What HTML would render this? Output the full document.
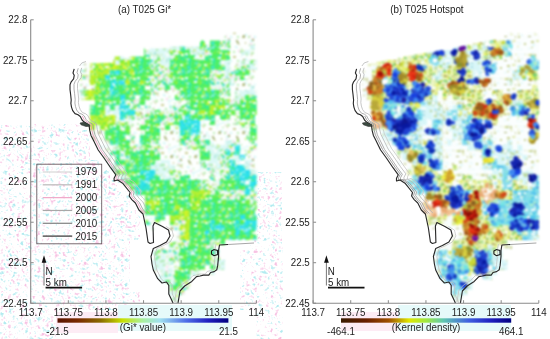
<!DOCTYPE html>
<html><head><meta charset="utf-8"><style>
html,body{margin:0;padding:0;background:#fff;width:550px;height:339px;overflow:hidden}
svg{display:block}
text{font-family:"Liberation Sans",sans-serif;font-size:9.8px;fill:#222}
</style></head><body>
<svg width="550" height="339" viewBox="0 0 550 339">
<defs><pattern id="L46" width="24" height="24" patternUnits="userSpaceOnUse"><rect width="24" height="24" fill="#fdfffe"/><rect x="2" y="12" width="1" height="2" fill="#c8cc90"/><rect x="20" y="16" width="2" height="2" fill="#a8b478"/><rect x="1" y="0" width="1" height="2" fill="#b8ecb0"/><rect x="0" y="4" width="2" height="2" fill="#d0f6f6"/><rect x="22" y="2" width="3" height="2" fill="#f8d8ea"/><rect x="11" y="4" width="3" height="2" fill="#b8ecb0"/><rect x="14" y="23" width="1" height="2" fill="#c8cc90"/><rect x="10" y="16" width="3" height="2" fill="#d0f6f6"/><rect x="4" y="3" width="2" height="1" fill="#d0f6f6"/><rect x="14" y="12" width="2" height="2" fill="#d0f6f6"/><rect x="11" y="6" width="1" height="2" fill="#c8cc90"/><rect x="19" y="22" width="2" height="1" fill="#d0f6f6"/><rect x="3" y="11" width="2" height="2" fill="#a8b478"/><rect x="21" y="18" width="2" height="2" fill="#a8b478"/><rect x="6" y="2" width="3" height="1" fill="#d0f6f6"/><rect x="5" y="18" width="1" height="2" fill="#c8cc90"/><rect x="9" y="12" width="1" height="2" fill="#b8ecb0"/><rect x="6" y="7" width="2" height="1" fill="#b8ecb0"/><rect x="12" y="14" width="2" height="1" fill="#f8d8ea"/><rect x="17" y="8" width="3" height="2" fill="#c8cc90"/><rect x="12" y="21" width="2" height="2" fill="#c8cc90"/><rect x="12" y="1" width="1" height="1" fill="#c8cc90"/><rect x="3" y="12" width="2" height="2" fill="#a8b478"/><rect x="10" y="1" width="3" height="1" fill="#d0f6f6"/><rect x="12" y="15" width="2" height="2" fill="#a8b478"/><rect x="1" y="7" width="1" height="2" fill="#d0f6f6"/><rect x="21" y="12" width="2" height="2" fill="#b8ecb0"/><rect x="19" y="23" width="3" height="1" fill="#d0f6f6"/><rect x="9" y="20" width="3" height="2" fill="#b8ecb0"/><rect x="2" y="4" width="2" height="1" fill="#d0f6f6"/><rect x="9" y="5" width="1" height="1" fill="#a8b478"/><rect x="23" y="20" width="3" height="1" fill="#c8cc90"/><rect x="17" y="3" width="2" height="2" fill="#b8ecb0"/><rect x="13" y="20" width="2" height="1" fill="#b8ecb0"/><rect x="10" y="19" width="2" height="2" fill="#f8d8ea"/><rect x="8" y="12" width="2" height="2" fill="#b8ecb0"/><rect x="5" y="10" width="2" height="2" fill="#d0f6f6"/><rect x="10" y="11" width="1" height="2" fill="#f8d8ea"/></pattern><pattern id="L99" width="24" height="24" patternUnits="userSpaceOnUse"><rect width="24" height="24" fill="#dcf8f6"/><rect x="12" y="12" width="2" height="2" fill="#b0eab0"/><rect x="7" y="7" width="2" height="1" fill="#d0eea8"/><rect x="23" y="12" width="1" height="2" fill="#ffffff"/><rect x="6" y="13" width="2" height="2" fill="#ffffff"/><rect x="21" y="6" width="2" height="2" fill="#a8e4d8"/><rect x="5" y="18" width="2" height="1" fill="#a8e4d8"/><rect x="16" y="21" width="1" height="2" fill="#d0eea8"/><rect x="12" y="1" width="2" height="2" fill="#b0eab0"/><rect x="13" y="6" width="2" height="2" fill="#b0eab0"/><rect x="14" y="16" width="2" height="2" fill="#ffffff"/><rect x="1" y="11" width="2" height="1" fill="#a8e4d8"/><rect x="5" y="23" width="3" height="2" fill="#b0eab0"/><rect x="16" y="21" width="2" height="1" fill="#b0eab0"/><rect x="0" y="5" width="3" height="2" fill="#ffffff"/><rect x="2" y="13" width="1" height="1" fill="#d0eea8"/><rect x="19" y="0" width="3" height="2" fill="#b0eab0"/><rect x="16" y="12" width="2" height="1" fill="#a8e4d8"/><rect x="6" y="14" width="2" height="2" fill="#ffffff"/><rect x="4" y="11" width="3" height="1" fill="#b0eab0"/><rect x="23" y="22" width="2" height="2" fill="#ffffff"/><rect x="3" y="3" width="1" height="1" fill="#d0eea8"/><rect x="5" y="5" width="3" height="1" fill="#b0eab0"/><rect x="17" y="10" width="3" height="1" fill="#d0eea8"/><rect x="3" y="11" width="2" height="2" fill="#b0eab0"/><rect x="16" y="9" width="1" height="2" fill="#b0eab0"/><rect x="10" y="6" width="3" height="2" fill="#d0eea8"/><rect x="12" y="12" width="3" height="2" fill="#ffffff"/><rect x="2" y="5" width="1" height="2" fill="#a8e4d8"/><rect x="12" y="14" width="2" height="2" fill="#a8e4d8"/><rect x="7" y="20" width="2" height="1" fill="#a8e4d8"/><rect x="23" y="10" width="2" height="2" fill="#a8e4d8"/><rect x="22" y="7" width="3" height="2" fill="#ffffff"/><rect x="2" y="14" width="3" height="2" fill="#b0eab0"/><rect x="16" y="9" width="2" height="2" fill="#ffffff"/><rect x="4" y="8" width="3" height="2" fill="#ffffff"/><rect x="21" y="19" width="2" height="2" fill="#ffffff"/><rect x="21" y="21" width="3" height="1" fill="#ffffff"/><rect x="10" y="6" width="2" height="1" fill="#a8e4d8"/><rect x="11" y="22" width="2" height="1" fill="#a8e4d8"/><rect x="21" y="5" width="2" height="2" fill="#ffffff"/><rect x="23" y="22" width="2" height="2" fill="#d0eea8"/><rect x="21" y="12" width="1" height="1" fill="#ffffff"/><rect x="17" y="6" width="1" height="2" fill="#d0eea8"/><rect x="21" y="23" width="2" height="2" fill="#ffffff"/><rect x="6" y="8" width="3" height="2" fill="#ffffff"/><rect x="16" y="20" width="2" height="1" fill="#a8e4d8"/><rect x="0" y="3" width="2" height="1" fill="#ffffff"/><rect x="1" y="1" width="3" height="2" fill="#d0eea8"/><rect x="17" y="20" width="2" height="1" fill="#b0eab0"/><rect x="12" y="12" width="2" height="2" fill="#ffffff"/><rect x="10" y="4" width="2" height="2" fill="#a8e4d8"/><rect x="22" y="12" width="3" height="2" fill="#a8e4d8"/><rect x="5" y="11" width="2" height="1" fill="#d0eea8"/><rect x="14" y="18" width="3" height="1" fill="#ffffff"/><rect x="18" y="20" width="3" height="2" fill="#b0eab0"/><rect x="2" y="17" width="2" height="2" fill="#ffffff"/><rect x="0" y="3" width="2" height="2" fill="#b0eab0"/></pattern><pattern id="L109" width="24" height="24" patternUnits="userSpaceOnUse"><rect width="24" height="24" fill="#eaf8f2"/><rect x="8" y="7" width="3" height="2" fill="#ffffff"/><rect x="1" y="3" width="2" height="2" fill="#ffffff"/><rect x="9" y="18" width="1" height="1" fill="#ffffff"/><rect x="16" y="8" width="3" height="2" fill="#58ec68"/><rect x="9" y="23" width="2" height="1" fill="#ffffff"/><rect x="5" y="20" width="1" height="2" fill="#40e0c8"/><rect x="19" y="6" width="2" height="2" fill="#58ec68"/><rect x="12" y="21" width="3" height="1" fill="#40e0c8"/><rect x="11" y="4" width="2" height="1" fill="#58ec68"/><rect x="12" y="12" width="3" height="1" fill="#b0f040"/><rect x="22" y="6" width="3" height="2" fill="#f6d4e6"/><rect x="20" y="3" width="1" height="2" fill="#ffffff"/><rect x="11" y="18" width="3" height="1" fill="#58ec68"/><rect x="13" y="2" width="3" height="2" fill="#b0f040"/><rect x="11" y="12" width="2" height="2" fill="#b0f040"/><rect x="15" y="0" width="3" height="2" fill="#40e0c8"/><rect x="9" y="18" width="2" height="2" fill="#f6d4e6"/><rect x="22" y="20" width="1" height="2" fill="#58ec68"/><rect x="2" y="18" width="2" height="1" fill="#b0f040"/><rect x="11" y="18" width="2" height="2" fill="#58ec68"/><rect x="8" y="19" width="2" height="2" fill="#40e0c8"/><rect x="14" y="16" width="3" height="2" fill="#b0f040"/><rect x="3" y="23" width="2" height="2" fill="#40e0c8"/><rect x="21" y="2" width="1" height="1" fill="#58ec68"/><rect x="6" y="23" width="2" height="2" fill="#ffffff"/><rect x="22" y="3" width="1" height="1" fill="#58ec68"/><rect x="19" y="12" width="2" height="1" fill="#58ec68"/><rect x="5" y="3" width="2" height="1" fill="#ffffff"/><rect x="12" y="21" width="2" height="2" fill="#58ec68"/><rect x="21" y="8" width="2" height="1" fill="#58ec68"/><rect x="2" y="10" width="1" height="1" fill="#40e0c8"/><rect x="6" y="21" width="1" height="2" fill="#b0f040"/><rect x="8" y="7" width="2" height="2" fill="#b0f040"/><rect x="23" y="1" width="2" height="2" fill="#b0f040"/><rect x="7" y="15" width="1" height="2" fill="#58ec68"/><rect x="4" y="18" width="2" height="2" fill="#b0f040"/><rect x="12" y="20" width="1" height="1" fill="#58ec68"/><rect x="3" y="16" width="2" height="2" fill="#f6d4e6"/><rect x="18" y="23" width="2" height="2" fill="#58ec68"/><rect x="10" y="14" width="3" height="1" fill="#58ec68"/><rect x="10" y="16" width="1" height="1" fill="#40e0c8"/><rect x="23" y="16" width="2" height="1" fill="#b0f040"/><rect x="19" y="0" width="1" height="1" fill="#b0f040"/><rect x="6" y="10" width="2" height="1" fill="#f6d4e6"/><rect x="18" y="3" width="3" height="2" fill="#58ec68"/><rect x="0" y="13" width="1" height="1" fill="#ffffff"/><rect x="9" y="22" width="2" height="1" fill="#40e0c8"/><rect x="21" y="12" width="1" height="1" fill="#40e0c8"/><rect x="12" y="23" width="2" height="2" fill="#58ec68"/><rect x="2" y="5" width="2" height="2" fill="#58ec68"/><rect x="8" y="18" width="3" height="1" fill="#ffffff"/><rect x="17" y="21" width="2" height="2" fill="#f6d4e6"/><rect x="19" y="10" width="3" height="2" fill="#40e0c8"/><rect x="13" y="16" width="2" height="2" fill="#40e0c8"/><rect x="21" y="20" width="1" height="2" fill="#b0f040"/><rect x="22" y="10" width="1" height="2" fill="#b0f040"/><rect x="2" y="18" width="1" height="1" fill="#58ec68"/><rect x="0" y="22" width="2" height="2" fill="#f6d4e6"/><rect x="17" y="18" width="3" height="2" fill="#b0f040"/><rect x="18" y="16" width="2" height="1" fill="#b0f040"/><rect x="11" y="5" width="2" height="2" fill="#40e0c8"/><rect x="3" y="3" width="3" height="2" fill="#58ec68"/><rect x="8" y="20" width="2" height="1" fill="#f6d4e6"/><rect x="6" y="20" width="1" height="1" fill="#58ec68"/><rect x="11" y="14" width="1" height="2" fill="#58ec68"/><rect x="0" y="3" width="2" height="2" fill="#b0f040"/><rect x="10" y="20" width="1" height="2" fill="#b0f040"/><rect x="21" y="12" width="3" height="2" fill="#ffffff"/><rect x="2" y="3" width="3" height="2" fill="#b0f040"/><rect x="23" y="21" width="3" height="2" fill="#f6d4e6"/><rect x="4" y="0" width="2" height="2" fill="#ffffff"/><rect x="3" y="19" width="2" height="2" fill="#f6d4e6"/><rect x="13" y="10" width="2" height="2" fill="#58ec68"/><rect x="21" y="12" width="3" height="1" fill="#40e0c8"/><rect x="7" y="17" width="2" height="2" fill="#58ec68"/><rect x="13" y="4" width="3" height="2" fill="#f6d4e6"/><rect x="15" y="8" width="2" height="1" fill="#f6d4e6"/><rect x="13" y="6" width="1" height="1" fill="#b0f040"/><rect x="4" y="6" width="2" height="1" fill="#58ec68"/><rect x="11" y="12" width="1" height="2" fill="#58ec68"/><rect x="1" y="10" width="2" height="2" fill="#40e0c8"/><rect x="7" y="2" width="1" height="2" fill="#b0f040"/><rect x="14" y="16" width="2" height="1" fill="#b0f040"/><rect x="5" y="10" width="2" height="2" fill="#58ec68"/><rect x="6" y="12" width="3" height="2" fill="#40e0c8"/><rect x="5" y="2" width="2" height="2" fill="#58ec68"/><rect x="18" y="9" width="2" height="2" fill="#40e0c8"/><rect x="14" y="11" width="2" height="2" fill="#b0f040"/><rect x="1" y="19" width="3" height="2" fill="#58ec68"/><rect x="10" y="2" width="3" height="1" fill="#ffffff"/><rect x="13" y="8" width="2" height="1" fill="#58ec68"/><rect x="13" y="11" width="1" height="2" fill="#40e0c8"/><rect x="20" y="20" width="1" height="2" fill="#ffffff"/><rect x="10" y="3" width="2" height="2" fill="#b0f040"/><rect x="18" y="3" width="2" height="2" fill="#f6d4e6"/><rect x="15" y="9" width="2" height="2" fill="#58ec68"/></pattern><pattern id="L121" width="24" height="24" patternUnits="userSpaceOnUse"><rect width="24" height="24" fill="#b8f030"/><rect x="2" y="6" width="3" height="2" fill="#80ee38"/><rect x="19" y="16" width="2" height="2" fill="#d8f428"/><rect x="5" y="20" width="3" height="1" fill="#ffffff"/><rect x="23" y="19" width="3" height="1" fill="#80ee38"/><rect x="15" y="13" width="2" height="2" fill="#ffffff"/><rect x="7" y="4" width="2" height="1" fill="#50ec60"/><rect x="3" y="10" width="2" height="2" fill="#50ec60"/><rect x="16" y="15" width="2" height="2" fill="#d8f428"/><rect x="3" y="13" width="1" height="1" fill="#d8f428"/><rect x="14" y="11" width="2" height="2" fill="#ffffff"/><rect x="19" y="0" width="2" height="1" fill="#d8f428"/><rect x="13" y="18" width="1" height="2" fill="#80ee38"/><rect x="6" y="22" width="2" height="1" fill="#d8f428"/><rect x="22" y="12" width="2" height="2" fill="#ffffff"/><rect x="19" y="20" width="1" height="1" fill="#80ee38"/><rect x="7" y="6" width="2" height="2" fill="#80ee38"/><rect x="0" y="11" width="3" height="2" fill="#50ec60"/><rect x="2" y="10" width="3" height="2" fill="#d8f428"/><rect x="8" y="19" width="2" height="2" fill="#50ec60"/><rect x="12" y="12" width="3" height="1" fill="#d8f428"/><rect x="13" y="23" width="3" height="2" fill="#d8f428"/><rect x="22" y="15" width="2" height="2" fill="#50ec60"/><rect x="12" y="3" width="1" height="2" fill="#80ee38"/><rect x="2" y="21" width="3" height="2" fill="#50ec60"/><rect x="9" y="5" width="2" height="1" fill="#d8f428"/><rect x="6" y="18" width="2" height="1" fill="#80ee38"/><rect x="20" y="2" width="1" height="2" fill="#d8f428"/><rect x="13" y="22" width="3" height="2" fill="#80ee38"/><rect x="11" y="6" width="2" height="1" fill="#80ee38"/><rect x="0" y="7" width="2" height="1" fill="#ffffff"/><rect x="17" y="20" width="2" height="2" fill="#d8f428"/><rect x="22" y="23" width="1" height="1" fill="#ffffff"/><rect x="17" y="18" width="3" height="2" fill="#d8f428"/><rect x="2" y="4" width="2" height="1" fill="#50ec60"/><rect x="16" y="5" width="2" height="2" fill="#ffffff"/><rect x="5" y="12" width="2" height="2" fill="#ffffff"/><rect x="2" y="10" width="2" height="2" fill="#80ee38"/><rect x="14" y="17" width="2" height="2" fill="#50ec60"/><rect x="14" y="4" width="1" height="2" fill="#d8f428"/><rect x="16" y="7" width="2" height="2" fill="#d8f428"/><rect x="17" y="8" width="1" height="2" fill="#80ee38"/><rect x="2" y="12" width="1" height="2" fill="#80ee38"/><rect x="23" y="0" width="2" height="1" fill="#e8f4a0"/><rect x="18" y="2" width="2" height="2" fill="#d8f428"/><rect x="13" y="21" width="1" height="1" fill="#ffffff"/><rect x="9" y="18" width="3" height="2" fill="#ffffff"/><rect x="13" y="5" width="2" height="2" fill="#50ec60"/><rect x="0" y="18" width="2" height="2" fill="#50ec60"/><rect x="7" y="5" width="2" height="2" fill="#80ee38"/><rect x="12" y="2" width="1" height="2" fill="#ffffff"/><rect x="8" y="2" width="2" height="2" fill="#80ee38"/><rect x="5" y="15" width="2" height="2" fill="#50ec60"/><rect x="19" y="1" width="2" height="2" fill="#50ec60"/><rect x="3" y="18" width="2" height="2" fill="#e8f4a0"/><rect x="16" y="16" width="1" height="1" fill="#d8f428"/><rect x="7" y="3" width="3" height="1" fill="#80ee38"/><rect x="4" y="20" width="1" height="2" fill="#d8f428"/><rect x="21" y="2" width="2" height="2" fill="#d8f428"/><rect x="16" y="13" width="2" height="1" fill="#e8f4a0"/><rect x="11" y="9" width="1" height="2" fill="#ffffff"/><rect x="7" y="22" width="2" height="1" fill="#80ee38"/><rect x="13" y="0" width="3" height="2" fill="#e8f4a0"/><rect x="15" y="12" width="2" height="2" fill="#e8f4a0"/><rect x="2" y="11" width="3" height="1" fill="#d8f428"/><rect x="13" y="14" width="1" height="2" fill="#80ee38"/><rect x="1" y="21" width="1" height="1" fill="#ffffff"/><rect x="17" y="22" width="2" height="2" fill="#d8f428"/><rect x="2" y="1" width="1" height="2" fill="#80ee38"/><rect x="0" y="2" width="1" height="2" fill="#e8f4a0"/><rect x="5" y="14" width="2" height="2" fill="#80ee38"/><rect x="18" y="20" width="1" height="2" fill="#d8f428"/><rect x="2" y="7" width="3" height="2" fill="#50ec60"/><rect x="11" y="19" width="3" height="1" fill="#ffffff"/><rect x="22" y="1" width="1" height="1" fill="#e8f4a0"/><rect x="16" y="16" width="2" height="2" fill="#80ee38"/><rect x="2" y="4" width="2" height="2" fill="#80ee38"/><rect x="6" y="17" width="1" height="1" fill="#ffffff"/><rect x="23" y="8" width="2" height="2" fill="#50ec60"/><rect x="13" y="11" width="2" height="1" fill="#d8f428"/><rect x="1" y="13" width="3" height="2" fill="#80ee38"/><rect x="8" y="23" width="1" height="1" fill="#d8f428"/><rect x="4" y="3" width="2" height="1" fill="#80ee38"/><rect x="19" y="15" width="3" height="1" fill="#d8f428"/><rect x="10" y="11" width="2" height="1" fill="#ffffff"/><rect x="12" y="7" width="2" height="2" fill="#50ec60"/><rect x="22" y="1" width="2" height="2" fill="#50ec60"/><rect x="0" y="21" width="1" height="2" fill="#d8f428"/><rect x="20" y="15" width="2" height="1" fill="#50ec60"/><rect x="21" y="2" width="2" height="2" fill="#d8f428"/><rect x="9" y="7" width="2" height="2" fill="#ffffff"/><rect x="10" y="17" width="1" height="1" fill="#80ee38"/><rect x="4" y="19" width="2" height="2" fill="#d8f428"/><rect x="20" y="1" width="1" height="2" fill="#ffffff"/><rect x="13" y="2" width="2" height="1" fill="#d8f428"/><rect x="22" y="6" width="1" height="2" fill="#80ee38"/><rect x="22" y="18" width="1" height="2" fill="#d8f428"/><rect x="12" y="18" width="2" height="2" fill="#e8f4a0"/><rect x="0" y="9" width="2" height="1" fill="#e8f4a0"/><rect x="0" y="14" width="2" height="1" fill="#80ee38"/><rect x="0" y="21" width="2" height="1" fill="#d8f428"/><rect x="16" y="3" width="3" height="2" fill="#80ee38"/><rect x="13" y="4" width="2" height="1" fill="#50ec60"/><rect x="1" y="6" width="2" height="1" fill="#80ee38"/><rect x="13" y="15" width="2" height="2" fill="#80ee38"/><rect x="7" y="5" width="2" height="2" fill="#d8f428"/><rect x="3" y="19" width="3" height="2" fill="#d8f428"/><rect x="12" y="11" width="2" height="1" fill="#d8f428"/><rect x="23" y="21" width="3" height="1" fill="#80ee38"/><rect x="17" y="18" width="3" height="1" fill="#d8f428"/><rect x="19" y="17" width="3" height="1" fill="#d8f428"/><rect x="22" y="3" width="2" height="1" fill="#80ee38"/><rect x="5" y="6" width="3" height="1" fill="#50ec60"/><rect x="21" y="18" width="2" height="1" fill="#80ee38"/><rect x="5" y="23" width="2" height="1" fill="#50ec60"/><rect x="22" y="22" width="2" height="1" fill="#50ec60"/></pattern><pattern id="L103" width="24" height="24" patternUnits="userSpaceOnUse"><rect width="24" height="24" fill="#4cf064"/><rect x="22" y="14" width="2" height="2" fill="#30ec98"/><rect x="19" y="23" width="1" height="2" fill="#40e4d8"/><rect x="14" y="10" width="1" height="2" fill="#30ec98"/><rect x="4" y="7" width="1" height="1" fill="#a0f038"/><rect x="3" y="22" width="2" height="2" fill="#40e4d8"/><rect x="9" y="5" width="3" height="2" fill="#c8f4b8"/><rect x="23" y="21" width="3" height="1" fill="#ffffff"/><rect x="21" y="18" width="2" height="1" fill="#a0f038"/><rect x="6" y="18" width="2" height="2" fill="#c8f4b8"/><rect x="16" y="15" width="2" height="2" fill="#a0f038"/><rect x="6" y="16" width="3" height="2" fill="#a0f038"/><rect x="22" y="16" width="2" height="1" fill="#40e4d8"/><rect x="4" y="4" width="3" height="2" fill="#a0f038"/><rect x="3" y="15" width="2" height="1" fill="#ffffff"/><rect x="21" y="22" width="1" height="2" fill="#40e4d8"/><rect x="21" y="3" width="1" height="2" fill="#40e4d8"/><rect x="9" y="0" width="3" height="2" fill="#c8f4b8"/><rect x="12" y="12" width="3" height="2" fill="#70f048"/><rect x="2" y="5" width="3" height="1" fill="#a0f038"/><rect x="20" y="9" width="1" height="2" fill="#a0f038"/><rect x="18" y="7" width="2" height="1" fill="#40e4d8"/><rect x="4" y="18" width="1" height="2" fill="#70f048"/><rect x="12" y="0" width="3" height="2" fill="#a0f038"/><rect x="2" y="17" width="2" height="2" fill="#30ec98"/><rect x="10" y="8" width="2" height="2" fill="#30ec98"/><rect x="14" y="9" width="3" height="1" fill="#30ec98"/><rect x="8" y="11" width="1" height="2" fill="#c8f4b8"/><rect x="20" y="21" width="3" height="2" fill="#30ec98"/><rect x="10" y="20" width="1" height="1" fill="#c8f4b8"/><rect x="12" y="20" width="2" height="2" fill="#40e4d8"/><rect x="9" y="9" width="2" height="2" fill="#a0f038"/><rect x="8" y="16" width="1" height="2" fill="#ffffff"/><rect x="19" y="14" width="2" height="2" fill="#30ec98"/><rect x="4" y="14" width="3" height="2" fill="#c8f4b8"/><rect x="17" y="21" width="1" height="1" fill="#40e4d8"/><rect x="0" y="10" width="2" height="1" fill="#c8f4b8"/><rect x="14" y="22" width="3" height="1" fill="#a0f038"/><rect x="21" y="0" width="1" height="2" fill="#30ec98"/><rect x="4" y="4" width="2" height="1" fill="#ffffff"/><rect x="17" y="8" width="2" height="2" fill="#40e4d8"/><rect x="2" y="9" width="3" height="2" fill="#ffffff"/><rect x="15" y="9" width="2" height="2" fill="#70f048"/><rect x="20" y="18" width="3" height="2" fill="#c8f4b8"/><rect x="7" y="10" width="1" height="2" fill="#a0f038"/><rect x="21" y="19" width="2" height="1" fill="#40e4d8"/><rect x="14" y="12" width="1" height="2" fill="#a0f038"/><rect x="15" y="0" width="2" height="1" fill="#40e4d8"/><rect x="3" y="19" width="2" height="2" fill="#a0f038"/><rect x="11" y="21" width="3" height="2" fill="#a0f038"/><rect x="3" y="3" width="1" height="2" fill="#a0f038"/><rect x="14" y="22" width="2" height="1" fill="#40e4d8"/><rect x="10" y="10" width="2" height="1" fill="#40e4d8"/><rect x="12" y="3" width="2" height="2" fill="#a0f038"/><rect x="5" y="23" width="3" height="2" fill="#70f048"/><rect x="23" y="16" width="2" height="2" fill="#70f048"/><rect x="17" y="20" width="2" height="1" fill="#70f048"/><rect x="4" y="15" width="2" height="2" fill="#30ec98"/><rect x="8" y="20" width="2" height="2" fill="#30ec98"/><rect x="8" y="11" width="1" height="2" fill="#a0f038"/><rect x="22" y="17" width="1" height="2" fill="#30ec98"/><rect x="14" y="17" width="2" height="2" fill="#a0f038"/><rect x="0" y="10" width="2" height="1" fill="#a0f038"/><rect x="23" y="0" width="2" height="2" fill="#70f048"/><rect x="4" y="6" width="3" height="2" fill="#40e4d8"/><rect x="6" y="6" width="2" height="2" fill="#a0f038"/><rect x="21" y="23" width="3" height="2" fill="#30ec98"/><rect x="5" y="9" width="3" height="1" fill="#a0f038"/><rect x="17" y="5" width="3" height="2" fill="#ffffff"/><rect x="20" y="23" width="2" height="2" fill="#ffffff"/><rect x="8" y="23" width="2" height="2" fill="#a0f038"/><rect x="7" y="19" width="1" height="2" fill="#40e4d8"/><rect x="19" y="18" width="3" height="2" fill="#40e4d8"/><rect x="10" y="2" width="2" height="1" fill="#70f048"/><rect x="3" y="0" width="2" height="2" fill="#a0f038"/><rect x="12" y="4" width="2" height="1" fill="#a0f038"/><rect x="23" y="14" width="1" height="1" fill="#a0f038"/><rect x="2" y="23" width="3" height="1" fill="#ffffff"/><rect x="7" y="3" width="1" height="2" fill="#40e4d8"/><rect x="13" y="11" width="3" height="2" fill="#30ec98"/><rect x="19" y="0" width="3" height="1" fill="#40e4d8"/><rect x="20" y="20" width="1" height="2" fill="#40e4d8"/><rect x="20" y="11" width="2" height="2" fill="#40e4d8"/><rect x="12" y="5" width="3" height="2" fill="#a0f038"/><rect x="23" y="22" width="1" height="2" fill="#30ec98"/><rect x="22" y="3" width="2" height="1" fill="#70f048"/><rect x="18" y="0" width="1" height="2" fill="#c8f4b8"/><rect x="15" y="9" width="1" height="2" fill="#40e4d8"/><rect x="11" y="1" width="3" height="2" fill="#40e4d8"/><rect x="23" y="21" width="2" height="1" fill="#ffffff"/><rect x="10" y="23" width="2" height="1" fill="#ffffff"/><rect x="12" y="22" width="3" height="1" fill="#40e4d8"/><rect x="16" y="19" width="2" height="1" fill="#a0f038"/><rect x="23" y="12" width="2" height="1" fill="#a0f038"/><rect x="14" y="1" width="3" height="2" fill="#30ec98"/><rect x="20" y="9" width="2" height="1" fill="#70f048"/><rect x="21" y="4" width="3" height="2" fill="#70f048"/><rect x="13" y="23" width="3" height="2" fill="#ffffff"/><rect x="22" y="13" width="2" height="1" fill="#c8f4b8"/><rect x="15" y="21" width="2" height="1" fill="#c8f4b8"/><rect x="22" y="12" width="2" height="2" fill="#30ec98"/><rect x="19" y="14" width="3" height="2" fill="#ffffff"/><rect x="5" y="23" width="1" height="1" fill="#40e4d8"/><rect x="22" y="21" width="2" height="1" fill="#c8f4b8"/><rect x="22" y="11" width="1" height="2" fill="#30ec98"/><rect x="20" y="10" width="2" height="1" fill="#40e4d8"/><rect x="5" y="16" width="1" height="2" fill="#c8f4b8"/><rect x="12" y="16" width="3" height="2" fill="#ffffff"/><rect x="1" y="3" width="2" height="1" fill="#c8f4b8"/><rect x="5" y="2" width="1" height="1" fill="#40e4d8"/><rect x="13" y="18" width="1" height="2" fill="#30ec98"/><rect x="20" y="14" width="2" height="2" fill="#30ec98"/><rect x="11" y="19" width="2" height="2" fill="#a0f038"/><rect x="1" y="4" width="1" height="1" fill="#70f048"/><rect x="10" y="14" width="2" height="2" fill="#70f048"/><rect x="23" y="22" width="1" height="2" fill="#40e4d8"/><rect x="2" y="8" width="3" height="1" fill="#40e4d8"/><rect x="18" y="11" width="3" height="1" fill="#ffffff"/><rect x="13" y="6" width="3" height="2" fill="#ffffff"/><rect x="14" y="23" width="3" height="1" fill="#40e4d8"/><rect x="14" y="20" width="3" height="2" fill="#30ec98"/><rect x="4" y="4" width="2" height="2" fill="#ffffff"/><rect x="3" y="14" width="3" height="1" fill="#40e4d8"/><rect x="6" y="4" width="2" height="2" fill="#70f048"/><rect x="10" y="13" width="1" height="2" fill="#30ec98"/></pattern><pattern id="L67" width="24" height="24" patternUnits="userSpaceOnUse"><rect width="24" height="24" fill="#30e4e8"/><rect x="2" y="3" width="3" height="2" fill="#80eef0"/><rect x="8" y="19" width="3" height="2" fill="#ffffff"/><rect x="8" y="6" width="1" height="2" fill="#20d4f4"/><rect x="9" y="1" width="2" height="2" fill="#20d4f4"/><rect x="3" y="21" width="1" height="2" fill="#40ec98"/><rect x="7" y="12" width="1" height="2" fill="#ffffff"/><rect x="16" y="23" width="2" height="1" fill="#40ec98"/><rect x="16" y="0" width="3" height="2" fill="#40ec98"/><rect x="20" y="21" width="3" height="1" fill="#40ec98"/><rect x="5" y="13" width="1" height="2" fill="#80eef0"/><rect x="11" y="7" width="1" height="1" fill="#ffffff"/><rect x="0" y="5" width="2" height="2" fill="#ffffff"/><rect x="14" y="2" width="3" height="1" fill="#40ec98"/><rect x="18" y="15" width="2" height="2" fill="#40ec98"/><rect x="16" y="17" width="1" height="2" fill="#ffffff"/><rect x="20" y="13" width="2" height="2" fill="#20d4f4"/><rect x="22" y="12" width="1" height="2" fill="#80eef0"/><rect x="12" y="7" width="1" height="1" fill="#30e0c0"/><rect x="14" y="15" width="2" height="2" fill="#20d4f4"/><rect x="15" y="9" width="2" height="2" fill="#30e0c0"/><rect x="22" y="12" width="2" height="1" fill="#ffffff"/><rect x="3" y="8" width="1" height="2" fill="#ffffff"/><rect x="7" y="14" width="1" height="1" fill="#ffffff"/><rect x="9" y="9" width="2" height="2" fill="#20d4f4"/><rect x="14" y="19" width="1" height="2" fill="#ffffff"/><rect x="8" y="16" width="2" height="1" fill="#40ec98"/><rect x="5" y="4" width="3" height="1" fill="#80eef0"/><rect x="16" y="11" width="2" height="1" fill="#ffffff"/><rect x="11" y="21" width="1" height="2" fill="#40ec98"/><rect x="19" y="21" width="1" height="2" fill="#ffffff"/><rect x="6" y="3" width="2" height="2" fill="#20d4f4"/><rect x="3" y="17" width="1" height="2" fill="#40ec98"/><rect x="11" y="23" width="2" height="1" fill="#ffffff"/><rect x="3" y="14" width="3" height="2" fill="#ffffff"/><rect x="10" y="21" width="2" height="2" fill="#40ec98"/><rect x="17" y="18" width="2" height="2" fill="#20d4f4"/><rect x="5" y="23" width="2" height="2" fill="#20d4f4"/><rect x="0" y="17" width="2" height="2" fill="#30e0c0"/><rect x="2" y="11" width="2" height="2" fill="#20d4f4"/><rect x="18" y="15" width="1" height="2" fill="#40ec98"/><rect x="1" y="12" width="1" height="2" fill="#20d4f4"/><rect x="14" y="21" width="2" height="2" fill="#80eef0"/><rect x="6" y="17" width="2" height="2" fill="#40ec98"/><rect x="6" y="19" width="2" height="2" fill="#40ec98"/><rect x="18" y="14" width="2" height="2" fill="#20d4f4"/><rect x="3" y="10" width="1" height="1" fill="#20d4f4"/><rect x="7" y="10" width="3" height="1" fill="#30e0c0"/><rect x="17" y="4" width="3" height="2" fill="#30e0c0"/><rect x="22" y="7" width="2" height="2" fill="#40ec98"/><rect x="18" y="19" width="2" height="2" fill="#20d4f4"/><rect x="9" y="11" width="2" height="2" fill="#ffffff"/><rect x="1" y="13" width="2" height="1" fill="#80eef0"/><rect x="19" y="18" width="1" height="2" fill="#40ec98"/><rect x="12" y="9" width="1" height="1" fill="#20d4f4"/><rect x="17" y="12" width="2" height="2" fill="#ffffff"/><rect x="20" y="8" width="2" height="2" fill="#40ec98"/><rect x="17" y="17" width="2" height="2" fill="#30e0c0"/><rect x="22" y="12" width="1" height="1" fill="#30e0c0"/><rect x="6" y="11" width="2" height="1" fill="#30e0c0"/><rect x="1" y="14" width="1" height="2" fill="#20d4f4"/><rect x="22" y="18" width="2" height="2" fill="#20d4f4"/><rect x="0" y="8" width="2" height="2" fill="#20d4f4"/><rect x="0" y="16" width="2" height="2" fill="#20d4f4"/><rect x="1" y="9" width="3" height="1" fill="#80eef0"/><rect x="10" y="7" width="2" height="2" fill="#ffffff"/><rect x="18" y="4" width="2" height="2" fill="#80eef0"/><rect x="1" y="0" width="1" height="2" fill="#20d4f4"/><rect x="1" y="7" width="1" height="2" fill="#20d4f4"/><rect x="6" y="20" width="3" height="1" fill="#20d4f4"/><rect x="23" y="4" width="3" height="2" fill="#40ec98"/><rect x="22" y="6" width="3" height="1" fill="#20d4f4"/><rect x="19" y="14" width="2" height="1" fill="#40ec98"/><rect x="20" y="9" width="1" height="1" fill="#ffffff"/><rect x="16" y="2" width="1" height="1" fill="#ffffff"/><rect x="15" y="3" width="1" height="2" fill="#20d4f4"/><rect x="2" y="12" width="2" height="2" fill="#80eef0"/><rect x="20" y="1" width="2" height="2" fill="#80eef0"/><rect x="17" y="19" width="2" height="1" fill="#40ec98"/><rect x="0" y="11" width="3" height="1" fill="#20d4f4"/><rect x="18" y="7" width="1" height="2" fill="#20d4f4"/><rect x="8" y="8" width="3" height="1" fill="#20d4f4"/><rect x="14" y="21" width="2" height="2" fill="#80eef0"/><rect x="9" y="8" width="3" height="2" fill="#40ec98"/><rect x="13" y="21" width="1" height="1" fill="#ffffff"/><rect x="1" y="13" width="2" height="2" fill="#ffffff"/><rect x="4" y="13" width="1" height="2" fill="#20d4f4"/><rect x="23" y="18" width="3" height="2" fill="#40ec98"/><rect x="3" y="22" width="3" height="1" fill="#ffffff"/><rect x="18" y="6" width="3" height="1" fill="#40ec98"/><rect x="23" y="6" width="2" height="1" fill="#20d4f4"/><rect x="22" y="21" width="2" height="2" fill="#20d4f4"/><rect x="19" y="4" width="2" height="1" fill="#20d4f4"/><rect x="0" y="6" width="2" height="1" fill="#40ec98"/><rect x="13" y="12" width="2" height="1" fill="#40ec98"/><rect x="3" y="15" width="1" height="1" fill="#40ec98"/><rect x="5" y="10" width="2" height="2" fill="#30e0c0"/><rect x="17" y="15" width="3" height="2" fill="#40ec98"/><rect x="5" y="12" width="3" height="1" fill="#80eef0"/><rect x="2" y="20" width="2" height="1" fill="#40ec98"/><rect x="16" y="8" width="1" height="1" fill="#40ec98"/><rect x="21" y="13" width="1" height="1" fill="#30e0c0"/><rect x="21" y="10" width="2" height="2" fill="#40ec98"/><rect x="0" y="6" width="1" height="2" fill="#ffffff"/><rect x="10" y="12" width="2" height="2" fill="#80eef0"/><rect x="11" y="19" width="2" height="2" fill="#40ec98"/><rect x="10" y="1" width="2" height="2" fill="#20d4f4"/><rect x="11" y="11" width="3" height="2" fill="#40ec98"/><rect x="8" y="16" width="1" height="2" fill="#40ec98"/><rect x="3" y="1" width="1" height="2" fill="#20d4f4"/><rect x="2" y="14" width="1" height="2" fill="#40ec98"/><rect x="13" y="2" width="2" height="1" fill="#20d4f4"/><rect x="15" y="22" width="2" height="2" fill="#40ec98"/><rect x="23" y="8" width="2" height="2" fill="#80eef0"/><rect x="8" y="10" width="2" height="1" fill="#40ec98"/><rect x="10" y="21" width="1" height="2" fill="#30e0c0"/></pattern><pattern id="R46" width="24" height="24" patternUnits="userSpaceOnUse"><rect width="24" height="24" fill="#fbfefe"/><rect x="14" y="19" width="3" height="1" fill="#e0f8f8"/><rect x="11" y="6" width="2" height="1" fill="#e0e8b0"/><rect x="2" y="8" width="2" height="1" fill="#e0f8f8"/><rect x="17" y="10" width="2" height="2" fill="#e0f8f8"/><rect x="6" y="7" width="2" height="2" fill="#c8d090"/><rect x="13" y="0" width="1" height="2" fill="#e0f8f8"/><rect x="4" y="20" width="2" height="2" fill="#c8d090"/><rect x="4" y="20" width="3" height="2" fill="#e0f8f8"/><rect x="14" y="17" width="1" height="1" fill="#e0f8f8"/><rect x="14" y="6" width="2" height="1" fill="#e0f8f8"/><rect x="8" y="16" width="3" height="2" fill="#e0e8b0"/><rect x="13" y="22" width="2" height="1" fill="#e0e8b0"/><rect x="16" y="1" width="2" height="1" fill="#e0f8f8"/><rect x="0" y="6" width="3" height="2" fill="#e0e8b0"/><rect x="11" y="12" width="1" height="2" fill="#c8d090"/><rect x="6" y="6" width="2" height="2" fill="#c8d090"/><rect x="3" y="23" width="2" height="1" fill="#c8d090"/><rect x="11" y="16" width="1" height="1" fill="#e0e8b0"/><rect x="3" y="17" width="3" height="2" fill="#c8d090"/><rect x="12" y="19" width="1" height="1" fill="#e0f8f8"/><rect x="2" y="6" width="3" height="2" fill="#c8d090"/><rect x="0" y="12" width="3" height="1" fill="#b0b878"/><rect x="14" y="9" width="1" height="2" fill="#e0e8b0"/><rect x="0" y="0" width="3" height="1" fill="#e0f8f8"/><rect x="18" y="6" width="2" height="1" fill="#e0f8f8"/><rect x="21" y="6" width="1" height="1" fill="#c8d090"/><rect x="4" y="4" width="2" height="1" fill="#e0f8f8"/><rect x="14" y="12" width="2" height="2" fill="#c8d090"/><rect x="6" y="10" width="3" height="1" fill="#e0e8b0"/><rect x="20" y="19" width="2" height="2" fill="#c8d090"/></pattern><pattern id="R99" width="24" height="24" patternUnits="userSpaceOnUse"><rect width="24" height="24" fill="#d8f6f8"/><rect x="12" y="7" width="2" height="2" fill="#d0d088"/><rect x="22" y="5" width="3" height="2" fill="#b8d498"/><rect x="1" y="17" width="1" height="2" fill="#ffffff"/><rect x="13" y="12" width="2" height="2" fill="#ffffff"/><rect x="5" y="17" width="2" height="2" fill="#a8dce4"/><rect x="6" y="8" width="2" height="2" fill="#b8d498"/><rect x="15" y="14" width="2" height="2" fill="#a8dce4"/><rect x="3" y="16" width="2" height="1" fill="#b8d498"/><rect x="0" y="10" width="2" height="1" fill="#ffffff"/><rect x="4" y="10" width="2" height="2" fill="#ffffff"/><rect x="10" y="20" width="3" height="1" fill="#d0d088"/><rect x="1" y="6" width="3" height="2" fill="#b8d498"/><rect x="9" y="0" width="1" height="1" fill="#ffffff"/><rect x="1" y="21" width="1" height="2" fill="#ffffff"/><rect x="0" y="0" width="1" height="2" fill="#a8dce4"/><rect x="11" y="22" width="2" height="2" fill="#d0d088"/><rect x="19" y="2" width="2" height="2" fill="#ffffff"/><rect x="22" y="14" width="2" height="2" fill="#b8d498"/><rect x="2" y="19" width="3" height="2" fill="#b8d498"/><rect x="0" y="6" width="3" height="2" fill="#ffffff"/><rect x="10" y="0" width="1" height="1" fill="#b8d498"/><rect x="0" y="18" width="3" height="1" fill="#ffffff"/><rect x="21" y="7" width="2" height="2" fill="#b8d498"/><rect x="8" y="9" width="2" height="2" fill="#d0d088"/><rect x="6" y="6" width="1" height="1" fill="#a8dce4"/><rect x="2" y="23" width="1" height="2" fill="#a8dce4"/><rect x="18" y="23" width="3" height="2" fill="#ffffff"/><rect x="2" y="14" width="2" height="2" fill="#ffffff"/><rect x="4" y="23" width="2" height="2" fill="#a8dce4"/><rect x="10" y="3" width="1" height="2" fill="#b8d498"/><rect x="10" y="6" width="1" height="2" fill="#a8dce4"/><rect x="16" y="7" width="2" height="2" fill="#ffffff"/><rect x="6" y="23" width="2" height="2" fill="#d0d088"/><rect x="12" y="14" width="1" height="2" fill="#ffffff"/><rect x="6" y="13" width="1" height="2" fill="#a8dce4"/><rect x="20" y="8" width="2" height="1" fill="#b8d498"/><rect x="8" y="9" width="3" height="2" fill="#b8d498"/><rect x="15" y="12" width="3" height="2" fill="#ffffff"/><rect x="12" y="23" width="2" height="1" fill="#b8d498"/><rect x="8" y="3" width="2" height="1" fill="#a8dce4"/><rect x="3" y="16" width="2" height="1" fill="#d0d088"/><rect x="1" y="22" width="1" height="1" fill="#ffffff"/><rect x="9" y="0" width="3" height="1" fill="#a8dce4"/><rect x="19" y="5" width="2" height="2" fill="#b8d498"/><rect x="11" y="15" width="2" height="2" fill="#b8d498"/><rect x="15" y="18" width="2" height="2" fill="#a8dce4"/><rect x="16" y="8" width="2" height="1" fill="#ffffff"/><rect x="4" y="5" width="2" height="2" fill="#a8dce4"/><rect x="20" y="1" width="2" height="2" fill="#ffffff"/><rect x="8" y="18" width="2" height="2" fill="#d0d088"/><rect x="0" y="9" width="2" height="1" fill="#b8d498"/><rect x="1" y="13" width="2" height="2" fill="#ffffff"/><rect x="6" y="12" width="2" height="2" fill="#b8d498"/><rect x="0" y="2" width="3" height="1" fill="#ffffff"/><rect x="2" y="13" width="3" height="2" fill="#a8dce4"/><rect x="20" y="6" width="3" height="2" fill="#b8d498"/><rect x="9" y="2" width="1" height="2" fill="#d0d088"/></pattern><pattern id="R67" width="24" height="24" patternUnits="userSpaceOnUse"><rect width="24" height="24" fill="#88dcec"/><rect x="0" y="9" width="3" height="1" fill="#70e4e4"/><rect x="21" y="17" width="2" height="2" fill="#ffffff"/><rect x="16" y="4" width="2" height="1" fill="#ffffff"/><rect x="9" y="14" width="2" height="2" fill="#50c0ec"/><rect x="18" y="1" width="3" height="2" fill="#50c0ec"/><rect x="21" y="2" width="3" height="1" fill="#b0ecc8"/><rect x="7" y="20" width="3" height="2" fill="#70e4e4"/><rect x="3" y="6" width="2" height="2" fill="#b0ecc8"/><rect x="5" y="4" width="3" height="2" fill="#70e4e4"/><rect x="14" y="23" width="2" height="1" fill="#50c0ec"/><rect x="10" y="21" width="3" height="2" fill="#50c0ec"/><rect x="23" y="12" width="2" height="1" fill="#50c0ec"/><rect x="2" y="21" width="2" height="1" fill="#50c0ec"/><rect x="4" y="17" width="2" height="1" fill="#50c0ec"/><rect x="16" y="10" width="2" height="2" fill="#b0ecc8"/><rect x="7" y="13" width="1" height="2" fill="#ffffff"/><rect x="10" y="16" width="1" height="2" fill="#ffffff"/><rect x="17" y="21" width="2" height="2" fill="#50c0ec"/><rect x="8" y="19" width="1" height="1" fill="#4090e0"/><rect x="18" y="8" width="1" height="2" fill="#70e4e4"/><rect x="9" y="19" width="2" height="2" fill="#4090e0"/><rect x="17" y="7" width="2" height="1" fill="#ffffff"/><rect x="6" y="11" width="3" height="1" fill="#50c0ec"/><rect x="14" y="1" width="2" height="2" fill="#b0ecc8"/><rect x="13" y="18" width="3" height="2" fill="#50c0ec"/><rect x="10" y="20" width="2" height="2" fill="#b0ecc8"/><rect x="20" y="1" width="2" height="2" fill="#50c0ec"/><rect x="14" y="0" width="2" height="2" fill="#ffffff"/><rect x="18" y="11" width="1" height="2" fill="#4090e0"/><rect x="14" y="1" width="2" height="1" fill="#ffffff"/><rect x="6" y="16" width="3" height="1" fill="#b0ecc8"/><rect x="8" y="17" width="3" height="1" fill="#4090e0"/><rect x="20" y="1" width="3" height="1" fill="#ffffff"/><rect x="14" y="22" width="2" height="2" fill="#70e4e4"/><rect x="3" y="17" width="3" height="2" fill="#ffffff"/><rect x="18" y="4" width="1" height="2" fill="#70e4e4"/><rect x="10" y="1" width="1" height="2" fill="#4090e0"/><rect x="19" y="1" width="1" height="1" fill="#ffffff"/><rect x="15" y="13" width="2" height="2" fill="#ffffff"/><rect x="18" y="9" width="1" height="2" fill="#ffffff"/><rect x="21" y="1" width="2" height="2" fill="#70e4e4"/><rect x="9" y="10" width="2" height="2" fill="#70e4e4"/><rect x="18" y="22" width="2" height="2" fill="#50c0ec"/><rect x="2" y="21" width="3" height="1" fill="#b0ecc8"/><rect x="10" y="16" width="3" height="2" fill="#ffffff"/><rect x="23" y="17" width="2" height="2" fill="#50c0ec"/><rect x="2" y="3" width="2" height="1" fill="#70e4e4"/><rect x="9" y="1" width="2" height="2" fill="#b0ecc8"/><rect x="8" y="12" width="1" height="2" fill="#4090e0"/><rect x="17" y="15" width="2" height="2" fill="#ffffff"/><rect x="0" y="6" width="2" height="2" fill="#70e4e4"/><rect x="20" y="0" width="2" height="2" fill="#ffffff"/><rect x="20" y="22" width="3" height="2" fill="#50c0ec"/><rect x="4" y="20" width="3" height="1" fill="#50c0ec"/><rect x="12" y="22" width="2" height="2" fill="#70e4e4"/><rect x="2" y="21" width="2" height="1" fill="#ffffff"/><rect x="10" y="10" width="2" height="2" fill="#ffffff"/><rect x="5" y="10" width="3" height="2" fill="#b0ecc8"/><rect x="4" y="5" width="1" height="2" fill="#50c0ec"/><rect x="7" y="15" width="2" height="1" fill="#50c0ec"/><rect x="12" y="22" width="1" height="1" fill="#4090e0"/><rect x="14" y="1" width="3" height="2" fill="#ffffff"/><rect x="17" y="17" width="2" height="2" fill="#70e4e4"/><rect x="3" y="9" width="2" height="2" fill="#50c0ec"/><rect x="3" y="5" width="3" height="2" fill="#50c0ec"/><rect x="21" y="17" width="3" height="2" fill="#ffffff"/><rect x="21" y="11" width="2" height="2" fill="#50c0ec"/><rect x="2" y="12" width="3" height="2" fill="#b0ecc8"/><rect x="16" y="7" width="2" height="2" fill="#ffffff"/><rect x="19" y="4" width="2" height="1" fill="#4090e0"/><rect x="19" y="6" width="2" height="2" fill="#70e4e4"/><rect x="2" y="9" width="2" height="1" fill="#4090e0"/><rect x="11" y="18" width="2" height="1" fill="#50c0ec"/><rect x="6" y="12" width="2" height="1" fill="#4090e0"/><rect x="18" y="20" width="3" height="1" fill="#70e4e4"/><rect x="6" y="15" width="1" height="2" fill="#b0ecc8"/><rect x="7" y="4" width="2" height="2" fill="#ffffff"/><rect x="16" y="7" width="1" height="2" fill="#50c0ec"/><rect x="4" y="22" width="3" height="2" fill="#70e4e4"/><rect x="1" y="10" width="2" height="2" fill="#70e4e4"/><rect x="10" y="0" width="3" height="2" fill="#50c0ec"/><rect x="5" y="0" width="3" height="2" fill="#50c0ec"/><rect x="17" y="9" width="1" height="2" fill="#4090e0"/><rect x="10" y="15" width="2" height="1" fill="#50c0ec"/><rect x="9" y="10" width="3" height="1" fill="#70e4e4"/><rect x="19" y="0" width="1" height="2" fill="#b0ecc8"/><rect x="6" y="1" width="2" height="2" fill="#50c0ec"/><rect x="6" y="16" width="2" height="2" fill="#ffffff"/><rect x="15" y="9" width="1" height="1" fill="#ffffff"/><rect x="16" y="4" width="3" height="2" fill="#ffffff"/><rect x="2" y="4" width="2" height="1" fill="#b0ecc8"/><rect x="3" y="0" width="2" height="2" fill="#50c0ec"/><rect x="11" y="2" width="3" height="2" fill="#b0ecc8"/><rect x="9" y="16" width="3" height="2" fill="#70e4e4"/><rect x="17" y="3" width="3" height="2" fill="#b0ecc8"/><rect x="16" y="3" width="3" height="1" fill="#50c0ec"/><rect x="3" y="7" width="2" height="2" fill="#70e4e4"/><rect x="19" y="6" width="1" height="2" fill="#50c0ec"/><rect x="7" y="5" width="3" height="1" fill="#ffffff"/><rect x="23" y="23" width="2" height="1" fill="#50c0ec"/><rect x="12" y="17" width="2" height="2" fill="#70e4e4"/><rect x="20" y="6" width="2" height="2" fill="#70e4e4"/><rect x="19" y="19" width="1" height="1" fill="#70e4e4"/><rect x="13" y="3" width="2" height="2" fill="#50c0ec"/><rect x="5" y="21" width="2" height="2" fill="#50c0ec"/></pattern><pattern id="R103" width="24" height="24" patternUnits="userSpaceOnUse"><rect width="24" height="24" fill="#e6f2b0"/><rect x="12" y="21" width="3" height="2" fill="#ffffff"/><rect x="4" y="20" width="2" height="1" fill="#c8d838"/><rect x="4" y="12" width="3" height="2" fill="#e8f060"/><rect x="4" y="8" width="1" height="2" fill="#78d8c8"/><rect x="14" y="4" width="2" height="2" fill="#ffffff"/><rect x="16" y="22" width="2" height="2" fill="#c8d838"/><rect x="11" y="21" width="3" height="2" fill="#c8d838"/><rect x="18" y="15" width="1" height="1" fill="#a8a040"/><rect x="11" y="15" width="1" height="2" fill="#a8a040"/><rect x="6" y="1" width="2" height="2" fill="#c8d838"/><rect x="13" y="9" width="2" height="1" fill="#80d070"/><rect x="8" y="8" width="2" height="2" fill="#c8d838"/><rect x="5" y="9" width="3" height="1" fill="#80d070"/><rect x="9" y="15" width="2" height="2" fill="#80d070"/><rect x="23" y="6" width="2" height="2" fill="#a8a040"/><rect x="7" y="6" width="1" height="1" fill="#78d8c8"/><rect x="20" y="11" width="1" height="2" fill="#ffffff"/><rect x="7" y="8" width="1" height="1" fill="#ffffff"/><rect x="20" y="4" width="2" height="1" fill="#a8a040"/><rect x="23" y="6" width="2" height="2" fill="#a8a040"/><rect x="16" y="5" width="2" height="2" fill="#80d070"/><rect x="13" y="14" width="3" height="2" fill="#ffffff"/><rect x="10" y="9" width="2" height="1" fill="#80d070"/><rect x="12" y="23" width="3" height="2" fill="#a8a040"/><rect x="17" y="18" width="2" height="2" fill="#a8a040"/><rect x="16" y="9" width="2" height="2" fill="#c8d838"/><rect x="22" y="1" width="2" height="2" fill="#80d070"/><rect x="3" y="21" width="3" height="2" fill="#e8f060"/><rect x="6" y="6" width="3" height="2" fill="#80d070"/><rect x="15" y="12" width="1" height="1" fill="#e8f060"/><rect x="11" y="23" width="1" height="2" fill="#78d8c8"/><rect x="8" y="17" width="2" height="2" fill="#80d070"/><rect x="18" y="9" width="3" height="2" fill="#ffffff"/><rect x="23" y="2" width="1" height="2" fill="#a8a040"/><rect x="14" y="19" width="2" height="2" fill="#c8d838"/><rect x="15" y="9" width="2" height="2" fill="#80d070"/><rect x="20" y="7" width="2" height="2" fill="#c8d838"/><rect x="12" y="3" width="2" height="2" fill="#a8a040"/><rect x="5" y="17" width="1" height="1" fill="#a8a040"/><rect x="15" y="3" width="1" height="1" fill="#c8d838"/><rect x="4" y="5" width="3" height="2" fill="#e8f060"/><rect x="23" y="20" width="3" height="2" fill="#c8d838"/><rect x="21" y="0" width="1" height="2" fill="#e8f060"/><rect x="7" y="4" width="2" height="1" fill="#ffffff"/><rect x="6" y="21" width="3" height="2" fill="#80d070"/><rect x="8" y="7" width="1" height="1" fill="#a8a040"/><rect x="5" y="20" width="1" height="2" fill="#a8a040"/><rect x="4" y="23" width="2" height="2" fill="#ffffff"/><rect x="14" y="2" width="1" height="2" fill="#ffffff"/><rect x="6" y="6" width="3" height="2" fill="#80d070"/><rect x="12" y="22" width="2" height="2" fill="#80d070"/><rect x="12" y="0" width="2" height="2" fill="#e8f060"/><rect x="17" y="15" width="2" height="2" fill="#ffffff"/><rect x="18" y="9" width="2" height="2" fill="#e8f060"/><rect x="1" y="1" width="2" height="2" fill="#80d070"/><rect x="21" y="16" width="2" height="2" fill="#ffffff"/><rect x="16" y="9" width="3" height="2" fill="#ffffff"/><rect x="6" y="10" width="1" height="2" fill="#a8a040"/><rect x="13" y="23" width="2" height="1" fill="#c8d838"/><rect x="6" y="5" width="2" height="2" fill="#c8d838"/><rect x="18" y="6" width="1" height="2" fill="#80d070"/><rect x="17" y="8" width="3" height="1" fill="#78d8c8"/><rect x="23" y="7" width="3" height="1" fill="#78d8c8"/><rect x="9" y="12" width="1" height="2" fill="#e8f060"/><rect x="12" y="20" width="2" height="2" fill="#c8d838"/><rect x="0" y="10" width="1" height="2" fill="#ffffff"/><rect x="15" y="19" width="2" height="1" fill="#a8a040"/><rect x="0" y="18" width="2" height="2" fill="#a8a040"/><rect x="15" y="18" width="2" height="2" fill="#78d8c8"/><rect x="10" y="12" width="2" height="1" fill="#a8a040"/><rect x="22" y="10" width="1" height="1" fill="#78d8c8"/><rect x="7" y="10" width="2" height="2" fill="#80d070"/><rect x="11" y="17" width="3" height="1" fill="#c8d838"/><rect x="18" y="12" width="2" height="1" fill="#c8d838"/><rect x="23" y="2" width="2" height="1" fill="#a8a040"/><rect x="4" y="17" width="2" height="2" fill="#e8f060"/><rect x="8" y="21" width="2" height="1" fill="#ffffff"/><rect x="12" y="8" width="3" height="2" fill="#80d070"/><rect x="13" y="19" width="3" height="1" fill="#a8a040"/><rect x="3" y="1" width="1" height="2" fill="#ffffff"/><rect x="15" y="5" width="2" height="2" fill="#e8f060"/><rect x="10" y="10" width="2" height="2" fill="#ffffff"/><rect x="6" y="20" width="3" height="2" fill="#e8f060"/><rect x="6" y="20" width="2" height="2" fill="#ffffff"/><rect x="23" y="23" width="1" height="1" fill="#c8d838"/><rect x="6" y="2" width="2" height="2" fill="#a8a040"/><rect x="22" y="18" width="1" height="2" fill="#c8d838"/><rect x="22" y="14" width="2" height="1" fill="#80d070"/><rect x="20" y="9" width="2" height="2" fill="#80d070"/><rect x="14" y="12" width="2" height="2" fill="#ffffff"/><rect x="18" y="15" width="2" height="1" fill="#e8f060"/><rect x="3" y="15" width="2" height="1" fill="#c8d838"/><rect x="11" y="22" width="3" height="2" fill="#80d070"/><rect x="22" y="21" width="1" height="1" fill="#c8d838"/><rect x="21" y="22" width="3" height="1" fill="#80d070"/><rect x="1" y="15" width="3" height="2" fill="#ffffff"/><rect x="16" y="0" width="2" height="2" fill="#c8d838"/><rect x="17" y="11" width="1" height="2" fill="#c8d838"/><rect x="16" y="22" width="2" height="1" fill="#a8a040"/><rect x="6" y="23" width="2" height="1" fill="#a8a040"/><rect x="14" y="12" width="1" height="1" fill="#78d8c8"/><rect x="9" y="6" width="1" height="1" fill="#e8f060"/><rect x="9" y="2" width="2" height="1" fill="#e8f060"/><rect x="5" y="3" width="2" height="1" fill="#80d070"/><rect x="14" y="4" width="2" height="1" fill="#a8a040"/></pattern><pattern id="R121" width="24" height="24" patternUnits="userSpaceOnUse"><rect width="24" height="24" fill="#e8e030"/><rect x="19" y="18" width="2" height="2" fill="#c0e040"/><rect x="1" y="8" width="1" height="2" fill="#f0f040"/><rect x="1" y="12" width="1" height="1" fill="#f0f040"/><rect x="1" y="22" width="1" height="2" fill="#f0f040"/><rect x="17" y="13" width="1" height="1" fill="#f0f040"/><rect x="15" y="12" width="1" height="2" fill="#d0a030"/><rect x="8" y="22" width="2" height="1" fill="#f0f040"/><rect x="20" y="19" width="2" height="2" fill="#f0f040"/><rect x="18" y="8" width="1" height="2" fill="#c0e040"/><rect x="16" y="20" width="2" height="2" fill="#c0e040"/><rect x="8" y="18" width="1" height="2" fill="#c0e040"/><rect x="19" y="16" width="2" height="1" fill="#f0f040"/><rect x="18" y="13" width="2" height="2" fill="#d0a030"/><rect x="9" y="16" width="2" height="2" fill="#c0e040"/><rect x="15" y="22" width="2" height="2" fill="#c0e040"/><rect x="18" y="20" width="1" height="2" fill="#c0e040"/><rect x="22" y="21" width="1" height="1" fill="#d0a030"/><rect x="1" y="15" width="1" height="2" fill="#f0f040"/><rect x="18" y="7" width="3" height="2" fill="#f0f040"/><rect x="8" y="9" width="1" height="2" fill="#d0a030"/><rect x="23" y="23" width="2" height="2" fill="#f0f040"/><rect x="5" y="23" width="1" height="2" fill="#f0f040"/><rect x="21" y="22" width="2" height="2" fill="#c0e040"/><rect x="11" y="15" width="2" height="2" fill="#d0a030"/><rect x="16" y="16" width="2" height="2" fill="#f0f040"/><rect x="23" y="14" width="1" height="2" fill="#d0a030"/><rect x="7" y="13" width="1" height="2" fill="#c0e040"/><rect x="15" y="17" width="2" height="1" fill="#f0f040"/><rect x="8" y="13" width="2" height="1" fill="#d0a030"/><rect x="13" y="2" width="2" height="1" fill="#f0f040"/><rect x="18" y="22" width="2" height="2" fill="#f0f040"/><rect x="21" y="1" width="2" height="2" fill="#c0e040"/><rect x="10" y="7" width="1" height="2" fill="#d0a030"/><rect x="8" y="20" width="2" height="2" fill="#f0f040"/><rect x="10" y="8" width="3" height="2" fill="#d0a030"/><rect x="13" y="12" width="1" height="2" fill="#c0e040"/><rect x="23" y="3" width="3" height="2" fill="#f0f040"/><rect x="18" y="12" width="2" height="1" fill="#d0a030"/><rect x="11" y="16" width="2" height="1" fill="#c0e040"/><rect x="6" y="6" width="1" height="2" fill="#f0f040"/><rect x="16" y="7" width="1" height="1" fill="#f0f040"/><rect x="17" y="6" width="2" height="2" fill="#c0e040"/><rect x="11" y="4" width="2" height="2" fill="#c0e040"/><rect x="22" y="9" width="2" height="2" fill="#c0e040"/><rect x="8" y="22" width="3" height="1" fill="#d0a030"/><rect x="18" y="20" width="2" height="1" fill="#f0f040"/><rect x="4" y="7" width="1" height="2" fill="#d0a030"/><rect x="8" y="18" width="1" height="2" fill="#d0a030"/><rect x="6" y="16" width="2" height="2" fill="#f0f040"/><rect x="1" y="13" width="1" height="2" fill="#d0a030"/><rect x="20" y="17" width="3" height="2" fill="#c0e040"/><rect x="14" y="2" width="2" height="1" fill="#c0e040"/><rect x="12" y="21" width="2" height="2" fill="#f0f040"/><rect x="15" y="9" width="2" height="1" fill="#d0a030"/><rect x="18" y="23" width="3" height="2" fill="#d0a030"/><rect x="23" y="16" width="1" height="2" fill="#c0e040"/><rect x="11" y="22" width="2" height="1" fill="#f0f040"/><rect x="7" y="19" width="2" height="2" fill="#f0f040"/><rect x="19" y="8" width="2" height="1" fill="#c0e040"/><rect x="15" y="10" width="2" height="2" fill="#d0a030"/><rect x="16" y="14" width="3" height="2" fill="#d0a030"/><rect x="15" y="12" width="1" height="1" fill="#f0f040"/><rect x="20" y="17" width="1" height="1" fill="#f0f040"/><rect x="23" y="5" width="1" height="2" fill="#d0a030"/><rect x="4" y="21" width="1" height="1" fill="#f0f040"/><rect x="4" y="17" width="2" height="2" fill="#f0f040"/><rect x="14" y="9" width="3" height="1" fill="#c0e040"/><rect x="4" y="12" width="2" height="1" fill="#f0f040"/><rect x="18" y="6" width="2" height="1" fill="#c0e040"/><rect x="2" y="9" width="2" height="1" fill="#f0f040"/><rect x="17" y="6" width="2" height="2" fill="#f0f040"/><rect x="2" y="21" width="2" height="1" fill="#f0f040"/><rect x="12" y="15" width="1" height="2" fill="#f0f040"/><rect x="6" y="8" width="3" height="1" fill="#f0f040"/><rect x="8" y="12" width="2" height="1" fill="#f0f040"/><rect x="18" y="9" width="3" height="1" fill="#d0a030"/><rect x="3" y="15" width="2" height="1" fill="#d0a030"/><rect x="11" y="2" width="3" height="2" fill="#c0e040"/><rect x="1" y="4" width="1" height="1" fill="#d0a030"/><rect x="8" y="3" width="2" height="1" fill="#d0a030"/><rect x="11" y="0" width="1" height="2" fill="#f0f040"/><rect x="15" y="22" width="2" height="1" fill="#d0a030"/><rect x="7" y="10" width="1" height="2" fill="#f0f040"/><rect x="4" y="23" width="1" height="1" fill="#c0e040"/><rect x="18" y="21" width="1" height="1" fill="#f0f040"/><rect x="13" y="9" width="3" height="2" fill="#d0a030"/><rect x="13" y="15" width="2" height="2" fill="#c0e040"/><rect x="13" y="6" width="2" height="2" fill="#c0e040"/><rect x="19" y="12" width="3" height="2" fill="#f0f040"/><rect x="13" y="4" width="1" height="1" fill="#f0f040"/><rect x="11" y="10" width="3" height="1" fill="#c0e040"/><rect x="4" y="2" width="3" height="2" fill="#d0a030"/><rect x="5" y="8" width="3" height="2" fill="#f0f040"/><rect x="15" y="5" width="2" height="2" fill="#c0e040"/><rect x="21" y="22" width="1" height="1" fill="#f0f040"/><rect x="0" y="21" width="3" height="1" fill="#c0e040"/></pattern><pattern id="R118" width="24" height="24" patternUnits="userSpaceOnUse"><rect width="24" height="24" fill="#b8a838"/><rect x="7" y="22" width="1" height="1" fill="#e0c060"/><rect x="21" y="3" width="2" height="1" fill="#a08828"/><rect x="3" y="8" width="2" height="2" fill="#d8d040"/><rect x="11" y="12" width="2" height="2" fill="#889030"/><rect x="12" y="18" width="3" height="2" fill="#d8d040"/><rect x="22" y="15" width="1" height="1" fill="#a08828"/><rect x="2" y="19" width="1" height="2" fill="#889030"/><rect x="21" y="10" width="3" height="2" fill="#d8d040"/><rect x="12" y="10" width="3" height="1" fill="#a08828"/><rect x="21" y="20" width="1" height="2" fill="#a08828"/><rect x="9" y="20" width="2" height="2" fill="#a08828"/><rect x="10" y="21" width="2" height="1" fill="#d8d040"/><rect x="20" y="4" width="2" height="2" fill="#e0c060"/><rect x="6" y="13" width="1" height="2" fill="#889030"/><rect x="15" y="5" width="1" height="1" fill="#d8d040"/><rect x="12" y="8" width="2" height="2" fill="#889030"/><rect x="13" y="9" width="3" height="1" fill="#889030"/><rect x="22" y="18" width="2" height="2" fill="#d8d040"/><rect x="21" y="12" width="2" height="2" fill="#889030"/><rect x="18" y="10" width="3" height="1" fill="#889030"/><rect x="11" y="7" width="3" height="2" fill="#d8d040"/><rect x="16" y="17" width="2" height="1" fill="#a08828"/><rect x="18" y="18" width="2" height="2" fill="#a08828"/><rect x="6" y="20" width="1" height="2" fill="#e0c060"/><rect x="20" y="18" width="2" height="2" fill="#889030"/><rect x="20" y="21" width="2" height="2" fill="#e0c060"/><rect x="16" y="8" width="1" height="2" fill="#889030"/><rect x="0" y="20" width="1" height="1" fill="#a08828"/><rect x="3" y="22" width="1" height="2" fill="#889030"/><rect x="12" y="23" width="2" height="2" fill="#889030"/><rect x="14" y="22" width="2" height="2" fill="#d8d040"/><rect x="3" y="3" width="2" height="1" fill="#889030"/><rect x="19" y="13" width="3" height="2" fill="#a08828"/><rect x="0" y="3" width="3" height="2" fill="#d8d040"/><rect x="1" y="20" width="1" height="1" fill="#a08828"/><rect x="23" y="3" width="1" height="2" fill="#e0c060"/><rect x="9" y="5" width="2" height="2" fill="#889030"/><rect x="8" y="16" width="1" height="2" fill="#d8d040"/><rect x="5" y="0" width="2" height="1" fill="#e0c060"/><rect x="19" y="21" width="3" height="1" fill="#889030"/><rect x="15" y="0" width="2" height="2" fill="#a08828"/><rect x="21" y="2" width="1" height="2" fill="#d8d040"/><rect x="5" y="3" width="3" height="2" fill="#a08828"/><rect x="11" y="14" width="2" height="2" fill="#a08828"/><rect x="17" y="21" width="2" height="2" fill="#d8d040"/><rect x="12" y="12" width="2" height="2" fill="#d8d040"/><rect x="22" y="9" width="3" height="2" fill="#a08828"/><rect x="15" y="22" width="2" height="1" fill="#a08828"/><rect x="13" y="2" width="2" height="2" fill="#a08828"/><rect x="6" y="0" width="2" height="2" fill="#a08828"/><rect x="16" y="18" width="2" height="2" fill="#a08828"/><rect x="3" y="20" width="2" height="2" fill="#d8d040"/><rect x="18" y="7" width="2" height="2" fill="#d8d040"/><rect x="3" y="7" width="2" height="2" fill="#a08828"/><rect x="5" y="13" width="1" height="2" fill="#a08828"/><rect x="2" y="14" width="1" height="1" fill="#d8d040"/><rect x="21" y="13" width="2" height="1" fill="#e0c060"/><rect x="19" y="17" width="3" height="1" fill="#d8d040"/><rect x="16" y="14" width="2" height="2" fill="#e0c060"/><rect x="16" y="5" width="1" height="1" fill="#889030"/><rect x="0" y="16" width="2" height="2" fill="#d8d040"/><rect x="15" y="15" width="1" height="1" fill="#889030"/><rect x="14" y="1" width="2" height="2" fill="#889030"/><rect x="13" y="2" width="1" height="2" fill="#889030"/><rect x="16" y="23" width="2" height="2" fill="#889030"/><rect x="18" y="13" width="3" height="1" fill="#889030"/><rect x="14" y="8" width="2" height="2" fill="#889030"/><rect x="18" y="18" width="2" height="1" fill="#889030"/><rect x="15" y="22" width="2" height="1" fill="#889030"/><rect x="19" y="2" width="2" height="2" fill="#a08828"/><rect x="14" y="15" width="2" height="1" fill="#889030"/><rect x="3" y="17" width="3" height="2" fill="#e0c060"/><rect x="8" y="8" width="2" height="1" fill="#d8d040"/><rect x="17" y="9" width="1" height="2" fill="#889030"/><rect x="15" y="15" width="2" height="2" fill="#a08828"/><rect x="5" y="1" width="3" height="2" fill="#a08828"/><rect x="18" y="15" width="3" height="1" fill="#e0c060"/><rect x="2" y="12" width="1" height="2" fill="#e0c060"/><rect x="0" y="7" width="3" height="2" fill="#889030"/><rect x="19" y="3" width="2" height="1" fill="#a08828"/><rect x="23" y="19" width="3" height="2" fill="#e0c060"/><rect x="22" y="0" width="2" height="2" fill="#a08828"/><rect x="16" y="2" width="3" height="2" fill="#889030"/><rect x="2" y="13" width="1" height="1" fill="#a08828"/><rect x="21" y="19" width="2" height="2" fill="#d8d040"/><rect x="4" y="20" width="2" height="2" fill="#d8d040"/><rect x="11" y="19" width="2" height="1" fill="#e0c060"/><rect x="3" y="16" width="2" height="2" fill="#889030"/><rect x="20" y="16" width="2" height="2" fill="#889030"/><rect x="11" y="4" width="2" height="1" fill="#889030"/><rect x="17" y="18" width="2" height="1" fill="#d8d040"/><rect x="6" y="6" width="3" height="2" fill="#d8d040"/><rect x="17" y="1" width="1" height="2" fill="#889030"/><rect x="19" y="13" width="3" height="2" fill="#889030"/><rect x="9" y="5" width="2" height="1" fill="#d8d040"/><rect x="15" y="6" width="2" height="2" fill="#d8d040"/><rect x="20" y="13" width="3" height="2" fill="#d8d040"/><rect x="0" y="12" width="2" height="1" fill="#d8d040"/><rect x="7" y="18" width="2" height="2" fill="#a08828"/><rect x="4" y="16" width="3" height="2" fill="#a08828"/><rect x="10" y="0" width="1" height="2" fill="#889030"/><rect x="5" y="17" width="2" height="1" fill="#e0c060"/><rect x="15" y="22" width="3" height="1" fill="#889030"/><rect x="23" y="17" width="2" height="2" fill="#a08828"/><rect x="4" y="18" width="3" height="2" fill="#d8d040"/><rect x="0" y="16" width="1" height="1" fill="#d8d040"/><rect x="19" y="21" width="1" height="2" fill="#d8d040"/><rect x="21" y="10" width="2" height="2" fill="#a08828"/><rect x="16" y="5" width="1" height="2" fill="#889030"/><rect x="6" y="16" width="3" height="2" fill="#d8d040"/><rect x="4" y="15" width="3" height="2" fill="#d8d040"/><rect x="20" y="22" width="2" height="1" fill="#d8d040"/><rect x="2" y="18" width="2" height="2" fill="#a08828"/><rect x="12" y="0" width="3" height="1" fill="#a08828"/><rect x="11" y="5" width="1" height="2" fill="#d8d040"/></pattern><pattern id="R111" width="24" height="24" patternUnits="userSpaceOnUse"><rect width="24" height="24" fill="#c88028"/><rect x="6" y="6" width="2" height="2" fill="#a05818"/><rect x="11" y="14" width="1" height="2" fill="#8a6020"/><rect x="5" y="2" width="2" height="2" fill="#b0c040"/><rect x="3" y="14" width="2" height="2" fill="#8a6020"/><rect x="5" y="8" width="1" height="2" fill="#d04818"/><rect x="9" y="11" width="2" height="1" fill="#a05818"/><rect x="20" y="16" width="3" height="2" fill="#d04818"/><rect x="3" y="15" width="2" height="1" fill="#d04818"/><rect x="9" y="7" width="2" height="2" fill="#e0b040"/><rect x="16" y="1" width="1" height="1" fill="#8a6020"/><rect x="22" y="6" width="3" height="2" fill="#a05818"/><rect x="11" y="19" width="2" height="2" fill="#a05818"/><rect x="20" y="21" width="2" height="1" fill="#d04818"/><rect x="14" y="14" width="3" height="2" fill="#d04818"/><rect x="7" y="8" width="1" height="2" fill="#e0b040"/><rect x="4" y="7" width="3" height="2" fill="#8a6020"/><rect x="4" y="7" width="2" height="1" fill="#b0c040"/><rect x="21" y="2" width="2" height="2" fill="#8a6020"/><rect x="20" y="9" width="1" height="2" fill="#e0b040"/><rect x="5" y="11" width="3" height="2" fill="#8a6020"/><rect x="3" y="1" width="2" height="2" fill="#e0b040"/><rect x="8" y="5" width="2" height="1" fill="#8a6020"/><rect x="18" y="4" width="2" height="2" fill="#e0b040"/><rect x="19" y="17" width="1" height="1" fill="#e0b040"/><rect x="9" y="19" width="2" height="2" fill="#a05818"/><rect x="9" y="7" width="2" height="1" fill="#a05818"/><rect x="11" y="13" width="2" height="1" fill="#e0b040"/><rect x="12" y="8" width="2" height="2" fill="#8a6020"/><rect x="12" y="10" width="1" height="2" fill="#b0c040"/><rect x="9" y="9" width="2" height="2" fill="#d04818"/><rect x="4" y="8" width="2" height="2" fill="#a05818"/><rect x="17" y="10" width="2" height="2" fill="#d04818"/><rect x="2" y="8" width="1" height="2" fill="#e0b040"/><rect x="21" y="17" width="1" height="2" fill="#d04818"/><rect x="3" y="19" width="1" height="2" fill="#e0b040"/><rect x="1" y="20" width="2" height="2" fill="#8a6020"/><rect x="19" y="15" width="2" height="2" fill="#d04818"/><rect x="3" y="12" width="2" height="1" fill="#b0c040"/><rect x="8" y="21" width="2" height="2" fill="#d04818"/><rect x="23" y="20" width="2" height="2" fill="#8a6020"/><rect x="23" y="22" width="2" height="2" fill="#a05818"/><rect x="5" y="6" width="2" height="2" fill="#d04818"/><rect x="5" y="0" width="3" height="1" fill="#8a6020"/><rect x="0" y="17" width="1" height="2" fill="#a05818"/><rect x="1" y="18" width="2" height="1" fill="#d04818"/><rect x="22" y="7" width="2" height="2" fill="#e0b040"/><rect x="7" y="19" width="2" height="1" fill="#8a6020"/><rect x="14" y="17" width="1" height="2" fill="#a05818"/><rect x="9" y="8" width="3" height="2" fill="#a05818"/><rect x="12" y="22" width="2" height="1" fill="#8a6020"/><rect x="21" y="2" width="2" height="1" fill="#8a6020"/><rect x="5" y="10" width="2" height="1" fill="#b0c040"/><rect x="18" y="18" width="2" height="2" fill="#d04818"/><rect x="8" y="10" width="2" height="1" fill="#e0b040"/><rect x="12" y="5" width="2" height="2" fill="#a05818"/><rect x="17" y="7" width="2" height="1" fill="#8a6020"/><rect x="13" y="21" width="2" height="1" fill="#a05818"/><rect x="12" y="11" width="3" height="2" fill="#d04818"/><rect x="4" y="1" width="3" height="2" fill="#e0b040"/><rect x="5" y="17" width="2" height="1" fill="#8a6020"/><rect x="1" y="22" width="2" height="1" fill="#b0c040"/><rect x="18" y="19" width="2" height="2" fill="#8a6020"/><rect x="8" y="11" width="2" height="2" fill="#b0c040"/><rect x="4" y="5" width="3" height="2" fill="#a05818"/><rect x="2" y="7" width="1" height="2" fill="#d04818"/><rect x="10" y="21" width="2" height="2" fill="#d04818"/><rect x="1" y="3" width="2" height="2" fill="#b0c040"/><rect x="22" y="7" width="2" height="2" fill="#e0b040"/><rect x="23" y="0" width="1" height="2" fill="#d04818"/><rect x="6" y="22" width="2" height="1" fill="#a05818"/><rect x="9" y="19" width="2" height="2" fill="#d04818"/><rect x="5" y="22" width="2" height="2" fill="#d04818"/><rect x="5" y="21" width="1" height="1" fill="#e0b040"/><rect x="15" y="19" width="2" height="1" fill="#a05818"/><rect x="22" y="4" width="2" height="2" fill="#e0b040"/><rect x="0" y="15" width="2" height="2" fill="#a05818"/><rect x="11" y="20" width="3" height="2" fill="#a05818"/><rect x="2" y="3" width="2" height="1" fill="#e0b040"/><rect x="6" y="22" width="3" height="1" fill="#8a6020"/><rect x="16" y="23" width="2" height="2" fill="#a05818"/><rect x="3" y="10" width="2" height="2" fill="#8a6020"/><rect x="20" y="17" width="2" height="1" fill="#b0c040"/><rect x="18" y="5" width="2" height="2" fill="#8a6020"/><rect x="3" y="1" width="2" height="2" fill="#a05818"/><rect x="12" y="20" width="2" height="2" fill="#d04818"/><rect x="9" y="20" width="3" height="2" fill="#e0b040"/><rect x="12" y="1" width="2" height="2" fill="#b0c040"/><rect x="3" y="5" width="3" height="2" fill="#a05818"/><rect x="9" y="9" width="3" height="2" fill="#a05818"/><rect x="2" y="23" width="3" height="2" fill="#a05818"/><rect x="1" y="2" width="2" height="1" fill="#d04818"/><rect x="15" y="9" width="1" height="2" fill="#8a6020"/><rect x="17" y="4" width="2" height="2" fill="#b0c040"/><rect x="21" y="20" width="1" height="2" fill="#e0b040"/><rect x="21" y="21" width="1" height="2" fill="#8a6020"/><rect x="18" y="15" width="2" height="2" fill="#e0b040"/><rect x="20" y="1" width="2" height="1" fill="#a05818"/><rect x="11" y="18" width="1" height="2" fill="#a05818"/><rect x="11" y="16" width="2" height="2" fill="#a05818"/><rect x="4" y="17" width="2" height="1" fill="#a05818"/><rect x="20" y="13" width="1" height="1" fill="#d04818"/><rect x="15" y="15" width="1" height="2" fill="#b0c040"/><rect x="4" y="12" width="1" height="2" fill="#8a6020"/><rect x="12" y="6" width="2" height="2" fill="#a05818"/><rect x="8" y="15" width="2" height="1" fill="#e0b040"/><rect x="12" y="9" width="1" height="1" fill="#e0b040"/><rect x="6" y="17" width="1" height="2" fill="#8a6020"/><rect x="23" y="6" width="3" height="2" fill="#d04818"/><rect x="9" y="14" width="3" height="2" fill="#a05818"/><rect x="11" y="15" width="2" height="1" fill="#e0b040"/><rect x="16" y="14" width="2" height="1" fill="#a05818"/><rect x="15" y="16" width="2" height="1" fill="#a05818"/><rect x="13" y="22" width="1" height="2" fill="#e0b040"/><rect x="3" y="12" width="1" height="2" fill="#e0b040"/><rect x="0" y="3" width="1" height="2" fill="#8a6020"/></pattern><pattern id="R113" width="24" height="24" patternUnits="userSpaceOnUse"><rect width="24" height="24" fill="#f4d0b0"/><rect x="0" y="1" width="2" height="1" fill="#e8a870"/><rect x="0" y="5" width="1" height="2" fill="#e8a870"/><rect x="21" y="18" width="1" height="2" fill="#f0c090"/><rect x="21" y="19" width="1" height="2" fill="#e8a870"/><rect x="2" y="2" width="1" height="2" fill="#e8a870"/><rect x="4" y="8" width="2" height="2" fill="#f0c090"/><rect x="10" y="9" width="2" height="1" fill="#f0c090"/><rect x="0" y="4" width="1" height="2" fill="#e8a870"/><rect x="7" y="14" width="2" height="2" fill="#f0c090"/><rect x="12" y="2" width="2" height="2" fill="#f0c090"/><rect x="22" y="9" width="1" height="2" fill="#e8a870"/><rect x="15" y="3" width="2" height="2" fill="#e8a870"/><rect x="13" y="21" width="2" height="2" fill="#e8a870"/><rect x="4" y="15" width="1" height="2" fill="#ffffff"/><rect x="11" y="13" width="2" height="2" fill="#ffffff"/><rect x="23" y="12" width="1" height="2" fill="#e8a870"/><rect x="22" y="21" width="3" height="1" fill="#e8a870"/><rect x="16" y="21" width="3" height="2" fill="#f0c090"/><rect x="11" y="17" width="2" height="1" fill="#f0c090"/><rect x="5" y="9" width="2" height="2" fill="#ffffff"/><rect x="11" y="2" width="2" height="2" fill="#e8a870"/><rect x="12" y="17" width="2" height="2" fill="#f0c090"/><rect x="6" y="11" width="3" height="2" fill="#f0c090"/><rect x="15" y="8" width="2" height="1" fill="#ffffff"/><rect x="7" y="8" width="2" height="2" fill="#e8a870"/><rect x="21" y="1" width="1" height="1" fill="#e0e0a0"/><rect x="11" y="20" width="2" height="2" fill="#e8a870"/><rect x="23" y="2" width="3" height="2" fill="#f0c090"/><rect x="1" y="15" width="1" height="2" fill="#ffffff"/><rect x="5" y="4" width="2" height="2" fill="#e8a870"/><rect x="17" y="2" width="3" height="2" fill="#f0c090"/><rect x="19" y="4" width="2" height="2" fill="#e8a870"/><rect x="19" y="18" width="1" height="2" fill="#f0c090"/><rect x="2" y="23" width="3" height="2" fill="#f0c090"/><rect x="5" y="14" width="2" height="1" fill="#ffffff"/><rect x="3" y="8" width="1" height="1" fill="#ffffff"/><rect x="18" y="11" width="2" height="1" fill="#e8a870"/><rect x="18" y="21" width="3" height="1" fill="#e8a870"/><rect x="21" y="6" width="2" height="1" fill="#f0c090"/><rect x="12" y="14" width="2" height="2" fill="#ffffff"/><rect x="5" y="10" width="2" height="2" fill="#e8a870"/><rect x="21" y="21" width="3" height="2" fill="#e0e0a0"/><rect x="19" y="10" width="1" height="2" fill="#f0c090"/><rect x="11" y="15" width="2" height="1" fill="#ffffff"/><rect x="17" y="14" width="2" height="2" fill="#f0c090"/><rect x="11" y="18" width="2" height="1" fill="#e8a870"/><rect x="23" y="13" width="1" height="1" fill="#f0c090"/><rect x="5" y="6" width="3" height="2" fill="#e0e0a0"/><rect x="17" y="0" width="3" height="1" fill="#e0e0a0"/><rect x="0" y="11" width="2" height="2" fill="#e8a870"/><rect x="19" y="7" width="3" height="2" fill="#e0e0a0"/><rect x="18" y="4" width="1" height="2" fill="#e8a870"/><rect x="23" y="0" width="2" height="2" fill="#e8a870"/><rect x="3" y="19" width="3" height="2" fill="#e8a870"/><rect x="3" y="6" width="2" height="2" fill="#f0c090"/><rect x="18" y="9" width="2" height="1" fill="#e8a870"/><rect x="8" y="14" width="3" height="1" fill="#ffffff"/><rect x="22" y="13" width="2" height="1" fill="#e8a870"/><rect x="1" y="11" width="2" height="2" fill="#f0c090"/><rect x="2" y="2" width="1" height="1" fill="#ffffff"/><rect x="15" y="21" width="2" height="2" fill="#f0c090"/><rect x="23" y="23" width="3" height="2" fill="#e0e0a0"/><rect x="13" y="3" width="2" height="2" fill="#f0c090"/><rect x="1" y="16" width="1" height="2" fill="#e8a870"/><rect x="5" y="7" width="3" height="1" fill="#ffffff"/><rect x="19" y="12" width="2" height="2" fill="#e8a870"/><rect x="20" y="12" width="2" height="2" fill="#e8a870"/><rect x="11" y="23" width="2" height="1" fill="#f0c090"/><rect x="21" y="21" width="2" height="1" fill="#e8a870"/><rect x="17" y="12" width="1" height="2" fill="#e8a870"/><rect x="18" y="21" width="2" height="2" fill="#e8a870"/><rect x="3" y="16" width="2" height="1" fill="#e8a870"/><rect x="8" y="20" width="3" height="2" fill="#e8a870"/><rect x="23" y="13" width="1" height="2" fill="#f0c090"/><rect x="11" y="13" width="2" height="1" fill="#f0c090"/><rect x="23" y="23" width="2" height="2" fill="#ffffff"/><rect x="12" y="1" width="1" height="2" fill="#e0e0a0"/><rect x="0" y="0" width="2" height="2" fill="#f0c090"/><rect x="2" y="7" width="1" height="2" fill="#ffffff"/><rect x="3" y="0" width="2" height="2" fill="#f0c090"/><rect x="13" y="19" width="2" height="2" fill="#e8a870"/><rect x="17" y="9" width="3" height="1" fill="#e8a870"/><rect x="4" y="2" width="3" height="2" fill="#f0c090"/><rect x="14" y="5" width="2" height="1" fill="#e0e0a0"/><rect x="23" y="23" width="3" height="1" fill="#ffffff"/><rect x="13" y="14" width="2" height="1" fill="#e8a870"/><rect x="23" y="19" width="3" height="2" fill="#e8a870"/><rect x="13" y="13" width="2" height="1" fill="#ffffff"/><rect x="9" y="12" width="2" height="2" fill="#e8a870"/><rect x="17" y="6" width="2" height="2" fill="#e0e0a0"/><rect x="20" y="6" width="1" height="2" fill="#ffffff"/><rect x="19" y="15" width="3" height="2" fill="#e8a870"/><rect x="5" y="11" width="3" height="2" fill="#ffffff"/><rect x="12" y="0" width="3" height="1" fill="#e8a870"/><rect x="23" y="4" width="3" height="2" fill="#e8a870"/><rect x="18" y="1" width="2" height="2" fill="#e8a870"/></pattern><pattern id="R114" width="24" height="24" patternUnits="userSpaceOnUse"><rect width="24" height="24" fill="#d82010"/><rect x="16" y="8" width="3" height="2" fill="#801008"/><rect x="19" y="20" width="3" height="1" fill="#e83818"/><rect x="20" y="23" width="3" height="2" fill="#e06018"/><rect x="11" y="10" width="2" height="2" fill="#a01008"/><rect x="9" y="8" width="3" height="2" fill="#801008"/><rect x="0" y="11" width="3" height="1" fill="#e06018"/><rect x="5" y="12" width="2" height="1" fill="#801008"/><rect x="21" y="8" width="2" height="2" fill="#e83818"/><rect x="14" y="21" width="2" height="1" fill="#e83818"/><rect x="14" y="2" width="3" height="2" fill="#e83818"/><rect x="20" y="2" width="1" height="1" fill="#a01008"/><rect x="1" y="22" width="2" height="2" fill="#a01008"/><rect x="7" y="3" width="2" height="2" fill="#801008"/><rect x="10" y="20" width="2" height="1" fill="#801008"/><rect x="20" y="6" width="2" height="2" fill="#e83818"/><rect x="4" y="10" width="2" height="2" fill="#a01008"/><rect x="10" y="19" width="3" height="1" fill="#a01008"/><rect x="6" y="9" width="1" height="2" fill="#e83818"/><rect x="1" y="21" width="2" height="2" fill="#801008"/><rect x="4" y="11" width="1" height="1" fill="#a01008"/><rect x="15" y="9" width="2" height="1" fill="#e83818"/><rect x="22" y="3" width="3" height="1" fill="#801008"/><rect x="3" y="2" width="1" height="1" fill="#801008"/><rect x="0" y="4" width="3" height="2" fill="#a01008"/><rect x="14" y="13" width="3" height="2" fill="#e83818"/><rect x="16" y="1" width="2" height="1" fill="#e83818"/><rect x="12" y="14" width="3" height="2" fill="#a01008"/><rect x="21" y="8" width="1" height="2" fill="#e06018"/><rect x="19" y="5" width="1" height="2" fill="#801008"/><rect x="21" y="8" width="1" height="1" fill="#e06018"/><rect x="6" y="5" width="2" height="1" fill="#e83818"/><rect x="3" y="5" width="2" height="1" fill="#a01008"/><rect x="18" y="19" width="1" height="1" fill="#e06018"/><rect x="1" y="11" width="2" height="1" fill="#801008"/><rect x="19" y="23" width="2" height="2" fill="#801008"/><rect x="1" y="2" width="1" height="2" fill="#e06018"/><rect x="3" y="5" width="2" height="1" fill="#e83818"/><rect x="4" y="19" width="2" height="2" fill="#a01008"/><rect x="8" y="15" width="1" height="2" fill="#801008"/><rect x="14" y="12" width="1" height="2" fill="#a01008"/><rect x="4" y="7" width="3" height="2" fill="#e83818"/><rect x="20" y="2" width="1" height="2" fill="#a01008"/><rect x="3" y="16" width="1" height="1" fill="#e83818"/><rect x="0" y="13" width="2" height="2" fill="#a01008"/><rect x="23" y="11" width="2" height="1" fill="#a01008"/><rect x="15" y="22" width="2" height="2" fill="#801008"/><rect x="14" y="11" width="2" height="1" fill="#801008"/><rect x="15" y="5" width="2" height="2" fill="#e83818"/><rect x="23" y="18" width="2" height="1" fill="#e83818"/><rect x="7" y="14" width="1" height="1" fill="#801008"/><rect x="1" y="4" width="2" height="2" fill="#e06018"/><rect x="14" y="20" width="2" height="2" fill="#a01008"/><rect x="23" y="8" width="2" height="2" fill="#e83818"/><rect x="11" y="10" width="1" height="2" fill="#e83818"/><rect x="18" y="1" width="2" height="2" fill="#a01008"/><rect x="19" y="17" width="2" height="1" fill="#801008"/><rect x="19" y="16" width="3" height="2" fill="#801008"/><rect x="13" y="16" width="2" height="1" fill="#e83818"/><rect x="13" y="3" width="1" height="2" fill="#801008"/><rect x="16" y="18" width="2" height="2" fill="#a01008"/><rect x="7" y="2" width="1" height="1" fill="#a01008"/><rect x="22" y="21" width="2" height="2" fill="#a01008"/><rect x="13" y="8" width="2" height="1" fill="#e06018"/><rect x="16" y="15" width="2" height="2" fill="#e83818"/><rect x="2" y="23" width="1" height="2" fill="#a01008"/><rect x="13" y="6" width="3" height="2" fill="#801008"/><rect x="14" y="0" width="3" height="2" fill="#801008"/><rect x="17" y="17" width="2" height="1" fill="#a01008"/><rect x="4" y="6" width="2" height="2" fill="#a01008"/><rect x="20" y="7" width="1" height="1" fill="#a01008"/><rect x="15" y="2" width="1" height="2" fill="#a01008"/><rect x="19" y="4" width="3" height="2" fill="#801008"/><rect x="18" y="8" width="3" height="2" fill="#e06018"/><rect x="4" y="8" width="1" height="2" fill="#a01008"/><rect x="9" y="9" width="2" height="1" fill="#e06018"/><rect x="16" y="3" width="1" height="2" fill="#801008"/><rect x="10" y="17" width="2" height="1" fill="#e06018"/><rect x="8" y="0" width="1" height="2" fill="#a01008"/><rect x="18" y="13" width="1" height="2" fill="#e06018"/><rect x="8" y="7" width="2" height="2" fill="#801008"/><rect x="18" y="13" width="3" height="1" fill="#e83818"/><rect x="21" y="2" width="2" height="2" fill="#a01008"/><rect x="4" y="21" width="3" height="1" fill="#a01008"/><rect x="0" y="13" width="2" height="2" fill="#801008"/><rect x="12" y="0" width="2" height="1" fill="#a01008"/><rect x="7" y="1" width="2" height="1" fill="#e83818"/><rect x="7" y="19" width="2" height="2" fill="#a01008"/><rect x="12" y="12" width="1" height="2" fill="#801008"/><rect x="22" y="16" width="1" height="1" fill="#e83818"/><rect x="16" y="13" width="1" height="2" fill="#e83818"/><rect x="23" y="11" width="3" height="2" fill="#e06018"/><rect x="23" y="6" width="1" height="1" fill="#a01008"/><rect x="10" y="12" width="2" height="2" fill="#e83818"/><rect x="6" y="18" width="2" height="1" fill="#801008"/><rect x="21" y="7" width="3" height="2" fill="#e83818"/><rect x="0" y="14" width="3" height="2" fill="#e83818"/><rect x="1" y="0" width="2" height="2" fill="#a01008"/><rect x="2" y="20" width="2" height="2" fill="#e83818"/><rect x="22" y="22" width="1" height="1" fill="#801008"/><rect x="0" y="15" width="3" height="2" fill="#e83818"/><rect x="18" y="6" width="1" height="2" fill="#a01008"/><rect x="17" y="4" width="3" height="2" fill="#801008"/><rect x="18" y="17" width="1" height="2" fill="#a01008"/><rect x="6" y="17" width="2" height="2" fill="#a01008"/><rect x="12" y="15" width="1" height="2" fill="#801008"/><rect x="16" y="21" width="2" height="2" fill="#a01008"/><rect x="4" y="1" width="3" height="1" fill="#e83818"/><rect x="1" y="12" width="2" height="2" fill="#a01008"/><rect x="12" y="1" width="2" height="2" fill="#e06018"/><rect x="18" y="6" width="2" height="2" fill="#a01008"/><rect x="10" y="11" width="2" height="2" fill="#a01008"/><rect x="5" y="22" width="2" height="2" fill="#e83818"/><rect x="2" y="4" width="2" height="2" fill="#801008"/><rect x="6" y="22" width="2" height="1" fill="#a01008"/><rect x="9" y="8" width="1" height="2" fill="#a01008"/></pattern><pattern id="R117" width="24" height="24" patternUnits="userSpaceOnUse"><rect width="24" height="24" fill="#8020a0"/><rect x="14" y="17" width="1" height="2" fill="#6010a0"/><rect x="22" y="10" width="3" height="2" fill="#a03080"/><rect x="20" y="14" width="2" height="2" fill="#a03080"/><rect x="19" y="23" width="2" height="2" fill="#a03080"/><rect x="8" y="22" width="2" height="1" fill="#a03080"/><rect x="2" y="22" width="1" height="2" fill="#a03080"/><rect x="2" y="13" width="2" height="2" fill="#a03080"/><rect x="19" y="3" width="1" height="2" fill="#6010a0"/><rect x="10" y="15" width="2" height="1" fill="#a03080"/><rect x="7" y="14" width="1" height="1" fill="#6010a0"/><rect x="17" y="9" width="2" height="2" fill="#6010a0"/><rect x="13" y="9" width="3" height="2" fill="#a03080"/><rect x="19" y="8" width="2" height="1" fill="#a03080"/><rect x="16" y="19" width="3" height="2" fill="#a03080"/><rect x="0" y="0" width="2" height="2" fill="#a03080"/><rect x="1" y="12" width="1" height="2" fill="#a03080"/><rect x="5" y="0" width="3" height="2" fill="#6010a0"/><rect x="8" y="13" width="1" height="2" fill="#6010a0"/><rect x="14" y="1" width="3" height="2" fill="#6010a0"/><rect x="5" y="18" width="2" height="1" fill="#6010a0"/><rect x="6" y="3" width="1" height="1" fill="#a03080"/><rect x="10" y="23" width="2" height="2" fill="#6010a0"/><rect x="12" y="22" width="1" height="2" fill="#6010a0"/><rect x="22" y="10" width="1" height="2" fill="#a03080"/><rect x="5" y="19" width="3" height="2" fill="#6010a0"/><rect x="15" y="7" width="2" height="2" fill="#a03080"/><rect x="18" y="5" width="2" height="1" fill="#6010a0"/><rect x="16" y="15" width="3" height="2" fill="#6010a0"/><rect x="20" y="15" width="3" height="1" fill="#6010a0"/><rect x="20" y="23" width="2" height="1" fill="#a03080"/><rect x="16" y="14" width="1" height="2" fill="#6010a0"/><rect x="23" y="23" width="2" height="2" fill="#a03080"/><rect x="22" y="18" width="2" height="1" fill="#a03080"/><rect x="9" y="14" width="1" height="2" fill="#6010a0"/><rect x="9" y="23" width="3" height="2" fill="#a03080"/><rect x="15" y="1" width="2" height="1" fill="#6010a0"/><rect x="10" y="5" width="2" height="2" fill="#a03080"/><rect x="9" y="23" width="3" height="2" fill="#6010a0"/><rect x="22" y="15" width="2" height="1" fill="#6010a0"/><rect x="11" y="15" width="2" height="1" fill="#6010a0"/><rect x="9" y="16" width="2" height="2" fill="#6010a0"/><rect x="5" y="17" width="2" height="1" fill="#6010a0"/><rect x="18" y="17" width="3" height="1" fill="#a03080"/><rect x="19" y="17" width="2" height="1" fill="#a03080"/><rect x="6" y="13" width="1" height="2" fill="#6010a0"/><rect x="8" y="11" width="2" height="2" fill="#6010a0"/><rect x="0" y="1" width="1" height="1" fill="#6010a0"/><rect x="10" y="23" width="1" height="2" fill="#6010a0"/><rect x="6" y="2" width="2" height="1" fill="#6010a0"/><rect x="4" y="6" width="2" height="2" fill="#a03080"/><rect x="2" y="8" width="2" height="2" fill="#6010a0"/><rect x="11" y="12" width="2" height="1" fill="#a03080"/><rect x="8" y="21" width="3" height="2" fill="#6010a0"/><rect x="14" y="15" width="2" height="2" fill="#6010a0"/><rect x="10" y="14" width="2" height="2" fill="#a03080"/><rect x="13" y="15" width="2" height="1" fill="#6010a0"/><rect x="18" y="21" width="3" height="2" fill="#6010a0"/><rect x="3" y="1" width="3" height="2" fill="#6010a0"/><rect x="5" y="19" width="2" height="1" fill="#a03080"/><rect x="14" y="14" width="2" height="2" fill="#6010a0"/><rect x="1" y="14" width="2" height="2" fill="#a03080"/><rect x="16" y="13" width="2" height="1" fill="#6010a0"/><rect x="20" y="4" width="2" height="1" fill="#6010a0"/><rect x="16" y="1" width="1" height="2" fill="#6010a0"/><rect x="0" y="20" width="2" height="2" fill="#6010a0"/><rect x="11" y="1" width="3" height="2" fill="#a03080"/><rect x="22" y="0" width="1" height="2" fill="#6010a0"/><rect x="14" y="13" width="3" height="2" fill="#6010a0"/><rect x="9" y="23" width="3" height="1" fill="#a03080"/><rect x="3" y="18" width="2" height="2" fill="#a03080"/><rect x="10" y="18" width="1" height="2" fill="#6010a0"/><rect x="14" y="3" width="3" height="2" fill="#a03080"/><rect x="21" y="7" width="1" height="2" fill="#6010a0"/><rect x="0" y="8" width="3" height="1" fill="#a03080"/><rect x="20" y="13" width="3" height="2" fill="#6010a0"/><rect x="22" y="18" width="1" height="1" fill="#a03080"/><rect x="10" y="19" width="2" height="2" fill="#6010a0"/><rect x="19" y="15" width="2" height="2" fill="#a03080"/><rect x="6" y="5" width="2" height="2" fill="#6010a0"/><rect x="1" y="16" width="1" height="2" fill="#6010a0"/><rect x="6" y="15" width="2" height="2" fill="#a03080"/><rect x="10" y="5" width="1" height="2" fill="#a03080"/><rect x="11" y="10" width="2" height="2" fill="#6010a0"/><rect x="0" y="1" width="3" height="2" fill="#6010a0"/><rect x="1" y="22" width="2" height="2" fill="#a03080"/><rect x="12" y="16" width="2" height="2" fill="#6010a0"/><rect x="9" y="16" width="1" height="1" fill="#6010a0"/><rect x="1" y="9" width="2" height="2" fill="#6010a0"/><rect x="15" y="9" width="3" height="2" fill="#6010a0"/><rect x="8" y="0" width="2" height="1" fill="#a03080"/><rect x="22" y="15" width="2" height="2" fill="#6010a0"/><rect x="11" y="9" width="2" height="2" fill="#6010a0"/><rect x="8" y="2" width="2" height="1" fill="#6010a0"/><rect x="23" y="23" width="1" height="1" fill="#a03080"/><rect x="5" y="7" width="2" height="1" fill="#6010a0"/><rect x="0" y="12" width="2" height="2" fill="#6010a0"/></pattern><pattern id="R98" width="24" height="24" patternUnits="userSpaceOnUse"><rect width="24" height="24" fill="#2850d8"/><rect x="5" y="8" width="2" height="2" fill="#60b0e8"/><rect x="16" y="13" width="2" height="1" fill="#1840e0"/><rect x="3" y="9" width="2" height="2" fill="#1030b8"/><rect x="10" y="20" width="2" height="2" fill="#1030b8"/><rect x="12" y="9" width="3" height="2" fill="#4088f0"/><rect x="10" y="17" width="1" height="2" fill="#60b0e8"/><rect x="6" y="2" width="3" height="1" fill="#1030b8"/><rect x="17" y="7" width="2" height="2" fill="#60b0e8"/><rect x="18" y="9" width="1" height="2" fill="#1840e0"/><rect x="16" y="15" width="1" height="2" fill="#1030b8"/><rect x="17" y="22" width="2" height="2" fill="#2020a0"/><rect x="8" y="18" width="2" height="1" fill="#4088f0"/><rect x="18" y="15" width="2" height="2" fill="#4088f0"/><rect x="19" y="16" width="2" height="1" fill="#4088f0"/><rect x="15" y="9" width="1" height="1" fill="#4088f0"/><rect x="6" y="10" width="2" height="1" fill="#2020a0"/><rect x="8" y="12" width="2" height="2" fill="#2020a0"/><rect x="18" y="4" width="1" height="1" fill="#1840e0"/><rect x="11" y="0" width="1" height="2" fill="#1030b8"/><rect x="18" y="14" width="3" height="1" fill="#4088f0"/><rect x="20" y="16" width="2" height="2" fill="#2020a0"/><rect x="18" y="21" width="2" height="1" fill="#4088f0"/><rect x="11" y="6" width="2" height="2" fill="#4088f0"/><rect x="17" y="12" width="1" height="2" fill="#60b0e8"/><rect x="6" y="5" width="2" height="2" fill="#1030b8"/><rect x="2" y="2" width="2" height="2" fill="#4088f0"/><rect x="8" y="7" width="2" height="2" fill="#1840e0"/><rect x="15" y="18" width="2" height="2" fill="#4088f0"/><rect x="18" y="1" width="3" height="2" fill="#60b0e8"/><rect x="22" y="3" width="1" height="2" fill="#4088f0"/><rect x="2" y="1" width="2" height="2" fill="#4088f0"/><rect x="8" y="11" width="3" height="1" fill="#2020a0"/><rect x="14" y="0" width="2" height="1" fill="#1030b8"/><rect x="13" y="5" width="2" height="2" fill="#2020a0"/><rect x="18" y="13" width="1" height="2" fill="#4088f0"/><rect x="16" y="0" width="2" height="2" fill="#1030b8"/><rect x="22" y="15" width="2" height="2" fill="#2020a0"/><rect x="7" y="11" width="2" height="1" fill="#4088f0"/><rect x="15" y="15" width="3" height="2" fill="#1030b8"/><rect x="16" y="19" width="1" height="2" fill="#2020a0"/><rect x="19" y="6" width="3" height="2" fill="#1030b8"/><rect x="9" y="8" width="2" height="2" fill="#60b0e8"/><rect x="23" y="13" width="3" height="2" fill="#2020a0"/><rect x="1" y="13" width="2" height="1" fill="#4088f0"/><rect x="20" y="14" width="3" height="2" fill="#1840e0"/><rect x="1" y="14" width="2" height="2" fill="#1840e0"/><rect x="4" y="4" width="1" height="2" fill="#4088f0"/><rect x="10" y="21" width="1" height="1" fill="#4088f0"/><rect x="8" y="19" width="3" height="1" fill="#4088f0"/><rect x="18" y="7" width="3" height="2" fill="#4088f0"/><rect x="20" y="9" width="2" height="2" fill="#1840e0"/><rect x="14" y="9" width="1" height="1" fill="#4088f0"/><rect x="9" y="7" width="1" height="2" fill="#1840e0"/><rect x="22" y="17" width="3" height="2" fill="#1030b8"/><rect x="13" y="13" width="3" height="1" fill="#2020a0"/><rect x="7" y="8" width="2" height="2" fill="#4088f0"/><rect x="1" y="20" width="2" height="2" fill="#1840e0"/><rect x="19" y="9" width="2" height="2" fill="#1840e0"/><rect x="20" y="23" width="3" height="1" fill="#60b0e8"/><rect x="10" y="14" width="3" height="2" fill="#4088f0"/><rect x="19" y="15" width="2" height="2" fill="#1840e0"/><rect x="14" y="20" width="3" height="1" fill="#1030b8"/><rect x="16" y="1" width="2" height="1" fill="#1840e0"/><rect x="23" y="7" width="2" height="2" fill="#4088f0"/><rect x="1" y="18" width="2" height="2" fill="#1840e0"/><rect x="17" y="22" width="2" height="2" fill="#4088f0"/><rect x="13" y="22" width="2" height="1" fill="#1030b8"/><rect x="14" y="15" width="2" height="2" fill="#1030b8"/><rect x="14" y="13" width="2" height="2" fill="#1030b8"/><rect x="6" y="0" width="2" height="2" fill="#2020a0"/><rect x="8" y="21" width="3" height="2" fill="#4088f0"/><rect x="6" y="7" width="2" height="1" fill="#1030b8"/><rect x="3" y="5" width="3" height="1" fill="#4088f0"/><rect x="11" y="9" width="1" height="2" fill="#60b0e8"/><rect x="15" y="21" width="2" height="2" fill="#4088f0"/><rect x="11" y="17" width="2" height="2" fill="#4088f0"/><rect x="11" y="16" width="2" height="1" fill="#1030b8"/><rect x="3" y="19" width="1" height="1" fill="#1030b8"/><rect x="8" y="20" width="1" height="2" fill="#1030b8"/><rect x="0" y="20" width="2" height="1" fill="#1030b8"/><rect x="1" y="1" width="1" height="2" fill="#4088f0"/><rect x="2" y="13" width="3" height="2" fill="#1030b8"/><rect x="12" y="19" width="3" height="2" fill="#2020a0"/><rect x="17" y="6" width="3" height="2" fill="#4088f0"/><rect x="18" y="8" width="2" height="2" fill="#4088f0"/><rect x="7" y="15" width="2" height="2" fill="#1840e0"/><rect x="15" y="6" width="2" height="2" fill="#1030b8"/><rect x="4" y="2" width="2" height="1" fill="#60b0e8"/><rect x="3" y="8" width="1" height="2" fill="#1030b8"/><rect x="0" y="6" width="3" height="2" fill="#1030b8"/><rect x="18" y="4" width="2" height="1" fill="#1840e0"/><rect x="22" y="6" width="2" height="1" fill="#1030b8"/><rect x="0" y="10" width="1" height="2" fill="#1030b8"/><rect x="2" y="17" width="1" height="2" fill="#60b0e8"/><rect x="13" y="3" width="2" height="2" fill="#1840e0"/><rect x="18" y="2" width="1" height="2" fill="#1840e0"/><rect x="4" y="19" width="3" height="2" fill="#1030b8"/><rect x="5" y="0" width="3" height="2" fill="#2020a0"/><rect x="6" y="22" width="2" height="2" fill="#2020a0"/><rect x="10" y="21" width="3" height="1" fill="#1840e0"/><rect x="1" y="22" width="1" height="2" fill="#4088f0"/><rect x="7" y="7" width="3" height="1" fill="#1030b8"/><rect x="12" y="16" width="2" height="1" fill="#4088f0"/><rect x="16" y="18" width="2" height="2" fill="#4088f0"/><rect x="9" y="2" width="3" height="1" fill="#4088f0"/><rect x="12" y="8" width="1" height="1" fill="#1030b8"/><rect x="4" y="22" width="2" height="2" fill="#2020a0"/><rect x="3" y="21" width="1" height="1" fill="#60b0e8"/><rect x="19" y="1" width="2" height="1" fill="#1030b8"/><rect x="18" y="7" width="3" height="1" fill="#1030b8"/><rect x="13" y="12" width="3" height="2" fill="#60b0e8"/><rect x="21" y="9" width="2" height="2" fill="#2020a0"/><rect x="16" y="9" width="2" height="1" fill="#60b0e8"/><rect x="7" y="8" width="2" height="2" fill="#1840e0"/><rect x="5" y="5" width="2" height="2" fill="#1840e0"/></pattern><pattern id="R107" width="24" height="24" patternUnits="userSpaceOnUse"><rect width="24" height="24" fill="#1828b0"/><rect x="21" y="4" width="3" height="2" fill="#0818a0"/><rect x="13" y="2" width="1" height="2" fill="#2040d0"/><rect x="18" y="12" width="2" height="2" fill="#2040d0"/><rect x="4" y="21" width="3" height="2" fill="#0818a0"/><rect x="3" y="10" width="1" height="2" fill="#0818a0"/><rect x="22" y="5" width="3" height="2" fill="#101890"/><rect x="2" y="6" width="2" height="2" fill="#2040d0"/><rect x="12" y="17" width="2" height="1" fill="#101890"/><rect x="5" y="1" width="2" height="2" fill="#2040d0"/><rect x="10" y="9" width="1" height="1" fill="#2040d0"/><rect x="8" y="11" width="2" height="2" fill="#0818a0"/><rect x="19" y="12" width="3" height="2" fill="#2040d0"/><rect x="20" y="8" width="2" height="1" fill="#101890"/><rect x="10" y="12" width="2" height="2" fill="#2040d0"/><rect x="12" y="21" width="2" height="2" fill="#2040d0"/><rect x="18" y="18" width="2" height="2" fill="#0818a0"/><rect x="4" y="17" width="2" height="1" fill="#101890"/><rect x="3" y="18" width="2" height="2" fill="#101890"/><rect x="9" y="2" width="2" height="2" fill="#101890"/><rect x="13" y="7" width="1" height="2" fill="#2040d0"/><rect x="0" y="20" width="2" height="1" fill="#0818a0"/><rect x="2" y="9" width="2" height="2" fill="#101890"/><rect x="9" y="13" width="3" height="1" fill="#101890"/><rect x="2" y="16" width="1" height="1" fill="#0818a0"/><rect x="8" y="17" width="2" height="2" fill="#0818a0"/><rect x="21" y="10" width="2" height="1" fill="#0818a0"/><rect x="17" y="22" width="2" height="2" fill="#2040d0"/><rect x="12" y="11" width="1" height="2" fill="#101890"/><rect x="3" y="13" width="2" height="2" fill="#2040d0"/><rect x="4" y="1" width="2" height="2" fill="#101890"/><rect x="12" y="20" width="1" height="2" fill="#0818a0"/><rect x="7" y="8" width="2" height="2" fill="#2040d0"/><rect x="4" y="17" width="1" height="1" fill="#2040d0"/><rect x="16" y="19" width="1" height="1" fill="#2040d0"/><rect x="8" y="9" width="2" height="1" fill="#101890"/><rect x="20" y="3" width="2" height="2" fill="#0818a0"/><rect x="11" y="15" width="2" height="2" fill="#0818a0"/><rect x="10" y="1" width="1" height="1" fill="#101890"/><rect x="21" y="14" width="3" height="2" fill="#0818a0"/><rect x="7" y="14" width="2" height="1" fill="#0818a0"/><rect x="16" y="21" width="2" height="2" fill="#0818a0"/><rect x="20" y="10" width="1" height="2" fill="#2040d0"/><rect x="22" y="12" width="2" height="2" fill="#0818a0"/><rect x="15" y="1" width="2" height="2" fill="#2040d0"/><rect x="7" y="6" width="2" height="2" fill="#0818a0"/><rect x="21" y="6" width="2" height="1" fill="#0818a0"/><rect x="4" y="19" width="1" height="2" fill="#101890"/><rect x="14" y="6" width="3" height="1" fill="#0818a0"/><rect x="5" y="19" width="3" height="2" fill="#2040d0"/><rect x="5" y="4" width="2" height="1" fill="#101890"/><rect x="14" y="13" width="2" height="1" fill="#2040d0"/><rect x="21" y="13" width="1" height="2" fill="#2040d0"/><rect x="9" y="5" width="1" height="2" fill="#101890"/><rect x="17" y="0" width="3" height="2" fill="#0818a0"/><rect x="3" y="12" width="3" height="1" fill="#2040d0"/><rect x="13" y="5" width="3" height="2" fill="#101890"/><rect x="1" y="19" width="2" height="1" fill="#0818a0"/><rect x="23" y="6" width="1" height="1" fill="#0818a0"/><rect x="9" y="10" width="2" height="2" fill="#2040d0"/><rect x="0" y="0" width="2" height="1" fill="#2040d0"/><rect x="21" y="13" width="3" height="1" fill="#0818a0"/><rect x="16" y="13" width="2" height="2" fill="#101890"/><rect x="13" y="20" width="2" height="2" fill="#2040d0"/><rect x="17" y="6" width="3" height="1" fill="#2040d0"/><rect x="3" y="19" width="3" height="1" fill="#101890"/><rect x="5" y="0" width="1" height="1" fill="#0818a0"/><rect x="1" y="3" width="2" height="1" fill="#0818a0"/><rect x="0" y="6" width="2" height="1" fill="#0818a0"/><rect x="17" y="12" width="3" height="2" fill="#2040d0"/><rect x="7" y="5" width="1" height="2" fill="#2040d0"/><rect x="21" y="22" width="2" height="2" fill="#101890"/><rect x="14" y="7" width="2" height="2" fill="#2040d0"/><rect x="13" y="6" width="1" height="2" fill="#2040d0"/><rect x="11" y="22" width="2" height="2" fill="#2040d0"/><rect x="14" y="23" width="2" height="2" fill="#0818a0"/><rect x="16" y="14" width="1" height="1" fill="#0818a0"/><rect x="20" y="11" width="1" height="1" fill="#101890"/><rect x="16" y="18" width="2" height="2" fill="#2040d0"/><rect x="11" y="15" width="1" height="2" fill="#2040d0"/><rect x="11" y="23" width="1" height="2" fill="#2040d0"/><rect x="23" y="5" width="1" height="1" fill="#101890"/><rect x="7" y="2" width="1" height="2" fill="#2040d0"/><rect x="6" y="15" width="2" height="1" fill="#101890"/><rect x="2" y="13" width="3" height="2" fill="#2040d0"/><rect x="19" y="6" width="2" height="2" fill="#2040d0"/><rect x="6" y="22" width="1" height="2" fill="#101890"/><rect x="5" y="23" width="3" height="2" fill="#0818a0"/><rect x="4" y="3" width="1" height="2" fill="#101890"/><rect x="16" y="21" width="2" height="2" fill="#2040d0"/><rect x="11" y="18" width="2" height="1" fill="#0818a0"/><rect x="13" y="13" width="2" height="1" fill="#0818a0"/><rect x="5" y="9" width="2" height="2" fill="#0818a0"/><rect x="23" y="11" width="1" height="1" fill="#0818a0"/><rect x="20" y="4" width="2" height="2" fill="#101890"/><rect x="13" y="8" width="1" height="2" fill="#2040d0"/><rect x="14" y="1" width="3" height="2" fill="#2040d0"/><rect x="3" y="4" width="3" height="2" fill="#2040d0"/><rect x="6" y="16" width="3" height="2" fill="#101890"/><rect x="23" y="2" width="2" height="1" fill="#0818a0"/><rect x="4" y="22" width="2" height="1" fill="#0818a0"/><rect x="21" y="18" width="2" height="1" fill="#0818a0"/><rect x="20" y="16" width="2" height="1" fill="#101890"/><rect x="16" y="5" width="1" height="1" fill="#0818a0"/><rect x="14" y="4" width="2" height="2" fill="#0818a0"/><rect x="20" y="23" width="2" height="2" fill="#0818a0"/><rect x="5" y="23" width="3" height="2" fill="#101890"/><rect x="13" y="21" width="3" height="2" fill="#2040d0"/><rect x="16" y="4" width="3" height="2" fill="#2040d0"/><rect x="13" y="4" width="2" height="2" fill="#2040d0"/><rect x="14" y="6" width="2" height="2" fill="#101890"/><rect x="11" y="13" width="2" height="2" fill="#101890"/><rect x="14" y="6" width="3" height="1" fill="#2040d0"/><rect x="19" y="19" width="1" height="1" fill="#2040d0"/><rect x="15" y="8" width="1" height="1" fill="#101890"/><rect x="15" y="3" width="2" height="2" fill="#0818a0"/></pattern><filter id="sea" x="0" y="0" width="100%" height="100%" color-interpolation-filters="sRGB"><feTurbulence type="fractalNoise" baseFrequency="0.24" numOctaves="2" seed="7" result="t"/><feColorMatrix in="t" type="matrix" values="1 0 0 0 0  -1 0 0 0 1  0 0 0 0 0  0 0 0 0 1" result="t2"/><feComponentTransfer in="t2" result="amt"><feFuncR type="linear" slope="5" intercept="-3.0"/><feFuncG type="linear" slope="5" intercept="-3.0"/></feComponentTransfer><feColorMatrix in="amt" type="matrix" values="-0.03 -0.30 0 0 1  -0.24 -0.08 0 0 1  -0.11 -0.06 0 0 1  0 0 0 0 1"/></filter><clipPath id="clipL"><polygon points="72.0,64 80.0,64 113.0,62.7 113.0,56.5 144.0,56.5 144.0,48.5 170.0,48.5 170.0,46.4 200.0,46.4 200.0,40.4 224.5,40.4 224.5,32.7 256.7,32.7 256.7,303 173.5,303 172.6,300.8 169.4,294 169.4,285.3 167.1,282 162.6,283 158.3,278.7 153.9,270 152.6,264 151.6,256.5 153.9,248.5 160.6,245.5 167.1,242 170.6,236 169.1,230 163.1,226.5 155.1,222.5 153.6,226 154.1,242.5 150.6,243.5 148.6,242 146.6,228 143.6,214 139.5,210 136.0,203 132.4,199.6 129.8,196 130.7,192.5 123.6,183.6 118.2,180 114.7,181 114.7,178.3 116.5,174.8 111.2,167.7 104.6,158 98.8,150 93.9,140 91.6,135.4 90.4,130.7 89.6,125 84.5,121.8 82.7,120 80.9,116.5 78.6,114.7 75.6,113.6 73.3,110.6 72.1,107.1 71.5,103.5 71.8,100 71.2,94.2 70.6,89.5 70.6,84.8 71.8,81.8 74.2,78.9 74.8,75.3 73.6,73 74.8,68.8"/></clipPath><clipPath id="clipR"><polygon points="354.4,64 366.4,64 498.4,39 504.4,39 504.4,32.7 539.1,32.7 539.1,303 455.9,303 455.0,300.8 451.8,294 451.8,285.3 449.5,282 445.0,283 440.7,278.7 436.3,270 435.0,264 434.0,256.5 436.3,248.5 443.0,245.5 449.5,242 453.0,236 451.5,230 445.5,226.5 437.5,222.5 436.0,226 436.5,242.5 433.0,243.5 431.0,242 429.0,228 426.0,214 421.9,210 418.4,203 414.8,199.6 412.2,196 413.1,192.5 406.0,183.6 400.6,180 397.1,181 397.1,178.3 398.9,174.8 393.6,167.7 387.0,158 381.2,150 376.3,140 374.0,135.4 372.8,130.7 372.0,125 366.9,121.8 365.1,120 363.3,116.5 361.0,114.7 358.0,113.6 355.7,110.6 354.5,107.1 353.9,103.5 354.2,100 353.6,94.2 353.0,89.5 353.0,84.8 354.2,81.8 356.6,78.9 357.2,75.3 356.0,73 357.2,68.8"/></clipPath><clipPath id="seaclip"><path d="M0,125h30v214h-30z M30,305h26v34h-26z M256.7,245h26v94h-26z M257,172h25v73h-25z M30,120h10v10h-10zM40,120h10v10h-10zM50,120h10v10h-10zM60,120h10v10h-10zM70,120h10v10h-10zM30,130h10v10h-10zM40,130h10v10h-10zM50,130h10v10h-10zM60,130h10v10h-10zM70,130h10v10h-10zM80,130h10v10h-10zM30,140h10v10h-10zM40,140h10v10h-10zM50,140h10v10h-10zM60,140h10v10h-10zM70,140h10v10h-10zM80,140h10v10h-10zM30,150h10v10h-10zM40,150h10v10h-10zM50,150h10v10h-10zM60,150h10v10h-10zM70,150h10v10h-10zM80,150h10v10h-10zM30,160h10v10h-10zM40,160h10v10h-10zM50,160h10v10h-10zM60,160h10v10h-10zM70,160h10v10h-10zM80,160h10v10h-10zM90,160h10v10h-10zM30,170h10v10h-10zM40,170h10v10h-10zM50,170h10v10h-10zM60,170h10v10h-10zM70,170h10v10h-10zM80,170h10v10h-10zM90,170h10v10h-10zM100,170h10v10h-10zM30,180h10v10h-10zM40,180h10v10h-10zM50,180h10v10h-10zM60,180h10v10h-10zM70,180h10v10h-10zM80,180h10v10h-10zM90,180h10v10h-10zM100,180h10v10h-10zM110,180h10v10h-10zM30,190h10v10h-10zM40,190h10v10h-10zM50,190h10v10h-10zM60,190h10v10h-10zM70,190h10v10h-10zM80,190h10v10h-10zM90,190h10v10h-10zM100,190h10v10h-10zM110,190h10v10h-10zM120,190h10v10h-10zM30,200h10v10h-10zM40,200h10v10h-10zM50,200h10v10h-10zM60,200h10v10h-10zM70,200h10v10h-10zM80,200h10v10h-10zM90,200h10v10h-10zM100,200h10v10h-10zM110,200h10v10h-10zM120,200h10v10h-10zM30,210h10v10h-10zM40,210h10v10h-10zM50,210h10v10h-10zM60,210h10v10h-10zM70,210h10v10h-10zM80,210h10v10h-10zM90,210h10v10h-10zM100,210h10v10h-10zM110,210h10v10h-10zM120,210h10v10h-10zM130,210h10v10h-10zM30,220h10v10h-10zM40,220h10v10h-10zM50,220h10v10h-10zM60,220h10v10h-10zM70,220h10v10h-10zM80,220h10v10h-10zM90,220h10v10h-10zM100,220h10v10h-10zM110,220h10v10h-10zM120,220h10v10h-10zM130,220h10v10h-10zM30,230h10v10h-10zM40,230h10v10h-10zM50,230h10v10h-10zM60,230h10v10h-10zM70,230h10v10h-10zM80,230h10v10h-10zM90,230h10v10h-10zM100,230h10v10h-10zM110,230h10v10h-10zM120,230h10v10h-10zM130,230h10v10h-10zM30,240h10v10h-10zM40,240h10v10h-10zM50,240h10v10h-10zM60,240h10v10h-10zM70,240h10v10h-10zM80,240h10v10h-10zM90,240h10v10h-10zM100,240h10v10h-10zM110,240h10v10h-10zM120,240h10v10h-10zM250,240h10v10h-10zM30,250h10v10h-10zM40,250h10v10h-10zM50,250h10v10h-10zM60,250h10v10h-10zM70,250h10v10h-10zM80,250h10v10h-10zM90,250h10v10h-10zM100,250h10v10h-10zM110,250h10v10h-10zM120,250h10v10h-10zM240,250h10v10h-10zM250,250h10v10h-10zM30,260h10v10h-10zM40,260h10v10h-10zM50,260h10v10h-10zM60,260h10v10h-10zM70,260h10v10h-10zM80,260h10v10h-10zM90,260h10v10h-10zM100,260h10v10h-10zM110,260h10v10h-10zM120,260h10v10h-10zM240,260h10v10h-10zM250,260h10v10h-10zM30,270h10v10h-10zM40,270h10v10h-10zM50,270h10v10h-10zM60,270h10v10h-10zM70,270h10v10h-10zM80,270h10v10h-10zM90,270h10v10h-10zM100,270h10v10h-10zM110,270h10v10h-10zM120,270h10v10h-10zM240,270h10v10h-10zM250,270h10v10h-10zM30,280h10v10h-10zM40,280h10v10h-10zM50,280h10v10h-10zM60,280h10v10h-10zM70,280h10v10h-10zM80,280h10v10h-10zM90,280h10v10h-10zM100,280h10v10h-10zM110,280h10v10h-10zM120,280h10v10h-10zM240,280h10v10h-10zM250,280h10v10h-10zM30,290h10v10h-10zM40,290h10v10h-10zM50,290h10v10h-10zM60,290h10v10h-10zM70,290h10v10h-10zM80,290h10v10h-10zM90,290h10v10h-10zM100,290h10v10h-10zM110,290h10v10h-10zM120,290h10v10h-10zM130,290h10v10h-10zM240,290h10v10h-10zM250,290h10v10h-10zM30,300h10v10h-10zM40,300h10v10h-10zM50,300h10v10h-10zM60,300h10v10h-10zM70,300h10v10h-10zM80,300h10v10h-10zM90,300h10v10h-10zM100,300h10v10h-10zM110,300h10v10h-10zM120,300h10v10h-10zM130,300h10v10h-10zM240,300h10v10h-10zM250,300h10v10h-10z"/></clipPath></defs>
<rect x="0" y="124" width="290" height="215" filter="url(#sea)" clip-path="url(#seaclip)"/>
<path d="M56,312h62v21h-62z" fill="#fdecf5"/>
<path d="M118,305h114v26h-114z" fill="#e6fafa"/>
<path d="M341,312h57v19h-57z" fill="#fdecf5"/>
<path d="M398,305h113v26h-113z" fill="#e6fafa"/>
<g style="filter:blur(1px)">
<path d="M240,25h5v5h-5zM215,35h5v5h-5zM225,30h5v5h-5zM220,35h5v5h-5zM225,35h5v5h-5zM230,30h5v5h-5zM235,30h5v5h-5zM230,35h5v5h-5zM235,35h5v5h-5zM245,30h5v5h-5zM240,35h5v5h-5zM245,35h5v5h-5zM250,30h5v5h-5zM255,30h5v5h-5zM250,35h5v5h-5zM255,35h5v5h-5zM230,40h5v5h-5zM235,40h5v5h-5zM230,45h5v5h-5zM235,45h5v5h-5zM240,40h5v5h-5zM245,40h5v5h-5zM240,45h5v5h-5zM245,45h5v5h-5zM250,40h5v5h-5zM255,40h5v5h-5zM255,45h5v5h-5zM85,55h5v5h-5zM230,50h5v5h-5zM235,50h5v5h-5zM230,55h5v5h-5zM235,55h5v5h-5zM240,55h5v5h-5zM245,55h5v5h-5zM250,50h5v5h-5zM255,50h5v5h-5zM250,55h5v5h-5zM255,55h5v5h-5zM80,60h5v5h-5zM85,60h5v5h-5zM85,65h5v5h-5zM230,60h5v5h-5zM235,60h5v5h-5zM230,65h5v5h-5zM85,70h5v5h-5zM245,75h5v5h-5zM250,70h5v5h-5zM250,75h5v5h-5zM255,75h5v5h-5zM80,80h5v5h-5zM85,80h5v5h-5zM80,85h5v5h-5zM85,85h5v5h-5zM90,85h5v5h-5zM145,85h5v5h-5zM235,80h5v5h-5zM230,85h5v5h-5zM235,85h5v5h-5zM240,80h5v5h-5zM245,80h5v5h-5zM240,85h5v5h-5zM245,85h5v5h-5zM250,80h5v5h-5zM255,80h5v5h-5zM135,95h5v5h-5zM155,90h5v5h-5zM150,95h5v5h-5zM155,95h5v5h-5zM160,90h5v5h-5zM165,90h5v5h-5zM160,95h5v5h-5zM165,95h5v5h-5zM170,90h5v5h-5zM175,90h5v5h-5zM170,95h5v5h-5zM230,90h5v5h-5zM230,95h5v5h-5zM145,100h5v5h-5zM140,105h5v5h-5zM150,100h5v5h-5zM155,100h5v5h-5zM150,105h5v5h-5zM155,105h5v5h-5zM160,100h5v5h-5zM165,100h5v5h-5zM160,105h5v5h-5zM165,105h5v5h-5zM170,100h5v5h-5zM175,100h5v5h-5zM180,100h5v5h-5zM140,110h5v5h-5zM215,115h5v5h-5zM230,115h5v5h-5zM95,125h5v5h-5zM130,120h5v5h-5zM135,120h5v5h-5zM130,125h5v5h-5zM135,125h5v5h-5zM140,120h5v5h-5zM160,125h5v5h-5zM170,125h5v5h-5zM200,120h5v5h-5zM205,120h5v5h-5zM200,125h5v5h-5zM205,125h5v5h-5zM215,120h5v5h-5zM210,125h5v5h-5zM215,125h5v5h-5zM220,120h5v5h-5zM225,120h5v5h-5zM220,125h5v5h-5zM225,125h5v5h-5zM230,120h5v5h-5zM230,125h5v5h-5zM235,125h5v5h-5zM245,125h5v5h-5zM90,130h5v5h-5zM95,130h5v5h-5zM90,135h5v5h-5zM100,130h5v5h-5zM100,135h5v5h-5zM125,135h5v5h-5zM130,130h5v5h-5zM135,130h5v5h-5zM135,135h5v5h-5zM140,130h5v5h-5zM160,130h5v5h-5zM165,130h5v5h-5zM160,135h5v5h-5zM165,135h5v5h-5zM170,130h5v5h-5zM175,130h5v5h-5zM170,135h5v5h-5zM175,135h5v5h-5zM200,130h5v5h-5zM205,130h5v5h-5zM200,135h5v5h-5zM210,130h5v5h-5zM215,130h5v5h-5zM210,135h5v5h-5zM215,135h5v5h-5zM220,130h5v5h-5zM225,130h5v5h-5zM220,135h5v5h-5zM225,135h5v5h-5zM230,130h5v5h-5zM235,130h5v5h-5zM230,135h5v5h-5zM235,135h5v5h-5zM240,130h5v5h-5zM245,130h5v5h-5zM240,135h5v5h-5zM95,140h5v5h-5zM100,140h5v5h-5zM105,140h5v5h-5zM100,145h5v5h-5zM105,145h5v5h-5zM110,145h5v5h-5zM130,140h5v5h-5zM135,140h5v5h-5zM160,140h5v5h-5zM165,140h5v5h-5zM160,145h5v5h-5zM165,145h5v5h-5zM170,140h5v5h-5zM175,140h5v5h-5zM170,145h5v5h-5zM175,145h5v5h-5zM180,145h5v5h-5zM210,140h5v5h-5zM215,140h5v5h-5zM220,140h5v5h-5zM240,140h5v5h-5zM245,140h5v5h-5zM240,145h5v5h-5zM245,145h5v5h-5zM105,150h5v5h-5zM100,155h5v5h-5zM105,155h5v5h-5zM110,155h5v5h-5zM160,150h5v5h-5zM165,150h5v5h-5zM160,155h5v5h-5zM165,155h5v5h-5zM170,150h5v5h-5zM175,150h5v5h-5zM170,155h5v5h-5zM175,155h5v5h-5zM180,150h5v5h-5zM185,150h5v5h-5zM180,155h5v5h-5zM185,155h5v5h-5zM190,150h5v5h-5zM195,150h5v5h-5zM190,155h5v5h-5zM195,155h5v5h-5zM240,150h5v5h-5zM245,155h5v5h-5zM250,150h5v5h-5zM255,150h5v5h-5zM250,155h5v5h-5zM255,155h5v5h-5zM105,160h5v5h-5zM170,160h5v5h-5zM175,160h5v5h-5zM175,165h5v5h-5zM180,160h5v5h-5zM185,160h5v5h-5zM180,165h5v5h-5zM185,165h5v5h-5zM190,160h5v5h-5zM195,160h5v5h-5zM190,165h5v5h-5zM195,165h5v5h-5zM240,160h5v5h-5zM250,160h5v5h-5zM255,160h5v5h-5zM250,165h5v5h-5zM255,165h5v5h-5zM180,170h5v5h-5zM185,170h5v5h-5zM190,170h5v5h-5zM195,170h5v5h-5zM190,175h5v5h-5zM195,175h5v5h-5zM200,170h5v5h-5zM205,170h5v5h-5zM200,175h5v5h-5zM205,175h5v5h-5zM215,170h5v5h-5zM215,175h5v5h-5zM210,180h5v5h-5zM140,210h5v5h-5zM140,215h5v5h-5zM145,215h5v5h-5zM150,215h5v5h-5zM150,220h5v5h-5zM150,225h5v5h-5zM170,225h5v5h-5zM175,230h5v5h-5zM170,235h5v5h-5zM175,235h5v5h-5zM165,240h5v5h-5zM160,245h5v5h-5zM165,245h5v5h-5zM165,265h5v5h-5zM175,260h5v5h-5zM170,265h5v5h-5zM155,270h5v5h-5zM160,290h5v5h-5zM165,290h5v5h-5zM160,295h5v5h-5zM165,295h5v5h-5zM165,300h5v5h-5zM170,300h5v5h-5zM175,300h5v5h-5zM175,305h5v5h-5z" fill="url(#L46)" clip-path="url(#clipL)"/>
<path d="M165,35h5v5h-5zM105,45h5v5h-5zM120,45h5v5h-5zM125,45h5v5h-5zM155,40h5v5h-5zM150,45h5v5h-5zM155,45h5v5h-5zM160,40h5v5h-5zM165,40h5v5h-5zM160,45h5v5h-5zM165,45h5v5h-5zM170,40h5v5h-5zM175,40h5v5h-5zM170,45h5v5h-5zM175,45h5v5h-5zM180,40h5v5h-5zM185,45h5v5h-5zM190,40h5v5h-5zM195,40h5v5h-5zM190,45h5v5h-5zM195,45h5v5h-5zM250,45h5v5h-5zM90,50h5v5h-5zM90,55h5v5h-5zM95,55h5v5h-5zM100,50h5v5h-5zM105,55h5v5h-5zM110,50h5v5h-5zM115,50h5v5h-5zM110,55h5v5h-5zM125,50h5v5h-5zM120,55h5v5h-5zM125,55h5v5h-5zM130,50h5v5h-5zM135,50h5v5h-5zM145,50h5v5h-5zM150,50h5v5h-5zM155,50h5v5h-5zM150,55h5v5h-5zM160,50h5v5h-5zM165,50h5v5h-5zM160,55h5v5h-5zM165,55h5v5h-5zM190,50h5v5h-5zM195,50h5v5h-5zM195,55h5v5h-5zM200,50h5v5h-5zM240,50h5v5h-5zM245,50h5v5h-5zM115,60h5v5h-5zM160,60h5v5h-5zM165,60h5v5h-5zM220,60h5v5h-5zM225,60h5v5h-5zM225,65h5v5h-5zM240,60h5v5h-5zM245,60h5v5h-5zM255,60h5v5h-5zM250,65h5v5h-5zM255,65h5v5h-5zM225,70h5v5h-5zM225,75h5v5h-5zM230,80h5v5h-5zM250,85h5v5h-5zM235,90h5v5h-5zM235,95h5v5h-5zM240,90h5v5h-5zM245,90h5v5h-5zM240,95h5v5h-5zM250,90h5v5h-5zM105,105h5v5h-5zM115,105h5v5h-5zM105,110h5v5h-5zM110,110h5v5h-5zM115,110h5v5h-5zM115,115h5v5h-5zM205,135h5v5h-5zM205,145h5v5h-5zM210,145h5v5h-5zM215,145h5v5h-5zM225,140h5v5h-5zM220,145h5v5h-5zM225,145h5v5h-5zM210,150h5v5h-5zM215,150h5v5h-5zM210,155h5v5h-5zM215,155h5v5h-5zM235,155h5v5h-5zM155,160h5v5h-5zM150,165h5v5h-5zM155,165h5v5h-5zM160,160h5v5h-5zM165,160h5v5h-5zM160,165h5v5h-5zM165,165h5v5h-5zM170,165h5v5h-5zM205,160h5v5h-5zM210,160h5v5h-5zM215,160h5v5h-5zM210,165h5v5h-5zM215,165h5v5h-5zM235,160h5v5h-5zM245,160h5v5h-5zM245,165h5v5h-5zM155,170h5v5h-5zM160,170h5v5h-5zM165,170h5v5h-5zM160,175h5v5h-5zM165,175h5v5h-5zM250,170h5v5h-5zM255,170h5v5h-5zM245,180h5v5h-5zM150,250h5v5h-5zM160,255h5v5h-5zM150,260h5v5h-5zM155,260h5v5h-5zM150,265h5v5h-5zM155,265h5v5h-5zM160,260h5v5h-5zM165,260h5v5h-5zM160,265h5v5h-5zM215,260h5v5h-5zM215,265h5v5h-5zM220,260h5v5h-5zM220,265h5v5h-5zM155,275h5v5h-5zM160,270h5v5h-5zM160,275h5v5h-5zM170,270h5v5h-5zM210,270h5v5h-5zM160,280h5v5h-5zM160,285h5v5h-5zM170,280h5v5h-5zM170,290h5v5h-5z" fill="url(#L99)" clip-path="url(#clipL)"/>
<path d="M205,35h5v5h-5zM140,45h5v5h-5zM180,45h5v5h-5zM200,40h5v5h-5zM200,45h5v5h-5zM210,40h5v5h-5zM215,40h5v5h-5zM210,45h5v5h-5zM215,45h5v5h-5zM135,55h5v5h-5zM140,50h5v5h-5zM140,55h5v5h-5zM145,55h5v5h-5zM175,55h5v5h-5zM180,50h5v5h-5zM185,50h5v5h-5zM180,55h5v5h-5zM185,55h5v5h-5zM190,55h5v5h-5zM205,55h5v5h-5zM210,50h5v5h-5zM215,50h5v5h-5zM210,55h5v5h-5zM215,55h5v5h-5zM220,50h5v5h-5zM225,50h5v5h-5zM220,55h5v5h-5zM225,55h5v5h-5zM130,60h5v5h-5zM135,60h5v5h-5zM130,65h5v5h-5zM135,65h5v5h-5zM140,60h5v5h-5zM145,60h5v5h-5zM140,65h5v5h-5zM145,65h5v5h-5zM170,60h5v5h-5zM175,60h5v5h-5zM170,65h5v5h-5zM175,65h5v5h-5zM180,60h5v5h-5zM185,60h5v5h-5zM180,65h5v5h-5zM185,65h5v5h-5zM190,60h5v5h-5zM195,60h5v5h-5zM190,65h5v5h-5zM195,65h5v5h-5zM200,60h5v5h-5zM205,60h5v5h-5zM200,65h5v5h-5zM205,65h5v5h-5zM210,60h5v5h-5zM215,60h5v5h-5zM210,65h5v5h-5zM215,65h5v5h-5zM220,65h5v5h-5zM110,75h5v5h-5zM115,75h5v5h-5zM120,70h5v5h-5zM125,70h5v5h-5zM120,75h5v5h-5zM125,75h5v5h-5zM135,70h5v5h-5zM130,75h5v5h-5zM135,75h5v5h-5zM140,70h5v5h-5zM145,70h5v5h-5zM140,75h5v5h-5zM145,75h5v5h-5zM150,70h5v5h-5zM170,70h5v5h-5zM175,70h5v5h-5zM175,75h5v5h-5zM180,70h5v5h-5zM185,70h5v5h-5zM180,75h5v5h-5zM185,75h5v5h-5zM190,70h5v5h-5zM195,70h5v5h-5zM190,75h5v5h-5zM195,75h5v5h-5zM200,70h5v5h-5zM205,70h5v5h-5zM200,75h5v5h-5zM205,75h5v5h-5zM235,70h5v5h-5zM240,70h5v5h-5zM245,70h5v5h-5zM240,75h5v5h-5zM100,80h5v5h-5zM105,80h5v5h-5zM100,85h5v5h-5zM105,85h5v5h-5zM115,85h5v5h-5zM120,85h5v5h-5zM125,85h5v5h-5zM130,80h5v5h-5zM135,80h5v5h-5zM130,85h5v5h-5zM135,85h5v5h-5zM145,80h5v5h-5zM140,85h5v5h-5zM165,85h5v5h-5zM170,80h5v5h-5zM175,80h5v5h-5zM175,85h5v5h-5zM180,80h5v5h-5zM185,80h5v5h-5zM180,85h5v5h-5zM185,85h5v5h-5zM190,80h5v5h-5zM195,80h5v5h-5zM190,85h5v5h-5zM195,85h5v5h-5zM200,80h5v5h-5zM205,80h5v5h-5zM200,85h5v5h-5zM205,85h5v5h-5zM95,95h5v5h-5zM100,90h5v5h-5zM105,90h5v5h-5zM100,95h5v5h-5zM105,95h5v5h-5zM115,90h5v5h-5zM110,95h5v5h-5zM115,95h5v5h-5zM120,90h5v5h-5zM125,90h5v5h-5zM125,95h5v5h-5zM130,90h5v5h-5zM135,90h5v5h-5zM130,95h5v5h-5zM140,90h5v5h-5zM145,90h5v5h-5zM140,95h5v5h-5zM145,95h5v5h-5zM175,95h5v5h-5zM180,90h5v5h-5zM185,90h5v5h-5zM185,95h5v5h-5zM190,90h5v5h-5zM195,90h5v5h-5zM190,95h5v5h-5zM195,95h5v5h-5zM200,90h5v5h-5zM205,90h5v5h-5zM200,95h5v5h-5zM205,95h5v5h-5zM210,90h5v5h-5zM215,90h5v5h-5zM210,95h5v5h-5zM215,95h5v5h-5zM245,95h5v5h-5zM250,95h5v5h-5zM95,100h5v5h-5zM90,105h5v5h-5zM95,105h5v5h-5zM100,100h5v5h-5zM105,100h5v5h-5zM100,105h5v5h-5zM110,100h5v5h-5zM115,100h5v5h-5zM110,105h5v5h-5zM140,100h5v5h-5zM190,100h5v5h-5zM195,100h5v5h-5zM190,105h5v5h-5zM195,105h5v5h-5zM200,100h5v5h-5zM200,105h5v5h-5zM205,105h5v5h-5zM210,100h5v5h-5zM220,100h5v5h-5zM225,100h5v5h-5zM235,105h5v5h-5zM240,100h5v5h-5zM245,100h5v5h-5zM240,105h5v5h-5zM245,105h5v5h-5zM250,100h5v5h-5zM255,100h5v5h-5zM250,105h5v5h-5zM255,105h5v5h-5zM90,110h5v5h-5zM95,110h5v5h-5zM155,110h5v5h-5zM150,115h5v5h-5zM155,115h5v5h-5zM160,115h5v5h-5zM175,115h5v5h-5zM180,110h5v5h-5zM185,110h5v5h-5zM195,110h5v5h-5zM190,115h5v5h-5zM195,115h5v5h-5zM205,110h5v5h-5zM200,115h5v5h-5zM205,115h5v5h-5zM215,110h5v5h-5zM210,115h5v5h-5zM220,110h5v5h-5zM225,110h5v5h-5zM220,115h5v5h-5zM225,115h5v5h-5zM230,110h5v5h-5zM240,110h5v5h-5zM245,110h5v5h-5zM240,115h5v5h-5zM245,115h5v5h-5zM250,110h5v5h-5zM255,110h5v5h-5zM250,115h5v5h-5zM110,125h5v5h-5zM115,125h5v5h-5zM125,125h5v5h-5zM145,120h5v5h-5zM140,125h5v5h-5zM145,125h5v5h-5zM150,120h5v5h-5zM155,120h5v5h-5zM150,125h5v5h-5zM155,125h5v5h-5zM165,125h5v5h-5zM175,120h5v5h-5zM210,120h5v5h-5zM250,120h5v5h-5zM250,125h5v5h-5zM255,125h5v5h-5zM105,130h5v5h-5zM105,135h5v5h-5zM110,130h5v5h-5zM115,130h5v5h-5zM110,135h5v5h-5zM115,135h5v5h-5zM120,130h5v5h-5zM125,130h5v5h-5zM120,135h5v5h-5zM145,130h5v5h-5zM140,135h5v5h-5zM145,135h5v5h-5zM150,130h5v5h-5zM155,130h5v5h-5zM150,135h5v5h-5zM155,135h5v5h-5zM185,130h5v5h-5zM180,135h5v5h-5zM185,135h5v5h-5zM195,135h5v5h-5zM250,130h5v5h-5zM255,130h5v5h-5zM250,135h5v5h-5zM255,135h5v5h-5zM110,140h5v5h-5zM115,140h5v5h-5zM120,140h5v5h-5zM125,140h5v5h-5zM120,145h5v5h-5zM125,145h5v5h-5zM140,140h5v5h-5zM145,140h5v5h-5zM145,145h5v5h-5zM180,140h5v5h-5zM195,140h5v5h-5zM205,140h5v5h-5zM200,145h5v5h-5zM110,150h5v5h-5zM115,150h5v5h-5zM115,155h5v5h-5zM125,150h5v5h-5zM130,150h5v5h-5zM135,150h5v5h-5zM130,155h5v5h-5zM135,155h5v5h-5zM140,150h5v5h-5zM145,150h5v5h-5zM140,155h5v5h-5zM145,155h5v5h-5zM150,150h5v5h-5zM150,155h5v5h-5zM155,155h5v5h-5zM200,150h5v5h-5zM205,150h5v5h-5zM200,155h5v5h-5zM205,155h5v5h-5zM115,160h5v5h-5zM120,160h5v5h-5zM125,160h5v5h-5zM125,165h5v5h-5zM135,160h5v5h-5zM130,165h5v5h-5zM135,165h5v5h-5zM140,160h5v5h-5zM145,160h5v5h-5zM140,165h5v5h-5zM145,165h5v5h-5zM150,160h5v5h-5zM115,170h5v5h-5zM125,170h5v5h-5zM130,170h5v5h-5zM135,170h5v5h-5zM130,175h5v5h-5zM135,175h5v5h-5zM140,175h5v5h-5zM155,175h5v5h-5zM180,175h5v5h-5zM185,175h5v5h-5zM125,180h5v5h-5zM130,180h5v5h-5zM135,180h5v5h-5zM130,185h5v5h-5zM150,180h5v5h-5zM155,180h5v5h-5zM150,185h5v5h-5zM155,185h5v5h-5zM160,180h5v5h-5zM165,180h5v5h-5zM160,185h5v5h-5zM165,185h5v5h-5zM175,180h5v5h-5zM170,185h5v5h-5zM175,185h5v5h-5zM180,180h5v5h-5zM185,180h5v5h-5zM180,185h5v5h-5zM185,185h5v5h-5zM190,180h5v5h-5zM195,180h5v5h-5zM190,185h5v5h-5zM195,185h5v5h-5zM220,180h5v5h-5zM225,180h5v5h-5zM220,185h5v5h-5zM225,185h5v5h-5zM230,180h5v5h-5zM235,180h5v5h-5zM230,185h5v5h-5zM235,185h5v5h-5zM240,185h5v5h-5zM140,190h5v5h-5zM145,190h5v5h-5zM145,195h5v5h-5zM150,190h5v5h-5zM155,190h5v5h-5zM150,195h5v5h-5zM155,195h5v5h-5zM160,190h5v5h-5zM165,190h5v5h-5zM160,195h5v5h-5zM165,195h5v5h-5zM170,190h5v5h-5zM175,190h5v5h-5zM170,195h5v5h-5zM175,195h5v5h-5zM180,190h5v5h-5zM185,190h5v5h-5zM180,195h5v5h-5zM185,195h5v5h-5zM205,195h5v5h-5zM215,190h5v5h-5zM210,195h5v5h-5zM215,195h5v5h-5zM240,195h5v5h-5zM145,205h5v5h-5zM155,205h5v5h-5zM160,200h5v5h-5zM165,200h5v5h-5zM160,205h5v5h-5zM165,205h5v5h-5zM170,200h5v5h-5zM175,200h5v5h-5zM170,205h5v5h-5zM180,200h5v5h-5zM185,200h5v5h-5zM180,205h5v5h-5zM185,205h5v5h-5zM200,200h5v5h-5zM205,200h5v5h-5zM200,205h5v5h-5zM205,205h5v5h-5zM210,200h5v5h-5zM215,200h5v5h-5zM210,205h5v5h-5zM215,205h5v5h-5zM220,200h5v5h-5zM225,200h5v5h-5zM220,205h5v5h-5zM225,205h5v5h-5zM230,200h5v5h-5zM235,200h5v5h-5zM230,205h5v5h-5zM235,205h5v5h-5zM240,200h5v5h-5zM245,200h5v5h-5zM240,205h5v5h-5zM245,205h5v5h-5zM255,205h5v5h-5zM145,210h5v5h-5zM150,210h5v5h-5zM155,210h5v5h-5zM155,215h5v5h-5zM160,210h5v5h-5zM165,210h5v5h-5zM160,215h5v5h-5zM170,210h5v5h-5zM175,210h5v5h-5zM190,210h5v5h-5zM195,210h5v5h-5zM190,215h5v5h-5zM195,215h5v5h-5zM200,210h5v5h-5zM205,210h5v5h-5zM200,215h5v5h-5zM205,215h5v5h-5zM210,210h5v5h-5zM215,210h5v5h-5zM210,215h5v5h-5zM215,215h5v5h-5zM220,210h5v5h-5zM225,210h5v5h-5zM220,215h5v5h-5zM225,215h5v5h-5zM230,210h5v5h-5zM235,210h5v5h-5zM230,215h5v5h-5zM235,215h5v5h-5zM240,210h5v5h-5zM245,210h5v5h-5zM245,215h5v5h-5zM250,210h5v5h-5zM250,215h5v5h-5zM255,215h5v5h-5zM145,220h5v5h-5zM155,220h5v5h-5zM190,220h5v5h-5zM195,220h5v5h-5zM190,225h5v5h-5zM195,225h5v5h-5zM200,220h5v5h-5zM205,220h5v5h-5zM200,225h5v5h-5zM205,225h5v5h-5zM215,220h5v5h-5zM220,220h5v5h-5zM225,220h5v5h-5zM225,225h5v5h-5zM230,220h5v5h-5zM230,225h5v5h-5zM240,220h5v5h-5zM190,230h5v5h-5zM195,230h5v5h-5zM190,235h5v5h-5zM195,235h5v5h-5zM200,230h5v5h-5zM200,235h5v5h-5zM205,235h5v5h-5zM210,230h5v5h-5zM215,230h5v5h-5zM210,235h5v5h-5zM215,235h5v5h-5zM220,230h5v5h-5zM225,230h5v5h-5zM220,235h5v5h-5zM225,235h5v5h-5zM230,230h5v5h-5zM230,235h5v5h-5zM235,235h5v5h-5zM240,230h5v5h-5zM240,235h5v5h-5zM245,235h5v5h-5zM250,230h5v5h-5zM250,235h5v5h-5zM255,235h5v5h-5zM180,245h5v5h-5zM185,245h5v5h-5zM190,240h5v5h-5zM195,240h5v5h-5zM190,245h5v5h-5zM195,245h5v5h-5zM200,240h5v5h-5zM205,240h5v5h-5zM200,245h5v5h-5zM220,240h5v5h-5zM180,250h5v5h-5zM185,250h5v5h-5zM180,255h5v5h-5zM185,255h5v5h-5zM195,250h5v5h-5zM190,255h5v5h-5zM195,255h5v5h-5zM200,250h5v5h-5zM205,250h5v5h-5zM200,255h5v5h-5zM205,255h5v5h-5zM210,250h5v5h-5zM180,260h5v5h-5zM185,260h5v5h-5zM180,265h5v5h-5zM185,265h5v5h-5zM190,260h5v5h-5zM195,260h5v5h-5zM190,265h5v5h-5zM195,265h5v5h-5zM200,260h5v5h-5zM205,260h5v5h-5zM200,265h5v5h-5zM210,265h5v5h-5zM175,270h5v5h-5zM175,275h5v5h-5zM180,270h5v5h-5zM185,270h5v5h-5zM180,275h5v5h-5zM185,275h5v5h-5zM165,280h5v5h-5zM175,280h5v5h-5zM170,285h5v5h-5zM175,285h5v5h-5z" fill="url(#L103)" clip-path="url(#clipL)"/>
<path d="M205,45h5v5h-5zM220,40h5v5h-5zM225,40h5v5h-5zM220,45h5v5h-5zM225,45h5v5h-5zM155,55h5v5h-5zM170,50h5v5h-5zM175,50h5v5h-5zM170,55h5v5h-5zM205,50h5v5h-5zM200,55h5v5h-5zM90,65h5v5h-5zM150,60h5v5h-5zM155,60h5v5h-5zM150,65h5v5h-5zM155,65h5v5h-5zM160,65h5v5h-5zM165,65h5v5h-5zM235,65h5v5h-5zM240,65h5v5h-5zM245,65h5v5h-5zM250,60h5v5h-5zM80,70h5v5h-5zM80,75h5v5h-5zM85,75h5v5h-5zM155,70h5v5h-5zM150,75h5v5h-5zM155,75h5v5h-5zM160,70h5v5h-5zM165,70h5v5h-5zM160,75h5v5h-5zM165,75h5v5h-5zM170,75h5v5h-5zM210,70h5v5h-5zM215,70h5v5h-5zM210,75h5v5h-5zM215,75h5v5h-5zM220,70h5v5h-5zM220,75h5v5h-5zM230,70h5v5h-5zM230,75h5v5h-5zM235,75h5v5h-5zM150,80h5v5h-5zM155,80h5v5h-5zM150,85h5v5h-5zM155,85h5v5h-5zM160,80h5v5h-5zM165,80h5v5h-5zM160,85h5v5h-5zM170,85h5v5h-5zM210,80h5v5h-5zM215,80h5v5h-5zM210,85h5v5h-5zM215,85h5v5h-5zM220,80h5v5h-5zM225,80h5v5h-5zM220,85h5v5h-5zM225,85h5v5h-5zM80,90h5v5h-5zM80,95h5v5h-5zM150,90h5v5h-5zM180,95h5v5h-5zM220,90h5v5h-5zM225,90h5v5h-5zM220,95h5v5h-5zM225,95h5v5h-5zM255,90h5v5h-5zM255,95h5v5h-5zM125,100h5v5h-5zM130,100h5v5h-5zM135,100h5v5h-5zM130,105h5v5h-5zM135,105h5v5h-5zM145,105h5v5h-5zM170,105h5v5h-5zM175,105h5v5h-5zM185,100h5v5h-5zM180,105h5v5h-5zM185,105h5v5h-5zM225,105h5v5h-5zM230,100h5v5h-5zM235,100h5v5h-5zM230,105h5v5h-5zM125,115h5v5h-5zM135,110h5v5h-5zM130,115h5v5h-5zM135,115h5v5h-5zM145,110h5v5h-5zM140,115h5v5h-5zM145,115h5v5h-5zM150,110h5v5h-5zM160,110h5v5h-5zM165,110h5v5h-5zM165,115h5v5h-5zM170,110h5v5h-5zM175,110h5v5h-5zM170,115h5v5h-5zM180,115h5v5h-5zM190,110h5v5h-5zM235,110h5v5h-5zM235,115h5v5h-5zM115,120h5v5h-5zM120,120h5v5h-5zM125,120h5v5h-5zM120,125h5v5h-5zM160,120h5v5h-5zM165,120h5v5h-5zM170,120h5v5h-5zM175,125h5v5h-5zM235,120h5v5h-5zM240,120h5v5h-5zM245,120h5v5h-5zM240,125h5v5h-5zM130,135h5v5h-5zM190,135h5v5h-5zM245,135h5v5h-5zM115,145h5v5h-5zM130,145h5v5h-5zM135,145h5v5h-5zM140,145h5v5h-5zM150,140h5v5h-5zM155,140h5v5h-5zM150,145h5v5h-5zM155,145h5v5h-5zM185,140h5v5h-5zM185,145h5v5h-5zM190,140h5v5h-5zM190,145h5v5h-5zM195,145h5v5h-5zM200,140h5v5h-5zM230,140h5v5h-5zM235,140h5v5h-5zM230,145h5v5h-5zM250,140h5v5h-5zM255,140h5v5h-5zM250,145h5v5h-5zM255,145h5v5h-5zM120,150h5v5h-5zM120,155h5v5h-5zM125,155h5v5h-5zM155,150h5v5h-5zM220,150h5v5h-5zM220,155h5v5h-5zM225,155h5v5h-5zM230,150h5v5h-5zM230,155h5v5h-5zM245,150h5v5h-5zM110,165h5v5h-5zM115,165h5v5h-5zM120,165h5v5h-5zM130,160h5v5h-5zM200,160h5v5h-5zM200,165h5v5h-5zM205,165h5v5h-5zM220,160h5v5h-5zM225,160h5v5h-5zM220,165h5v5h-5zM225,165h5v5h-5zM120,170h5v5h-5zM120,175h5v5h-5zM125,175h5v5h-5zM170,170h5v5h-5zM175,170h5v5h-5zM170,175h5v5h-5zM175,175h5v5h-5zM210,170h5v5h-5zM210,175h5v5h-5zM220,170h5v5h-5zM225,170h5v5h-5zM220,175h5v5h-5zM230,175h5v5h-5zM170,180h5v5h-5zM200,180h5v5h-5zM205,180h5v5h-5zM200,185h5v5h-5zM205,185h5v5h-5zM215,180h5v5h-5zM210,185h5v5h-5zM215,185h5v5h-5zM255,185h5v5h-5zM210,190h5v5h-5zM220,190h5v5h-5zM225,190h5v5h-5zM220,195h5v5h-5zM225,195h5v5h-5zM230,190h5v5h-5zM235,190h5v5h-5zM230,195h5v5h-5zM235,195h5v5h-5zM240,190h5v5h-5zM245,195h5v5h-5zM250,190h5v5h-5zM255,190h5v5h-5zM250,195h5v5h-5zM255,195h5v5h-5zM250,200h5v5h-5zM255,200h5v5h-5zM250,205h5v5h-5zM175,220h5v5h-5zM175,225h5v5h-5zM180,220h5v5h-5zM180,230h5v5h-5zM170,240h5v5h-5zM175,240h5v5h-5zM170,245h5v5h-5zM175,245h5v5h-5zM180,240h5v5h-5zM185,240h5v5h-5zM205,245h5v5h-5zM210,240h5v5h-5zM215,240h5v5h-5zM210,245h5v5h-5zM155,250h5v5h-5zM155,255h5v5h-5zM160,250h5v5h-5zM165,250h5v5h-5zM165,255h5v5h-5zM170,250h5v5h-5zM175,250h5v5h-5zM170,255h5v5h-5zM175,255h5v5h-5zM190,250h5v5h-5zM215,250h5v5h-5zM210,255h5v5h-5zM215,255h5v5h-5zM170,260h5v5h-5zM175,265h5v5h-5zM210,260h5v5h-5zM165,270h5v5h-5zM165,275h5v5h-5zM170,275h5v5h-5zM190,270h5v5h-5zM195,270h5v5h-5zM165,285h5v5h-5zM180,280h5v5h-5zM185,280h5v5h-5zM180,285h5v5h-5zM185,285h5v5h-5zM175,290h5v5h-5zM170,295h5v5h-5zM175,295h5v5h-5zM180,290h5v5h-5z" fill="url(#L109)" clip-path="url(#clipL)"/>
<path d="M100,55h5v5h-5zM115,55h5v5h-5zM130,55h5v5h-5zM90,60h5v5h-5zM95,60h5v5h-5zM95,65h5v5h-5zM100,60h5v5h-5zM105,60h5v5h-5zM100,65h5v5h-5zM105,65h5v5h-5zM110,60h5v5h-5zM110,65h5v5h-5zM115,65h5v5h-5zM120,60h5v5h-5zM125,60h5v5h-5zM120,65h5v5h-5zM125,65h5v5h-5zM90,70h5v5h-5zM95,70h5v5h-5zM90,75h5v5h-5zM95,75h5v5h-5zM100,70h5v5h-5zM105,70h5v5h-5zM100,75h5v5h-5zM130,70h5v5h-5zM90,80h5v5h-5zM95,80h5v5h-5zM95,85h5v5h-5zM125,80h5v5h-5zM140,80h5v5h-5zM85,90h5v5h-5zM85,95h5v5h-5zM90,90h5v5h-5zM95,90h5v5h-5zM90,95h5v5h-5zM205,100h5v5h-5zM215,100h5v5h-5zM210,105h5v5h-5zM215,105h5v5h-5zM220,105h5v5h-5zM90,115h5v5h-5zM95,115h5v5h-5zM100,110h5v5h-5zM100,115h5v5h-5zM105,115h5v5h-5zM110,115h5v5h-5zM200,110h5v5h-5zM210,110h5v5h-5zM90,120h5v5h-5zM95,120h5v5h-5zM90,125h5v5h-5zM100,120h5v5h-5zM105,120h5v5h-5zM100,125h5v5h-5zM105,125h5v5h-5zM110,120h5v5h-5zM190,190h5v5h-5zM195,190h5v5h-5zM190,195h5v5h-5zM195,195h5v5h-5zM200,190h5v5h-5zM205,190h5v5h-5zM200,195h5v5h-5zM145,200h5v5h-5zM150,200h5v5h-5zM155,200h5v5h-5zM150,205h5v5h-5zM175,205h5v5h-5zM190,200h5v5h-5zM195,200h5v5h-5zM190,205h5v5h-5zM195,205h5v5h-5zM170,215h5v5h-5zM175,215h5v5h-5zM180,210h5v5h-5zM185,210h5v5h-5zM180,215h5v5h-5zM185,215h5v5h-5zM170,220h5v5h-5zM185,220h5v5h-5zM180,225h5v5h-5zM185,225h5v5h-5zM185,230h5v5h-5zM180,235h5v5h-5zM185,235h5v5h-5z" fill="url(#L121)" clip-path="url(#clipL)"/>
<path d="M105,75h5v5h-5zM110,70h5v5h-5zM115,70h5v5h-5zM110,80h5v5h-5zM115,80h5v5h-5zM110,85h5v5h-5zM120,80h5v5h-5zM110,90h5v5h-5zM120,95h5v5h-5zM120,100h5v5h-5zM120,105h5v5h-5zM125,105h5v5h-5zM120,110h5v5h-5zM125,110h5v5h-5zM120,115h5v5h-5zM130,110h5v5h-5zM185,115h5v5h-5zM180,120h5v5h-5zM185,120h5v5h-5zM180,125h5v5h-5zM185,125h5v5h-5zM190,120h5v5h-5zM195,120h5v5h-5zM190,125h5v5h-5zM195,125h5v5h-5zM180,130h5v5h-5zM190,130h5v5h-5zM195,130h5v5h-5zM235,145h5v5h-5zM225,150h5v5h-5zM235,150h5v5h-5zM240,155h5v5h-5zM230,160h5v5h-5zM230,165h5v5h-5zM235,165h5v5h-5zM240,165h5v5h-5zM140,170h5v5h-5zM145,170h5v5h-5zM145,175h5v5h-5zM150,170h5v5h-5zM150,175h5v5h-5zM225,175h5v5h-5zM230,170h5v5h-5zM235,170h5v5h-5zM235,175h5v5h-5zM240,170h5v5h-5zM245,170h5v5h-5zM240,175h5v5h-5zM245,175h5v5h-5zM250,175h5v5h-5zM255,175h5v5h-5zM135,185h5v5h-5zM140,180h5v5h-5zM145,180h5v5h-5zM140,185h5v5h-5zM145,185h5v5h-5zM240,180h5v5h-5zM245,185h5v5h-5zM250,180h5v5h-5zM255,180h5v5h-5zM250,185h5v5h-5zM135,190h5v5h-5zM245,190h5v5h-5zM240,215h5v5h-5zM210,220h5v5h-5zM210,225h5v5h-5zM215,225h5v5h-5zM220,225h5v5h-5zM235,220h5v5h-5zM235,225h5v5h-5zM245,220h5v5h-5zM240,225h5v5h-5zM245,225h5v5h-5zM250,220h5v5h-5zM255,220h5v5h-5zM250,225h5v5h-5zM255,225h5v5h-5zM205,230h5v5h-5zM235,230h5v5h-5zM245,230h5v5h-5z" fill="url(#L67)" clip-path="url(#clipL)"/>
<path d="M522.4,25h5v5h-5zM497.4,35h5v5h-5zM507.4,30h5v5h-5zM502.4,35h5v5h-5zM507.4,35h5v5h-5zM512.4,30h5v5h-5zM517.4,30h5v5h-5zM512.4,35h5v5h-5zM517.4,35h5v5h-5zM527.4,30h5v5h-5zM522.4,35h5v5h-5zM527.4,35h5v5h-5zM532.4,30h5v5h-5zM537.4,30h5v5h-5zM532.4,35h5v5h-5zM537.4,35h5v5h-5zM387.4,45h5v5h-5zM512.4,40h5v5h-5zM517.4,40h5v5h-5zM512.4,45h5v5h-5zM517.4,45h5v5h-5zM522.4,40h5v5h-5zM527.4,40h5v5h-5zM522.4,45h5v5h-5zM527.4,45h5v5h-5zM532.4,40h5v5h-5zM537.4,40h5v5h-5zM532.4,45h5v5h-5zM537.4,45h5v5h-5zM367.4,55h5v5h-5zM392.4,50h5v5h-5zM397.4,50h5v5h-5zM392.4,55h5v5h-5zM502.4,50h5v5h-5zM507.4,50h5v5h-5zM502.4,55h5v5h-5zM507.4,55h5v5h-5zM512.4,50h5v5h-5zM517.4,50h5v5h-5zM512.4,55h5v5h-5zM517.4,55h5v5h-5zM522.4,50h5v5h-5zM527.4,50h5v5h-5zM522.4,55h5v5h-5zM527.4,55h5v5h-5zM532.4,50h5v5h-5zM537.4,50h5v5h-5zM532.4,55h5v5h-5zM537.4,55h5v5h-5zM362.4,60h5v5h-5zM367.4,60h5v5h-5zM367.4,65h5v5h-5zM372.4,65h5v5h-5zM397.4,60h5v5h-5zM487.4,60h5v5h-5zM497.4,60h5v5h-5zM492.4,65h5v5h-5zM497.4,65h5v5h-5zM502.4,60h5v5h-5zM507.4,60h5v5h-5zM502.4,65h5v5h-5zM507.4,65h5v5h-5zM512.4,60h5v5h-5zM517.4,60h5v5h-5zM512.4,65h5v5h-5zM522.4,60h5v5h-5zM527.4,60h5v5h-5zM362.4,70h5v5h-5zM367.4,70h5v5h-5zM362.4,75h5v5h-5zM367.4,75h5v5h-5zM482.4,70h5v5h-5zM487.4,70h5v5h-5zM482.4,75h5v5h-5zM487.4,75h5v5h-5zM492.4,70h5v5h-5zM497.4,70h5v5h-5zM492.4,75h5v5h-5zM497.4,75h5v5h-5zM502.4,70h5v5h-5zM507.4,70h5v5h-5zM502.4,75h5v5h-5zM507.4,75h5v5h-5zM362.4,80h5v5h-5zM367.4,80h5v5h-5zM362.4,85h5v5h-5zM367.4,85h5v5h-5zM372.4,85h5v5h-5zM427.4,85h5v5h-5zM487.4,80h5v5h-5zM482.4,85h5v5h-5zM487.4,85h5v5h-5zM492.4,80h5v5h-5zM497.4,80h5v5h-5zM492.4,85h5v5h-5zM497.4,85h5v5h-5zM502.4,80h5v5h-5zM502.4,85h5v5h-5zM507.4,85h5v5h-5zM512.4,80h5v5h-5zM517.4,80h5v5h-5zM512.4,85h5v5h-5zM517.4,85h5v5h-5zM522.4,80h5v5h-5zM527.4,80h5v5h-5zM522.4,85h5v5h-5zM527.4,85h5v5h-5zM532.4,80h5v5h-5zM537.4,80h5v5h-5zM362.4,90h5v5h-5zM362.4,95h5v5h-5zM437.4,90h5v5h-5zM437.4,95h5v5h-5zM447.4,95h5v5h-5zM482.4,90h5v5h-5zM487.4,90h5v5h-5zM482.4,95h5v5h-5zM487.4,95h5v5h-5zM492.4,95h5v5h-5zM502.4,90h5v5h-5zM507.4,90h5v5h-5zM502.4,95h5v5h-5zM507.4,95h5v5h-5zM512.4,90h5v5h-5zM512.4,95h5v5h-5zM437.4,100h5v5h-5zM442.4,100h5v5h-5zM447.4,100h5v5h-5zM442.4,105h5v5h-5zM447.4,105h5v5h-5zM452.4,100h5v5h-5zM457.4,100h5v5h-5zM462.4,100h5v5h-5zM497.4,115h5v5h-5zM507.4,110h5v5h-5zM502.4,115h5v5h-5zM507.4,115h5v5h-5zM512.4,115h5v5h-5zM517.4,115h5v5h-5zM427.4,120h5v5h-5zM422.4,125h5v5h-5zM427.4,125h5v5h-5zM442.4,125h5v5h-5zM482.4,120h5v5h-5zM487.4,120h5v5h-5zM482.4,125h5v5h-5zM487.4,125h5v5h-5zM497.4,120h5v5h-5zM492.4,125h5v5h-5zM497.4,125h5v5h-5zM502.4,120h5v5h-5zM507.4,120h5v5h-5zM502.4,125h5v5h-5zM507.4,125h5v5h-5zM512.4,120h5v5h-5zM517.4,120h5v5h-5zM512.4,125h5v5h-5zM517.4,125h5v5h-5zM522.4,120h5v5h-5zM527.4,120h5v5h-5zM522.4,125h5v5h-5zM527.4,125h5v5h-5zM422.4,135h5v5h-5zM427.4,135h5v5h-5zM442.4,130h5v5h-5zM447.4,130h5v5h-5zM442.4,135h5v5h-5zM447.4,135h5v5h-5zM482.4,130h5v5h-5zM487.4,130h5v5h-5zM482.4,135h5v5h-5zM492.4,130h5v5h-5zM497.4,130h5v5h-5zM492.4,135h5v5h-5zM497.4,135h5v5h-5zM502.4,130h5v5h-5zM507.4,130h5v5h-5zM502.4,135h5v5h-5zM507.4,135h5v5h-5zM512.4,130h5v5h-5zM517.4,130h5v5h-5zM512.4,135h5v5h-5zM517.4,135h5v5h-5zM522.4,130h5v5h-5zM527.4,130h5v5h-5zM522.4,135h5v5h-5zM527.4,135h5v5h-5zM382.4,140h5v5h-5zM387.4,140h5v5h-5zM382.4,145h5v5h-5zM387.4,145h5v5h-5zM392.4,145h5v5h-5zM442.4,140h5v5h-5zM442.4,145h5v5h-5zM447.4,145h5v5h-5zM452.4,140h5v5h-5zM457.4,140h5v5h-5zM452.4,145h5v5h-5zM457.4,145h5v5h-5zM462.4,145h5v5h-5zM492.4,140h5v5h-5zM497.4,140h5v5h-5zM502.4,140h5v5h-5zM512.4,140h5v5h-5zM517.4,140h5v5h-5zM512.4,145h5v5h-5zM522.4,140h5v5h-5zM527.4,140h5v5h-5zM522.4,145h5v5h-5zM527.4,145h5v5h-5zM532.4,140h5v5h-5zM537.4,140h5v5h-5zM532.4,145h5v5h-5zM537.4,145h5v5h-5zM392.4,150h5v5h-5zM397.4,155h5v5h-5zM442.4,150h5v5h-5zM447.4,150h5v5h-5zM442.4,155h5v5h-5zM447.4,155h5v5h-5zM452.4,150h5v5h-5zM457.4,150h5v5h-5zM452.4,155h5v5h-5zM457.4,155h5v5h-5zM462.4,150h5v5h-5zM467.4,150h5v5h-5zM462.4,155h5v5h-5zM467.4,155h5v5h-5zM472.4,150h5v5h-5zM477.4,150h5v5h-5zM472.4,155h5v5h-5zM477.4,155h5v5h-5zM517.4,155h5v5h-5zM522.4,150h5v5h-5zM527.4,150h5v5h-5zM527.4,155h5v5h-5zM532.4,150h5v5h-5zM537.4,150h5v5h-5zM532.4,155h5v5h-5zM537.4,155h5v5h-5zM397.4,160h5v5h-5zM402.4,160h5v5h-5zM407.4,160h5v5h-5zM407.4,165h5v5h-5zM442.4,160h5v5h-5zM447.4,160h5v5h-5zM442.4,165h5v5h-5zM447.4,165h5v5h-5zM452.4,160h5v5h-5zM457.4,160h5v5h-5zM457.4,165h5v5h-5zM462.4,160h5v5h-5zM467.4,160h5v5h-5zM462.4,165h5v5h-5zM467.4,165h5v5h-5zM472.4,160h5v5h-5zM477.4,160h5v5h-5zM472.4,165h5v5h-5zM477.4,165h5v5h-5zM512.4,160h5v5h-5zM517.4,160h5v5h-5zM512.4,165h5v5h-5zM517.4,165h5v5h-5zM522.4,160h5v5h-5zM527.4,160h5v5h-5zM522.4,165h5v5h-5zM527.4,165h5v5h-5zM532.4,160h5v5h-5zM537.4,160h5v5h-5zM532.4,165h5v5h-5zM537.4,165h5v5h-5zM397.4,170h5v5h-5zM412.4,170h5v5h-5zM437.4,170h5v5h-5zM447.4,170h5v5h-5zM452.4,170h5v5h-5zM457.4,170h5v5h-5zM452.4,175h5v5h-5zM457.4,175h5v5h-5zM462.4,170h5v5h-5zM467.4,170h5v5h-5zM472.4,170h5v5h-5zM477.4,170h5v5h-5zM472.4,175h5v5h-5zM477.4,175h5v5h-5zM482.4,170h5v5h-5zM487.4,170h5v5h-5zM482.4,175h5v5h-5zM532.4,170h5v5h-5zM537.4,170h5v5h-5zM397.4,180h5v5h-5zM402.4,185h5v5h-5zM407.4,185h5v5h-5zM452.4,180h5v5h-5zM527.4,180h5v5h-5zM412.4,190h5v5h-5zM417.4,195h5v5h-5zM412.4,200h5v5h-5zM447.4,215h5v5h-5zM432.4,220h5v5h-5zM432.4,225h5v5h-5zM437.4,225h5v5h-5zM442.4,220h5v5h-5zM447.4,220h5v5h-5zM442.4,225h5v5h-5zM447.4,225h5v5h-5zM457.4,220h5v5h-5zM452.4,225h5v5h-5zM457.4,225h5v5h-5zM462.4,220h5v5h-5zM457.4,230h5v5h-5zM452.4,235h5v5h-5zM457.4,235h5v5h-5zM462.4,230h5v5h-5zM447.4,240h5v5h-5zM442.4,245h5v5h-5zM447.4,245h5v5h-5zM507.4,240h5v5h-5zM502.4,245h5v5h-5zM507.4,245h5v5h-5zM437.4,270h5v5h-5zM442.4,290h5v5h-5zM447.4,290h5v5h-5zM442.4,295h5v5h-5zM447.4,295h5v5h-5zM447.4,300h5v5h-5zM452.4,300h5v5h-5zM457.4,300h5v5h-5zM457.4,305h5v5h-5z" fill="url(#R46)" clip-path="url(#clipR)"/>
<path d="M487.4,35h5v5h-5zM402.4,45h5v5h-5zM407.4,45h5v5h-5zM422.4,45h5v5h-5zM457.4,40h5v5h-5zM462.4,40h5v5h-5zM467.4,45h5v5h-5zM472.4,40h5v5h-5zM477.4,40h5v5h-5zM477.4,45h5v5h-5zM487.4,45h5v5h-5zM492.4,40h5v5h-5zM497.4,40h5v5h-5zM492.4,45h5v5h-5zM497.4,45h5v5h-5zM382.4,55h5v5h-5zM397.4,55h5v5h-5zM407.4,50h5v5h-5zM402.4,55h5v5h-5zM407.4,55h5v5h-5zM412.4,50h5v5h-5zM417.4,50h5v5h-5zM412.4,55h5v5h-5zM417.4,55h5v5h-5zM422.4,50h5v5h-5zM422.4,55h5v5h-5zM427.4,55h5v5h-5zM437.4,55h5v5h-5zM452.4,50h5v5h-5zM457.4,50h5v5h-5zM452.4,55h5v5h-5zM482.4,50h5v5h-5zM487.4,50h5v5h-5zM482.4,55h5v5h-5zM492.4,50h5v5h-5zM497.4,50h5v5h-5zM492.4,55h5v5h-5zM497.4,55h5v5h-5zM372.4,60h5v5h-5zM377.4,60h5v5h-5zM377.4,65h5v5h-5zM382.4,60h5v5h-5zM387.4,60h5v5h-5zM382.4,65h5v5h-5zM387.4,65h5v5h-5zM392.4,60h5v5h-5zM392.4,65h5v5h-5zM397.4,65h5v5h-5zM402.4,60h5v5h-5zM407.4,60h5v5h-5zM402.4,65h5v5h-5zM407.4,65h5v5h-5zM412.4,60h5v5h-5zM417.4,60h5v5h-5zM412.4,65h5v5h-5zM417.4,65h5v5h-5zM422.4,60h5v5h-5zM427.4,60h5v5h-5zM422.4,65h5v5h-5zM427.4,65h5v5h-5zM437.4,65h5v5h-5zM447.4,65h5v5h-5zM452.4,60h5v5h-5zM457.4,60h5v5h-5zM452.4,65h5v5h-5zM457.4,65h5v5h-5zM372.4,70h5v5h-5zM377.4,70h5v5h-5zM372.4,75h5v5h-5zM377.4,75h5v5h-5zM382.4,70h5v5h-5zM387.4,70h5v5h-5zM382.4,75h5v5h-5zM387.4,75h5v5h-5zM392.4,70h5v5h-5zM397.4,70h5v5h-5zM392.4,75h5v5h-5zM397.4,75h5v5h-5zM402.4,70h5v5h-5zM407.4,70h5v5h-5zM402.4,75h5v5h-5zM407.4,75h5v5h-5zM412.4,70h5v5h-5zM417.4,70h5v5h-5zM412.4,75h5v5h-5zM417.4,75h5v5h-5zM422.4,70h5v5h-5zM427.4,70h5v5h-5zM422.4,75h5v5h-5zM427.4,75h5v5h-5zM432.4,70h5v5h-5zM442.4,70h5v5h-5zM447.4,70h5v5h-5zM442.4,75h5v5h-5zM447.4,75h5v5h-5zM452.4,70h5v5h-5zM457.4,70h5v5h-5zM452.4,75h5v5h-5zM457.4,75h5v5h-5zM462.4,70h5v5h-5zM467.4,70h5v5h-5zM462.4,75h5v5h-5zM467.4,75h5v5h-5zM527.4,75h5v5h-5zM532.4,70h5v5h-5zM532.4,75h5v5h-5zM537.4,75h5v5h-5zM372.4,80h5v5h-5zM377.4,80h5v5h-5zM377.4,85h5v5h-5zM382.4,80h5v5h-5zM387.4,80h5v5h-5zM382.4,85h5v5h-5zM387.4,85h5v5h-5zM392.4,80h5v5h-5zM397.4,80h5v5h-5zM392.4,85h5v5h-5zM402.4,80h5v5h-5zM407.4,80h5v5h-5zM402.4,85h5v5h-5zM407.4,85h5v5h-5zM412.4,80h5v5h-5zM417.4,80h5v5h-5zM412.4,85h5v5h-5zM417.4,85h5v5h-5zM422.4,80h5v5h-5zM427.4,80h5v5h-5zM422.4,85h5v5h-5zM432.4,80h5v5h-5zM437.4,80h5v5h-5zM432.4,85h5v5h-5zM437.4,85h5v5h-5zM442.4,80h5v5h-5zM447.4,80h5v5h-5zM442.4,85h5v5h-5zM447.4,85h5v5h-5zM452.4,80h5v5h-5zM457.4,80h5v5h-5zM452.4,85h5v5h-5zM457.4,85h5v5h-5zM462.4,80h5v5h-5zM467.4,80h5v5h-5zM462.4,85h5v5h-5zM467.4,85h5v5h-5zM477.4,80h5v5h-5zM472.4,85h5v5h-5zM477.4,85h5v5h-5zM532.4,85h5v5h-5zM367.4,90h5v5h-5zM367.4,95h5v5h-5zM372.4,90h5v5h-5zM377.4,90h5v5h-5zM372.4,95h5v5h-5zM382.4,90h5v5h-5zM387.4,90h5v5h-5zM382.4,95h5v5h-5zM387.4,95h5v5h-5zM392.4,90h5v5h-5zM412.4,90h5v5h-5zM417.4,90h5v5h-5zM422.4,90h5v5h-5zM427.4,90h5v5h-5zM422.4,95h5v5h-5zM427.4,95h5v5h-5zM432.4,90h5v5h-5zM442.4,90h5v5h-5zM447.4,90h5v5h-5zM442.4,95h5v5h-5zM452.4,90h5v5h-5zM457.4,90h5v5h-5zM452.4,95h5v5h-5zM457.4,95h5v5h-5zM462.4,90h5v5h-5zM467.4,90h5v5h-5zM462.4,95h5v5h-5zM467.4,95h5v5h-5zM472.4,90h5v5h-5zM477.4,90h5v5h-5zM472.4,95h5v5h-5zM477.4,95h5v5h-5zM492.4,90h5v5h-5zM497.4,90h5v5h-5zM497.4,95h5v5h-5zM517.4,90h5v5h-5zM517.4,95h5v5h-5zM522.4,90h5v5h-5zM527.4,90h5v5h-5zM522.4,95h5v5h-5zM527.4,95h5v5h-5zM532.4,90h5v5h-5zM537.4,90h5v5h-5zM532.4,95h5v5h-5zM537.4,95h5v5h-5zM377.4,100h5v5h-5zM372.4,105h5v5h-5zM377.4,105h5v5h-5zM467.4,100h5v5h-5zM462.4,105h5v5h-5zM467.4,105h5v5h-5zM472.4,100h5v5h-5zM477.4,100h5v5h-5zM472.4,105h5v5h-5zM477.4,105h5v5h-5zM482.4,100h5v5h-5zM487.4,100h5v5h-5zM482.4,105h5v5h-5zM487.4,105h5v5h-5zM492.4,100h5v5h-5zM497.4,100h5v5h-5zM492.4,105h5v5h-5zM497.4,105h5v5h-5zM502.4,100h5v5h-5zM507.4,100h5v5h-5zM502.4,105h5v5h-5zM522.4,100h5v5h-5zM527.4,100h5v5h-5zM522.4,105h5v5h-5zM527.4,105h5v5h-5zM532.4,100h5v5h-5zM537.4,100h5v5h-5zM532.4,105h5v5h-5zM537.4,105h5v5h-5zM372.4,110h5v5h-5zM377.4,110h5v5h-5zM372.4,115h5v5h-5zM377.4,115h5v5h-5zM382.4,110h5v5h-5zM382.4,115h5v5h-5zM387.4,115h5v5h-5zM392.4,115h5v5h-5zM457.4,110h5v5h-5zM467.4,110h5v5h-5zM472.4,110h5v5h-5zM477.4,110h5v5h-5zM472.4,115h5v5h-5zM477.4,115h5v5h-5zM482.4,110h5v5h-5zM487.4,110h5v5h-5zM482.4,115h5v5h-5zM487.4,115h5v5h-5zM492.4,110h5v5h-5zM497.4,110h5v5h-5zM492.4,115h5v5h-5zM502.4,110h5v5h-5zM522.4,110h5v5h-5zM527.4,110h5v5h-5zM522.4,115h5v5h-5zM527.4,115h5v5h-5zM532.4,110h5v5h-5zM537.4,110h5v5h-5zM532.4,115h5v5h-5zM372.4,120h5v5h-5zM377.4,120h5v5h-5zM372.4,125h5v5h-5zM382.4,120h5v5h-5zM387.4,120h5v5h-5zM382.4,125h5v5h-5zM387.4,125h5v5h-5zM392.4,120h5v5h-5zM492.4,120h5v5h-5zM532.4,120h5v5h-5zM532.4,125h5v5h-5zM537.4,125h5v5h-5zM402.4,140h5v5h-5zM402.4,145h5v5h-5zM407.4,145h5v5h-5zM422.4,140h5v5h-5zM427.4,140h5v5h-5zM427.4,145h5v5h-5zM397.4,150h5v5h-5zM407.4,150h5v5h-5zM412.4,150h5v5h-5zM417.4,150h5v5h-5zM412.4,155h5v5h-5zM417.4,155h5v5h-5zM417.4,160h5v5h-5zM412.4,165h5v5h-5zM417.4,165h5v5h-5zM427.4,160h5v5h-5zM422.4,165h5v5h-5zM427.4,165h5v5h-5zM452.4,165h5v5h-5zM407.4,170h5v5h-5zM417.4,170h5v5h-5zM417.4,175h5v5h-5zM422.4,170h5v5h-5zM427.4,170h5v5h-5zM422.4,175h5v5h-5zM432.4,170h5v5h-5zM432.4,175h5v5h-5zM437.4,175h5v5h-5zM442.4,170h5v5h-5zM442.4,175h5v5h-5zM447.4,175h5v5h-5zM462.4,175h5v5h-5zM467.4,175h5v5h-5zM492.4,175h5v5h-5zM437.4,180h5v5h-5zM437.4,185h5v5h-5zM442.4,180h5v5h-5zM447.4,180h5v5h-5zM442.4,185h5v5h-5zM447.4,185h5v5h-5zM457.4,180h5v5h-5zM462.4,180h5v5h-5zM467.4,180h5v5h-5zM462.4,185h5v5h-5zM467.4,185h5v5h-5zM472.4,180h5v5h-5zM477.4,180h5v5h-5zM472.4,185h5v5h-5zM477.4,185h5v5h-5zM482.4,180h5v5h-5zM487.4,180h5v5h-5zM482.4,185h5v5h-5zM487.4,185h5v5h-5zM497.4,180h5v5h-5zM492.4,185h5v5h-5zM497.4,185h5v5h-5zM512.4,180h5v5h-5zM517.4,180h5v5h-5zM512.4,185h5v5h-5zM517.4,185h5v5h-5zM522.4,185h5v5h-5zM427.4,190h5v5h-5zM427.4,195h5v5h-5zM432.4,190h5v5h-5zM437.4,190h5v5h-5zM432.4,195h5v5h-5zM437.4,195h5v5h-5zM442.4,190h5v5h-5zM447.4,190h5v5h-5zM442.4,195h5v5h-5zM447.4,195h5v5h-5zM457.4,195h5v5h-5zM472.4,190h5v5h-5zM477.4,190h5v5h-5zM472.4,195h5v5h-5zM477.4,195h5v5h-5zM482.4,190h5v5h-5zM487.4,190h5v5h-5zM482.4,195h5v5h-5zM487.4,195h5v5h-5zM492.4,190h5v5h-5zM497.4,190h5v5h-5zM492.4,195h5v5h-5zM502.4,190h5v5h-5zM507.4,190h5v5h-5zM502.4,195h5v5h-5zM507.4,195h5v5h-5zM427.4,200h5v5h-5zM427.4,205h5v5h-5zM432.4,200h5v5h-5zM437.4,200h5v5h-5zM432.4,205h5v5h-5zM437.4,205h5v5h-5zM442.4,200h5v5h-5zM442.4,205h5v5h-5zM447.4,205h5v5h-5zM452.4,205h5v5h-5zM457.4,205h5v5h-5zM467.4,200h5v5h-5zM462.4,205h5v5h-5zM467.4,205h5v5h-5zM472.4,200h5v5h-5zM477.4,200h5v5h-5zM472.4,205h5v5h-5zM477.4,205h5v5h-5zM487.4,200h5v5h-5zM492.4,200h5v5h-5zM497.4,200h5v5h-5zM492.4,205h5v5h-5zM497.4,205h5v5h-5zM422.4,210h5v5h-5zM427.4,210h5v5h-5zM422.4,215h5v5h-5zM427.4,215h5v5h-5zM432.4,210h5v5h-5zM437.4,210h5v5h-5zM432.4,215h5v5h-5zM437.4,215h5v5h-5zM442.4,210h5v5h-5zM447.4,210h5v5h-5zM442.4,215h5v5h-5zM452.4,215h5v5h-5zM457.4,215h5v5h-5zM462.4,210h5v5h-5zM467.4,210h5v5h-5zM462.4,215h5v5h-5zM467.4,215h5v5h-5zM472.4,210h5v5h-5zM477.4,210h5v5h-5zM472.4,215h5v5h-5zM477.4,215h5v5h-5zM487.4,210h5v5h-5zM482.4,215h5v5h-5zM487.4,215h5v5h-5zM492.4,215h5v5h-5zM427.4,220h5v5h-5zM437.4,220h5v5h-5zM452.4,220h5v5h-5zM467.4,220h5v5h-5zM462.4,225h5v5h-5zM467.4,225h5v5h-5zM472.4,220h5v5h-5zM477.4,220h5v5h-5zM472.4,225h5v5h-5zM477.4,225h5v5h-5zM482.4,220h5v5h-5zM487.4,220h5v5h-5zM482.4,225h5v5h-5zM487.4,225h5v5h-5zM492.4,220h5v5h-5zM492.4,225h5v5h-5zM497.4,225h5v5h-5zM502.4,225h5v5h-5zM507.4,225h5v5h-5zM512.4,225h5v5h-5zM467.4,230h5v5h-5zM462.4,235h5v5h-5zM467.4,235h5v5h-5zM472.4,230h5v5h-5zM477.4,230h5v5h-5zM472.4,235h5v5h-5zM477.4,235h5v5h-5zM482.4,230h5v5h-5zM487.4,230h5v5h-5zM482.4,235h5v5h-5zM487.4,235h5v5h-5zM492.4,230h5v5h-5zM497.4,230h5v5h-5zM492.4,235h5v5h-5zM497.4,235h5v5h-5zM502.4,230h5v5h-5zM507.4,230h5v5h-5zM502.4,235h5v5h-5zM507.4,235h5v5h-5zM512.4,230h5v5h-5zM512.4,235h5v5h-5zM517.4,235h5v5h-5zM522.4,230h5v5h-5zM452.4,240h5v5h-5zM457.4,240h5v5h-5zM452.4,245h5v5h-5zM462.4,240h5v5h-5zM467.4,240h5v5h-5zM462.4,245h5v5h-5zM467.4,245h5v5h-5zM472.4,240h5v5h-5zM477.4,240h5v5h-5zM472.4,245h5v5h-5zM477.4,245h5v5h-5zM482.4,240h5v5h-5zM487.4,240h5v5h-5zM482.4,245h5v5h-5zM492.4,240h5v5h-5zM497.4,240h5v5h-5zM492.4,245h5v5h-5zM502.4,240h5v5h-5zM447.4,250h5v5h-5zM457.4,250h5v5h-5zM462.4,250h5v5h-5zM467.4,250h5v5h-5zM462.4,255h5v5h-5zM467.4,255h5v5h-5zM472.4,250h5v5h-5zM477.4,250h5v5h-5zM477.4,255h5v5h-5zM492.4,250h5v5h-5zM467.4,260h5v5h-5zM472.4,260h5v5h-5zM477.4,260h5v5h-5zM472.4,265h5v5h-5zM477.4,265h5v5h-5zM482.4,265h5v5h-5zM472.4,270h5v5h-5zM477.4,270h5v5h-5z" fill="url(#R103)" clip-path="url(#clipR)"/>
<path d="M437.4,45h5v5h-5zM452.4,40h5v5h-5zM452.4,45h5v5h-5zM457.4,45h5v5h-5zM462.4,45h5v5h-5zM472.4,45h5v5h-5zM482.4,40h5v5h-5zM482.4,45h5v5h-5zM502.4,40h5v5h-5zM507.4,40h5v5h-5zM502.4,45h5v5h-5zM507.4,45h5v5h-5zM427.4,50h5v5h-5zM432.4,50h5v5h-5zM437.4,50h5v5h-5zM432.4,55h5v5h-5zM442.4,50h5v5h-5zM447.4,50h5v5h-5zM442.4,55h5v5h-5zM447.4,55h5v5h-5zM457.4,55h5v5h-5zM462.4,50h5v5h-5zM467.4,50h5v5h-5zM462.4,55h5v5h-5zM467.4,55h5v5h-5zM472.4,50h5v5h-5zM477.4,50h5v5h-5zM472.4,55h5v5h-5zM477.4,55h5v5h-5zM487.4,55h5v5h-5zM432.4,60h5v5h-5zM437.4,60h5v5h-5zM432.4,65h5v5h-5zM442.4,60h5v5h-5zM447.4,60h5v5h-5zM442.4,65h5v5h-5zM462.4,60h5v5h-5zM467.4,60h5v5h-5zM462.4,65h5v5h-5zM467.4,65h5v5h-5zM472.4,60h5v5h-5zM477.4,60h5v5h-5zM472.4,65h5v5h-5zM477.4,65h5v5h-5zM482.4,60h5v5h-5zM482.4,65h5v5h-5zM487.4,65h5v5h-5zM492.4,60h5v5h-5zM517.4,65h5v5h-5zM522.4,65h5v5h-5zM527.4,65h5v5h-5zM532.4,60h5v5h-5zM437.4,70h5v5h-5zM432.4,75h5v5h-5zM437.4,75h5v5h-5zM472.4,70h5v5h-5zM477.4,70h5v5h-5zM472.4,75h5v5h-5zM477.4,75h5v5h-5zM512.4,70h5v5h-5zM512.4,75h5v5h-5zM517.4,75h5v5h-5zM472.4,80h5v5h-5zM482.4,80h5v5h-5zM507.4,80h5v5h-5zM402.4,95h5v5h-5zM417.4,95h5v5h-5zM432.4,95h5v5h-5zM402.4,100h5v5h-5zM402.4,105h5v5h-5zM407.4,105h5v5h-5zM417.4,105h5v5h-5zM427.4,100h5v5h-5zM422.4,105h5v5h-5zM427.4,105h5v5h-5zM432.4,100h5v5h-5zM432.4,105h5v5h-5zM437.4,105h5v5h-5zM452.4,105h5v5h-5zM507.4,105h5v5h-5zM512.4,100h5v5h-5zM517.4,100h5v5h-5zM512.4,105h5v5h-5zM517.4,105h5v5h-5zM412.4,110h5v5h-5zM422.4,110h5v5h-5zM427.4,110h5v5h-5zM422.4,115h5v5h-5zM427.4,115h5v5h-5zM432.4,110h5v5h-5zM437.4,110h5v5h-5zM432.4,115h5v5h-5zM437.4,115h5v5h-5zM442.4,110h5v5h-5zM442.4,115h5v5h-5zM447.4,115h5v5h-5zM457.4,115h5v5h-5zM462.4,110h5v5h-5zM462.4,115h5v5h-5zM512.4,110h5v5h-5zM517.4,110h5v5h-5zM377.4,125h5v5h-5zM397.4,125h5v5h-5zM412.4,120h5v5h-5zM417.4,120h5v5h-5zM412.4,125h5v5h-5zM417.4,125h5v5h-5zM422.4,120h5v5h-5zM437.4,125h5v5h-5zM442.4,120h5v5h-5zM447.4,120h5v5h-5zM447.4,125h5v5h-5zM452.4,120h5v5h-5zM457.4,120h5v5h-5zM452.4,125h5v5h-5zM457.4,125h5v5h-5zM382.4,130h5v5h-5zM387.4,130h5v5h-5zM382.4,135h5v5h-5zM392.4,130h5v5h-5zM392.4,135h5v5h-5zM407.4,135h5v5h-5zM412.4,130h5v5h-5zM417.4,130h5v5h-5zM417.4,135h5v5h-5zM422.4,130h5v5h-5zM432.4,130h5v5h-5zM437.4,130h5v5h-5zM432.4,135h5v5h-5zM437.4,135h5v5h-5zM452.4,130h5v5h-5zM457.4,130h5v5h-5zM452.4,135h5v5h-5zM457.4,135h5v5h-5zM477.4,130h5v5h-5zM472.4,135h5v5h-5zM487.4,135h5v5h-5zM532.4,130h5v5h-5zM537.4,130h5v5h-5zM532.4,135h5v5h-5zM537.4,135h5v5h-5zM397.4,140h5v5h-5zM397.4,145h5v5h-5zM412.4,140h5v5h-5zM417.4,140h5v5h-5zM432.4,140h5v5h-5zM437.4,140h5v5h-5zM432.4,145h5v5h-5zM437.4,145h5v5h-5zM447.4,140h5v5h-5zM467.4,140h5v5h-5zM467.4,145h5v5h-5zM472.4,140h5v5h-5zM472.4,145h5v5h-5zM477.4,145h5v5h-5zM482.4,140h5v5h-5zM487.4,145h5v5h-5zM492.4,145h5v5h-5zM497.4,145h5v5h-5zM507.4,140h5v5h-5zM502.4,145h5v5h-5zM507.4,145h5v5h-5zM517.4,145h5v5h-5zM402.4,150h5v5h-5zM402.4,155h5v5h-5zM407.4,155h5v5h-5zM432.4,150h5v5h-5zM437.4,150h5v5h-5zM432.4,155h5v5h-5zM437.4,155h5v5h-5zM492.4,150h5v5h-5zM497.4,150h5v5h-5zM492.4,155h5v5h-5zM497.4,155h5v5h-5zM502.4,150h5v5h-5zM507.4,150h5v5h-5zM502.4,155h5v5h-5zM507.4,155h5v5h-5zM512.4,150h5v5h-5zM517.4,150h5v5h-5zM512.4,155h5v5h-5zM522.4,155h5v5h-5zM412.4,160h5v5h-5zM482.4,160h5v5h-5zM482.4,165h5v5h-5zM487.4,165h5v5h-5zM497.4,160h5v5h-5zM502.4,160h5v5h-5zM507.4,160h5v5h-5zM507.4,165h5v5h-5zM487.4,175h5v5h-5zM492.4,170h5v5h-5zM497.4,170h5v5h-5zM497.4,175h5v5h-5zM507.4,175h5v5h-5zM512.4,170h5v5h-5zM517.4,170h5v5h-5zM517.4,175h5v5h-5zM522.4,170h5v5h-5zM527.4,170h5v5h-5zM522.4,175h5v5h-5zM527.4,175h5v5h-5zM532.4,175h5v5h-5zM492.4,180h5v5h-5zM522.4,180h5v5h-5zM527.4,185h5v5h-5zM532.4,235h5v5h-5zM537.4,235h5v5h-5zM487.4,245h5v5h-5zM432.4,250h5v5h-5zM442.4,255h5v5h-5zM497.4,250h5v5h-5zM492.4,255h5v5h-5zM497.4,255h5v5h-5zM432.4,260h5v5h-5zM432.4,265h5v5h-5zM437.4,265h5v5h-5zM447.4,265h5v5h-5zM457.4,260h5v5h-5zM452.4,265h5v5h-5zM462.4,265h5v5h-5zM492.4,260h5v5h-5zM497.4,260h5v5h-5zM497.4,265h5v5h-5zM502.4,260h5v5h-5zM502.4,265h5v5h-5zM457.4,275h5v5h-5zM462.4,270h5v5h-5zM467.4,270h5v5h-5zM462.4,275h5v5h-5zM467.4,275h5v5h-5zM482.4,270h5v5h-5zM487.4,270h5v5h-5zM482.4,275h5v5h-5zM487.4,275h5v5h-5zM492.4,270h5v5h-5zM447.4,285h5v5h-5zM462.4,280h5v5h-5zM467.4,280h5v5h-5zM462.4,285h5v5h-5zM467.4,285h5v5h-5zM457.4,290h5v5h-5zM452.4,295h5v5h-5zM457.4,295h5v5h-5zM462.4,290h5v5h-5z" fill="url(#R99)" clip-path="url(#clipR)"/>
<path d="M537.4,60h5v5h-5zM532.4,65h5v5h-5zM537.4,65h5v5h-5zM517.4,70h5v5h-5zM522.4,70h5v5h-5zM527.4,70h5v5h-5zM522.4,75h5v5h-5zM397.4,85h5v5h-5zM377.4,95h5v5h-5zM397.4,90h5v5h-5zM392.4,95h5v5h-5zM397.4,95h5v5h-5zM402.4,90h5v5h-5zM407.4,90h5v5h-5zM407.4,95h5v5h-5zM412.4,95h5v5h-5zM382.4,100h5v5h-5zM387.4,100h5v5h-5zM382.4,105h5v5h-5zM387.4,105h5v5h-5zM392.4,100h5v5h-5zM397.4,100h5v5h-5zM392.4,105h5v5h-5zM397.4,105h5v5h-5zM407.4,100h5v5h-5zM412.4,100h5v5h-5zM417.4,100h5v5h-5zM412.4,105h5v5h-5zM422.4,100h5v5h-5zM457.4,105h5v5h-5zM387.4,110h5v5h-5zM392.4,110h5v5h-5zM397.4,110h5v5h-5zM397.4,115h5v5h-5zM402.4,110h5v5h-5zM407.4,110h5v5h-5zM402.4,115h5v5h-5zM407.4,115h5v5h-5zM417.4,110h5v5h-5zM412.4,115h5v5h-5zM417.4,115h5v5h-5zM447.4,110h5v5h-5zM452.4,110h5v5h-5zM452.4,115h5v5h-5zM467.4,115h5v5h-5zM397.4,120h5v5h-5zM392.4,125h5v5h-5zM402.4,120h5v5h-5zM407.4,120h5v5h-5zM402.4,125h5v5h-5zM407.4,125h5v5h-5zM432.4,120h5v5h-5zM437.4,120h5v5h-5zM432.4,125h5v5h-5zM462.4,120h5v5h-5zM467.4,120h5v5h-5zM462.4,125h5v5h-5zM467.4,125h5v5h-5zM472.4,120h5v5h-5zM477.4,120h5v5h-5zM472.4,125h5v5h-5zM477.4,125h5v5h-5zM387.4,135h5v5h-5zM397.4,130h5v5h-5zM397.4,135h5v5h-5zM402.4,130h5v5h-5zM407.4,130h5v5h-5zM402.4,135h5v5h-5zM412.4,135h5v5h-5zM427.4,130h5v5h-5zM462.4,130h5v5h-5zM467.4,130h5v5h-5zM462.4,135h5v5h-5zM467.4,135h5v5h-5zM472.4,130h5v5h-5zM477.4,135h5v5h-5zM392.4,140h5v5h-5zM407.4,140h5v5h-5zM412.4,145h5v5h-5zM417.4,145h5v5h-5zM422.4,145h5v5h-5zM462.4,140h5v5h-5zM477.4,140h5v5h-5zM487.4,140h5v5h-5zM482.4,145h5v5h-5zM422.4,150h5v5h-5zM427.4,150h5v5h-5zM422.4,155h5v5h-5zM427.4,155h5v5h-5zM482.4,150h5v5h-5zM487.4,150h5v5h-5zM482.4,155h5v5h-5zM487.4,155h5v5h-5zM422.4,160h5v5h-5zM432.4,160h5v5h-5zM437.4,160h5v5h-5zM432.4,165h5v5h-5zM437.4,165h5v5h-5zM487.4,160h5v5h-5zM492.4,160h5v5h-5zM492.4,165h5v5h-5zM497.4,165h5v5h-5zM502.4,165h5v5h-5zM412.4,175h5v5h-5zM427.4,175h5v5h-5zM502.4,170h5v5h-5zM507.4,170h5v5h-5zM502.4,175h5v5h-5zM512.4,175h5v5h-5zM537.4,175h5v5h-5zM407.4,180h5v5h-5zM412.4,180h5v5h-5zM417.4,180h5v5h-5zM412.4,185h5v5h-5zM417.4,185h5v5h-5zM422.4,180h5v5h-5zM427.4,180h5v5h-5zM422.4,185h5v5h-5zM427.4,185h5v5h-5zM432.4,180h5v5h-5zM432.4,185h5v5h-5zM452.4,185h5v5h-5zM457.4,185h5v5h-5zM502.4,180h5v5h-5zM507.4,180h5v5h-5zM502.4,185h5v5h-5zM507.4,185h5v5h-5zM532.4,180h5v5h-5zM537.4,180h5v5h-5zM532.4,185h5v5h-5zM537.4,185h5v5h-5zM417.4,190h5v5h-5zM422.4,190h5v5h-5zM452.4,190h5v5h-5zM457.4,190h5v5h-5zM452.4,195h5v5h-5zM462.4,190h5v5h-5zM467.4,190h5v5h-5zM462.4,195h5v5h-5zM467.4,195h5v5h-5zM497.4,195h5v5h-5zM512.4,190h5v5h-5zM517.4,190h5v5h-5zM512.4,195h5v5h-5zM517.4,195h5v5h-5zM522.4,190h5v5h-5zM527.4,190h5v5h-5zM522.4,195h5v5h-5zM527.4,195h5v5h-5zM532.4,190h5v5h-5zM537.4,190h5v5h-5zM532.4,195h5v5h-5zM537.4,195h5v5h-5zM447.4,200h5v5h-5zM452.4,200h5v5h-5zM457.4,200h5v5h-5zM462.4,200h5v5h-5zM482.4,200h5v5h-5zM482.4,205h5v5h-5zM487.4,205h5v5h-5zM502.4,200h5v5h-5zM507.4,200h5v5h-5zM502.4,205h5v5h-5zM507.4,205h5v5h-5zM512.4,200h5v5h-5zM517.4,200h5v5h-5zM512.4,205h5v5h-5zM517.4,205h5v5h-5zM522.4,200h5v5h-5zM527.4,200h5v5h-5zM522.4,205h5v5h-5zM527.4,205h5v5h-5zM532.4,200h5v5h-5zM537.4,200h5v5h-5zM532.4,205h5v5h-5zM537.4,205h5v5h-5zM452.4,210h5v5h-5zM457.4,210h5v5h-5zM482.4,210h5v5h-5zM492.4,210h5v5h-5zM497.4,210h5v5h-5zM497.4,215h5v5h-5zM502.4,210h5v5h-5zM507.4,210h5v5h-5zM502.4,215h5v5h-5zM507.4,215h5v5h-5zM512.4,210h5v5h-5zM517.4,210h5v5h-5zM512.4,215h5v5h-5zM517.4,215h5v5h-5zM522.4,210h5v5h-5zM527.4,210h5v5h-5zM522.4,215h5v5h-5zM527.4,215h5v5h-5zM532.4,210h5v5h-5zM532.4,215h5v5h-5zM537.4,215h5v5h-5zM497.4,220h5v5h-5zM502.4,220h5v5h-5zM507.4,220h5v5h-5zM512.4,220h5v5h-5zM517.4,220h5v5h-5zM517.4,225h5v5h-5zM522.4,220h5v5h-5zM527.4,220h5v5h-5zM522.4,225h5v5h-5zM527.4,225h5v5h-5zM532.4,220h5v5h-5zM537.4,220h5v5h-5zM532.4,225h5v5h-5zM537.4,225h5v5h-5zM517.4,230h5v5h-5zM527.4,230h5v5h-5zM522.4,235h5v5h-5zM527.4,235h5v5h-5zM532.4,230h5v5h-5zM457.4,245h5v5h-5zM437.4,250h5v5h-5zM437.4,255h5v5h-5zM442.4,250h5v5h-5zM447.4,255h5v5h-5zM452.4,250h5v5h-5zM452.4,255h5v5h-5zM457.4,255h5v5h-5zM472.4,255h5v5h-5zM482.4,250h5v5h-5zM487.4,250h5v5h-5zM482.4,255h5v5h-5zM487.4,255h5v5h-5zM437.4,260h5v5h-5zM442.4,260h5v5h-5zM447.4,260h5v5h-5zM442.4,265h5v5h-5zM452.4,260h5v5h-5zM457.4,265h5v5h-5zM462.4,260h5v5h-5zM467.4,265h5v5h-5zM482.4,260h5v5h-5zM487.4,260h5v5h-5zM492.4,265h5v5h-5zM437.4,275h5v5h-5zM442.4,270h5v5h-5zM447.4,270h5v5h-5zM442.4,275h5v5h-5zM447.4,275h5v5h-5zM452.4,270h5v5h-5zM457.4,270h5v5h-5zM452.4,275h5v5h-5zM442.4,280h5v5h-5zM447.4,280h5v5h-5zM442.4,285h5v5h-5zM452.4,280h5v5h-5zM457.4,280h5v5h-5zM452.4,285h5v5h-5zM457.4,285h5v5h-5zM452.4,290h5v5h-5z" fill="url(#R67)" clip-path="url(#clipR)"/>
<g clip-path="url(#clipR)"><ellipse cx="388" cy="69" rx="3.4" ry="4.1" fill="#d82010"/>
<circle cx="386.4" cy="65.2" r="2.2" fill="#d82010"/>
<circle cx="388.7" cy="73.5" r="1.7" fill="#d82010"/>
<circle cx="387.4" cy="64.3" r="1.5" fill="#e83818"/>
<circle cx="384.0" cy="69.7" r="2.6" fill="#801008"/>
<circle cx="389.1" cy="73.9" r="2.2" fill="#e83818"/>
<circle cx="388.5" cy="65.0" r="1.9" fill="#e83818"/>
<circle cx="384.6" cy="66.9" r="2.5" fill="#d82010"/>
<circle cx="384.4" cy="69.8" r="1.6" fill="#d82010"/>
<circle cx="388.4" cy="64.2" r="1.5" fill="#a01008"/>
<circle cx="388.0" cy="69.3" r="2.4" fill="#e83818"/>
<circle cx="388.8" cy="68.5" r="1.8" fill="#d82010"/>
<circle cx="389.8" cy="66.2" r="2.1" fill="#e83818"/>
<circle cx="388.0" cy="67.3" r="2.0" fill="#e06018"/>
<circle cx="387.3" cy="71.8" r="1.6" fill="#e83818"/>
<ellipse cx="381" cy="73" rx="3.4" ry="4.9" fill="#c88028"/>
<circle cx="380.3" cy="79.0" r="1.5" fill="#e0b040"/>
<circle cx="381.7" cy="77.9" r="1.8" fill="#8a6020"/>
<circle cx="379.7" cy="73.0" r="2.4" fill="#c88028"/>
<circle cx="380.8" cy="75.1" r="1.5" fill="#8a6020"/>
<circle cx="379.3" cy="74.0" r="2.3" fill="#e0b040"/>
<circle cx="379.1" cy="71.5" r="2.3" fill="#c88028"/>
<circle cx="385.0" cy="71.1" r="2.2" fill="#e0b040"/>
<circle cx="377.7" cy="69.7" r="1.9" fill="#b0c040"/>
<circle cx="381.0" cy="68.7" r="1.9" fill="#a05818"/>
<circle cx="384.5" cy="77.2" r="2.5" fill="#a05818"/>
<circle cx="382.6" cy="71.4" r="1.7" fill="#c88028"/>
<circle cx="378.1" cy="69.5" r="1.7" fill="#e0b040"/>
<circle cx="384.0" cy="68.9" r="1.8" fill="#c88028"/>
<circle cx="380.3" cy="71.3" r="2.1" fill="#c88028"/>
<circle cx="382.7" cy="73.2" r="2.2" fill="#d04818"/>
<circle cx="383.2" cy="72.4" r="2.5" fill="#b0c040"/>
<ellipse cx="380.5" cy="76" rx="3.4" ry="2.6" fill="#d82010"/>
<circle cx="382.1" cy="76.4" r="1.9" fill="#e83818"/>
<circle cx="376.9" cy="76.9" r="1.5" fill="#d82010"/>
<circle cx="384.9" cy="75.6" r="1.5" fill="#e06018"/>
<circle cx="379.3" cy="72.7" r="2.5" fill="#e06018"/>
<circle cx="379.4" cy="76.9" r="2.6" fill="#e06018"/>
<circle cx="379.3" cy="73.4" r="2.5" fill="#e83818"/>
<circle cx="380.3" cy="74.7" r="1.6" fill="#801008"/>
<circle cx="379.1" cy="74.4" r="2.5" fill="#d82010"/>
<circle cx="380.6" cy="73.9" r="2.6" fill="#a01008"/>
<circle cx="377.3" cy="76.3" r="1.4" fill="#e83818"/>
<ellipse cx="376" cy="87" rx="6.0" ry="5.6" fill="#c88028"/>
<circle cx="372.8" cy="89.1" r="1.5" fill="#b0c040"/>
<circle cx="372.2" cy="85.0" r="1.6" fill="#8a6020"/>
<circle cx="371.6" cy="87.6" r="2.1" fill="#d04818"/>
<circle cx="371.6" cy="91.7" r="2.7" fill="#b0c040"/>
<circle cx="371.1" cy="83.1" r="1.9" fill="#8a6020"/>
<circle cx="371.6" cy="87.3" r="1.9" fill="#c88028"/>
<circle cx="375.6" cy="82.4" r="2.2" fill="#a05818"/>
<circle cx="375.2" cy="93.6" r="2.7" fill="#a05818"/>
<circle cx="375.5" cy="84.6" r="2.0" fill="#d04818"/>
<circle cx="381.4" cy="86.7" r="2.2" fill="#8a6020"/>
<circle cx="378.3" cy="92.0" r="1.6" fill="#e0b040"/>
<circle cx="380.5" cy="90.8" r="2.0" fill="#c88028"/>
<circle cx="374.9" cy="89.0" r="1.5" fill="#8a6020"/>
<circle cx="374.3" cy="85.5" r="2.6" fill="#8a6020"/>
<circle cx="368.4" cy="88.4" r="2.0" fill="#d04818"/>
<circle cx="370.3" cy="91.9" r="2.7" fill="#d04818"/>
<circle cx="376.8" cy="79.8" r="2.4" fill="#8a6020"/>
<circle cx="378.4" cy="87.4" r="2.6" fill="#e0b040"/>
<circle cx="371.4" cy="87.0" r="2.4" fill="#a05818"/>
<circle cx="372.1" cy="85.8" r="1.6" fill="#8a6020"/>
<circle cx="373.7" cy="86.4" r="2.2" fill="#e0b040"/>
<circle cx="374.7" cy="93.3" r="2.1" fill="#e0b040"/>
<circle cx="370.4" cy="87.2" r="2.5" fill="#8a6020"/>
<circle cx="380.8" cy="82.1" r="2.0" fill="#8a6020"/>
<circle cx="378.9" cy="87.5" r="2.0" fill="#8a6020"/>
<circle cx="369.7" cy="87.9" r="1.7" fill="#a05818"/>
<circle cx="375.2" cy="79.9" r="2.6" fill="#c88028"/>
<circle cx="375.1" cy="88.7" r="2.1" fill="#e0b040"/>
<circle cx="371.2" cy="83.7" r="2.1" fill="#8a6020"/>
<circle cx="375.6" cy="93.6" r="2.3" fill="#a05818"/>
<ellipse cx="380" cy="91" rx="2.6" ry="3.4" fill="#c88028"/>
<circle cx="377.9" cy="90.5" r="1.9" fill="#e0b040"/>
<circle cx="379.6" cy="87.2" r="1.7" fill="#c88028"/>
<circle cx="378.0" cy="89.2" r="1.6" fill="#8a6020"/>
<circle cx="377.6" cy="92.9" r="2.3" fill="#c88028"/>
<circle cx="378.3" cy="87.7" r="2.0" fill="#8a6020"/>
<circle cx="383.2" cy="90.1" r="2.0" fill="#d04818"/>
<circle cx="382.3" cy="88.0" r="2.0" fill="#e0b040"/>
<circle cx="379.3" cy="90.3" r="1.9" fill="#c88028"/>
<circle cx="380.4" cy="90.5" r="1.4" fill="#a05818"/>
<circle cx="380.1" cy="89.2" r="2.6" fill="#c88028"/>
<ellipse cx="396" cy="90" rx="8.2" ry="7.5" fill="#2850d8"/>
<circle cx="402.1" cy="85.4" r="1.6" fill="#4088f0"/>
<circle cx="403.7" cy="93.5" r="2.6" fill="#4088f0"/>
<circle cx="397.6" cy="94.0" r="1.5" fill="#2850d8"/>
<circle cx="402.6" cy="83.7" r="2.6" fill="#1030b8"/>
<circle cx="405.6" cy="92.7" r="2.4" fill="#2850d8"/>
<circle cx="398.4" cy="84.4" r="1.7" fill="#2850d8"/>
<circle cx="395.0" cy="86.8" r="2.1" fill="#1030b8"/>
<circle cx="398.7" cy="80.9" r="2.3" fill="#2850d8"/>
<circle cx="398.8" cy="90.6" r="1.7" fill="#4088f0"/>
<circle cx="396.0" cy="83.6" r="1.9" fill="#2850d8"/>
<circle cx="385.4" cy="90.1" r="2.7" fill="#4088f0"/>
<circle cx="395.4" cy="98.7" r="1.5" fill="#1840e0"/>
<circle cx="394.5" cy="89.9" r="2.5" fill="#4088f0"/>
<circle cx="389.7" cy="84.6" r="1.7" fill="#60b0e8"/>
<circle cx="401.0" cy="82.8" r="2.7" fill="#2850d8"/>
<circle cx="398.8" cy="97.6" r="2.0" fill="#2850d8"/>
<circle cx="404.2" cy="93.4" r="1.8" fill="#1030b8"/>
<circle cx="400.2" cy="80.9" r="1.6" fill="#1030b8"/>
<circle cx="394.8" cy="85.3" r="2.7" fill="#4088f0"/>
<circle cx="392.1" cy="80.7" r="2.5" fill="#1030b8"/>
<circle cx="393.4" cy="89.5" r="2.1" fill="#1030b8"/>
<circle cx="390.5" cy="95.5" r="1.5" fill="#2850d8"/>
<circle cx="388.2" cy="91.7" r="1.9" fill="#1030b8"/>
<circle cx="391.7" cy="84.7" r="2.2" fill="#4088f0"/>
<circle cx="403.8" cy="83.1" r="2.6" fill="#2020a0"/>
<circle cx="404.3" cy="87.8" r="1.8" fill="#4088f0"/>
<circle cx="388.3" cy="94.5" r="2.2" fill="#2850d8"/>
<circle cx="403.1" cy="94.3" r="2.1" fill="#4088f0"/>
<circle cx="401.1" cy="96.2" r="1.6" fill="#4088f0"/>
<circle cx="401.6" cy="91.4" r="2.5" fill="#2850d8"/>
<circle cx="403.2" cy="91.7" r="2.6" fill="#1840e0"/>
<circle cx="406.0" cy="92.9" r="1.5" fill="#2850d8"/>
<circle cx="387.9" cy="87.2" r="1.5" fill="#4088f0"/>
<circle cx="397.3" cy="92.6" r="2.2" fill="#1840e0"/>
<circle cx="390.4" cy="85.3" r="2.0" fill="#2850d8"/>
<circle cx="401.5" cy="90.1" r="2.1" fill="#1840e0"/>
<circle cx="396.6" cy="94.9" r="2.0" fill="#2020a0"/>
<circle cx="386.6" cy="85.3" r="2.3" fill="#1030b8"/>
<circle cx="390.1" cy="93.0" r="2.0" fill="#4088f0"/>
<circle cx="398.9" cy="84.0" r="2.2" fill="#1030b8"/>
<circle cx="390.6" cy="94.9" r="1.8" fill="#1840e0"/>
<circle cx="387.9" cy="89.6" r="2.0" fill="#1840e0"/>
<circle cx="387.2" cy="84.4" r="2.0" fill="#60b0e8"/>
<circle cx="396.4" cy="89.3" r="2.0" fill="#2850d8"/>
<circle cx="406.9" cy="91.0" r="1.8" fill="#2850d8"/>
<circle cx="395.1" cy="96.4" r="2.7" fill="#4088f0"/>
<circle cx="401.4" cy="85.2" r="1.9" fill="#1840e0"/>
<circle cx="403.0" cy="90.2" r="2.6" fill="#60b0e8"/>
<circle cx="393.0" cy="90.0" r="2.5" fill="#4088f0"/>
<circle cx="395.8" cy="89.0" r="1.8" fill="#2850d8"/>
<circle cx="394.2" cy="87.5" r="1.6" fill="#1030b8"/>
<circle cx="405.4" cy="94.3" r="2.6" fill="#1030b8"/>
<ellipse cx="398" cy="93" rx="4.5" ry="4.5" fill="#1828b0"/>
<circle cx="396.7" cy="97.4" r="1.5" fill="#2040d0"/>
<circle cx="401.1" cy="97.3" r="1.8" fill="#1828b0"/>
<circle cx="402.0" cy="90.4" r="2.6" fill="#0818a0"/>
<circle cx="403.7" cy="92.2" r="1.8" fill="#0818a0"/>
<circle cx="401.4" cy="92.1" r="1.4" fill="#101890"/>
<circle cx="396.8" cy="97.5" r="2.1" fill="#0818a0"/>
<circle cx="400.8" cy="92.4" r="2.4" fill="#101890"/>
<circle cx="402.4" cy="92.8" r="2.6" fill="#2040d0"/>
<circle cx="393.5" cy="92.7" r="1.8" fill="#0818a0"/>
<circle cx="395.1" cy="95.9" r="2.2" fill="#2040d0"/>
<circle cx="399.9" cy="90.6" r="2.1" fill="#2040d0"/>
<circle cx="393.4" cy="94.7" r="1.5" fill="#2040d0"/>
<circle cx="402.9" cy="93.0" r="1.7" fill="#0818a0"/>
<circle cx="404.0" cy="92.4" r="1.6" fill="#0818a0"/>
<circle cx="394.9" cy="89.1" r="2.1" fill="#0818a0"/>
<circle cx="394.9" cy="90.1" r="2.1" fill="#1828b0"/>
<circle cx="401.0" cy="92.0" r="1.9" fill="#2040d0"/>
<circle cx="394.5" cy="90.2" r="2.4" fill="#2040d0"/>
<circle cx="393.5" cy="93.0" r="2.2" fill="#0818a0"/>
<ellipse cx="396.5" cy="75" rx="3.4" ry="3.8" fill="#2850d8"/>
<circle cx="395.5" cy="76.5" r="2.0" fill="#1030b8"/>
<circle cx="398.4" cy="79.0" r="2.0" fill="#1840e0"/>
<circle cx="396.4" cy="70.7" r="2.6" fill="#4088f0"/>
<circle cx="394.2" cy="71.1" r="1.6" fill="#4088f0"/>
<circle cx="399.4" cy="77.0" r="2.5" fill="#4088f0"/>
<circle cx="392.8" cy="77.8" r="1.4" fill="#2850d8"/>
<circle cx="394.1" cy="79.2" r="2.2" fill="#1030b8"/>
<circle cx="400.7" cy="76.3" r="2.1" fill="#4088f0"/>
<circle cx="398.3" cy="71.1" r="1.5" fill="#4088f0"/>
<circle cx="394.3" cy="77.9" r="1.4" fill="#4088f0"/>
<circle cx="394.7" cy="74.6" r="2.6" fill="#1840e0"/>
<circle cx="399.6" cy="72.4" r="2.1" fill="#4088f0"/>
<circle cx="398.3" cy="73.1" r="1.4" fill="#4088f0"/>
<ellipse cx="404" cy="78" rx="3.0" ry="4.5" fill="#b8a838"/>
<circle cx="407.1" cy="79.8" r="1.5" fill="#a08828"/>
<circle cx="405.3" cy="83.1" r="1.7" fill="#b8a838"/>
<circle cx="405.6" cy="80.6" r="1.9" fill="#d8d040"/>
<circle cx="401.6" cy="81.6" r="2.4" fill="#d8d040"/>
<circle cx="400.5" cy="77.9" r="1.7" fill="#a08828"/>
<circle cx="401.8" cy="74.7" r="2.4" fill="#a08828"/>
<circle cx="400.9" cy="79.5" r="2.2" fill="#a08828"/>
<circle cx="403.9" cy="82.9" r="1.5" fill="#889030"/>
<circle cx="401.2" cy="76.7" r="1.7" fill="#889030"/>
<circle cx="400.5" cy="76.7" r="2.6" fill="#a08828"/>
<circle cx="407.5" cy="76.0" r="1.6" fill="#d8d040"/>
<circle cx="405.3" cy="76.5" r="1.9" fill="#a08828"/>
<circle cx="403.5" cy="73.3" r="1.5" fill="#b8a838"/>
<ellipse cx="412" cy="72" rx="3.0" ry="5.6" fill="#d82010"/>
<circle cx="410.8" cy="78.8" r="1.6" fill="#a01008"/>
<circle cx="411.0" cy="76.0" r="1.8" fill="#e83818"/>
<circle cx="408.7" cy="75.1" r="1.7" fill="#e83818"/>
<circle cx="410.9" cy="78.0" r="1.4" fill="#e83818"/>
<circle cx="410.0" cy="73.9" r="1.9" fill="#e83818"/>
<circle cx="415.4" cy="68.4" r="2.4" fill="#e06018"/>
<circle cx="410.7" cy="68.6" r="2.6" fill="#e06018"/>
<circle cx="413.5" cy="78.4" r="1.8" fill="#801008"/>
<circle cx="414.0" cy="78.2" r="2.2" fill="#d82010"/>
<circle cx="411.8" cy="78.9" r="2.6" fill="#e83818"/>
<circle cx="414.5" cy="66.5" r="2.0" fill="#d82010"/>
<circle cx="414.4" cy="75.6" r="2.5" fill="#d82010"/>
<circle cx="412.9" cy="69.4" r="1.8" fill="#a01008"/>
<circle cx="414.3" cy="73.4" r="2.1" fill="#e83818"/>
<circle cx="414.0" cy="68.2" r="1.5" fill="#d82010"/>
<circle cx="411.9" cy="72.7" r="1.6" fill="#e83818"/>
<ellipse cx="420" cy="76.5" rx="3.0" ry="3.4" fill="#c88028"/>
<circle cx="418.1" cy="72.8" r="1.5" fill="#e0b040"/>
<circle cx="417.4" cy="73.2" r="2.0" fill="#d04818"/>
<circle cx="417.9" cy="76.8" r="2.4" fill="#8a6020"/>
<circle cx="418.4" cy="77.1" r="1.9" fill="#8a6020"/>
<circle cx="418.1" cy="76.0" r="1.6" fill="#a05818"/>
<circle cx="420.6" cy="74.9" r="1.9" fill="#a05818"/>
<circle cx="420.1" cy="74.1" r="2.5" fill="#d04818"/>
<circle cx="419.7" cy="72.3" r="1.4" fill="#b0c040"/>
<circle cx="417.8" cy="76.0" r="1.9" fill="#a05818"/>
<circle cx="420.8" cy="79.5" r="1.7" fill="#c88028"/>
<circle cx="419.0" cy="79.8" r="2.0" fill="#a05818"/>
<ellipse cx="410.5" cy="67.5" rx="2.2" ry="2.2" fill="#c88028"/>
<circle cx="412.1" cy="68.5" r="1.4" fill="#d04818"/>
<circle cx="411.1" cy="68.2" r="1.7" fill="#a05818"/>
<circle cx="409.5" cy="64.8" r="2.7" fill="#c88028"/>
<circle cx="411.1" cy="68.4" r="1.7" fill="#c88028"/>
<circle cx="412.4" cy="67.0" r="1.9" fill="#d04818"/>
<circle cx="409.4" cy="65.7" r="2.4" fill="#e0b040"/>
<circle cx="410.4" cy="66.9" r="2.4" fill="#d04818"/>
<ellipse cx="418.5" cy="90.5" rx="4.9" ry="7.1" fill="#2850d8"/>
<circle cx="419.2" cy="93.1" r="1.5" fill="#2850d8"/>
<circle cx="417.2" cy="86.2" r="2.7" fill="#1840e0"/>
<circle cx="416.0" cy="99.1" r="1.8" fill="#1840e0"/>
<circle cx="423.5" cy="88.9" r="1.4" fill="#2020a0"/>
<circle cx="414.6" cy="94.8" r="1.7" fill="#2850d8"/>
<circle cx="417.6" cy="84.0" r="1.5" fill="#2850d8"/>
<circle cx="417.3" cy="97.8" r="2.0" fill="#2850d8"/>
<circle cx="413.9" cy="96.3" r="1.9" fill="#1840e0"/>
<circle cx="420.1" cy="88.0" r="2.1" fill="#2850d8"/>
<circle cx="416.5" cy="84.1" r="1.6" fill="#2850d8"/>
<circle cx="413.4" cy="90.3" r="2.4" fill="#2020a0"/>
<circle cx="414.6" cy="83.4" r="2.6" fill="#4088f0"/>
<circle cx="416.1" cy="92.5" r="2.2" fill="#2850d8"/>
<circle cx="423.8" cy="92.8" r="2.5" fill="#2850d8"/>
<circle cx="420.3" cy="97.3" r="2.2" fill="#1840e0"/>
<circle cx="423.0" cy="96.8" r="1.6" fill="#1030b8"/>
<circle cx="414.0" cy="87.8" r="1.6" fill="#60b0e8"/>
<circle cx="422.6" cy="84.7" r="2.5" fill="#2020a0"/>
<circle cx="420.7" cy="93.7" r="1.8" fill="#4088f0"/>
<circle cx="419.8" cy="91.5" r="2.2" fill="#1030b8"/>
<circle cx="420.4" cy="86.9" r="1.7" fill="#4088f0"/>
<circle cx="420.6" cy="89.5" r="2.0" fill="#2850d8"/>
<circle cx="418.0" cy="89.5" r="2.2" fill="#4088f0"/>
<circle cx="422.9" cy="96.4" r="1.9" fill="#2850d8"/>
<circle cx="413.7" cy="89.2" r="1.5" fill="#4088f0"/>
<circle cx="418.6" cy="93.5" r="1.5" fill="#2850d8"/>
<circle cx="413.1" cy="94.9" r="2.4" fill="#4088f0"/>
<circle cx="413.0" cy="95.3" r="2.6" fill="#1840e0"/>
<circle cx="421.5" cy="96.5" r="1.7" fill="#4088f0"/>
<circle cx="415.7" cy="96.4" r="2.4" fill="#1840e0"/>
<ellipse cx="421.5" cy="67.5" rx="2.6" ry="2.2" fill="#2850d8"/>
<circle cx="418.5" cy="66.6" r="2.4" fill="#2850d8"/>
<circle cx="420.3" cy="68.2" r="2.6" fill="#4088f0"/>
<circle cx="419.0" cy="67.5" r="2.6" fill="#1030b8"/>
<circle cx="422.1" cy="68.2" r="1.7" fill="#1030b8"/>
<circle cx="422.8" cy="69.9" r="1.6" fill="#2020a0"/>
<circle cx="419.9" cy="69.1" r="1.5" fill="#1030b8"/>
<circle cx="424.8" cy="67.2" r="2.1" fill="#60b0e8"/>
<ellipse cx="403" cy="67.5" rx="4.5" ry="3.4" fill="#e6f2b0"/>
<circle cx="401.7" cy="70.2" r="1.7" fill="#c8d838"/>
<circle cx="403.9" cy="66.2" r="2.4" fill="#80d070"/>
<circle cx="399.8" cy="68.5" r="2.6" fill="#c8d838"/>
<circle cx="406.8" cy="65.3" r="2.2" fill="#a8a040"/>
<circle cx="404.0" cy="69.0" r="1.8" fill="#e6f2b0"/>
<circle cx="406.0" cy="65.0" r="1.8" fill="#ffffff"/>
<circle cx="402.2" cy="67.6" r="2.6" fill="#e6f2b0"/>
<circle cx="402.9" cy="68.5" r="1.5" fill="#e6f2b0"/>
<circle cx="398.3" cy="66.2" r="1.7" fill="#e8f060"/>
<circle cx="400.6" cy="64.2" r="1.9" fill="#a8a040"/>
<circle cx="402.7" cy="64.2" r="2.6" fill="#c8d838"/>
<circle cx="405.5" cy="67.1" r="1.5" fill="#e6f2b0"/>
<circle cx="407.5" cy="70.0" r="1.9" fill="#c8d838"/>
<circle cx="404.1" cy="68.2" r="2.2" fill="#e8f060"/>
<circle cx="405.8" cy="65.2" r="2.6" fill="#e6f2b0"/>
<circle cx="385.7" cy="79.0" r="2.6" fill="#88dcec"/>
<circle cx="384.1" cy="81.3" r="2.6" fill="#88dcec"/>
<circle cx="387.7" cy="81.1" r="2.2" fill="#ffffff"/>
<circle cx="389.8" cy="82.9" r="1.6" fill="#50c0ec"/>
<circle cx="384.6" cy="81.8" r="2.7" fill="#ffffff"/>
<circle cx="391.0" cy="82.3" r="1.4" fill="#70e4e4"/>
<circle cx="390.7" cy="80.8" r="2.4" fill="#70e4e4"/>
<circle cx="386.4" cy="81.9" r="1.6" fill="#ffffff"/>
<circle cx="389.7" cy="82.1" r="2.3" fill="#b0ecc8"/>
<ellipse cx="377.5" cy="103" rx="4.9" ry="6.0" fill="#b8a838"/>
<circle cx="372.1" cy="103.1" r="1.6" fill="#a08828"/>
<circle cx="381.9" cy="98.2" r="1.6" fill="#a08828"/>
<circle cx="373.5" cy="101.2" r="2.2" fill="#d8d040"/>
<circle cx="382.8" cy="105.1" r="2.3" fill="#889030"/>
<circle cx="381.9" cy="103.6" r="2.0" fill="#d8d040"/>
<circle cx="380.1" cy="108.7" r="2.0" fill="#e0c060"/>
<circle cx="374.0" cy="109.2" r="2.4" fill="#d8d040"/>
<circle cx="379.1" cy="96.2" r="2.6" fill="#b8a838"/>
<circle cx="379.1" cy="97.6" r="2.7" fill="#e0c060"/>
<circle cx="380.0" cy="105.1" r="2.3" fill="#e0c060"/>
<circle cx="380.9" cy="98.2" r="2.6" fill="#d8d040"/>
<circle cx="373.7" cy="96.8" r="1.4" fill="#889030"/>
<circle cx="372.1" cy="107.0" r="2.2" fill="#d8d040"/>
<circle cx="380.8" cy="98.3" r="1.8" fill="#d8d040"/>
<circle cx="374.4" cy="100.6" r="2.6" fill="#b8a838"/>
<circle cx="380.3" cy="100.9" r="1.8" fill="#889030"/>
<circle cx="377.5" cy="108.6" r="2.2" fill="#b8a838"/>
<circle cx="377.7" cy="96.6" r="2.0" fill="#b8a838"/>
<circle cx="378.0" cy="98.5" r="2.5" fill="#b8a838"/>
<circle cx="378.5" cy="99.6" r="2.0" fill="#d8d040"/>
<circle cx="373.6" cy="107.2" r="2.7" fill="#b8a838"/>
<circle cx="375.5" cy="96.5" r="2.3" fill="#b8a838"/>
<circle cx="383.6" cy="104.5" r="2.6" fill="#d8d040"/>
<circle cx="374.7" cy="98.4" r="2.3" fill="#d8d040"/>
<circle cx="381.0" cy="102.8" r="2.7" fill="#d8d040"/>
<circle cx="381.2" cy="105.0" r="1.9" fill="#d8d040"/>
<ellipse cx="377.5" cy="115.5" rx="4.9" ry="3.4" fill="#c88028"/>
<circle cx="380.7" cy="114.8" r="2.2" fill="#a05818"/>
<circle cx="373.7" cy="113.4" r="2.6" fill="#e0b040"/>
<circle cx="379.2" cy="119.5" r="1.6" fill="#d04818"/>
<circle cx="380.8" cy="117.8" r="2.2" fill="#a05818"/>
<circle cx="378.6" cy="115.7" r="2.5" fill="#e0b040"/>
<circle cx="379.6" cy="117.7" r="1.6" fill="#e0b040"/>
<circle cx="380.0" cy="113.3" r="1.7" fill="#a05818"/>
<circle cx="377.0" cy="119.0" r="1.7" fill="#a05818"/>
<circle cx="374.5" cy="117.8" r="2.5" fill="#d04818"/>
<circle cx="373.0" cy="112.4" r="1.7" fill="#a05818"/>
<circle cx="378.8" cy="114.1" r="1.7" fill="#a05818"/>
<circle cx="379.6" cy="112.8" r="1.6" fill="#c88028"/>
<circle cx="381.3" cy="117.6" r="2.0" fill="#a05818"/>
<circle cx="374.7" cy="119.0" r="2.0" fill="#c88028"/>
<circle cx="376.2" cy="118.1" r="2.3" fill="#e0b040"/>
<circle cx="374.1" cy="118.7" r="2.3" fill="#d04818"/>
<ellipse cx="386" cy="123" rx="3.8" ry="3.4" fill="#c88028"/>
<circle cx="388.5" cy="122.3" r="1.7" fill="#8a6020"/>
<circle cx="387.5" cy="126.4" r="2.2" fill="#d04818"/>
<circle cx="389.5" cy="124.6" r="2.2" fill="#e0b040"/>
<circle cx="385.3" cy="120.8" r="2.3" fill="#e0b040"/>
<circle cx="383.4" cy="122.1" r="2.3" fill="#c88028"/>
<circle cx="383.5" cy="122.3" r="2.0" fill="#d04818"/>
<circle cx="389.6" cy="123.2" r="2.3" fill="#b0c040"/>
<circle cx="382.8" cy="124.4" r="2.4" fill="#e0b040"/>
<circle cx="382.1" cy="120.8" r="1.7" fill="#8a6020"/>
<circle cx="386.2" cy="119.4" r="2.1" fill="#e0b040"/>
<circle cx="383.0" cy="122.8" r="1.4" fill="#8a6020"/>
<circle cx="389.3" cy="123.2" r="1.9" fill="#e0b040"/>
<circle cx="383.1" cy="124.7" r="1.9" fill="#8a6020"/>
<ellipse cx="377.5" cy="124.5" rx="2.6" ry="3.0" fill="#f4d0b0"/>
<circle cx="380.5" cy="126.3" r="2.2" fill="#e0e0a0"/>
<circle cx="374.4" cy="122.7" r="1.9" fill="#f4d0b0"/>
<circle cx="378.4" cy="125.9" r="2.2" fill="#f4d0b0"/>
<circle cx="375.6" cy="126.4" r="2.6" fill="#f0c090"/>
<circle cx="380.7" cy="124.2" r="1.6" fill="#f4d0b0"/>
<circle cx="379.7" cy="125.6" r="2.0" fill="#f0c090"/>
<circle cx="379.0" cy="127.0" r="1.6" fill="#e0e0a0"/>
<circle cx="378.5" cy="127.0" r="2.5" fill="#ffffff"/>
<circle cx="378.5" cy="126.7" r="2.0" fill="#e8a870"/>
<ellipse cx="404" cy="99.5" rx="14.2" ry="3.4" fill="#2850d8"/>
<circle cx="395.2" cy="98.4" r="1.7" fill="#4088f0"/>
<circle cx="410.8" cy="99.3" r="2.4" fill="#2020a0"/>
<circle cx="395.7" cy="97.2" r="1.8" fill="#4088f0"/>
<circle cx="403.4" cy="100.6" r="1.5" fill="#1030b8"/>
<circle cx="390.8" cy="97.7" r="1.9" fill="#2850d8"/>
<circle cx="414.8" cy="96.3" r="2.5" fill="#1840e0"/>
<circle cx="407.1" cy="100.9" r="1.7" fill="#2850d8"/>
<circle cx="409.9" cy="97.3" r="1.5" fill="#2850d8"/>
<circle cx="417.5" cy="96.7" r="2.0" fill="#2020a0"/>
<circle cx="415.1" cy="96.5" r="2.6" fill="#1840e0"/>
<circle cx="419.3" cy="99.9" r="2.2" fill="#1030b8"/>
<circle cx="392.5" cy="101.2" r="2.1" fill="#60b0e8"/>
<circle cx="416.9" cy="101.0" r="1.6" fill="#2850d8"/>
<circle cx="395.1" cy="97.1" r="1.6" fill="#4088f0"/>
<circle cx="406.2" cy="99.4" r="2.6" fill="#60b0e8"/>
<circle cx="403.7" cy="99.5" r="2.1" fill="#60b0e8"/>
<circle cx="402.8" cy="100.1" r="2.3" fill="#4088f0"/>
<circle cx="399.2" cy="98.8" r="2.6" fill="#2850d8"/>
<circle cx="391.9" cy="98.2" r="2.2" fill="#2850d8"/>
<circle cx="408.2" cy="101.1" r="2.6" fill="#1030b8"/>
<circle cx="403.4" cy="101.8" r="1.6" fill="#1030b8"/>
<circle cx="412.3" cy="100.6" r="1.8" fill="#1840e0"/>
<circle cx="398.9" cy="99.3" r="2.1" fill="#2020a0"/>
<circle cx="419.7" cy="97.6" r="1.8" fill="#1030b8"/>
<circle cx="406.1" cy="102.4" r="1.8" fill="#4088f0"/>
<circle cx="400.3" cy="99.5" r="1.8" fill="#4088f0"/>
<circle cx="398.1" cy="96.8" r="2.0" fill="#2850d8"/>
<circle cx="397.6" cy="97.9" r="1.8" fill="#1840e0"/>
<circle cx="406.1" cy="98.7" r="2.1" fill="#4088f0"/>
<circle cx="408.1" cy="100.9" r="2.4" fill="#4088f0"/>
<circle cx="408.2" cy="100.6" r="2.2" fill="#60b0e8"/>
<circle cx="411.2" cy="102.9" r="1.5" fill="#2850d8"/>
<circle cx="410.3" cy="99.1" r="2.4" fill="#2850d8"/>
<circle cx="410.2" cy="102.8" r="1.9" fill="#2850d8"/>
<circle cx="419.7" cy="100.9" r="1.9" fill="#2850d8"/>
<circle cx="414.9" cy="100.1" r="1.7" fill="#1030b8"/>
<circle cx="385.8" cy="100.1" r="2.2" fill="#2850d8"/>
<circle cx="403.9" cy="99.7" r="2.5" fill="#2020a0"/>
<circle cx="415.8" cy="100.2" r="2.6" fill="#4088f0"/>
<circle cx="387.6" cy="101.1" r="2.2" fill="#1840e0"/>
<circle cx="422.3" cy="99.3" r="1.9" fill="#2850d8"/>
<ellipse cx="402.5" cy="120" rx="12.8" ry="10.5" fill="#2850d8"/>
<circle cx="388.3" cy="119.2" r="2.6" fill="#1840e0"/>
<circle cx="408.7" cy="109.4" r="2.7" fill="#2850d8"/>
<circle cx="392.9" cy="109.4" r="2.0" fill="#1030b8"/>
<circle cx="410.0" cy="112.8" r="2.4" fill="#2850d8"/>
<circle cx="416.9" cy="116.2" r="2.4" fill="#60b0e8"/>
<circle cx="414.6" cy="126.4" r="1.5" fill="#1840e0"/>
<circle cx="404.5" cy="119.9" r="2.3" fill="#1030b8"/>
<circle cx="415.5" cy="125.2" r="2.2" fill="#4088f0"/>
<circle cx="396.1" cy="126.4" r="1.6" fill="#4088f0"/>
<circle cx="406.2" cy="114.9" r="2.6" fill="#60b0e8"/>
<circle cx="400.4" cy="125.0" r="1.6" fill="#2020a0"/>
<circle cx="391.1" cy="128.5" r="2.0" fill="#2020a0"/>
<circle cx="412.2" cy="121.9" r="1.8" fill="#2850d8"/>
<circle cx="406.6" cy="124.2" r="2.4" fill="#1840e0"/>
<circle cx="396.8" cy="123.0" r="2.7" fill="#2850d8"/>
<circle cx="405.9" cy="114.6" r="2.0" fill="#1030b8"/>
<circle cx="398.3" cy="125.2" r="2.2" fill="#1030b8"/>
<circle cx="413.0" cy="113.9" r="1.4" fill="#1030b8"/>
<circle cx="394.6" cy="110.4" r="2.6" fill="#2020a0"/>
<circle cx="413.8" cy="128.7" r="2.5" fill="#1840e0"/>
<circle cx="412.6" cy="121.3" r="2.4" fill="#4088f0"/>
<circle cx="397.3" cy="108.4" r="2.1" fill="#2020a0"/>
<circle cx="398.5" cy="128.1" r="2.3" fill="#1030b8"/>
<circle cx="396.0" cy="107.6" r="1.9" fill="#60b0e8"/>
<circle cx="392.5" cy="113.1" r="2.4" fill="#2020a0"/>
<circle cx="398.6" cy="121.1" r="2.1" fill="#1030b8"/>
<circle cx="411.8" cy="112.5" r="2.2" fill="#1030b8"/>
<circle cx="415.6" cy="120.6" r="2.0" fill="#1840e0"/>
<circle cx="392.4" cy="112.0" r="1.5" fill="#2020a0"/>
<circle cx="409.3" cy="116.2" r="2.1" fill="#4088f0"/>
<circle cx="412.0" cy="130.0" r="1.7" fill="#4088f0"/>
<circle cx="398.2" cy="109.0" r="2.2" fill="#2020a0"/>
<circle cx="388.3" cy="114.8" r="1.4" fill="#1030b8"/>
<circle cx="403.2" cy="106.6" r="1.4" fill="#1840e0"/>
<circle cx="402.0" cy="121.9" r="1.7" fill="#2020a0"/>
<circle cx="395.0" cy="108.7" r="2.0" fill="#1840e0"/>
<circle cx="392.3" cy="111.1" r="1.5" fill="#2850d8"/>
<circle cx="386.7" cy="116.3" r="2.3" fill="#4088f0"/>
<circle cx="387.7" cy="122.7" r="1.9" fill="#2850d8"/>
<circle cx="409.5" cy="108.5" r="1.8" fill="#1030b8"/>
<circle cx="407.3" cy="132.8" r="2.3" fill="#4088f0"/>
<circle cx="391.7" cy="129.8" r="1.9" fill="#1030b8"/>
<circle cx="397.5" cy="131.3" r="2.6" fill="#2850d8"/>
<circle cx="394.3" cy="120.4" r="2.4" fill="#2020a0"/>
<circle cx="390.4" cy="127.1" r="2.6" fill="#1840e0"/>
<circle cx="410.9" cy="122.5" r="2.0" fill="#1840e0"/>
<circle cx="389.1" cy="115.1" r="1.7" fill="#2850d8"/>
<circle cx="398.2" cy="116.6" r="2.0" fill="#2020a0"/>
<circle cx="390.4" cy="125.0" r="1.4" fill="#60b0e8"/>
<circle cx="390.8" cy="129.3" r="1.5" fill="#1840e0"/>
<circle cx="390.3" cy="118.5" r="1.5" fill="#4088f0"/>
<circle cx="414.1" cy="123.6" r="2.0" fill="#1030b8"/>
<circle cx="396.5" cy="112.5" r="1.6" fill="#1030b8"/>
<circle cx="390.4" cy="112.2" r="1.5" fill="#60b0e8"/>
<circle cx="400.8" cy="130.9" r="2.0" fill="#2850d8"/>
<circle cx="394.6" cy="117.5" r="1.6" fill="#1030b8"/>
<circle cx="404.9" cy="114.3" r="2.4" fill="#1030b8"/>
<circle cx="402.2" cy="114.9" r="2.6" fill="#2850d8"/>
<circle cx="390.7" cy="120.4" r="2.2" fill="#2020a0"/>
<circle cx="408.2" cy="111.9" r="2.0" fill="#1030b8"/>
<circle cx="389.6" cy="127.1" r="2.7" fill="#4088f0"/>
<circle cx="395.3" cy="131.1" r="1.5" fill="#60b0e8"/>
<circle cx="407.3" cy="118.4" r="2.1" fill="#4088f0"/>
<circle cx="413.8" cy="120.7" r="1.6" fill="#4088f0"/>
<circle cx="386.9" cy="117.5" r="1.8" fill="#2850d8"/>
<circle cx="390.2" cy="111.0" r="2.4" fill="#60b0e8"/>
<circle cx="391.5" cy="122.8" r="2.5" fill="#1840e0"/>
<circle cx="410.3" cy="127.3" r="1.6" fill="#2850d8"/>
<circle cx="406.3" cy="125.8" r="2.5" fill="#1840e0"/>
<circle cx="409.0" cy="120.5" r="2.5" fill="#2850d8"/>
<circle cx="403.1" cy="115.7" r="1.8" fill="#1840e0"/>
<circle cx="414.9" cy="119.8" r="1.4" fill="#2020a0"/>
<circle cx="401.7" cy="130.4" r="1.7" fill="#2850d8"/>
<circle cx="404.6" cy="133.6" r="1.4" fill="#60b0e8"/>
<circle cx="398.1" cy="122.7" r="1.4" fill="#4088f0"/>
<circle cx="387.9" cy="116.0" r="1.7" fill="#1030b8"/>
<circle cx="412.0" cy="130.3" r="2.1" fill="#2850d8"/>
<circle cx="395.4" cy="109.0" r="2.4" fill="#4088f0"/>
<circle cx="403.0" cy="120.9" r="2.1" fill="#2850d8"/>
<circle cx="393.8" cy="108.5" r="2.2" fill="#2850d8"/>
<circle cx="389.0" cy="113.0" r="2.5" fill="#2850d8"/>
<circle cx="410.6" cy="113.3" r="2.5" fill="#1840e0"/>
<circle cx="405.1" cy="120.6" r="2.3" fill="#2850d8"/>
<circle cx="397.4" cy="108.6" r="1.6" fill="#1030b8"/>
<circle cx="389.7" cy="119.8" r="2.1" fill="#1030b8"/>
<circle cx="415.6" cy="121.2" r="1.7" fill="#1030b8"/>
<circle cx="390.5" cy="122.0" r="2.4" fill="#2850d8"/>
<circle cx="407.1" cy="125.4" r="2.2" fill="#1840e0"/>
<circle cx="403.4" cy="117.1" r="2.6" fill="#2020a0"/>
<circle cx="397.9" cy="117.2" r="2.5" fill="#60b0e8"/>
<circle cx="400.3" cy="133.5" r="2.4" fill="#1030b8"/>
<circle cx="413.2" cy="129.7" r="1.5" fill="#4088f0"/>
<circle cx="390.5" cy="125.0" r="1.9" fill="#4088f0"/>
<circle cx="396.5" cy="111.6" r="2.3" fill="#1030b8"/>
<circle cx="407.0" cy="128.7" r="2.5" fill="#2850d8"/>
<circle cx="386.7" cy="124.0" r="1.7" fill="#1840e0"/>
<circle cx="406.7" cy="123.6" r="2.4" fill="#2850d8"/>
<circle cx="406.6" cy="113.0" r="2.1" fill="#4088f0"/>
<circle cx="389.3" cy="115.7" r="1.6" fill="#2850d8"/>
<circle cx="405.7" cy="132.8" r="2.1" fill="#1030b8"/>
<circle cx="388.4" cy="122.5" r="2.6" fill="#4088f0"/>
<circle cx="395.5" cy="117.4" r="1.8" fill="#1030b8"/>
<circle cx="410.5" cy="126.7" r="1.8" fill="#4088f0"/>
<circle cx="406.2" cy="122.0" r="2.2" fill="#1030b8"/>
<circle cx="404.2" cy="116.3" r="2.6" fill="#1030b8"/>
<circle cx="406.3" cy="119.1" r="1.8" fill="#1030b8"/>
<circle cx="396.8" cy="111.3" r="2.1" fill="#1840e0"/>
<circle cx="399.0" cy="131.9" r="1.6" fill="#1030b8"/>
<circle cx="396.5" cy="115.1" r="1.8" fill="#1030b8"/>
<circle cx="395.5" cy="127.6" r="1.6" fill="#2850d8"/>
<ellipse cx="404" cy="125" rx="7.5" ry="6.0" fill="#1828b0"/>
<circle cx="406.1" cy="122.6" r="2.3" fill="#2040d0"/>
<circle cx="401.8" cy="124.0" r="2.4" fill="#1828b0"/>
<circle cx="404.4" cy="132.8" r="2.3" fill="#1828b0"/>
<circle cx="402.3" cy="127.7" r="1.6" fill="#0818a0"/>
<circle cx="406.3" cy="130.6" r="2.5" fill="#2040d0"/>
<circle cx="399.4" cy="127.1" r="2.2" fill="#1828b0"/>
<circle cx="402.3" cy="118.7" r="1.9" fill="#2040d0"/>
<circle cx="405.7" cy="125.0" r="2.7" fill="#101890"/>
<circle cx="397.0" cy="130.6" r="1.8" fill="#101890"/>
<circle cx="406.1" cy="123.1" r="2.0" fill="#2040d0"/>
<circle cx="399.8" cy="122.6" r="1.9" fill="#2040d0"/>
<circle cx="405.1" cy="123.2" r="1.8" fill="#2040d0"/>
<circle cx="401.6" cy="121.8" r="2.1" fill="#1828b0"/>
<circle cx="402.7" cy="123.0" r="1.7" fill="#0818a0"/>
<circle cx="400.5" cy="130.5" r="2.5" fill="#0818a0"/>
<circle cx="398.1" cy="123.8" r="2.6" fill="#1828b0"/>
<circle cx="411.9" cy="121.8" r="2.1" fill="#0818a0"/>
<circle cx="404.8" cy="133.0" r="2.1" fill="#2040d0"/>
<circle cx="408.5" cy="123.9" r="2.0" fill="#1828b0"/>
<circle cx="405.9" cy="122.6" r="2.6" fill="#101890"/>
<circle cx="402.2" cy="125.0" r="2.2" fill="#101890"/>
<circle cx="397.1" cy="120.0" r="1.9" fill="#2040d0"/>
<circle cx="402.8" cy="127.0" r="2.7" fill="#0818a0"/>
<circle cx="407.8" cy="128.9" r="1.5" fill="#0818a0"/>
<circle cx="410.5" cy="125.2" r="1.5" fill="#0818a0"/>
<circle cx="407.8" cy="130.1" r="2.7" fill="#2040d0"/>
<circle cx="406.6" cy="125.4" r="2.5" fill="#0818a0"/>
<circle cx="404.1" cy="120.0" r="1.6" fill="#101890"/>
<circle cx="405.3" cy="118.7" r="2.1" fill="#101890"/>
<circle cx="406.7" cy="117.7" r="1.9" fill="#1828b0"/>
<circle cx="400.1" cy="128.1" r="1.4" fill="#0818a0"/>
<circle cx="402.0" cy="118.6" r="1.4" fill="#1828b0"/>
<circle cx="397.9" cy="125.0" r="2.1" fill="#0818a0"/>
<circle cx="404.3" cy="119.3" r="1.7" fill="#101890"/>
<circle cx="409.2" cy="118.7" r="1.5" fill="#1828b0"/>
<circle cx="413.0" cy="124.8" r="2.0" fill="#2040d0"/>
<circle cx="400.5" cy="128.4" r="1.9" fill="#1828b0"/>
<circle cx="394.7" cy="127.1" r="2.5" fill="#101890"/>
<circle cx="406.5" cy="117.3" r="1.7" fill="#2040d0"/>
<ellipse cx="413.5" cy="106" rx="3.4" ry="3.0" fill="#e6f2b0"/>
<circle cx="414.2" cy="109.7" r="2.0" fill="#e8f060"/>
<circle cx="411.1" cy="103.8" r="1.6" fill="#e8f060"/>
<circle cx="416.7" cy="104.5" r="2.6" fill="#a8a040"/>
<circle cx="413.1" cy="105.3" r="1.7" fill="#78d8c8"/>
<circle cx="413.5" cy="109.6" r="1.7" fill="#80d070"/>
<circle cx="415.1" cy="106.7" r="1.9" fill="#80d070"/>
<circle cx="416.9" cy="105.9" r="2.4" fill="#c8d838"/>
<circle cx="416.9" cy="105.2" r="1.9" fill="#c8d838"/>
<circle cx="413.8" cy="105.1" r="1.9" fill="#e6f2b0"/>
<circle cx="417.7" cy="105.4" r="2.6" fill="#e8f060"/>
<circle cx="411.2" cy="103.5" r="1.8" fill="#c8d838"/>
<circle cx="388.4" cy="103.5" r="1.4" fill="#4090e0"/>
<circle cx="385.6" cy="107.4" r="1.5" fill="#50c0ec"/>
<circle cx="389.4" cy="108.1" r="2.1" fill="#70e4e4"/>
<circle cx="392.4" cy="108.2" r="1.6" fill="#50c0ec"/>
<circle cx="386.2" cy="104.6" r="2.2" fill="#b0ecc8"/>
<circle cx="389.0" cy="103.0" r="2.0" fill="#88dcec"/>
<circle cx="390.0" cy="105.0" r="2.7" fill="#b0ecc8"/>
<circle cx="386.5" cy="106.5" r="1.7" fill="#4090e0"/>
<circle cx="385.2" cy="105.6" r="2.1" fill="#50c0ec"/>
<circle cx="391.4" cy="107.9" r="1.4" fill="#ffffff"/>
<circle cx="389.7" cy="103.8" r="1.9" fill="#88dcec"/>
<circle cx="390.9" cy="108.0" r="1.7" fill="#50c0ec"/>
<circle cx="390.6" cy="102.0" r="2.1" fill="#50c0ec"/>
<ellipse cx="401.5" cy="141.5" rx="5.2" ry="3.0" fill="#2850d8"/>
<circle cx="405.8" cy="143.6" r="1.7" fill="#60b0e8"/>
<circle cx="398.9" cy="139.3" r="1.6" fill="#60b0e8"/>
<circle cx="400.1" cy="140.3" r="2.5" fill="#4088f0"/>
<circle cx="405.3" cy="144.6" r="2.5" fill="#2850d8"/>
<circle cx="399.6" cy="143.9" r="2.3" fill="#4088f0"/>
<circle cx="400.1" cy="144.7" r="1.5" fill="#1030b8"/>
<circle cx="404.8" cy="143.2" r="1.5" fill="#2850d8"/>
<circle cx="403.0" cy="140.9" r="2.4" fill="#2850d8"/>
<circle cx="399.8" cy="137.8" r="1.8" fill="#1840e0"/>
<circle cx="407.7" cy="142.0" r="1.7" fill="#4088f0"/>
<circle cx="404.5" cy="139.5" r="2.0" fill="#1840e0"/>
<circle cx="402.6" cy="145.0" r="1.5" fill="#2020a0"/>
<circle cx="405.4" cy="139.8" r="1.5" fill="#1840e0"/>
<circle cx="403.0" cy="137.9" r="1.7" fill="#2850d8"/>
<circle cx="395.0" cy="140.0" r="2.4" fill="#1030b8"/>
<ellipse cx="436" cy="54.5" rx="2.2" ry="1.5" fill="#1828b0"/>
<circle cx="437.5" cy="52.8" r="2.3" fill="#2040d0"/>
<circle cx="434.3" cy="54.6" r="1.9" fill="#2040d0"/>
<circle cx="435.7" cy="53.9" r="2.1" fill="#101890"/>
<circle cx="436.8" cy="54.5" r="2.3" fill="#0818a0"/>
<circle cx="435.6" cy="54.5" r="2.6" fill="#1828b0"/>
<ellipse cx="442" cy="54" rx="2.2" ry="1.5" fill="#2850d8"/>
<circle cx="441.9" cy="52.8" r="2.6" fill="#2020a0"/>
<circle cx="442.4" cy="52.7" r="1.6" fill="#2020a0"/>
<circle cx="442.8" cy="54.2" r="1.7" fill="#2850d8"/>
<circle cx="440.0" cy="53.4" r="1.5" fill="#1840e0"/>
<circle cx="440.9" cy="52.5" r="2.3" fill="#1840e0"/>
<ellipse cx="454.5" cy="52" rx="1.9" ry="1.9" fill="#1828b0"/>
<circle cx="454.4" cy="53.0" r="1.4" fill="#2040d0"/>
<circle cx="452.7" cy="52.7" r="2.3" fill="#1828b0"/>
<circle cx="454.8" cy="51.2" r="2.5" fill="#2040d0"/>
<circle cx="454.1" cy="54.2" r="2.3" fill="#1828b0"/>
<circle cx="455.0" cy="51.8" r="2.4" fill="#0818a0"/>
<ellipse cx="462.5" cy="49.5" rx="1.9" ry="1.5" fill="#8020a0"/>
<circle cx="460.6" cy="48.7" r="1.9" fill="#6010a0"/>
<circle cx="461.5" cy="47.9" r="1.8" fill="#8020a0"/>
<circle cx="460.8" cy="49.3" r="2.1" fill="#6010a0"/>
<circle cx="463.8" cy="47.8" r="2.3" fill="#6010a0"/>
<circle cx="460.5" cy="49.5" r="2.0" fill="#6010a0"/>
<ellipse cx="456" cy="60" rx="1.9" ry="1.9" fill="#2850d8"/>
<circle cx="457.4" cy="59.1" r="1.9" fill="#2850d8"/>
<circle cx="456.7" cy="60.6" r="2.6" fill="#1840e0"/>
<circle cx="457.0" cy="60.8" r="1.5" fill="#60b0e8"/>
<circle cx="457.7" cy="59.0" r="1.6" fill="#1840e0"/>
<circle cx="456.1" cy="62.0" r="2.3" fill="#2850d8"/>
<ellipse cx="464.5" cy="62" rx="1.9" ry="1.9" fill="#2850d8"/>
<circle cx="465.9" cy="63.7" r="2.4" fill="#1030b8"/>
<circle cx="463.9" cy="62.7" r="1.9" fill="#1030b8"/>
<circle cx="463.8" cy="62.3" r="1.9" fill="#1030b8"/>
<circle cx="464.8" cy="62.6" r="2.5" fill="#60b0e8"/>
<circle cx="464.0" cy="59.8" r="1.7" fill="#4088f0"/>
<ellipse cx="475.5" cy="54.5" rx="2.6" ry="3.0" fill="#1828b0"/>
<circle cx="475.5" cy="51.8" r="1.8" fill="#101890"/>
<circle cx="476.4" cy="51.6" r="1.7" fill="#1828b0"/>
<circle cx="475.1" cy="58.3" r="1.5" fill="#1828b0"/>
<circle cx="478.0" cy="54.3" r="1.7" fill="#0818a0"/>
<circle cx="478.0" cy="56.8" r="2.0" fill="#0818a0"/>
<circle cx="477.0" cy="57.6" r="1.5" fill="#1828b0"/>
<circle cx="476.7" cy="57.1" r="2.6" fill="#1828b0"/>
<circle cx="477.6" cy="55.9" r="2.1" fill="#2040d0"/>
<circle cx="472.6" cy="53.1" r="2.0" fill="#2040d0"/>
<ellipse cx="486" cy="63" rx="2.2" ry="1.5" fill="#2850d8"/>
<circle cx="486.7" cy="64.2" r="1.5" fill="#1840e0"/>
<circle cx="485.0" cy="63.6" r="2.1" fill="#4088f0"/>
<circle cx="488.7" cy="62.9" r="2.2" fill="#1030b8"/>
<circle cx="488.2" cy="63.1" r="2.2" fill="#1030b8"/>
<circle cx="484.3" cy="64.0" r="2.3" fill="#2850d8"/>
<ellipse cx="461.5" cy="71.5" rx="3.4" ry="2.2" fill="#1828b0"/>
<circle cx="462.9" cy="70.7" r="2.2" fill="#2040d0"/>
<circle cx="460.2" cy="69.9" r="2.0" fill="#0818a0"/>
<circle cx="465.0" cy="71.8" r="1.5" fill="#0818a0"/>
<circle cx="462.8" cy="69.6" r="2.3" fill="#2040d0"/>
<circle cx="459.0" cy="71.2" r="2.1" fill="#1828b0"/>
<circle cx="463.6" cy="74.0" r="2.1" fill="#2040d0"/>
<circle cx="463.1" cy="73.3" r="1.6" fill="#2040d0"/>
<circle cx="462.0" cy="72.8" r="2.4" fill="#1828b0"/>
<circle cx="462.6" cy="74.3" r="2.1" fill="#2040d0"/>
<ellipse cx="461" cy="81" rx="2.6" ry="2.6" fill="#1828b0"/>
<circle cx="463.3" cy="80.2" r="1.6" fill="#0818a0"/>
<circle cx="461.4" cy="82.9" r="1.6" fill="#101890"/>
<circle cx="461.7" cy="79.0" r="1.8" fill="#1828b0"/>
<circle cx="460.5" cy="83.7" r="2.2" fill="#0818a0"/>
<circle cx="461.4" cy="83.9" r="2.5" fill="#1828b0"/>
<circle cx="460.1" cy="83.4" r="2.4" fill="#101890"/>
<circle cx="459.2" cy="81.1" r="2.1" fill="#0818a0"/>
<circle cx="461.7" cy="78.2" r="2.1" fill="#101890"/>
<ellipse cx="473" cy="81" rx="4.1" ry="1.9" fill="#2850d8"/>
<circle cx="474.9" cy="79.8" r="1.7" fill="#4088f0"/>
<circle cx="472.3" cy="82.5" r="2.0" fill="#2850d8"/>
<circle cx="476.3" cy="79.4" r="2.1" fill="#1030b8"/>
<circle cx="477.1" cy="81.8" r="2.5" fill="#1840e0"/>
<circle cx="477.1" cy="81.2" r="2.3" fill="#2020a0"/>
<circle cx="470.5" cy="80.7" r="1.4" fill="#2850d8"/>
<circle cx="472.9" cy="80.9" r="1.4" fill="#2850d8"/>
<circle cx="468.3" cy="81.6" r="2.2" fill="#1840e0"/>
<circle cx="471.8" cy="80.9" r="1.6" fill="#4088f0"/>
<ellipse cx="488" cy="72" rx="1.5" ry="1.9" fill="#2850d8"/>
<circle cx="487.6" cy="73.9" r="2.2" fill="#2850d8"/>
<circle cx="487.4" cy="72.1" r="1.8" fill="#2850d8"/>
<circle cx="488.4" cy="69.7" r="1.6" fill="#1030b8"/>
<circle cx="488.9" cy="71.2" r="2.0" fill="#1030b8"/>
<circle cx="487.3" cy="71.2" r="2.0" fill="#1030b8"/>
<ellipse cx="462" cy="60" rx="3.4" ry="7.5" fill="#b8a838"/>
<circle cx="457.7" cy="59.2" r="2.7" fill="#b8a838"/>
<circle cx="463.2" cy="64.5" r="1.6" fill="#d8d040"/>
<circle cx="460.0" cy="60.0" r="1.7" fill="#889030"/>
<circle cx="462.7" cy="61.7" r="1.6" fill="#e0c060"/>
<circle cx="457.8" cy="61.2" r="2.4" fill="#a08828"/>
<circle cx="464.5" cy="62.7" r="2.2" fill="#a08828"/>
<circle cx="464.6" cy="65.9" r="1.7" fill="#b8a838"/>
<circle cx="463.6" cy="56.1" r="2.4" fill="#e0c060"/>
<circle cx="460.8" cy="67.1" r="1.7" fill="#d8d040"/>
<circle cx="463.9" cy="56.7" r="2.3" fill="#889030"/>
<circle cx="461.8" cy="57.3" r="1.7" fill="#a08828"/>
<circle cx="459.3" cy="67.8" r="2.3" fill="#d8d040"/>
<circle cx="461.5" cy="61.4" r="1.8" fill="#b8a838"/>
<circle cx="462.8" cy="52.9" r="2.3" fill="#a08828"/>
<circle cx="464.0" cy="61.0" r="2.6" fill="#a08828"/>
<circle cx="465.8" cy="61.7" r="1.8" fill="#a08828"/>
<circle cx="464.5" cy="58.6" r="2.5" fill="#b8a838"/>
<circle cx="465.0" cy="56.4" r="1.6" fill="#a08828"/>
<circle cx="462.4" cy="65.2" r="2.2" fill="#a08828"/>
<circle cx="463.8" cy="54.4" r="1.9" fill="#a08828"/>
<circle cx="465.5" cy="55.7" r="2.1" fill="#b8a838"/>
<circle cx="459.3" cy="64.7" r="2.7" fill="#889030"/>
<circle cx="464.8" cy="61.5" r="2.3" fill="#b8a838"/>
<ellipse cx="453.5" cy="85" rx="4.5" ry="3.8" fill="#c88028"/>
<circle cx="449.8" cy="85.4" r="2.5" fill="#d04818"/>
<circle cx="451.4" cy="88.7" r="1.4" fill="#e0b040"/>
<circle cx="452.4" cy="86.8" r="1.8" fill="#c88028"/>
<circle cx="457.9" cy="88.0" r="1.5" fill="#d04818"/>
<circle cx="451.5" cy="84.9" r="2.2" fill="#a05818"/>
<circle cx="455.3" cy="83.1" r="1.9" fill="#8a6020"/>
<circle cx="456.2" cy="83.3" r="1.5" fill="#c88028"/>
<circle cx="450.0" cy="85.3" r="2.5" fill="#a05818"/>
<circle cx="457.3" cy="84.2" r="2.1" fill="#d04818"/>
<circle cx="459.3" cy="85.7" r="1.7" fill="#d04818"/>
<circle cx="450.6" cy="87.1" r="2.4" fill="#8a6020"/>
<circle cx="455.3" cy="86.5" r="2.1" fill="#8a6020"/>
<circle cx="452.9" cy="82.8" r="2.1" fill="#a05818"/>
<circle cx="453.2" cy="86.6" r="2.4" fill="#a05818"/>
<circle cx="449.3" cy="86.3" r="1.9" fill="#c88028"/>
<circle cx="458.7" cy="86.2" r="1.6" fill="#e0b040"/>
<ellipse cx="460" cy="86.5" rx="3.0" ry="2.6" fill="#c88028"/>
<circle cx="460.0" cy="86.9" r="1.6" fill="#d04818"/>
<circle cx="458.9" cy="84.0" r="1.6" fill="#8a6020"/>
<circle cx="462.8" cy="88.5" r="2.1" fill="#a05818"/>
<circle cx="462.2" cy="84.7" r="2.7" fill="#e0b040"/>
<circle cx="463.2" cy="85.7" r="1.7" fill="#8a6020"/>
<circle cx="461.9" cy="83.5" r="2.2" fill="#e0b040"/>
<circle cx="461.4" cy="85.5" r="1.7" fill="#e0b040"/>
<circle cx="459.3" cy="89.4" r="2.6" fill="#d04818"/>
<circle cx="457.9" cy="85.5" r="1.8" fill="#e0b040"/>
<ellipse cx="484.5" cy="82.5" rx="4.1" ry="2.2" fill="#c88028"/>
<circle cx="486.1" cy="81.3" r="2.7" fill="#a05818"/>
<circle cx="484.3" cy="85.1" r="2.4" fill="#8a6020"/>
<circle cx="480.5" cy="81.3" r="1.5" fill="#c88028"/>
<circle cx="484.3" cy="84.8" r="1.6" fill="#d04818"/>
<circle cx="485.7" cy="85.2" r="1.7" fill="#c88028"/>
<circle cx="488.7" cy="80.8" r="2.5" fill="#a05818"/>
<circle cx="483.8" cy="82.1" r="1.6" fill="#a05818"/>
<circle cx="486.5" cy="84.3" r="1.6" fill="#c88028"/>
<circle cx="480.5" cy="81.3" r="2.1" fill="#a05818"/>
<circle cx="486.5" cy="80.0" r="1.8" fill="#d04818"/>
<circle cx="436.4" cy="63.1" r="2.7" fill="#88dcec"/>
<circle cx="435.3" cy="57.6" r="2.2" fill="#88dcec"/>
<circle cx="430.3" cy="60.0" r="1.7" fill="#70e4e4"/>
<circle cx="436.3" cy="61.8" r="1.5" fill="#50c0ec"/>
<circle cx="434.7" cy="56.0" r="1.7" fill="#b0ecc8"/>
<circle cx="431.3" cy="61.9" r="2.1" fill="#88dcec"/>
<circle cx="434.8" cy="62.7" r="2.6" fill="#88dcec"/>
<circle cx="433.1" cy="57.7" r="2.7" fill="#50c0ec"/>
<circle cx="436.6" cy="58.2" r="1.6" fill="#50c0ec"/>
<circle cx="432.4" cy="58.6" r="1.5" fill="#70e4e4"/>
<circle cx="434.9" cy="60.4" r="2.3" fill="#ffffff"/>
<ellipse cx="496" cy="51" rx="5.6" ry="3.4" fill="#c88028"/>
<circle cx="499.3" cy="50.1" r="1.8" fill="#e0b040"/>
<circle cx="494.2" cy="47.9" r="2.4" fill="#e0b040"/>
<circle cx="498.0" cy="48.7" r="2.1" fill="#a05818"/>
<circle cx="498.9" cy="53.1" r="2.7" fill="#b0c040"/>
<circle cx="491.5" cy="47.5" r="2.5" fill="#8a6020"/>
<circle cx="494.6" cy="51.5" r="2.3" fill="#e0b040"/>
<circle cx="496.7" cy="49.3" r="2.7" fill="#c88028"/>
<circle cx="495.6" cy="52.3" r="2.0" fill="#a05818"/>
<circle cx="492.0" cy="52.2" r="2.4" fill="#e0b040"/>
<circle cx="493.8" cy="47.1" r="2.7" fill="#a05818"/>
<circle cx="497.7" cy="52.6" r="1.8" fill="#d04818"/>
<circle cx="500.5" cy="52.5" r="2.6" fill="#8a6020"/>
<circle cx="492.5" cy="54.7" r="2.0" fill="#8a6020"/>
<circle cx="493.7" cy="51.8" r="2.1" fill="#c88028"/>
<circle cx="494.0" cy="48.3" r="1.6" fill="#a05818"/>
<circle cx="492.1" cy="48.1" r="2.5" fill="#e0b040"/>
<circle cx="501.3" cy="52.4" r="2.6" fill="#a05818"/>
<circle cx="494.2" cy="54.0" r="2.5" fill="#c88028"/>
<ellipse cx="491" cy="47.5" rx="2.2" ry="1.5" fill="#2850d8"/>
<circle cx="490.5" cy="48.3" r="1.9" fill="#1030b8"/>
<circle cx="490.1" cy="48.7" r="2.1" fill="#4088f0"/>
<circle cx="492.0" cy="46.6" r="1.8" fill="#4088f0"/>
<circle cx="492.2" cy="47.3" r="2.0" fill="#2020a0"/>
<circle cx="489.0" cy="47.6" r="1.4" fill="#2850d8"/>
<ellipse cx="494.5" cy="43" rx="7.1" ry="2.2" fill="#e6f2b0"/>
<circle cx="492.0" cy="43.1" r="1.7" fill="#c8d838"/>
<circle cx="494.9" cy="44.8" r="1.7" fill="#e8f060"/>
<circle cx="488.8" cy="43.4" r="1.5" fill="#e6f2b0"/>
<circle cx="490.8" cy="43.3" r="2.6" fill="#c8d838"/>
<circle cx="489.6" cy="45.0" r="1.5" fill="#ffffff"/>
<circle cx="494.4" cy="40.5" r="1.6" fill="#a8a040"/>
<circle cx="490.5" cy="44.7" r="2.6" fill="#ffffff"/>
<circle cx="493.4" cy="42.2" r="2.3" fill="#c8d838"/>
<circle cx="503.4" cy="42.6" r="2.2" fill="#c8d838"/>
<circle cx="491.7" cy="42.3" r="2.2" fill="#78d8c8"/>
<circle cx="496.8" cy="45.9" r="2.5" fill="#e8f060"/>
<circle cx="492.1" cy="44.0" r="1.8" fill="#e6f2b0"/>
<circle cx="486.5" cy="42.7" r="1.9" fill="#80d070"/>
<circle cx="494.4" cy="45.4" r="2.4" fill="#e6f2b0"/>
<circle cx="487.0" cy="43.4" r="2.6" fill="#ffffff"/>
<circle cx="510.2" cy="47.8" r="2.0" fill="#88dcec"/>
<circle cx="507.0" cy="48.9" r="2.1" fill="#88dcec"/>
<circle cx="508.9" cy="52.4" r="1.9" fill="#88dcec"/>
<circle cx="510.9" cy="46.1" r="1.8" fill="#70e4e4"/>
<circle cx="509.7" cy="43.7" r="1.7" fill="#88dcec"/>
<circle cx="508.1" cy="42.2" r="2.0" fill="#4090e0"/>
<circle cx="505.2" cy="48.4" r="2.5" fill="#50c0ec"/>
<circle cx="509.2" cy="48.8" r="1.5" fill="#ffffff"/>
<circle cx="509.5" cy="53.8" r="1.6" fill="#70e4e4"/>
<circle cx="510.0" cy="54.2" r="1.6" fill="#50c0ec"/>
<circle cx="505.0" cy="49.5" r="2.1" fill="#88dcec"/>
<circle cx="506.0" cy="45.6" r="2.5" fill="#b0ecc8"/>
<circle cx="506.7" cy="54.4" r="2.3" fill="#50c0ec"/>
<circle cx="505.9" cy="54.1" r="2.4" fill="#b0ecc8"/>
<circle cx="505.6" cy="44.8" r="1.5" fill="#b0ecc8"/>
<ellipse cx="486.5" cy="63" rx="1.1" ry="1.5" fill="#2850d8"/>
<circle cx="487.0" cy="64.7" r="2.3" fill="#60b0e8"/>
<circle cx="486.8" cy="62.5" r="2.4" fill="#1030b8"/>
<circle cx="486.4" cy="63.8" r="2.3" fill="#60b0e8"/>
<circle cx="485.9" cy="63.1" r="1.9" fill="#1840e0"/>
<circle cx="487.2" cy="69.0" r="1.7" fill="#50c0ec"/>
<circle cx="493.0" cy="70.3" r="2.0" fill="#ffffff"/>
<circle cx="489.4" cy="72.9" r="1.5" fill="#70e4e4"/>
<circle cx="493.1" cy="69.5" r="1.4" fill="#ffffff"/>
<circle cx="490.6" cy="72.2" r="2.0" fill="#ffffff"/>
<circle cx="492.2" cy="71.7" r="2.4" fill="#b0ecc8"/>
<circle cx="493.4" cy="66.3" r="2.6" fill="#50c0ec"/>
<circle cx="490.2" cy="69.2" r="1.7" fill="#88dcec"/>
<circle cx="494.5" cy="68.7" r="2.3" fill="#50c0ec"/>
<circle cx="492.1" cy="69.0" r="2.0" fill="#88dcec"/>
<circle cx="486.6" cy="69.0" r="2.4" fill="#b0ecc8"/>
<circle cx="493.0" cy="71.4" r="2.3" fill="#50c0ec"/>
<circle cx="494.1" cy="67.9" r="2.5" fill="#88dcec"/>
<ellipse cx="488" cy="70" rx="1.9" ry="2.2" fill="#2850d8"/>
<circle cx="490.2" cy="71.0" r="1.7" fill="#2850d8"/>
<circle cx="487.1" cy="67.9" r="1.8" fill="#1840e0"/>
<circle cx="488.2" cy="67.6" r="2.0" fill="#60b0e8"/>
<circle cx="486.4" cy="69.0" r="1.9" fill="#2850d8"/>
<circle cx="490.2" cy="70.2" r="1.8" fill="#1030b8"/>
<circle cx="486.5" cy="68.7" r="1.8" fill="#1840e0"/>
<circle cx="532.4" cy="57.3" r="1.6" fill="#50c0ec"/>
<circle cx="534.4" cy="63.4" r="2.6" fill="#b0ecc8"/>
<circle cx="532.9" cy="65.2" r="1.8" fill="#88dcec"/>
<circle cx="533.4" cy="57.0" r="1.8" fill="#70e4e4"/>
<circle cx="531.8" cy="59.5" r="1.9" fill="#88dcec"/>
<circle cx="534.6" cy="59.2" r="1.5" fill="#b0ecc8"/>
<circle cx="531.6" cy="63.2" r="1.5" fill="#88dcec"/>
<circle cx="532.9" cy="60.7" r="1.4" fill="#b0ecc8"/>
<circle cx="532.7" cy="60.2" r="2.3" fill="#70e4e4"/>
<circle cx="532.7" cy="59.7" r="1.9" fill="#ffffff"/>
<circle cx="534.1" cy="59.7" r="2.3" fill="#88dcec"/>
<circle cx="530.5" cy="64.1" r="2.5" fill="#70e4e4"/>
<ellipse cx="530" cy="62" rx="1.5" ry="1.5" fill="#2850d8"/>
<circle cx="529.2" cy="61.0" r="1.5" fill="#1030b8"/>
<circle cx="528.5" cy="62.0" r="2.1" fill="#2850d8"/>
<circle cx="529.3" cy="61.0" r="2.1" fill="#2850d8"/>
<circle cx="530.0" cy="61.5" r="1.7" fill="#4088f0"/>
<ellipse cx="528" cy="72.5" rx="6.4" ry="5.2" fill="#e6f2b0"/>
<circle cx="528.9" cy="79.3" r="2.6" fill="#ffffff"/>
<circle cx="534.3" cy="72.5" r="2.6" fill="#e6f2b0"/>
<circle cx="533.0" cy="75.3" r="1.7" fill="#ffffff"/>
<circle cx="523.4" cy="76.0" r="1.6" fill="#c8d838"/>
<circle cx="530.1" cy="67.0" r="2.1" fill="#e6f2b0"/>
<circle cx="520.9" cy="73.6" r="1.7" fill="#e8f060"/>
<circle cx="532.7" cy="72.7" r="2.5" fill="#a8a040"/>
<circle cx="523.7" cy="73.9" r="2.7" fill="#e6f2b0"/>
<circle cx="523.2" cy="76.3" r="1.6" fill="#c8d838"/>
<circle cx="525.3" cy="76.8" r="2.0" fill="#78d8c8"/>
<circle cx="522.6" cy="69.9" r="2.6" fill="#a8a040"/>
<circle cx="526.4" cy="66.7" r="1.7" fill="#ffffff"/>
<circle cx="528.2" cy="67.8" r="2.4" fill="#a8a040"/>
<circle cx="521.9" cy="68.3" r="1.7" fill="#c8d838"/>
<circle cx="531.5" cy="66.4" r="1.4" fill="#78d8c8"/>
<circle cx="527.7" cy="72.5" r="2.4" fill="#78d8c8"/>
<circle cx="520.7" cy="73.9" r="1.5" fill="#a8a040"/>
<circle cx="530.1" cy="77.3" r="2.4" fill="#e6f2b0"/>
<circle cx="530.6" cy="79.1" r="2.2" fill="#a8a040"/>
<circle cx="535.9" cy="74.9" r="2.4" fill="#e6f2b0"/>
<circle cx="523.9" cy="75.2" r="1.8" fill="#e6f2b0"/>
<circle cx="532.2" cy="77.2" r="2.4" fill="#e8f060"/>
<circle cx="522.3" cy="70.9" r="2.2" fill="#a8a040"/>
<circle cx="528.2" cy="76.0" r="2.2" fill="#ffffff"/>
<circle cx="523.8" cy="77.2" r="1.7" fill="#c8d838"/>
<circle cx="529.5" cy="73.4" r="2.5" fill="#e8f060"/>
<circle cx="534.9" cy="75.1" r="2.3" fill="#80d070"/>
<circle cx="530.8" cy="71.0" r="2.2" fill="#a8a040"/>
<circle cx="526.4" cy="66.7" r="2.2" fill="#a8a040"/>
<ellipse cx="427" cy="91.5" rx="2.2" ry="3.0" fill="#2850d8"/>
<circle cx="428.8" cy="92.8" r="2.6" fill="#4088f0"/>
<circle cx="426.9" cy="87.6" r="1.5" fill="#2020a0"/>
<circle cx="426.9" cy="90.8" r="1.8" fill="#2850d8"/>
<circle cx="426.0" cy="89.2" r="1.9" fill="#4088f0"/>
<circle cx="427.7" cy="89.8" r="1.5" fill="#1030b8"/>
<circle cx="425.1" cy="94.6" r="1.9" fill="#4088f0"/>
<circle cx="428.8" cy="88.5" r="2.3" fill="#2850d8"/>
<circle cx="426.3" cy="94.7" r="1.9" fill="#1030b8"/>
<ellipse cx="458" cy="89.5" rx="6.0" ry="3.4" fill="#b8a838"/>
<circle cx="465.3" cy="88.3" r="1.7" fill="#889030"/>
<circle cx="454.9" cy="87.9" r="2.5" fill="#889030"/>
<circle cx="453.0" cy="92.5" r="1.6" fill="#d8d040"/>
<circle cx="451.7" cy="87.2" r="2.1" fill="#889030"/>
<circle cx="454.0" cy="88.2" r="1.5" fill="#d8d040"/>
<circle cx="461.8" cy="91.8" r="2.3" fill="#b8a838"/>
<circle cx="460.7" cy="85.7" r="2.2" fill="#d8d040"/>
<circle cx="454.3" cy="87.7" r="1.8" fill="#e0c060"/>
<circle cx="460.1" cy="88.4" r="2.1" fill="#889030"/>
<circle cx="451.0" cy="90.9" r="2.0" fill="#e0c060"/>
<circle cx="463.4" cy="91.2" r="2.1" fill="#d8d040"/>
<circle cx="455.0" cy="89.6" r="1.6" fill="#889030"/>
<circle cx="455.2" cy="86.2" r="2.6" fill="#a08828"/>
<circle cx="452.3" cy="90.3" r="2.1" fill="#b8a838"/>
<circle cx="459.4" cy="93.8" r="2.2" fill="#a08828"/>
<circle cx="454.7" cy="89.9" r="1.9" fill="#d8d040"/>
<circle cx="460.4" cy="92.2" r="2.3" fill="#d8d040"/>
<circle cx="457.9" cy="93.8" r="1.9" fill="#a08828"/>
<circle cx="455.2" cy="92.5" r="2.0" fill="#b8a838"/>
<ellipse cx="482" cy="108" rx="2.2" ry="4.1" fill="#d82010"/>
<circle cx="483.8" cy="106.3" r="1.6" fill="#e83818"/>
<circle cx="480.8" cy="108.2" r="2.3" fill="#d82010"/>
<circle cx="482.5" cy="113.2" r="2.4" fill="#a01008"/>
<circle cx="480.9" cy="112.9" r="1.7" fill="#a01008"/>
<circle cx="484.6" cy="106.9" r="2.3" fill="#a01008"/>
<circle cx="481.4" cy="106.7" r="2.7" fill="#a01008"/>
<circle cx="482.7" cy="108.0" r="1.9" fill="#d82010"/>
<circle cx="483.7" cy="106.0" r="1.6" fill="#e83818"/>
<circle cx="481.8" cy="108.6" r="2.3" fill="#d82010"/>
<circle cx="480.7" cy="106.5" r="2.6" fill="#e83818"/>
<ellipse cx="479" cy="110" rx="4.1" ry="5.2" fill="#c88028"/>
<circle cx="482.4" cy="114.9" r="1.6" fill="#e0b040"/>
<circle cx="482.6" cy="110.9" r="1.9" fill="#a05818"/>
<circle cx="476.4" cy="106.4" r="1.5" fill="#e0b040"/>
<circle cx="474.6" cy="111.4" r="2.5" fill="#b0c040"/>
<circle cx="482.4" cy="104.6" r="1.8" fill="#d04818"/>
<circle cx="475.4" cy="113.1" r="2.4" fill="#c88028"/>
<circle cx="482.0" cy="108.5" r="2.6" fill="#8a6020"/>
<circle cx="482.7" cy="108.6" r="2.0" fill="#a05818"/>
<circle cx="477.3" cy="105.6" r="2.5" fill="#e0b040"/>
<circle cx="481.6" cy="108.8" r="2.6" fill="#a05818"/>
<circle cx="475.0" cy="107.7" r="1.5" fill="#e0b040"/>
<circle cx="479.8" cy="106.3" r="2.0" fill="#a05818"/>
<circle cx="479.8" cy="106.8" r="2.5" fill="#8a6020"/>
<circle cx="475.9" cy="114.9" r="1.7" fill="#c88028"/>
<circle cx="481.7" cy="114.5" r="2.2" fill="#a05818"/>
<circle cx="474.9" cy="112.9" r="2.3" fill="#d04818"/>
<circle cx="483.4" cy="113.0" r="2.4" fill="#d04818"/>
<circle cx="482.6" cy="106.8" r="1.7" fill="#a05818"/>
<circle cx="476.9" cy="108.0" r="2.1" fill="#8a6020"/>
<circle cx="479.2" cy="104.7" r="2.6" fill="#a05818"/>
<ellipse cx="476.5" cy="127.5" rx="6.8" ry="5.6" fill="#2850d8"/>
<circle cx="470.0" cy="124.1" r="1.5" fill="#4088f0"/>
<circle cx="478.1" cy="128.9" r="1.4" fill="#4088f0"/>
<circle cx="471.5" cy="129.4" r="1.8" fill="#1030b8"/>
<circle cx="477.1" cy="123.5" r="2.1" fill="#1030b8"/>
<circle cx="477.9" cy="130.7" r="1.7" fill="#2850d8"/>
<circle cx="468.0" cy="127.6" r="2.0" fill="#2850d8"/>
<circle cx="474.5" cy="134.3" r="1.9" fill="#1840e0"/>
<circle cx="468.8" cy="127.2" r="1.6" fill="#4088f0"/>
<circle cx="478.6" cy="122.9" r="2.2" fill="#2850d8"/>
<circle cx="474.8" cy="124.2" r="1.7" fill="#60b0e8"/>
<circle cx="481.5" cy="131.9" r="2.4" fill="#2020a0"/>
<circle cx="472.3" cy="128.4" r="2.3" fill="#1030b8"/>
<circle cx="484.1" cy="130.8" r="2.3" fill="#2850d8"/>
<circle cx="473.9" cy="126.3" r="2.5" fill="#1840e0"/>
<circle cx="480.5" cy="129.5" r="1.7" fill="#1030b8"/>
<circle cx="478.8" cy="128.5" r="1.8" fill="#1030b8"/>
<circle cx="473.0" cy="120.7" r="1.6" fill="#1030b8"/>
<circle cx="475.1" cy="120.4" r="2.3" fill="#2020a0"/>
<circle cx="470.3" cy="131.7" r="2.0" fill="#2850d8"/>
<circle cx="476.1" cy="132.3" r="1.6" fill="#2850d8"/>
<circle cx="477.0" cy="123.8" r="1.9" fill="#1030b8"/>
<circle cx="483.9" cy="130.7" r="2.6" fill="#4088f0"/>
<circle cx="475.4" cy="131.0" r="1.9" fill="#2020a0"/>
<circle cx="483.6" cy="126.6" r="1.6" fill="#2850d8"/>
<circle cx="471.4" cy="128.8" r="1.9" fill="#2850d8"/>
<circle cx="469.0" cy="131.7" r="1.7" fill="#1840e0"/>
<circle cx="477.1" cy="121.1" r="1.8" fill="#1840e0"/>
<circle cx="477.6" cy="126.9" r="2.4" fill="#1030b8"/>
<circle cx="473.9" cy="133.2" r="1.5" fill="#2850d8"/>
<circle cx="484.5" cy="126.6" r="2.1" fill="#1840e0"/>
<circle cx="479.8" cy="133.7" r="2.4" fill="#1840e0"/>
<circle cx="480.5" cy="120.8" r="2.0" fill="#4088f0"/>
<circle cx="479.2" cy="132.9" r="2.7" fill="#60b0e8"/>
<ellipse cx="479" cy="129" rx="3.8" ry="3.8" fill="#1828b0"/>
<circle cx="480.5" cy="130.9" r="2.0" fill="#1828b0"/>
<circle cx="475.2" cy="129.0" r="1.9" fill="#0818a0"/>
<circle cx="482.0" cy="132.9" r="1.4" fill="#101890"/>
<circle cx="481.9" cy="132.2" r="2.2" fill="#101890"/>
<circle cx="476.2" cy="130.7" r="2.6" fill="#101890"/>
<circle cx="479.8" cy="128.1" r="1.5" fill="#2040d0"/>
<circle cx="481.1" cy="125.9" r="2.4" fill="#1828b0"/>
<circle cx="480.2" cy="127.2" r="2.1" fill="#2040d0"/>
<circle cx="482.5" cy="129.6" r="2.5" fill="#2040d0"/>
<circle cx="479.6" cy="130.1" r="2.4" fill="#2040d0"/>
<circle cx="479.5" cy="126.9" r="1.9" fill="#1828b0"/>
<circle cx="479.6" cy="126.1" r="1.6" fill="#2040d0"/>
<circle cx="482.1" cy="128.6" r="1.6" fill="#101890"/>
<circle cx="481.4" cy="130.7" r="2.7" fill="#101890"/>
<ellipse cx="450.8" cy="122.4" rx="1.9" ry="1.9" fill="#2850d8"/>
<circle cx="453.2" cy="122.6" r="1.9" fill="#2850d8"/>
<circle cx="448.7" cy="121.1" r="2.5" fill="#2850d8"/>
<circle cx="448.7" cy="121.3" r="1.8" fill="#1030b8"/>
<circle cx="449.0" cy="122.9" r="2.7" fill="#2020a0"/>
<circle cx="448.5" cy="123.3" r="2.4" fill="#1030b8"/>
<ellipse cx="428" cy="132" rx="2.2" ry="2.2" fill="#2850d8"/>
<circle cx="428.1" cy="131.7" r="1.9" fill="#1840e0"/>
<circle cx="428.4" cy="130.3" r="2.4" fill="#2020a0"/>
<circle cx="430.0" cy="133.3" r="1.4" fill="#1840e0"/>
<circle cx="428.7" cy="130.8" r="1.7" fill="#2850d8"/>
<circle cx="426.5" cy="130.8" r="1.9" fill="#1030b8"/>
<circle cx="427.3" cy="130.0" r="1.6" fill="#1840e0"/>
<circle cx="428.9" cy="131.8" r="2.2" fill="#2020a0"/>
<ellipse cx="487" cy="108.5" rx="1.9" ry="3.0" fill="#d82010"/>
<circle cx="485.9" cy="106.5" r="1.9" fill="#d82010"/>
<circle cx="486.2" cy="108.9" r="1.9" fill="#a01008"/>
<circle cx="485.7" cy="107.2" r="1.5" fill="#d82010"/>
<circle cx="486.1" cy="109.5" r="1.9" fill="#e83818"/>
<circle cx="485.1" cy="108.2" r="1.7" fill="#d82010"/>
<circle cx="487.7" cy="108.8" r="2.6" fill="#e83818"/>
<circle cx="489.2" cy="108.7" r="2.4" fill="#801008"/>
<ellipse cx="494" cy="111.5" rx="6.4" ry="5.2" fill="#c88028"/>
<circle cx="490.4" cy="117.2" r="1.4" fill="#a05818"/>
<circle cx="492.8" cy="106.2" r="2.6" fill="#d04818"/>
<circle cx="492.9" cy="114.1" r="2.3" fill="#8a6020"/>
<circle cx="490.3" cy="110.0" r="1.8" fill="#c88028"/>
<circle cx="496.4" cy="113.2" r="2.3" fill="#8a6020"/>
<circle cx="495.5" cy="113.7" r="2.2" fill="#8a6020"/>
<circle cx="492.1" cy="105.6" r="2.3" fill="#e0b040"/>
<circle cx="493.9" cy="118.1" r="2.3" fill="#a05818"/>
<circle cx="501.2" cy="110.8" r="2.6" fill="#a05818"/>
<circle cx="490.7" cy="110.2" r="2.3" fill="#e0b040"/>
<circle cx="500.1" cy="110.9" r="1.8" fill="#a05818"/>
<circle cx="489.3" cy="116.5" r="2.4" fill="#d04818"/>
<circle cx="491.2" cy="113.2" r="2.5" fill="#c88028"/>
<circle cx="496.7" cy="112.7" r="2.3" fill="#c88028"/>
<circle cx="486.3" cy="111.2" r="2.5" fill="#c88028"/>
<circle cx="492.0" cy="113.6" r="2.1" fill="#a05818"/>
<circle cx="486.6" cy="108.6" r="1.7" fill="#c88028"/>
<circle cx="501.4" cy="109.5" r="2.1" fill="#c88028"/>
<circle cx="487.9" cy="115.5" r="1.7" fill="#a05818"/>
<circle cx="488.3" cy="113.8" r="2.5" fill="#8a6020"/>
<circle cx="488.3" cy="115.2" r="2.6" fill="#c88028"/>
<circle cx="489.3" cy="107.2" r="1.7" fill="#e0b040"/>
<circle cx="500.0" cy="107.9" r="2.6" fill="#a05818"/>
<circle cx="496.8" cy="116.2" r="1.7" fill="#c88028"/>
<circle cx="493.5" cy="111.3" r="1.5" fill="#e0b040"/>
<circle cx="497.6" cy="105.8" r="1.6" fill="#e0b040"/>
<circle cx="492.7" cy="105.4" r="1.6" fill="#a05818"/>
<circle cx="491.6" cy="111.1" r="2.6" fill="#e0b040"/>
<circle cx="486.5" cy="111.6" r="2.0" fill="#a05818"/>
<ellipse cx="494" cy="113" rx="2.6" ry="2.2" fill="#d82010"/>
<circle cx="494.4" cy="115.2" r="2.7" fill="#e83818"/>
<circle cx="494.2" cy="111.4" r="1.6" fill="#a01008"/>
<circle cx="492.4" cy="115.5" r="2.0" fill="#801008"/>
<circle cx="491.4" cy="114.8" r="2.2" fill="#d82010"/>
<circle cx="491.9" cy="114.0" r="1.9" fill="#d82010"/>
<circle cx="495.4" cy="112.8" r="1.7" fill="#e83818"/>
<circle cx="494.1" cy="110.1" r="2.0" fill="#801008"/>
<ellipse cx="496" cy="111.5" rx="1.5" ry="1.5" fill="#2850d8"/>
<circle cx="494.1" cy="112.1" r="2.4" fill="#1840e0"/>
<circle cx="496.4" cy="112.1" r="1.6" fill="#2020a0"/>
<circle cx="497.5" cy="110.8" r="1.5" fill="#1030b8"/>
<circle cx="496.6" cy="112.1" r="2.3" fill="#2850d8"/>
<ellipse cx="488" cy="102" rx="1.4" ry="1.4" fill="#2850d8"/>
<circle cx="488.4" cy="103.4" r="1.5" fill="#1030b8"/>
<circle cx="489.3" cy="101.2" r="2.7" fill="#1030b8"/>
<circle cx="487.3" cy="101.3" r="1.7" fill="#2850d8"/>
<circle cx="487.6" cy="102.6" r="1.4" fill="#4088f0"/>
<ellipse cx="507.5" cy="99" rx="3.0" ry="3.4" fill="#c88028"/>
<circle cx="505.4" cy="98.8" r="2.1" fill="#8a6020"/>
<circle cx="507.4" cy="103.4" r="2.2" fill="#a05818"/>
<circle cx="505.0" cy="98.7" r="1.8" fill="#8a6020"/>
<circle cx="507.2" cy="96.5" r="2.6" fill="#a05818"/>
<circle cx="506.8" cy="100.9" r="2.1" fill="#8a6020"/>
<circle cx="504.8" cy="102.0" r="1.4" fill="#d04818"/>
<circle cx="510.0" cy="100.0" r="2.0" fill="#e0b040"/>
<circle cx="509.2" cy="95.7" r="1.7" fill="#c88028"/>
<circle cx="505.7" cy="98.2" r="2.6" fill="#e0b040"/>
<circle cx="504.6" cy="97.4" r="2.4" fill="#c88028"/>
<circle cx="505.4" cy="96.0" r="2.2" fill="#e0b040"/>
<ellipse cx="513.5" cy="96" rx="1.1" ry="1.1" fill="#2850d8"/>
<circle cx="514.4" cy="95.3" r="2.1" fill="#1030b8"/>
<circle cx="512.8" cy="97.3" r="1.9" fill="#2850d8"/>
<circle cx="513.3" cy="97.0" r="2.7" fill="#1030b8"/>
<circle cx="512.2" cy="96.8" r="1.6" fill="#2850d8"/>
<circle cx="516.0" cy="110.9" r="2.5" fill="#4090e0"/>
<circle cx="519.0" cy="113.4" r="2.2" fill="#70e4e4"/>
<circle cx="513.9" cy="112.7" r="2.2" fill="#4090e0"/>
<circle cx="515.4" cy="110.8" r="2.1" fill="#70e4e4"/>
<circle cx="517.8" cy="106.0" r="2.3" fill="#50c0ec"/>
<circle cx="518.7" cy="109.3" r="2.6" fill="#50c0ec"/>
<circle cx="519.1" cy="104.5" r="2.4" fill="#b0ecc8"/>
<circle cx="519.2" cy="106.5" r="1.8" fill="#88dcec"/>
<circle cx="516.3" cy="108.3" r="2.4" fill="#ffffff"/>
<circle cx="521.7" cy="110.0" r="1.8" fill="#50c0ec"/>
<circle cx="522.7" cy="111.1" r="1.9" fill="#88dcec"/>
<circle cx="521.8" cy="106.8" r="2.4" fill="#50c0ec"/>
<circle cx="515.6" cy="110.4" r="1.9" fill="#50c0ec"/>
<circle cx="518.7" cy="115.8" r="1.5" fill="#b0ecc8"/>
<circle cx="512.6" cy="109.2" r="1.9" fill="#88dcec"/>
<circle cx="516.6" cy="109.9" r="1.8" fill="#b0ecc8"/>
<circle cx="515.3" cy="113.4" r="2.0" fill="#88dcec"/>
<circle cx="520.7" cy="113.2" r="2.3" fill="#4090e0"/>
<circle cx="512.9" cy="108.7" r="2.7" fill="#4090e0"/>
<circle cx="514.5" cy="111.2" r="1.7" fill="#50c0ec"/>
<circle cx="513.4" cy="114.2" r="1.8" fill="#50c0ec"/>
<ellipse cx="524.5" cy="111.5" rx="3.4" ry="2.6" fill="#2850d8"/>
<circle cx="524.1" cy="112.7" r="2.4" fill="#2850d8"/>
<circle cx="524.8" cy="113.1" r="1.8" fill="#2850d8"/>
<circle cx="527.2" cy="113.9" r="1.5" fill="#1030b8"/>
<circle cx="522.4" cy="113.0" r="2.7" fill="#2850d8"/>
<circle cx="524.2" cy="108.5" r="1.9" fill="#1030b8"/>
<circle cx="523.8" cy="111.4" r="1.7" fill="#2850d8"/>
<circle cx="528.3" cy="109.8" r="1.7" fill="#2850d8"/>
<circle cx="525.6" cy="112.9" r="1.7" fill="#2020a0"/>
<circle cx="527.8" cy="110.3" r="2.1" fill="#2850d8"/>
<circle cx="525.0" cy="108.4" r="1.6" fill="#60b0e8"/>
<ellipse cx="531.5" cy="117" rx="2.6" ry="2.2" fill="#2850d8"/>
<circle cx="531.0" cy="115.8" r="1.4" fill="#1030b8"/>
<circle cx="533.6" cy="118.8" r="1.5" fill="#1840e0"/>
<circle cx="529.1" cy="118.8" r="2.0" fill="#4088f0"/>
<circle cx="533.5" cy="115.4" r="1.5" fill="#1840e0"/>
<circle cx="531.3" cy="116.6" r="1.4" fill="#1840e0"/>
<circle cx="529.5" cy="119.0" r="2.0" fill="#2020a0"/>
<circle cx="529.8" cy="116.5" r="2.1" fill="#60b0e8"/>
<ellipse cx="533.5" cy="103.5" rx="4.5" ry="4.5" fill="#b8a838"/>
<circle cx="527.8" cy="103.7" r="1.7" fill="#e0c060"/>
<circle cx="535.8" cy="104.9" r="2.6" fill="#a08828"/>
<circle cx="528.2" cy="103.1" r="1.8" fill="#e0c060"/>
<circle cx="537.0" cy="101.2" r="1.8" fill="#e0c060"/>
<circle cx="531.2" cy="106.8" r="1.8" fill="#a08828"/>
<circle cx="528.1" cy="103.7" r="1.6" fill="#889030"/>
<circle cx="538.0" cy="103.0" r="1.7" fill="#b8a838"/>
<circle cx="536.9" cy="106.1" r="2.5" fill="#889030"/>
<circle cx="536.1" cy="103.9" r="2.4" fill="#b8a838"/>
<circle cx="535.4" cy="105.0" r="2.0" fill="#b8a838"/>
<circle cx="530.5" cy="105.5" r="1.7" fill="#a08828"/>
<circle cx="532.5" cy="106.0" r="2.1" fill="#e0c060"/>
<circle cx="538.7" cy="104.9" r="1.5" fill="#d8d040"/>
<circle cx="538.8" cy="104.2" r="1.5" fill="#889030"/>
<circle cx="534.9" cy="101.1" r="1.5" fill="#889030"/>
<circle cx="536.7" cy="102.7" r="1.5" fill="#d8d040"/>
<circle cx="535.9" cy="106.1" r="2.4" fill="#b8a838"/>
<circle cx="531.0" cy="106.7" r="1.6" fill="#b8a838"/>
<circle cx="535.9" cy="101.3" r="2.5" fill="#889030"/>
<ellipse cx="532" cy="123" rx="3.0" ry="3.0" fill="#d82010"/>
<circle cx="534.7" cy="120.4" r="1.6" fill="#e83818"/>
<circle cx="533.7" cy="121.9" r="2.6" fill="#e83818"/>
<circle cx="530.1" cy="124.9" r="2.6" fill="#e83818"/>
<circle cx="531.8" cy="126.7" r="2.2" fill="#a01008"/>
<circle cx="534.1" cy="122.1" r="1.7" fill="#d82010"/>
<circle cx="534.0" cy="126.3" r="2.0" fill="#e83818"/>
<circle cx="530.7" cy="121.0" r="1.7" fill="#e83818"/>
<circle cx="534.5" cy="124.6" r="2.7" fill="#e06018"/>
<circle cx="530.6" cy="120.4" r="2.4" fill="#a01008"/>
<circle cx="533.5" cy="124.3" r="1.5" fill="#d82010"/>
<ellipse cx="537" cy="126" rx="1.5" ry="1.9" fill="#2850d8"/>
<circle cx="538.5" cy="126.4" r="1.4" fill="#2020a0"/>
<circle cx="535.9" cy="125.1" r="2.5" fill="#1030b8"/>
<circle cx="536.2" cy="126.6" r="1.9" fill="#1030b8"/>
<circle cx="535.4" cy="124.6" r="2.6" fill="#4088f0"/>
<circle cx="538.0" cy="127.3" r="2.1" fill="#1030b8"/>
<ellipse cx="488" cy="123.5" rx="2.2" ry="2.6" fill="#2850d8"/>
<circle cx="489.9" cy="124.5" r="1.5" fill="#60b0e8"/>
<circle cx="486.0" cy="121.1" r="1.8" fill="#4088f0"/>
<circle cx="488.9" cy="122.7" r="2.5" fill="#2850d8"/>
<circle cx="486.4" cy="125.0" r="2.3" fill="#2850d8"/>
<circle cx="487.1" cy="125.9" r="2.5" fill="#2020a0"/>
<circle cx="489.5" cy="124.7" r="2.2" fill="#2850d8"/>
<circle cx="489.8" cy="125.9" r="2.7" fill="#1030b8"/>
<ellipse cx="538" cy="103.5" rx="1.1" ry="1.1" fill="#2850d8"/>
<circle cx="537.9" cy="103.4" r="2.4" fill="#1030b8"/>
<circle cx="538.7" cy="103.1" r="1.5" fill="#2850d8"/>
<circle cx="538.9" cy="102.7" r="1.5" fill="#2850d8"/>
<circle cx="538.0" cy="102.2" r="2.5" fill="#1840e0"/>
<ellipse cx="431.5" cy="148.5" rx="1.9" ry="3.0" fill="#2850d8"/>
<circle cx="431.0" cy="150.9" r="2.6" fill="#1030b8"/>
<circle cx="432.2" cy="151.6" r="2.1" fill="#1030b8"/>
<circle cx="433.5" cy="150.4" r="1.8" fill="#1030b8"/>
<circle cx="431.9" cy="145.3" r="2.2" fill="#4088f0"/>
<circle cx="429.3" cy="148.1" r="1.4" fill="#1840e0"/>
<circle cx="430.1" cy="146.2" r="2.1" fill="#1840e0"/>
<circle cx="432.5" cy="145.5" r="2.6" fill="#2850d8"/>
<ellipse cx="428.5" cy="176.5" rx="3.0" ry="2.6" fill="#2850d8"/>
<circle cx="428.2" cy="177.0" r="1.4" fill="#2850d8"/>
<circle cx="427.9" cy="173.6" r="2.1" fill="#4088f0"/>
<circle cx="430.8" cy="175.5" r="1.7" fill="#60b0e8"/>
<circle cx="429.3" cy="173.4" r="1.9" fill="#60b0e8"/>
<circle cx="428.0" cy="175.7" r="2.3" fill="#4088f0"/>
<circle cx="426.1" cy="175.1" r="1.8" fill="#60b0e8"/>
<circle cx="432.3" cy="176.4" r="2.4" fill="#2850d8"/>
<circle cx="429.8" cy="174.0" r="2.6" fill="#4088f0"/>
<circle cx="429.1" cy="173.4" r="1.5" fill="#4088f0"/>
<ellipse cx="434.5" cy="132" rx="2.6" ry="1.9" fill="#2850d8"/>
<circle cx="431.2" cy="132.0" r="2.6" fill="#60b0e8"/>
<circle cx="437.7" cy="132.1" r="2.6" fill="#4088f0"/>
<circle cx="432.5" cy="130.3" r="2.0" fill="#2850d8"/>
<circle cx="434.0" cy="132.5" r="1.7" fill="#1030b8"/>
<circle cx="432.6" cy="130.6" r="2.2" fill="#2850d8"/>
<circle cx="433.4" cy="133.1" r="2.4" fill="#1030b8"/>
<ellipse cx="473.5" cy="135" rx="5.6" ry="3.8" fill="#2850d8"/>
<circle cx="474.1" cy="132.3" r="2.5" fill="#1030b8"/>
<circle cx="475.0" cy="139.0" r="1.7" fill="#1840e0"/>
<circle cx="476.8" cy="131.1" r="2.0" fill="#1840e0"/>
<circle cx="476.7" cy="132.7" r="2.5" fill="#4088f0"/>
<circle cx="472.6" cy="130.9" r="1.5" fill="#2020a0"/>
<circle cx="474.4" cy="134.2" r="1.8" fill="#2850d8"/>
<circle cx="471.0" cy="137.7" r="1.7" fill="#1030b8"/>
<circle cx="469.4" cy="138.7" r="1.9" fill="#4088f0"/>
<circle cx="470.5" cy="131.6" r="1.7" fill="#2850d8"/>
<circle cx="468.1" cy="135.9" r="1.6" fill="#1030b8"/>
<circle cx="468.8" cy="134.8" r="2.0" fill="#1840e0"/>
<circle cx="473.3" cy="139.4" r="2.0" fill="#1030b8"/>
<circle cx="473.1" cy="135.1" r="2.1" fill="#1030b8"/>
<circle cx="467.1" cy="137.0" r="2.7" fill="#4088f0"/>
<circle cx="467.5" cy="137.3" r="1.8" fill="#60b0e8"/>
<circle cx="476.4" cy="133.9" r="1.6" fill="#1840e0"/>
<circle cx="474.2" cy="130.4" r="2.4" fill="#4088f0"/>
<circle cx="471.3" cy="136.3" r="2.6" fill="#4088f0"/>
<circle cx="480.3" cy="136.2" r="1.6" fill="#1840e0"/>
<ellipse cx="475" cy="136" rx="3.0" ry="2.2" fill="#1828b0"/>
<circle cx="476.3" cy="137.4" r="2.6" fill="#1828b0"/>
<circle cx="476.0" cy="137.1" r="1.9" fill="#0818a0"/>
<circle cx="475.7" cy="137.1" r="1.8" fill="#1828b0"/>
<circle cx="475.4" cy="135.4" r="1.6" fill="#1828b0"/>
<circle cx="478.8" cy="136.7" r="2.4" fill="#2040d0"/>
<circle cx="475.0" cy="135.2" r="2.6" fill="#0818a0"/>
<circle cx="475.4" cy="137.8" r="1.8" fill="#2040d0"/>
<circle cx="471.9" cy="134.5" r="2.2" fill="#101890"/>
<ellipse cx="477" cy="146" rx="2.6" ry="2.2" fill="#2850d8"/>
<circle cx="479.0" cy="144.6" r="1.9" fill="#4088f0"/>
<circle cx="479.7" cy="144.7" r="2.0" fill="#60b0e8"/>
<circle cx="476.1" cy="143.5" r="1.7" fill="#60b0e8"/>
<circle cx="479.1" cy="143.9" r="1.7" fill="#2850d8"/>
<circle cx="476.6" cy="143.7" r="2.7" fill="#2850d8"/>
<circle cx="480.1" cy="146.3" r="2.6" fill="#2850d8"/>
<circle cx="478.9" cy="143.9" r="2.5" fill="#2850d8"/>
<ellipse cx="450.5" cy="175.5" rx="3.0" ry="3.4" fill="#e8e030"/>
<circle cx="452.5" cy="178.7" r="1.9" fill="#e8e030"/>
<circle cx="451.5" cy="177.4" r="1.6" fill="#e8e030"/>
<circle cx="451.5" cy="172.0" r="1.6" fill="#e8e030"/>
<circle cx="448.1" cy="174.2" r="2.6" fill="#f0f040"/>
<circle cx="449.4" cy="179.8" r="2.0" fill="#d0a030"/>
<circle cx="449.8" cy="175.0" r="2.0" fill="#e8e030"/>
<circle cx="447.9" cy="172.6" r="1.6" fill="#f0f040"/>
<circle cx="451.5" cy="176.9" r="2.0" fill="#c0e040"/>
<circle cx="450.0" cy="178.1" r="2.1" fill="#d0a030"/>
<circle cx="450.0" cy="171.2" r="2.2" fill="#d0a030"/>
<circle cx="450.6" cy="172.3" r="1.5" fill="#c0e040"/>
<ellipse cx="487" cy="152.5" rx="1.9" ry="3.0" fill="#1828b0"/>
<circle cx="487.1" cy="152.5" r="2.3" fill="#1828b0"/>
<circle cx="488.5" cy="154.8" r="2.1" fill="#1828b0"/>
<circle cx="488.7" cy="151.4" r="2.3" fill="#0818a0"/>
<circle cx="487.3" cy="154.3" r="1.9" fill="#2040d0"/>
<circle cx="487.6" cy="151.0" r="1.9" fill="#0818a0"/>
<circle cx="487.8" cy="153.4" r="1.4" fill="#101890"/>
<circle cx="487.9" cy="151.0" r="2.4" fill="#0818a0"/>
<ellipse cx="498" cy="149" rx="2.2" ry="1.9" fill="#2850d8"/>
<circle cx="499.8" cy="148.2" r="2.1" fill="#4088f0"/>
<circle cx="497.9" cy="147.9" r="2.6" fill="#2850d8"/>
<circle cx="498.0" cy="150.6" r="1.5" fill="#4088f0"/>
<circle cx="499.6" cy="149.4" r="2.6" fill="#1840e0"/>
<circle cx="498.0" cy="150.0" r="1.4" fill="#1840e0"/>
<circle cx="499.7" cy="147.0" r="1.8" fill="#2850d8"/>
<ellipse cx="516" cy="163" rx="3.4" ry="4.1" fill="#1828b0"/>
<circle cx="517.0" cy="162.3" r="2.5" fill="#0818a0"/>
<circle cx="512.2" cy="162.4" r="1.9" fill="#1828b0"/>
<circle cx="515.9" cy="165.4" r="1.7" fill="#101890"/>
<circle cx="513.8" cy="166.1" r="1.7" fill="#2040d0"/>
<circle cx="515.3" cy="163.8" r="2.5" fill="#0818a0"/>
<circle cx="515.6" cy="167.0" r="1.9" fill="#2040d0"/>
<circle cx="519.0" cy="166.4" r="1.8" fill="#101890"/>
<circle cx="520.4" cy="163.5" r="2.4" fill="#1828b0"/>
<circle cx="514.7" cy="166.9" r="2.5" fill="#0818a0"/>
<circle cx="515.8" cy="158.5" r="2.5" fill="#1828b0"/>
<circle cx="513.4" cy="164.1" r="2.5" fill="#1828b0"/>
<circle cx="518.1" cy="161.3" r="2.6" fill="#1828b0"/>
<circle cx="520.1" cy="164.6" r="2.4" fill="#101890"/>
<circle cx="513.2" cy="163.0" r="1.8" fill="#1828b0"/>
<ellipse cx="515" cy="172.5" rx="3.0" ry="3.4" fill="#2850d8"/>
<circle cx="518.3" cy="170.0" r="2.5" fill="#1030b8"/>
<circle cx="513.0" cy="176.2" r="1.7" fill="#1840e0"/>
<circle cx="511.5" cy="171.4" r="2.2" fill="#4088f0"/>
<circle cx="512.7" cy="171.7" r="2.0" fill="#1030b8"/>
<circle cx="516.5" cy="174.7" r="1.7" fill="#4088f0"/>
<circle cx="514.8" cy="172.8" r="1.7" fill="#1030b8"/>
<circle cx="512.3" cy="174.2" r="2.1" fill="#4088f0"/>
<circle cx="518.2" cy="172.2" r="2.6" fill="#1840e0"/>
<circle cx="513.9" cy="173.0" r="2.4" fill="#1840e0"/>
<circle cx="513.6" cy="171.1" r="1.5" fill="#4088f0"/>
<circle cx="512.1" cy="173.2" r="2.7" fill="#4088f0"/>
<ellipse cx="533" cy="178" rx="3.8" ry="2.2" fill="#1828b0"/>
<circle cx="533.8" cy="176.1" r="2.4" fill="#0818a0"/>
<circle cx="530.0" cy="175.7" r="1.8" fill="#101890"/>
<circle cx="531.7" cy="179.7" r="2.6" fill="#0818a0"/>
<circle cx="532.8" cy="180.6" r="1.7" fill="#101890"/>
<circle cx="534.7" cy="177.2" r="2.2" fill="#0818a0"/>
<circle cx="530.9" cy="179.3" r="2.3" fill="#101890"/>
<circle cx="533.5" cy="176.2" r="2.1" fill="#1828b0"/>
<circle cx="535.5" cy="176.4" r="1.5" fill="#0818a0"/>
<circle cx="534.8" cy="179.3" r="1.4" fill="#1828b0"/>
<ellipse cx="534" cy="136.5" rx="3.8" ry="4.9" fill="#b8a838"/>
<circle cx="531.8" cy="141.6" r="2.3" fill="#d8d040"/>
<circle cx="533.2" cy="141.7" r="2.2" fill="#b8a838"/>
<circle cx="530.8" cy="140.8" r="1.5" fill="#b8a838"/>
<circle cx="531.7" cy="141.4" r="2.1" fill="#a08828"/>
<circle cx="535.7" cy="135.0" r="2.7" fill="#b8a838"/>
<circle cx="536.5" cy="133.5" r="1.6" fill="#a08828"/>
<circle cx="533.3" cy="136.9" r="1.9" fill="#a08828"/>
<circle cx="536.3" cy="137.2" r="1.9" fill="#a08828"/>
<circle cx="531.6" cy="131.8" r="1.6" fill="#b8a838"/>
<circle cx="530.1" cy="140.4" r="1.6" fill="#a08828"/>
<circle cx="534.0" cy="137.5" r="2.1" fill="#d8d040"/>
<circle cx="533.6" cy="139.8" r="2.3" fill="#a08828"/>
<circle cx="533.2" cy="133.1" r="2.4" fill="#a08828"/>
<circle cx="538.0" cy="134.6" r="2.4" fill="#d8d040"/>
<circle cx="534.9" cy="135.6" r="2.0" fill="#b8a838"/>
<circle cx="531.2" cy="138.7" r="2.5" fill="#d8d040"/>
<circle cx="531.0" cy="133.4" r="2.4" fill="#b8a838"/>
<ellipse cx="533" cy="134" rx="1.9" ry="2.2" fill="#2850d8"/>
<circle cx="532.2" cy="131.5" r="2.4" fill="#2850d8"/>
<circle cx="533.1" cy="136.6" r="1.7" fill="#2850d8"/>
<circle cx="531.4" cy="133.6" r="2.6" fill="#2850d8"/>
<circle cx="534.0" cy="133.6" r="1.6" fill="#2850d8"/>
<circle cx="533.0" cy="136.9" r="2.4" fill="#60b0e8"/>
<circle cx="531.3" cy="134.8" r="1.5" fill="#4088f0"/>
<ellipse cx="490" cy="160" rx="3.8" ry="2.2" fill="#e8e030"/>
<circle cx="490.2" cy="161.5" r="1.6" fill="#d0a030"/>
<circle cx="486.7" cy="161.0" r="2.0" fill="#d0a030"/>
<circle cx="489.0" cy="158.2" r="1.5" fill="#f0f040"/>
<circle cx="487.7" cy="161.0" r="1.7" fill="#d0a030"/>
<circle cx="489.2" cy="162.1" r="1.5" fill="#e8e030"/>
<circle cx="485.7" cy="160.3" r="2.7" fill="#e8e030"/>
<circle cx="488.8" cy="161.1" r="1.7" fill="#e8e030"/>
<circle cx="491.7" cy="160.0" r="2.5" fill="#f0f040"/>
<circle cx="485.6" cy="160.5" r="2.6" fill="#e8e030"/>
<ellipse cx="403" cy="145" rx="6.0" ry="2.6" fill="#2850d8"/>
<circle cx="397.3" cy="144.9" r="1.6" fill="#1840e0"/>
<circle cx="407.6" cy="147.0" r="1.5" fill="#2020a0"/>
<circle cx="400.2" cy="141.9" r="2.2" fill="#60b0e8"/>
<circle cx="399.3" cy="142.7" r="2.5" fill="#4088f0"/>
<circle cx="406.4" cy="143.4" r="2.7" fill="#4088f0"/>
<circle cx="397.9" cy="142.4" r="2.1" fill="#4088f0"/>
<circle cx="408.8" cy="146.0" r="1.6" fill="#1030b8"/>
<circle cx="406.5" cy="142.3" r="1.9" fill="#1840e0"/>
<circle cx="398.5" cy="142.6" r="2.5" fill="#2850d8"/>
<circle cx="400.1" cy="147.9" r="2.4" fill="#1840e0"/>
<circle cx="402.1" cy="148.2" r="2.4" fill="#1840e0"/>
<circle cx="403.5" cy="143.7" r="1.7" fill="#60b0e8"/>
<circle cx="400.4" cy="144.1" r="2.1" fill="#1840e0"/>
<circle cx="405.6" cy="142.4" r="1.4" fill="#4088f0"/>
<circle cx="405.6" cy="142.8" r="2.1" fill="#1030b8"/>
<ellipse cx="430" cy="145" rx="2.2" ry="3.8" fill="#2850d8"/>
<circle cx="427.7" cy="146.3" r="2.0" fill="#1030b8"/>
<circle cx="430.1" cy="142.5" r="2.6" fill="#4088f0"/>
<circle cx="430.3" cy="145.4" r="1.8" fill="#60b0e8"/>
<circle cx="428.9" cy="146.8" r="2.3" fill="#1030b8"/>
<circle cx="431.3" cy="144.6" r="1.5" fill="#1030b8"/>
<circle cx="431.4" cy="142.1" r="1.7" fill="#2020a0"/>
<circle cx="429.6" cy="147.4" r="1.7" fill="#1030b8"/>
<circle cx="431.2" cy="142.7" r="1.5" fill="#1030b8"/>
<circle cx="429.5" cy="144.4" r="2.2" fill="#1840e0"/>
<ellipse cx="412.5" cy="156" rx="3.4" ry="3.4" fill="#b8a838"/>
<circle cx="415.8" cy="154.2" r="2.4" fill="#a08828"/>
<circle cx="411.0" cy="152.5" r="2.4" fill="#e0c060"/>
<circle cx="409.8" cy="159.6" r="1.5" fill="#b8a838"/>
<circle cx="415.8" cy="155.5" r="1.9" fill="#a08828"/>
<circle cx="409.4" cy="157.3" r="2.3" fill="#a08828"/>
<circle cx="410.5" cy="159.8" r="2.5" fill="#a08828"/>
<circle cx="408.5" cy="155.3" r="1.6" fill="#a08828"/>
<circle cx="412.6" cy="152.5" r="1.8" fill="#d8d040"/>
<circle cx="411.6" cy="156.9" r="1.7" fill="#b8a838"/>
<circle cx="411.5" cy="153.2" r="2.4" fill="#e0c060"/>
<circle cx="411.3" cy="158.4" r="1.8" fill="#889030"/>
<circle cx="409.9" cy="156.7" r="2.1" fill="#a08828"/>
<ellipse cx="419.5" cy="171" rx="3.4" ry="3.4" fill="#b8a838"/>
<circle cx="417.6" cy="168.3" r="2.5" fill="#a08828"/>
<circle cx="417.1" cy="171.8" r="2.1" fill="#a08828"/>
<circle cx="416.1" cy="171.6" r="2.1" fill="#889030"/>
<circle cx="415.8" cy="170.6" r="1.7" fill="#d8d040"/>
<circle cx="417.8" cy="170.2" r="1.9" fill="#a08828"/>
<circle cx="417.2" cy="174.2" r="1.7" fill="#889030"/>
<circle cx="417.2" cy="172.2" r="2.1" fill="#d8d040"/>
<circle cx="422.3" cy="168.9" r="2.4" fill="#d8d040"/>
<circle cx="419.2" cy="166.6" r="2.3" fill="#d8d040"/>
<circle cx="417.1" cy="172.1" r="2.4" fill="#d8d040"/>
<circle cx="419.9" cy="170.0" r="2.4" fill="#b8a838"/>
<circle cx="422.9" cy="169.3" r="2.5" fill="#e0c060"/>
<ellipse cx="422" cy="158.5" rx="2.6" ry="2.6" fill="#2850d8"/>
<circle cx="419.1" cy="157.6" r="2.0" fill="#4088f0"/>
<circle cx="421.7" cy="161.4" r="1.9" fill="#1030b8"/>
<circle cx="422.1" cy="158.5" r="1.9" fill="#4088f0"/>
<circle cx="420.0" cy="161.1" r="1.9" fill="#1030b8"/>
<circle cx="422.7" cy="158.9" r="1.8" fill="#2020a0"/>
<circle cx="421.1" cy="155.8" r="2.3" fill="#4088f0"/>
<circle cx="423.0" cy="156.0" r="2.3" fill="#2850d8"/>
<circle cx="420.9" cy="157.9" r="2.6" fill="#1030b8"/>
<ellipse cx="426" cy="180" rx="4.9" ry="4.5" fill="#1828b0"/>
<circle cx="426.4" cy="178.3" r="1.7" fill="#1828b0"/>
<circle cx="429.8" cy="179.5" r="2.5" fill="#0818a0"/>
<circle cx="424.4" cy="184.6" r="1.8" fill="#2040d0"/>
<circle cx="428.3" cy="180.0" r="2.0" fill="#0818a0"/>
<circle cx="426.5" cy="174.8" r="1.6" fill="#1828b0"/>
<circle cx="422.9" cy="181.7" r="1.6" fill="#101890"/>
<circle cx="429.5" cy="181.9" r="2.5" fill="#0818a0"/>
<circle cx="426.7" cy="175.6" r="2.0" fill="#101890"/>
<circle cx="420.9" cy="177.3" r="1.8" fill="#0818a0"/>
<circle cx="426.6" cy="181.4" r="2.4" fill="#101890"/>
<circle cx="430.3" cy="182.1" r="2.4" fill="#0818a0"/>
<circle cx="426.9" cy="183.0" r="1.9" fill="#2040d0"/>
<circle cx="426.6" cy="176.0" r="1.5" fill="#1828b0"/>
<circle cx="420.6" cy="181.5" r="2.2" fill="#2040d0"/>
<circle cx="429.0" cy="177.2" r="2.5" fill="#1828b0"/>
<circle cx="419.8" cy="181.4" r="1.7" fill="#1828b0"/>
<circle cx="430.3" cy="182.3" r="2.1" fill="#1828b0"/>
<circle cx="422.1" cy="184.8" r="1.8" fill="#1828b0"/>
<circle cx="421.2" cy="178.5" r="2.6" fill="#1828b0"/>
<circle cx="427.6" cy="175.4" r="1.6" fill="#0818a0"/>
<ellipse cx="431.5" cy="188" rx="5.6" ry="1.9" fill="#2850d8"/>
<circle cx="434.1" cy="187.0" r="2.4" fill="#2850d8"/>
<circle cx="430.6" cy="189.5" r="1.8" fill="#2850d8"/>
<circle cx="436.2" cy="189.2" r="1.7" fill="#2850d8"/>
<circle cx="438.2" cy="188.8" r="2.0" fill="#1840e0"/>
<circle cx="434.5" cy="187.8" r="2.4" fill="#4088f0"/>
<circle cx="427.3" cy="186.9" r="2.6" fill="#4088f0"/>
<circle cx="427.7" cy="189.0" r="1.9" fill="#1030b8"/>
<circle cx="425.4" cy="187.7" r="2.4" fill="#4088f0"/>
<circle cx="431.6" cy="188.0" r="1.4" fill="#2020a0"/>
<circle cx="435.5" cy="189.5" r="2.3" fill="#4088f0"/>
<circle cx="427.1" cy="187.2" r="2.4" fill="#1840e0"/>
<ellipse cx="434" cy="164" rx="3.8" ry="3.8" fill="#2850d8"/>
<circle cx="436.6" cy="163.3" r="1.6" fill="#4088f0"/>
<circle cx="435.5" cy="161.5" r="2.1" fill="#2850d8"/>
<circle cx="431.6" cy="162.5" r="1.6" fill="#1030b8"/>
<circle cx="432.8" cy="164.8" r="1.7" fill="#4088f0"/>
<circle cx="437.1" cy="167.7" r="1.8" fill="#2020a0"/>
<circle cx="437.3" cy="164.5" r="2.2" fill="#1840e0"/>
<circle cx="438.0" cy="166.0" r="1.6" fill="#1840e0"/>
<circle cx="437.6" cy="166.9" r="2.3" fill="#4088f0"/>
<circle cx="433.4" cy="165.7" r="2.6" fill="#1030b8"/>
<circle cx="437.5" cy="160.6" r="1.6" fill="#2850d8"/>
<circle cx="432.2" cy="165.4" r="2.0" fill="#1030b8"/>
<circle cx="430.5" cy="160.8" r="2.2" fill="#1030b8"/>
<circle cx="430.6" cy="164.9" r="1.7" fill="#1840e0"/>
<circle cx="434.0" cy="167.4" r="1.4" fill="#1030b8"/>
<ellipse cx="450" cy="177" rx="4.5" ry="3.8" fill="#e8e030"/>
<circle cx="449.3" cy="180.9" r="2.2" fill="#e8e030"/>
<circle cx="450.5" cy="174.2" r="2.4" fill="#f0f040"/>
<circle cx="451.6" cy="177.9" r="2.6" fill="#e8e030"/>
<circle cx="451.8" cy="175.7" r="2.0" fill="#e8e030"/>
<circle cx="447.7" cy="174.5" r="2.5" fill="#e8e030"/>
<circle cx="444.7" cy="177.7" r="2.6" fill="#f0f040"/>
<circle cx="447.0" cy="172.8" r="1.7" fill="#e8e030"/>
<circle cx="447.2" cy="173.8" r="1.4" fill="#d0a030"/>
<circle cx="446.7" cy="174.4" r="2.5" fill="#d0a030"/>
<circle cx="445.4" cy="174.2" r="1.4" fill="#f0f040"/>
<circle cx="453.0" cy="176.5" r="2.0" fill="#e8e030"/>
<circle cx="448.9" cy="181.3" r="1.9" fill="#f0f040"/>
<circle cx="449.0" cy="178.2" r="2.5" fill="#d0a030"/>
<circle cx="452.1" cy="177.8" r="2.1" fill="#d0a030"/>
<circle cx="447.3" cy="180.3" r="2.6" fill="#d0a030"/>
<circle cx="450.1" cy="173.2" r="2.3" fill="#d0a030"/>
<ellipse cx="455" cy="197" rx="6.8" ry="8.2" fill="#2850d8"/>
<circle cx="457.3" cy="199.9" r="2.5" fill="#4088f0"/>
<circle cx="460.7" cy="205.2" r="2.0" fill="#1840e0"/>
<circle cx="459.1" cy="190.5" r="2.2" fill="#1840e0"/>
<circle cx="452.9" cy="201.8" r="2.1" fill="#1030b8"/>
<circle cx="452.1" cy="188.8" r="2.3" fill="#1030b8"/>
<circle cx="460.3" cy="201.1" r="1.6" fill="#2850d8"/>
<circle cx="459.2" cy="187.5" r="2.6" fill="#2850d8"/>
<circle cx="458.7" cy="199.6" r="2.2" fill="#60b0e8"/>
<circle cx="453.5" cy="188.7" r="2.1" fill="#1030b8"/>
<circle cx="454.8" cy="195.8" r="1.5" fill="#1030b8"/>
<circle cx="452.8" cy="190.4" r="2.0" fill="#60b0e8"/>
<circle cx="461.0" cy="194.7" r="2.4" fill="#1030b8"/>
<circle cx="461.0" cy="198.9" r="2.2" fill="#1030b8"/>
<circle cx="461.7" cy="190.5" r="2.0" fill="#2020a0"/>
<circle cx="457.0" cy="194.0" r="2.2" fill="#2850d8"/>
<circle cx="453.7" cy="206.6" r="2.6" fill="#1030b8"/>
<circle cx="447.5" cy="199.5" r="2.3" fill="#2020a0"/>
<circle cx="451.5" cy="198.9" r="2.3" fill="#2850d8"/>
<circle cx="447.8" cy="203.6" r="1.9" fill="#4088f0"/>
<circle cx="452.8" cy="188.8" r="2.0" fill="#2850d8"/>
<circle cx="446.5" cy="197.1" r="2.2" fill="#2850d8"/>
<circle cx="455.9" cy="199.3" r="1.5" fill="#1030b8"/>
<circle cx="460.8" cy="195.2" r="1.7" fill="#1030b8"/>
<circle cx="456.1" cy="207.5" r="2.1" fill="#1840e0"/>
<circle cx="453.3" cy="199.1" r="2.5" fill="#2850d8"/>
<circle cx="453.7" cy="198.6" r="1.7" fill="#60b0e8"/>
<circle cx="461.5" cy="200.9" r="1.8" fill="#1840e0"/>
<circle cx="453.9" cy="192.2" r="2.2" fill="#1030b8"/>
<circle cx="455.9" cy="200.0" r="2.1" fill="#2850d8"/>
<circle cx="460.4" cy="196.9" r="1.7" fill="#2850d8"/>
<circle cx="451.7" cy="204.3" r="1.8" fill="#1030b8"/>
<circle cx="452.7" cy="195.1" r="2.6" fill="#1030b8"/>
<circle cx="456.7" cy="199.2" r="1.7" fill="#4088f0"/>
<circle cx="460.7" cy="199.5" r="1.7" fill="#4088f0"/>
<circle cx="457.7" cy="203.8" r="2.1" fill="#2850d8"/>
<circle cx="450.6" cy="201.5" r="1.9" fill="#60b0e8"/>
<circle cx="457.1" cy="190.3" r="2.0" fill="#60b0e8"/>
<circle cx="457.7" cy="192.6" r="2.4" fill="#2850d8"/>
<circle cx="454.6" cy="200.3" r="2.3" fill="#2850d8"/>
<circle cx="453.1" cy="201.1" r="1.7" fill="#1840e0"/>
<circle cx="458.5" cy="202.3" r="2.2" fill="#4088f0"/>
<circle cx="457.9" cy="194.8" r="1.9" fill="#4088f0"/>
<circle cx="454.4" cy="204.5" r="1.7" fill="#60b0e8"/>
<circle cx="447.4" cy="198.3" r="1.6" fill="#1030b8"/>
<circle cx="461.8" cy="191.9" r="2.4" fill="#4088f0"/>
<circle cx="452.0" cy="199.2" r="2.7" fill="#2850d8"/>
<circle cx="461.2" cy="200.7" r="1.6" fill="#2850d8"/>
<ellipse cx="456" cy="202" rx="3.8" ry="4.5" fill="#1828b0"/>
<circle cx="459.9" cy="202.4" r="2.0" fill="#1828b0"/>
<circle cx="456.2" cy="197.7" r="2.1" fill="#0818a0"/>
<circle cx="453.2" cy="201.6" r="2.0" fill="#101890"/>
<circle cx="452.0" cy="204.5" r="2.2" fill="#2040d0"/>
<circle cx="451.9" cy="201.4" r="1.7" fill="#1828b0"/>
<circle cx="458.1" cy="205.7" r="2.3" fill="#2040d0"/>
<circle cx="452.5" cy="200.8" r="2.6" fill="#2040d0"/>
<circle cx="453.7" cy="200.8" r="1.6" fill="#101890"/>
<circle cx="458.9" cy="204.0" r="1.8" fill="#2040d0"/>
<circle cx="456.7" cy="199.9" r="2.6" fill="#0818a0"/>
<circle cx="456.1" cy="196.5" r="1.7" fill="#101890"/>
<circle cx="453.6" cy="199.3" r="2.0" fill="#2040d0"/>
<circle cx="455.5" cy="201.5" r="2.4" fill="#0818a0"/>
<circle cx="460.2" cy="204.3" r="1.6" fill="#1828b0"/>
<circle cx="453.5" cy="204.2" r="2.6" fill="#1828b0"/>
<circle cx="453.1" cy="198.5" r="2.3" fill="#0818a0"/>
<ellipse cx="467" cy="197" rx="2.6" ry="3.4" fill="#1828b0"/>
<circle cx="466.6" cy="199.6" r="2.2" fill="#1828b0"/>
<circle cx="466.6" cy="193.1" r="1.4" fill="#2040d0"/>
<circle cx="468.7" cy="197.0" r="1.5" fill="#0818a0"/>
<circle cx="469.4" cy="199.5" r="2.2" fill="#0818a0"/>
<circle cx="465.9" cy="198.2" r="1.9" fill="#1828b0"/>
<circle cx="468.0" cy="197.0" r="1.8" fill="#101890"/>
<circle cx="469.0" cy="196.4" r="1.7" fill="#1828b0"/>
<circle cx="466.9" cy="196.9" r="1.9" fill="#1828b0"/>
<circle cx="467.6" cy="197.7" r="1.4" fill="#2040d0"/>
<circle cx="467.9" cy="196.2" r="2.6" fill="#2040d0"/>
<ellipse cx="475.5" cy="197.5" rx="3.0" ry="4.9" fill="#d82010"/>
<circle cx="475.8" cy="195.9" r="2.0" fill="#e83818"/>
<circle cx="476.8" cy="197.5" r="2.0" fill="#e83818"/>
<circle cx="476.3" cy="192.5" r="2.2" fill="#a01008"/>
<circle cx="476.8" cy="194.6" r="2.6" fill="#e83818"/>
<circle cx="478.7" cy="194.2" r="2.2" fill="#e83818"/>
<circle cx="472.3" cy="199.2" r="2.2" fill="#d82010"/>
<circle cx="474.2" cy="198.1" r="2.6" fill="#e06018"/>
<circle cx="474.7" cy="202.5" r="2.4" fill="#801008"/>
<circle cx="471.7" cy="197.0" r="2.1" fill="#801008"/>
<circle cx="476.1" cy="192.9" r="2.4" fill="#a01008"/>
<circle cx="476.6" cy="197.9" r="2.3" fill="#801008"/>
<circle cx="476.7" cy="201.4" r="1.7" fill="#e83818"/>
<circle cx="478.2" cy="200.7" r="2.3" fill="#e06018"/>
<circle cx="477.7" cy="199.0" r="1.6" fill="#d82010"/>
<ellipse cx="475.5" cy="205.5" rx="3.4" ry="3.4" fill="#c88028"/>
<circle cx="473.2" cy="205.6" r="1.9" fill="#a05818"/>
<circle cx="472.4" cy="205.0" r="2.5" fill="#8a6020"/>
<circle cx="473.6" cy="204.3" r="2.1" fill="#8a6020"/>
<circle cx="475.4" cy="209.4" r="1.6" fill="#b0c040"/>
<circle cx="477.1" cy="207.7" r="1.8" fill="#c88028"/>
<circle cx="473.7" cy="207.3" r="2.2" fill="#c88028"/>
<circle cx="478.7" cy="205.1" r="2.4" fill="#e0b040"/>
<circle cx="478.4" cy="208.4" r="1.7" fill="#c88028"/>
<circle cx="478.3" cy="203.1" r="1.4" fill="#b0c040"/>
<circle cx="479.2" cy="203.3" r="2.6" fill="#c88028"/>
<circle cx="478.0" cy="206.7" r="2.5" fill="#a05818"/>
<circle cx="472.7" cy="207.4" r="1.9" fill="#c88028"/>
<ellipse cx="443" cy="205" rx="2.2" ry="3.8" fill="#c88028"/>
<circle cx="445.1" cy="205.7" r="1.8" fill="#a05818"/>
<circle cx="443.6" cy="201.8" r="2.2" fill="#a05818"/>
<circle cx="445.3" cy="202.4" r="2.3" fill="#d04818"/>
<circle cx="445.2" cy="202.0" r="1.8" fill="#c88028"/>
<circle cx="441.8" cy="201.0" r="1.8" fill="#8a6020"/>
<circle cx="444.1" cy="208.1" r="2.1" fill="#e0b040"/>
<circle cx="440.6" cy="203.5" r="2.5" fill="#c88028"/>
<circle cx="442.4" cy="201.3" r="2.0" fill="#c88028"/>
<circle cx="445.2" cy="204.1" r="2.0" fill="#c88028"/>
<ellipse cx="489" cy="194" rx="6.8" ry="6.8" fill="#f4d0b0"/>
<circle cx="487.1" cy="188.6" r="2.2" fill="#ffffff"/>
<circle cx="492.9" cy="199.1" r="2.1" fill="#f4d0b0"/>
<circle cx="487.5" cy="190.3" r="1.6" fill="#ffffff"/>
<circle cx="485.9" cy="190.1" r="2.5" fill="#e0e0a0"/>
<circle cx="494.3" cy="190.5" r="2.2" fill="#f4d0b0"/>
<circle cx="496.9" cy="193.1" r="2.1" fill="#ffffff"/>
<circle cx="484.6" cy="189.7" r="1.5" fill="#f0c090"/>
<circle cx="492.6" cy="196.5" r="2.1" fill="#e8a870"/>
<circle cx="497.8" cy="193.7" r="1.9" fill="#e8a870"/>
<circle cx="486.8" cy="187.2" r="2.2" fill="#f4d0b0"/>
<circle cx="496.6" cy="196.9" r="1.8" fill="#f0c090"/>
<circle cx="482.3" cy="190.8" r="2.5" fill="#e8a870"/>
<circle cx="496.7" cy="193.6" r="2.7" fill="#f4d0b0"/>
<circle cx="483.1" cy="189.6" r="2.1" fill="#f4d0b0"/>
<circle cx="487.4" cy="202.8" r="1.4" fill="#f0c090"/>
<circle cx="494.8" cy="191.7" r="2.5" fill="#e8a870"/>
<circle cx="487.7" cy="185.4" r="2.7" fill="#e8a870"/>
<circle cx="492.6" cy="197.3" r="1.5" fill="#e0e0a0"/>
<circle cx="486.8" cy="192.5" r="2.1" fill="#e0e0a0"/>
<circle cx="497.0" cy="196.4" r="1.9" fill="#f4d0b0"/>
<circle cx="484.1" cy="190.6" r="1.5" fill="#ffffff"/>
<circle cx="491.9" cy="195.3" r="2.2" fill="#e8a870"/>
<circle cx="496.9" cy="195.6" r="2.1" fill="#ffffff"/>
<circle cx="485.9" cy="191.9" r="2.7" fill="#ffffff"/>
<circle cx="480.7" cy="194.0" r="2.1" fill="#e0e0a0"/>
<circle cx="486.2" cy="199.1" r="2.6" fill="#e8a870"/>
<circle cx="489.0" cy="190.4" r="2.6" fill="#ffffff"/>
<circle cx="489.6" cy="185.8" r="1.5" fill="#e0e0a0"/>
<circle cx="482.8" cy="194.5" r="2.4" fill="#e8a870"/>
<circle cx="481.2" cy="195.0" r="2.3" fill="#e8a870"/>
<circle cx="485.8" cy="200.5" r="1.9" fill="#e8a870"/>
<circle cx="484.8" cy="193.4" r="1.6" fill="#ffffff"/>
<circle cx="493.7" cy="187.4" r="2.3" fill="#ffffff"/>
<circle cx="485.5" cy="191.5" r="1.8" fill="#e8a870"/>
<circle cx="491.5" cy="186.8" r="1.8" fill="#e8a870"/>
<circle cx="491.2" cy="190.7" r="1.4" fill="#ffffff"/>
<circle cx="494.1" cy="197.9" r="1.8" fill="#e8a870"/>
<circle cx="490.3" cy="189.0" r="1.7" fill="#e0e0a0"/>
<circle cx="486.3" cy="198.7" r="2.1" fill="#ffffff"/>
<ellipse cx="429" cy="197" rx="3.4" ry="1.9" fill="#b8a838"/>
<circle cx="429.7" cy="198.3" r="2.2" fill="#e0c060"/>
<circle cx="428.0" cy="198.3" r="1.8" fill="#a08828"/>
<circle cx="428.4" cy="197.7" r="2.2" fill="#a08828"/>
<circle cx="428.9" cy="194.7" r="2.4" fill="#a08828"/>
<circle cx="427.4" cy="198.4" r="2.3" fill="#a08828"/>
<circle cx="430.5" cy="198.3" r="2.2" fill="#d8d040"/>
<circle cx="431.7" cy="197.6" r="2.5" fill="#a08828"/>
<circle cx="429.3" cy="197.5" r="2.3" fill="#a08828"/>
<ellipse cx="437" cy="198" rx="2.6" ry="2.2" fill="#c88028"/>
<circle cx="440.4" cy="197.4" r="1.4" fill="#a05818"/>
<circle cx="435.9" cy="199.4" r="2.2" fill="#c88028"/>
<circle cx="436.4" cy="196.7" r="1.9" fill="#d04818"/>
<circle cx="435.3" cy="198.1" r="1.8" fill="#e0b040"/>
<circle cx="440.1" cy="196.7" r="2.4" fill="#8a6020"/>
<circle cx="439.9" cy="197.1" r="2.3" fill="#8a6020"/>
<circle cx="435.7" cy="196.2" r="2.0" fill="#a05818"/>
<ellipse cx="436" cy="204" rx="3.4" ry="3.4" fill="#d82010"/>
<circle cx="439.6" cy="202.0" r="1.7" fill="#d82010"/>
<circle cx="437.2" cy="202.6" r="2.1" fill="#e83818"/>
<circle cx="433.8" cy="204.7" r="2.0" fill="#a01008"/>
<circle cx="434.8" cy="204.2" r="2.5" fill="#d82010"/>
<circle cx="434.6" cy="207.8" r="2.4" fill="#e83818"/>
<circle cx="433.1" cy="204.0" r="2.6" fill="#a01008"/>
<circle cx="439.5" cy="205.0" r="1.5" fill="#a01008"/>
<circle cx="437.8" cy="201.6" r="2.1" fill="#e83818"/>
<circle cx="434.7" cy="204.0" r="2.3" fill="#a01008"/>
<circle cx="437.5" cy="201.6" r="2.1" fill="#e83818"/>
<circle cx="433.2" cy="205.9" r="1.5" fill="#a01008"/>
<circle cx="434.6" cy="203.9" r="2.1" fill="#d82010"/>
<ellipse cx="428" cy="204" rx="2.6" ry="3.4" fill="#f4d0b0"/>
<circle cx="431.2" cy="205.2" r="2.1" fill="#f4d0b0"/>
<circle cx="426.0" cy="206.4" r="2.0" fill="#ffffff"/>
<circle cx="426.9" cy="203.1" r="2.6" fill="#e8a870"/>
<circle cx="424.6" cy="203.9" r="2.0" fill="#e8a870"/>
<circle cx="428.3" cy="208.0" r="1.6" fill="#ffffff"/>
<circle cx="429.9" cy="206.2" r="2.2" fill="#f4d0b0"/>
<circle cx="426.9" cy="200.8" r="1.6" fill="#f0c090"/>
<circle cx="429.6" cy="202.4" r="2.3" fill="#ffffff"/>
<circle cx="425.2" cy="204.4" r="1.8" fill="#e0e0a0"/>
<circle cx="427.2" cy="206.7" r="2.0" fill="#e8a870"/>
<ellipse cx="445" cy="204.5" rx="3.4" ry="2.6" fill="#c88028"/>
<circle cx="443.2" cy="204.8" r="1.4" fill="#e0b040"/>
<circle cx="442.1" cy="202.4" r="1.8" fill="#d04818"/>
<circle cx="444.3" cy="207.8" r="2.6" fill="#d04818"/>
<circle cx="441.2" cy="205.9" r="2.3" fill="#d04818"/>
<circle cx="441.6" cy="204.7" r="2.0" fill="#d04818"/>
<circle cx="446.4" cy="202.8" r="2.6" fill="#e0b040"/>
<circle cx="448.8" cy="202.9" r="1.5" fill="#c88028"/>
<circle cx="444.7" cy="202.5" r="2.5" fill="#a05818"/>
<circle cx="446.5" cy="205.1" r="1.6" fill="#e0b040"/>
<circle cx="443.8" cy="207.3" r="2.0" fill="#8a6020"/>
<ellipse cx="442" cy="212" rx="16.5" ry="2.6" fill="#f4d0b0"/>
<circle cx="457.0" cy="213.6" r="1.5" fill="#f4d0b0"/>
<circle cx="441.7" cy="211.9" r="1.6" fill="#f0c090"/>
<circle cx="437.8" cy="214.6" r="2.1" fill="#ffffff"/>
<circle cx="432.2" cy="209.1" r="1.5" fill="#e0e0a0"/>
<circle cx="436.0" cy="209.2" r="2.5" fill="#f0c090"/>
<circle cx="442.6" cy="215.4" r="1.7" fill="#f4d0b0"/>
<circle cx="424.1" cy="210.1" r="1.7" fill="#f4d0b0"/>
<circle cx="438.4" cy="208.7" r="2.6" fill="#ffffff"/>
<circle cx="458.3" cy="213.1" r="2.5" fill="#e8a870"/>
<circle cx="453.4" cy="210.6" r="2.3" fill="#e8a870"/>
<circle cx="426.3" cy="213.3" r="2.0" fill="#ffffff"/>
<circle cx="427.4" cy="210.9" r="2.5" fill="#e8a870"/>
<circle cx="429.2" cy="209.2" r="2.3" fill="#e8a870"/>
<circle cx="448.5" cy="214.0" r="2.1" fill="#f0c090"/>
<circle cx="426.5" cy="213.3" r="1.5" fill="#e8a870"/>
<circle cx="445.9" cy="212.0" r="2.4" fill="#f0c090"/>
<circle cx="422.4" cy="210.8" r="2.2" fill="#f4d0b0"/>
<circle cx="439.0" cy="212.4" r="1.9" fill="#ffffff"/>
<circle cx="426.5" cy="210.3" r="1.8" fill="#f0c090"/>
<circle cx="451.7" cy="211.3" r="2.0" fill="#f0c090"/>
<circle cx="444.9" cy="209.6" r="1.5" fill="#e8a870"/>
<circle cx="458.3" cy="213.2" r="2.6" fill="#e8a870"/>
<circle cx="456.8" cy="210.2" r="1.7" fill="#ffffff"/>
<circle cx="439.6" cy="209.3" r="1.6" fill="#e8a870"/>
<circle cx="425.0" cy="212.7" r="2.7" fill="#ffffff"/>
<circle cx="438.7" cy="210.0" r="2.3" fill="#ffffff"/>
<circle cx="449.3" cy="211.8" r="2.6" fill="#f0c090"/>
<circle cx="425.7" cy="213.4" r="1.4" fill="#ffffff"/>
<circle cx="431.0" cy="215.0" r="2.3" fill="#f4d0b0"/>
<circle cx="445.9" cy="211.6" r="1.7" fill="#e8a870"/>
<circle cx="424.0" cy="212.8" r="2.5" fill="#f0c090"/>
<circle cx="434.5" cy="215.1" r="2.6" fill="#e8a870"/>
<circle cx="427.7" cy="212.0" r="2.5" fill="#ffffff"/>
<circle cx="425.5" cy="212.4" r="1.6" fill="#e8a870"/>
<circle cx="443.6" cy="209.5" r="2.7" fill="#e8a870"/>
<circle cx="431.2" cy="212.6" r="1.8" fill="#f4d0b0"/>
<circle cx="432.9" cy="213.4" r="1.7" fill="#f0c090"/>
<ellipse cx="467" cy="212.5" rx="3.4" ry="3.4" fill="#d82010"/>
<circle cx="464.0" cy="209.7" r="1.6" fill="#a01008"/>
<circle cx="469.0" cy="209.6" r="2.5" fill="#a01008"/>
<circle cx="466.1" cy="212.3" r="1.9" fill="#a01008"/>
<circle cx="470.6" cy="211.8" r="2.6" fill="#a01008"/>
<circle cx="465.5" cy="209.9" r="2.7" fill="#d82010"/>
<circle cx="467.1" cy="213.4" r="1.6" fill="#801008"/>
<circle cx="465.5" cy="214.1" r="2.1" fill="#d82010"/>
<circle cx="468.6" cy="214.7" r="1.6" fill="#a01008"/>
<circle cx="465.2" cy="212.5" r="2.2" fill="#a01008"/>
<circle cx="469.9" cy="215.1" r="2.3" fill="#801008"/>
<circle cx="469.6" cy="214.3" r="2.6" fill="#801008"/>
<circle cx="468.4" cy="213.2" r="1.4" fill="#e06018"/>
<ellipse cx="459.5" cy="221" rx="3.4" ry="3.0" fill="#e8e030"/>
<circle cx="457.3" cy="221.2" r="2.5" fill="#c0e040"/>
<circle cx="462.8" cy="218.5" r="2.0" fill="#c0e040"/>
<circle cx="461.8" cy="219.7" r="1.5" fill="#f0f040"/>
<circle cx="457.3" cy="223.8" r="1.6" fill="#f0f040"/>
<circle cx="462.0" cy="221.4" r="2.3" fill="#f0f040"/>
<circle cx="460.4" cy="222.7" r="1.8" fill="#f0f040"/>
<circle cx="457.5" cy="217.7" r="2.7" fill="#e8e030"/>
<circle cx="455.8" cy="220.1" r="2.1" fill="#d0a030"/>
<circle cx="458.1" cy="219.2" r="2.2" fill="#c0e040"/>
<circle cx="459.6" cy="218.4" r="2.5" fill="#e8e030"/>
<circle cx="460.0" cy="217.2" r="1.9" fill="#c0e040"/>
<ellipse cx="472" cy="220" rx="6.0" ry="18.8" fill="#c88028"/>
<circle cx="471.6" cy="222.7" r="2.3" fill="#d04818"/>
<circle cx="471.5" cy="197.1" r="2.5" fill="#c88028"/>
<circle cx="474.4" cy="236.8" r="1.4" fill="#c88028"/>
<circle cx="476.5" cy="201.4" r="1.8" fill="#b0c040"/>
<circle cx="472.1" cy="202.9" r="2.6" fill="#d04818"/>
<circle cx="466.5" cy="228.0" r="1.8" fill="#c88028"/>
<circle cx="471.2" cy="217.3" r="1.6" fill="#a05818"/>
<circle cx="470.2" cy="222.6" r="2.1" fill="#e0b040"/>
<circle cx="469.9" cy="234.4" r="2.1" fill="#d04818"/>
<circle cx="478.7" cy="233.3" r="2.1" fill="#8a6020"/>
<circle cx="474.0" cy="238.4" r="2.1" fill="#d04818"/>
<circle cx="469.2" cy="215.4" r="2.1" fill="#c88028"/>
<circle cx="470.7" cy="242.4" r="1.7" fill="#c88028"/>
<circle cx="466.3" cy="233.1" r="2.3" fill="#a05818"/>
<circle cx="469.6" cy="227.6" r="2.6" fill="#e0b040"/>
<circle cx="471.4" cy="235.6" r="1.8" fill="#a05818"/>
<circle cx="475.3" cy="200.1" r="1.8" fill="#c88028"/>
<circle cx="469.7" cy="229.7" r="1.9" fill="#b0c040"/>
<circle cx="469.7" cy="222.7" r="2.2" fill="#e0b040"/>
<circle cx="468.4" cy="239.2" r="2.4" fill="#a05818"/>
<circle cx="474.1" cy="229.7" r="2.3" fill="#e0b040"/>
<circle cx="472.5" cy="222.7" r="2.1" fill="#e0b040"/>
<circle cx="478.6" cy="221.9" r="1.6" fill="#a05818"/>
<circle cx="474.8" cy="227.0" r="2.4" fill="#8a6020"/>
<circle cx="467.6" cy="231.2" r="2.4" fill="#c88028"/>
<circle cx="470.0" cy="239.0" r="1.6" fill="#b0c040"/>
<circle cx="472.4" cy="240.0" r="2.4" fill="#e0b040"/>
<circle cx="467.7" cy="210.8" r="2.1" fill="#8a6020"/>
<circle cx="471.8" cy="234.9" r="1.9" fill="#c88028"/>
<circle cx="475.0" cy="217.5" r="2.1" fill="#8a6020"/>
<circle cx="474.6" cy="211.6" r="2.2" fill="#8a6020"/>
<circle cx="478.4" cy="230.7" r="2.0" fill="#b0c040"/>
<circle cx="472.8" cy="195.4" r="2.0" fill="#b0c040"/>
<circle cx="477.2" cy="213.6" r="2.7" fill="#d04818"/>
<circle cx="471.9" cy="240.8" r="2.0" fill="#c88028"/>
<circle cx="473.1" cy="211.1" r="1.7" fill="#e0b040"/>
<circle cx="474.4" cy="217.2" r="2.1" fill="#b0c040"/>
<circle cx="472.9" cy="217.2" r="1.8" fill="#d04818"/>
<circle cx="472.6" cy="219.3" r="2.5" fill="#8a6020"/>
<circle cx="467.5" cy="216.5" r="1.9" fill="#e0b040"/>
<circle cx="469.5" cy="201.3" r="1.9" fill="#d04818"/>
<circle cx="467.5" cy="206.1" r="1.4" fill="#a05818"/>
<circle cx="470.7" cy="241.0" r="2.4" fill="#e0b040"/>
<circle cx="473.6" cy="210.0" r="2.4" fill="#8a6020"/>
<circle cx="474.1" cy="203.5" r="2.0" fill="#b0c040"/>
<circle cx="471.5" cy="225.8" r="1.6" fill="#b0c040"/>
<circle cx="472.1" cy="196.4" r="2.3" fill="#e0b040"/>
<circle cx="477.9" cy="206.5" r="1.9" fill="#d04818"/>
<circle cx="469.6" cy="224.9" r="1.5" fill="#b0c040"/>
<circle cx="478.1" cy="211.5" r="2.3" fill="#b0c040"/>
<circle cx="468.9" cy="203.8" r="2.7" fill="#d04818"/>
<circle cx="471.4" cy="244.2" r="1.8" fill="#a05818"/>
<circle cx="472.6" cy="242.8" r="1.7" fill="#c88028"/>
<circle cx="465.2" cy="221.7" r="2.3" fill="#d04818"/>
<circle cx="469.8" cy="223.9" r="2.6" fill="#e0b040"/>
<circle cx="478.0" cy="207.8" r="2.5" fill="#c88028"/>
<circle cx="469.5" cy="196.2" r="1.8" fill="#c88028"/>
<circle cx="469.9" cy="224.1" r="1.7" fill="#8a6020"/>
<circle cx="472.5" cy="217.9" r="2.2" fill="#a05818"/>
<circle cx="465.1" cy="229.8" r="1.9" fill="#c88028"/>
<circle cx="476.5" cy="237.4" r="2.0" fill="#a05818"/>
<circle cx="472.5" cy="208.7" r="2.1" fill="#b0c040"/>
<circle cx="475.7" cy="228.5" r="2.5" fill="#e0b040"/>
<circle cx="473.9" cy="223.7" r="2.5" fill="#c88028"/>
<circle cx="472.6" cy="223.7" r="1.6" fill="#b0c040"/>
<circle cx="471.0" cy="204.3" r="1.9" fill="#d04818"/>
<circle cx="468.7" cy="204.6" r="2.3" fill="#b0c040"/>
<circle cx="475.4" cy="201.6" r="1.7" fill="#8a6020"/>
<circle cx="473.5" cy="229.0" r="2.3" fill="#8a6020"/>
<circle cx="473.6" cy="213.2" r="1.4" fill="#e0b040"/>
<circle cx="468.2" cy="207.1" r="1.5" fill="#e0b040"/>
<circle cx="475.1" cy="200.4" r="1.7" fill="#e0b040"/>
<circle cx="473.4" cy="200.7" r="2.0" fill="#e0b040"/>
<circle cx="471.5" cy="202.9" r="1.9" fill="#e0b040"/>
<circle cx="474.0" cy="217.6" r="2.6" fill="#c88028"/>
<circle cx="465.2" cy="207.0" r="2.4" fill="#b0c040"/>
<circle cx="466.1" cy="225.6" r="2.4" fill="#e0b040"/>
<circle cx="479.6" cy="213.9" r="1.6" fill="#b0c040"/>
<circle cx="470.8" cy="204.3" r="2.0" fill="#e0b040"/>
<circle cx="465.5" cy="225.0" r="2.6" fill="#c88028"/>
<circle cx="469.3" cy="206.1" r="2.2" fill="#8a6020"/>
<circle cx="467.8" cy="217.3" r="2.5" fill="#b0c040"/>
<circle cx="470.3" cy="241.9" r="2.0" fill="#d04818"/>
<circle cx="476.6" cy="202.2" r="1.7" fill="#b0c040"/>
<circle cx="468.9" cy="218.8" r="2.4" fill="#d04818"/>
<circle cx="471.5" cy="215.2" r="2.2" fill="#e0b040"/>
<circle cx="470.9" cy="196.4" r="2.1" fill="#d04818"/>
<circle cx="466.0" cy="232.8" r="1.8" fill="#a05818"/>
<circle cx="479.4" cy="212.9" r="2.2" fill="#e0b040"/>
<circle cx="475.3" cy="242.6" r="1.4" fill="#e0b040"/>
<circle cx="475.9" cy="212.8" r="2.5" fill="#c88028"/>
<circle cx="478.7" cy="231.8" r="2.3" fill="#c88028"/>
<circle cx="473.4" cy="202.9" r="2.5" fill="#8a6020"/>
<ellipse cx="472" cy="215" rx="3.8" ry="4.5" fill="#d82010"/>
<circle cx="473.3" cy="212.8" r="1.7" fill="#e83818"/>
<circle cx="471.7" cy="212.4" r="2.6" fill="#d82010"/>
<circle cx="468.1" cy="217.7" r="2.5" fill="#d82010"/>
<circle cx="474.9" cy="210.4" r="1.4" fill="#d82010"/>
<circle cx="475.8" cy="215.4" r="2.2" fill="#a01008"/>
<circle cx="471.0" cy="211.7" r="2.3" fill="#e06018"/>
<circle cx="471.2" cy="218.3" r="2.4" fill="#e06018"/>
<circle cx="468.7" cy="215.4" r="2.2" fill="#801008"/>
<circle cx="474.5" cy="211.7" r="1.8" fill="#a01008"/>
<circle cx="470.9" cy="219.3" r="1.8" fill="#801008"/>
<circle cx="472.0" cy="217.4" r="2.1" fill="#a01008"/>
<circle cx="470.4" cy="214.0" r="2.4" fill="#801008"/>
<circle cx="467.4" cy="213.1" r="1.9" fill="#a01008"/>
<circle cx="471.1" cy="215.8" r="1.5" fill="#d82010"/>
<circle cx="468.1" cy="215.5" r="2.0" fill="#801008"/>
<circle cx="467.9" cy="217.3" r="1.4" fill="#d82010"/>
<ellipse cx="474" cy="230" rx="3.0" ry="4.5" fill="#d82010"/>
<circle cx="475.8" cy="233.9" r="2.2" fill="#a01008"/>
<circle cx="475.0" cy="229.0" r="1.7" fill="#a01008"/>
<circle cx="475.1" cy="235.2" r="1.6" fill="#a01008"/>
<circle cx="477.7" cy="229.6" r="2.5" fill="#a01008"/>
<circle cx="474.3" cy="229.8" r="2.6" fill="#e06018"/>
<circle cx="475.3" cy="231.0" r="2.4" fill="#e83818"/>
<circle cx="471.8" cy="231.9" r="1.6" fill="#d82010"/>
<circle cx="471.3" cy="225.9" r="2.1" fill="#a01008"/>
<circle cx="473.1" cy="226.5" r="1.4" fill="#a01008"/>
<circle cx="475.5" cy="234.3" r="1.6" fill="#a01008"/>
<circle cx="472.9" cy="227.9" r="1.4" fill="#a01008"/>
<circle cx="475.9" cy="229.9" r="1.4" fill="#a01008"/>
<circle cx="470.6" cy="229.7" r="2.3" fill="#e83818"/>
<ellipse cx="475.5" cy="239" rx="2.6" ry="2.2" fill="#8020a0"/>
<circle cx="475.5" cy="239.4" r="1.6" fill="#6010a0"/>
<circle cx="473.3" cy="239.2" r="1.6" fill="#a03080"/>
<circle cx="475.7" cy="239.9" r="1.7" fill="#6010a0"/>
<circle cx="473.2" cy="238.1" r="1.7" fill="#a03080"/>
<circle cx="473.9" cy="237.2" r="1.9" fill="#8020a0"/>
<circle cx="476.7" cy="237.4" r="1.9" fill="#8020a0"/>
<circle cx="475.0" cy="239.2" r="1.6" fill="#6010a0"/>
<ellipse cx="500" cy="195" rx="3.8" ry="2.6" fill="#c88028"/>
<circle cx="496.5" cy="196.1" r="1.6" fill="#8a6020"/>
<circle cx="503.5" cy="196.8" r="1.7" fill="#e0b040"/>
<circle cx="496.8" cy="194.2" r="2.0" fill="#8a6020"/>
<circle cx="503.9" cy="196.1" r="1.5" fill="#a05818"/>
<circle cx="500.7" cy="198.2" r="2.4" fill="#c88028"/>
<circle cx="502.7" cy="193.2" r="2.2" fill="#e0b040"/>
<circle cx="504.6" cy="194.1" r="2.3" fill="#d04818"/>
<circle cx="499.2" cy="195.3" r="2.5" fill="#c88028"/>
<circle cx="502.7" cy="195.3" r="2.3" fill="#d04818"/>
<circle cx="498.0" cy="192.9" r="1.6" fill="#e0b040"/>
<circle cx="495.9" cy="205.8" r="2.4" fill="#50c0ec"/>
<circle cx="501.5" cy="201.8" r="2.4" fill="#70e4e4"/>
<circle cx="500.9" cy="218.1" r="2.7" fill="#70e4e4"/>
<circle cx="502.7" cy="206.6" r="2.3" fill="#70e4e4"/>
<circle cx="500.7" cy="201.1" r="2.0" fill="#b0ecc8"/>
<circle cx="488.0" cy="211.8" r="2.1" fill="#50c0ec"/>
<circle cx="493.2" cy="212.2" r="1.5" fill="#88dcec"/>
<circle cx="495.8" cy="224.3" r="2.0" fill="#50c0ec"/>
<circle cx="497.6" cy="209.7" r="1.6" fill="#88dcec"/>
<circle cx="499.4" cy="202.2" r="1.9" fill="#88dcec"/>
<circle cx="494.2" cy="208.0" r="2.4" fill="#70e4e4"/>
<circle cx="499.0" cy="220.5" r="1.6" fill="#50c0ec"/>
<circle cx="504.7" cy="205.6" r="1.8" fill="#88dcec"/>
<circle cx="505.8" cy="211.0" r="2.1" fill="#88dcec"/>
<circle cx="499.7" cy="214.9" r="2.5" fill="#50c0ec"/>
<circle cx="500.6" cy="218.0" r="1.6" fill="#b0ecc8"/>
<circle cx="498.2" cy="222.5" r="1.8" fill="#70e4e4"/>
<circle cx="499.7" cy="207.1" r="2.6" fill="#50c0ec"/>
<circle cx="491.3" cy="212.9" r="1.7" fill="#70e4e4"/>
<circle cx="492.6" cy="212.2" r="2.7" fill="#88dcec"/>
<circle cx="505.5" cy="211.7" r="2.5" fill="#70e4e4"/>
<circle cx="497.1" cy="217.3" r="1.7" fill="#88dcec"/>
<circle cx="494.3" cy="220.4" r="2.0" fill="#70e4e4"/>
<circle cx="494.5" cy="221.3" r="2.6" fill="#88dcec"/>
<circle cx="504.1" cy="214.3" r="2.5" fill="#88dcec"/>
<circle cx="491.8" cy="206.7" r="1.4" fill="#70e4e4"/>
<circle cx="492.5" cy="223.0" r="2.3" fill="#b0ecc8"/>
<circle cx="503.6" cy="207.1" r="1.5" fill="#50c0ec"/>
<circle cx="498.8" cy="201.3" r="2.5" fill="#88dcec"/>
<circle cx="504.8" cy="216.1" r="2.2" fill="#b0ecc8"/>
<circle cx="502.5" cy="208.6" r="1.8" fill="#88dcec"/>
<circle cx="488.8" cy="209.7" r="2.0" fill="#50c0ec"/>
<circle cx="502.3" cy="221.8" r="1.5" fill="#50c0ec"/>
<circle cx="497.1" cy="224.2" r="2.6" fill="#70e4e4"/>
<circle cx="490.7" cy="207.9" r="1.8" fill="#70e4e4"/>
<circle cx="502.4" cy="204.7" r="1.8" fill="#70e4e4"/>
<circle cx="489.3" cy="218.8" r="2.0" fill="#88dcec"/>
<circle cx="491.7" cy="221.9" r="1.7" fill="#88dcec"/>
<circle cx="493.6" cy="216.3" r="2.4" fill="#b0ecc8"/>
<circle cx="494.2" cy="217.9" r="1.4" fill="#b0ecc8"/>
<circle cx="489.9" cy="212.7" r="2.0" fill="#ffffff"/>
<circle cx="496.0" cy="208.2" r="2.5" fill="#ffffff"/>
<circle cx="489.1" cy="210.0" r="1.8" fill="#50c0ec"/>
<circle cx="492.5" cy="215.9" r="2.7" fill="#50c0ec"/>
<circle cx="502.5" cy="219.1" r="2.0" fill="#50c0ec"/>
<circle cx="498.9" cy="203.0" r="1.7" fill="#88dcec"/>
<circle cx="502.1" cy="217.3" r="2.6" fill="#88dcec"/>
<circle cx="492.5" cy="221.7" r="1.5" fill="#4090e0"/>
<circle cx="493.9" cy="206.0" r="2.7" fill="#88dcec"/>
<circle cx="490.9" cy="204.9" r="1.9" fill="#b0ecc8"/>
<circle cx="497.3" cy="202.8" r="1.7" fill="#ffffff"/>
<circle cx="493.0" cy="218.3" r="1.9" fill="#70e4e4"/>
<circle cx="494.3" cy="224.1" r="2.2" fill="#50c0ec"/>
<circle cx="488.8" cy="211.3" r="1.5" fill="#ffffff"/>
<circle cx="495.8" cy="214.4" r="2.7" fill="#ffffff"/>
<circle cx="495.5" cy="201.3" r="2.5" fill="#b0ecc8"/>
<ellipse cx="495" cy="210" rx="4.5" ry="4.5" fill="#2850d8"/>
<circle cx="494.7" cy="212.6" r="1.4" fill="#4088f0"/>
<circle cx="492.1" cy="210.4" r="2.0" fill="#4088f0"/>
<circle cx="493.6" cy="213.8" r="1.7" fill="#1030b8"/>
<circle cx="492.0" cy="214.0" r="2.6" fill="#1030b8"/>
<circle cx="492.0" cy="204.9" r="2.2" fill="#2850d8"/>
<circle cx="492.6" cy="211.4" r="1.7" fill="#1030b8"/>
<circle cx="490.9" cy="208.4" r="2.4" fill="#1840e0"/>
<circle cx="494.5" cy="213.4" r="1.6" fill="#4088f0"/>
<circle cx="496.7" cy="210.9" r="2.6" fill="#4088f0"/>
<circle cx="497.4" cy="209.1" r="1.4" fill="#1030b8"/>
<circle cx="492.4" cy="209.6" r="2.6" fill="#4088f0"/>
<circle cx="493.7" cy="207.9" r="2.6" fill="#2850d8"/>
<circle cx="496.5" cy="210.1" r="2.0" fill="#1030b8"/>
<circle cx="498.1" cy="205.0" r="1.4" fill="#60b0e8"/>
<circle cx="493.6" cy="205.2" r="2.2" fill="#2850d8"/>
<circle cx="489.4" cy="209.4" r="2.5" fill="#1840e0"/>
<circle cx="490.8" cy="208.1" r="2.3" fill="#2850d8"/>
<circle cx="495.5" cy="206.0" r="2.3" fill="#1840e0"/>
<circle cx="493.9" cy="212.1" r="1.6" fill="#1840e0"/>
<ellipse cx="517.5" cy="210.5" rx="4.9" ry="5.6" fill="#1828b0"/>
<circle cx="511.8" cy="211.4" r="2.6" fill="#101890"/>
<circle cx="516.7" cy="217.1" r="2.2" fill="#0818a0"/>
<circle cx="513.4" cy="208.0" r="1.6" fill="#2040d0"/>
<circle cx="520.2" cy="216.4" r="2.5" fill="#0818a0"/>
<circle cx="522.8" cy="214.5" r="1.5" fill="#101890"/>
<circle cx="518.1" cy="217.0" r="2.0" fill="#1828b0"/>
<circle cx="515.2" cy="216.6" r="2.4" fill="#2040d0"/>
<circle cx="520.5" cy="205.1" r="2.1" fill="#0818a0"/>
<circle cx="519.6" cy="213.6" r="2.0" fill="#0818a0"/>
<circle cx="522.9" cy="207.6" r="2.1" fill="#1828b0"/>
<circle cx="513.1" cy="210.3" r="2.3" fill="#1828b0"/>
<circle cx="520.9" cy="210.2" r="1.5" fill="#101890"/>
<circle cx="515.0" cy="204.3" r="2.0" fill="#0818a0"/>
<circle cx="511.6" cy="213.6" r="2.2" fill="#2040d0"/>
<circle cx="521.4" cy="206.1" r="2.2" fill="#1828b0"/>
<circle cx="520.0" cy="204.9" r="1.8" fill="#1828b0"/>
<circle cx="518.4" cy="210.7" r="2.3" fill="#2040d0"/>
<circle cx="519.5" cy="213.1" r="1.9" fill="#0818a0"/>
<circle cx="519.5" cy="205.4" r="2.5" fill="#0818a0"/>
<circle cx="516.7" cy="204.7" r="1.6" fill="#101890"/>
<circle cx="514.5" cy="215.5" r="2.1" fill="#0818a0"/>
<circle cx="514.3" cy="209.2" r="1.9" fill="#1828b0"/>
<circle cx="520.9" cy="211.6" r="1.7" fill="#2040d0"/>
<circle cx="518.1" cy="216.2" r="1.5" fill="#0818a0"/>
<circle cx="511.3" cy="227.2" r="2.5" fill="#4090e0"/>
<circle cx="528.9" cy="222.0" r="2.6" fill="#ffffff"/>
<circle cx="524.4" cy="218.2" r="1.9" fill="#88dcec"/>
<circle cx="525.2" cy="218.5" r="2.0" fill="#50c0ec"/>
<circle cx="520.1" cy="220.9" r="2.6" fill="#88dcec"/>
<circle cx="530.4" cy="226.1" r="1.7" fill="#ffffff"/>
<circle cx="537.1" cy="226.8" r="1.9" fill="#70e4e4"/>
<circle cx="518.5" cy="222.4" r="2.4" fill="#50c0ec"/>
<circle cx="535.5" cy="221.7" r="1.4" fill="#4090e0"/>
<circle cx="525.6" cy="228.2" r="2.2" fill="#70e4e4"/>
<circle cx="520.1" cy="224.1" r="2.7" fill="#50c0ec"/>
<circle cx="526.2" cy="219.8" r="1.8" fill="#b0ecc8"/>
<circle cx="530.9" cy="219.0" r="2.4" fill="#50c0ec"/>
<circle cx="533.5" cy="229.1" r="2.6" fill="#ffffff"/>
<circle cx="514.9" cy="224.0" r="2.5" fill="#ffffff"/>
<circle cx="532.4" cy="225.4" r="2.5" fill="#88dcec"/>
<circle cx="518.9" cy="230.2" r="2.4" fill="#50c0ec"/>
<circle cx="523.5" cy="225.1" r="1.5" fill="#70e4e4"/>
<circle cx="519.0" cy="217.7" r="2.6" fill="#50c0ec"/>
<circle cx="535.2" cy="225.3" r="2.5" fill="#b0ecc8"/>
<circle cx="517.5" cy="224.9" r="2.0" fill="#88dcec"/>
<circle cx="515.5" cy="225.0" r="1.5" fill="#70e4e4"/>
<circle cx="522.0" cy="217.4" r="2.6" fill="#88dcec"/>
<circle cx="534.4" cy="227.8" r="2.7" fill="#b0ecc8"/>
<circle cx="513.7" cy="220.7" r="1.9" fill="#4090e0"/>
<circle cx="522.9" cy="227.9" r="1.8" fill="#4090e0"/>
<circle cx="524.6" cy="221.0" r="2.6" fill="#50c0ec"/>
<circle cx="529.9" cy="229.0" r="2.6" fill="#50c0ec"/>
<circle cx="529.1" cy="222.3" r="2.6" fill="#50c0ec"/>
<circle cx="525.1" cy="218.4" r="2.6" fill="#70e4e4"/>
<circle cx="521.4" cy="227.8" r="1.8" fill="#70e4e4"/>
<circle cx="526.4" cy="222.2" r="2.2" fill="#70e4e4"/>
<circle cx="521.7" cy="221.2" r="2.0" fill="#50c0ec"/>
<circle cx="514.8" cy="219.4" r="2.3" fill="#50c0ec"/>
<circle cx="516.3" cy="230.0" r="2.4" fill="#88dcec"/>
<circle cx="522.9" cy="227.7" r="2.4" fill="#4090e0"/>
<circle cx="516.8" cy="229.5" r="2.3" fill="#70e4e4"/>
<circle cx="534.6" cy="228.7" r="2.1" fill="#ffffff"/>
<circle cx="512.2" cy="222.3" r="2.6" fill="#50c0ec"/>
<circle cx="521.1" cy="217.5" r="2.6" fill="#50c0ec"/>
<circle cx="520.3" cy="224.7" r="1.7" fill="#50c0ec"/>
<circle cx="535.1" cy="220.3" r="1.9" fill="#70e4e4"/>
<circle cx="527.4" cy="226.4" r="2.0" fill="#70e4e4"/>
<circle cx="526.4" cy="227.2" r="2.0" fill="#50c0ec"/>
<circle cx="526.2" cy="230.5" r="1.8" fill="#b0ecc8"/>
<circle cx="528.4" cy="217.2" r="1.5" fill="#ffffff"/>
<circle cx="514.0" cy="228.8" r="1.5" fill="#88dcec"/>
<circle cx="523.6" cy="224.9" r="2.5" fill="#50c0ec"/>
<circle cx="520.4" cy="224.7" r="1.7" fill="#88dcec"/>
<circle cx="516.2" cy="226.6" r="1.4" fill="#88dcec"/>
<circle cx="537.9" cy="225.2" r="1.9" fill="#b0ecc8"/>
<circle cx="523.2" cy="231.5" r="1.9" fill="#b0ecc8"/>
<circle cx="525.5" cy="222.7" r="2.3" fill="#50c0ec"/>
<circle cx="531.9" cy="227.0" r="2.4" fill="#b0ecc8"/>
<circle cx="511.1" cy="227.2" r="2.1" fill="#88dcec"/>
<ellipse cx="522" cy="225" rx="7.5" ry="4.5" fill="#2850d8"/>
<circle cx="526.7" cy="221.0" r="2.1" fill="#2850d8"/>
<circle cx="519.8" cy="229.0" r="1.7" fill="#1840e0"/>
<circle cx="514.3" cy="225.7" r="2.0" fill="#2850d8"/>
<circle cx="521.8" cy="229.3" r="1.5" fill="#4088f0"/>
<circle cx="527.9" cy="226.0" r="2.0" fill="#2850d8"/>
<circle cx="526.0" cy="221.1" r="2.3" fill="#1840e0"/>
<circle cx="513.7" cy="224.1" r="2.1" fill="#4088f0"/>
<circle cx="525.7" cy="223.8" r="2.6" fill="#1840e0"/>
<circle cx="527.3" cy="226.2" r="1.7" fill="#2850d8"/>
<circle cx="518.8" cy="228.9" r="2.3" fill="#1840e0"/>
<circle cx="528.0" cy="224.5" r="1.9" fill="#2020a0"/>
<circle cx="520.6" cy="229.1" r="2.2" fill="#1030b8"/>
<circle cx="521.3" cy="220.2" r="2.5" fill="#2850d8"/>
<circle cx="512.7" cy="226.1" r="1.5" fill="#1030b8"/>
<circle cx="527.1" cy="227.1" r="1.9" fill="#1840e0"/>
<circle cx="512.5" cy="223.3" r="2.4" fill="#2850d8"/>
<circle cx="522.8" cy="224.5" r="1.9" fill="#60b0e8"/>
<circle cx="526.2" cy="228.4" r="2.0" fill="#1840e0"/>
<circle cx="527.2" cy="225.5" r="1.9" fill="#2850d8"/>
<circle cx="524.2" cy="225.3" r="2.4" fill="#60b0e8"/>
<circle cx="529.3" cy="221.2" r="2.4" fill="#2020a0"/>
<circle cx="516.0" cy="220.7" r="2.0" fill="#1030b8"/>
<circle cx="518.7" cy="225.2" r="2.3" fill="#4088f0"/>
<circle cx="520.3" cy="228.9" r="2.0" fill="#2850d8"/>
<circle cx="520.4" cy="221.7" r="2.0" fill="#60b0e8"/>
<circle cx="521.4" cy="229.3" r="2.4" fill="#2020a0"/>
<circle cx="517.8" cy="225.5" r="2.6" fill="#1030b8"/>
<circle cx="519.1" cy="230.1" r="1.5" fill="#2850d8"/>
<circle cx="522.2" cy="221.1" r="1.8" fill="#4088f0"/>
<circle cx="523.2" cy="229.0" r="1.5" fill="#1840e0"/>
<ellipse cx="535" cy="225.5" rx="3.0" ry="3.4" fill="#1828b0"/>
<circle cx="535.2" cy="226.8" r="1.5" fill="#2040d0"/>
<circle cx="534.6" cy="226.0" r="2.6" fill="#1828b0"/>
<circle cx="538.3" cy="226.5" r="1.6" fill="#1828b0"/>
<circle cx="531.7" cy="227.7" r="1.6" fill="#2040d0"/>
<circle cx="534.3" cy="223.5" r="2.0" fill="#2040d0"/>
<circle cx="535.5" cy="227.7" r="2.4" fill="#0818a0"/>
<circle cx="533.1" cy="221.7" r="2.3" fill="#1828b0"/>
<circle cx="532.3" cy="228.5" r="1.6" fill="#0818a0"/>
<circle cx="536.8" cy="227.5" r="2.2" fill="#2040d0"/>
<circle cx="537.1" cy="222.5" r="2.4" fill="#1828b0"/>
<circle cx="536.6" cy="222.9" r="1.8" fill="#2040d0"/>
<ellipse cx="513" cy="227" rx="1.9" ry="2.2" fill="#1828b0"/>
<circle cx="512.9" cy="226.1" r="2.4" fill="#2040d0"/>
<circle cx="514.4" cy="227.1" r="1.5" fill="#2040d0"/>
<circle cx="513.3" cy="227.2" r="1.6" fill="#0818a0"/>
<circle cx="511.1" cy="228.3" r="1.8" fill="#1828b0"/>
<circle cx="512.1" cy="228.6" r="2.1" fill="#0818a0"/>
<circle cx="513.0" cy="227.8" r="1.7" fill="#2040d0"/>
<ellipse cx="484" cy="228.5" rx="3.0" ry="3.4" fill="#c88028"/>
<circle cx="484.7" cy="232.6" r="1.7" fill="#a05818"/>
<circle cx="482.4" cy="230.8" r="1.4" fill="#d04818"/>
<circle cx="486.5" cy="226.4" r="1.5" fill="#c88028"/>
<circle cx="483.8" cy="228.3" r="2.4" fill="#c88028"/>
<circle cx="487.3" cy="230.3" r="2.0" fill="#c88028"/>
<circle cx="481.9" cy="232.1" r="1.9" fill="#c88028"/>
<circle cx="485.9" cy="226.4" r="2.1" fill="#c88028"/>
<circle cx="486.7" cy="230.3" r="2.6" fill="#e0b040"/>
<circle cx="485.4" cy="226.6" r="2.6" fill="#d04818"/>
<circle cx="483.6" cy="225.5" r="2.0" fill="#c88028"/>
<circle cx="482.4" cy="230.4" r="2.5" fill="#c88028"/>
<ellipse cx="499" cy="235" rx="3.4" ry="3.0" fill="#c88028"/>
<circle cx="496.7" cy="237.4" r="2.3" fill="#e0b040"/>
<circle cx="498.1" cy="238.6" r="2.6" fill="#a05818"/>
<circle cx="499.7" cy="236.9" r="2.3" fill="#e0b040"/>
<circle cx="500.1" cy="235.1" r="2.1" fill="#a05818"/>
<circle cx="499.0" cy="232.3" r="1.8" fill="#a05818"/>
<circle cx="500.7" cy="235.1" r="2.1" fill="#d04818"/>
<circle cx="499.2" cy="238.3" r="1.8" fill="#e0b040"/>
<circle cx="496.4" cy="234.7" r="1.5" fill="#a05818"/>
<circle cx="498.6" cy="232.2" r="1.8" fill="#d04818"/>
<circle cx="501.7" cy="237.9" r="1.7" fill="#e0b040"/>
<circle cx="497.8" cy="234.6" r="2.6" fill="#e0b040"/>
<ellipse cx="463.5" cy="252" rx="6.8" ry="3.4" fill="#b8a838"/>
<circle cx="456.1" cy="254.0" r="1.9" fill="#b8a838"/>
<circle cx="469.3" cy="249.7" r="2.6" fill="#889030"/>
<circle cx="468.7" cy="254.3" r="2.3" fill="#d8d040"/>
<circle cx="470.7" cy="254.0" r="1.5" fill="#b8a838"/>
<circle cx="465.0" cy="253.7" r="1.8" fill="#b8a838"/>
<circle cx="470.1" cy="254.7" r="2.0" fill="#b8a838"/>
<circle cx="456.9" cy="249.7" r="2.0" fill="#b8a838"/>
<circle cx="464.5" cy="248.5" r="2.3" fill="#a08828"/>
<circle cx="468.0" cy="254.7" r="1.8" fill="#d8d040"/>
<circle cx="464.9" cy="248.0" r="2.1" fill="#d8d040"/>
<circle cx="471.7" cy="250.3" r="1.9" fill="#a08828"/>
<circle cx="468.2" cy="248.6" r="2.3" fill="#e0c060"/>
<circle cx="465.1" cy="256.2" r="2.5" fill="#a08828"/>
<circle cx="465.3" cy="254.6" r="2.4" fill="#889030"/>
<circle cx="468.4" cy="248.5" r="2.5" fill="#889030"/>
<circle cx="465.4" cy="251.1" r="2.0" fill="#d8d040"/>
<circle cx="469.1" cy="253.7" r="2.0" fill="#a08828"/>
<circle cx="459.4" cy="249.2" r="1.5" fill="#b8a838"/>
<circle cx="461.0" cy="255.6" r="2.5" fill="#a08828"/>
<circle cx="463.5" cy="247.6" r="1.7" fill="#d8d040"/>
<circle cx="464.7" cy="254.4" r="2.5" fill="#d8d040"/>
<ellipse cx="480" cy="263" rx="6.0" ry="9.8" fill="#2850d8"/>
<circle cx="477.3" cy="252.4" r="1.6" fill="#2850d8"/>
<circle cx="481.5" cy="265.5" r="2.0" fill="#1030b8"/>
<circle cx="482.4" cy="257.8" r="2.5" fill="#2850d8"/>
<circle cx="479.5" cy="253.1" r="1.9" fill="#2850d8"/>
<circle cx="486.6" cy="269.6" r="1.5" fill="#2850d8"/>
<circle cx="478.8" cy="270.6" r="2.4" fill="#1030b8"/>
<circle cx="482.8" cy="256.0" r="2.0" fill="#1030b8"/>
<circle cx="482.4" cy="271.3" r="1.6" fill="#1030b8"/>
<circle cx="486.2" cy="270.3" r="2.1" fill="#1840e0"/>
<circle cx="481.5" cy="269.3" r="2.1" fill="#1030b8"/>
<circle cx="476.4" cy="263.4" r="1.7" fill="#2850d8"/>
<circle cx="478.3" cy="267.3" r="2.5" fill="#2850d8"/>
<circle cx="475.3" cy="263.2" r="2.2" fill="#1840e0"/>
<circle cx="487.3" cy="261.9" r="1.4" fill="#2850d8"/>
<circle cx="484.5" cy="267.7" r="1.6" fill="#1030b8"/>
<circle cx="478.6" cy="257.4" r="1.7" fill="#1030b8"/>
<circle cx="479.4" cy="256.4" r="1.8" fill="#4088f0"/>
<circle cx="483.2" cy="274.0" r="1.6" fill="#1840e0"/>
<circle cx="476.7" cy="271.6" r="2.1" fill="#2850d8"/>
<circle cx="484.9" cy="258.3" r="1.6" fill="#2020a0"/>
<circle cx="481.6" cy="261.4" r="1.9" fill="#2020a0"/>
<circle cx="483.7" cy="273.2" r="2.6" fill="#2020a0"/>
<circle cx="477.8" cy="273.4" r="1.6" fill="#2850d8"/>
<circle cx="475.2" cy="258.8" r="1.6" fill="#4088f0"/>
<circle cx="479.9" cy="268.5" r="2.3" fill="#1030b8"/>
<circle cx="476.0" cy="267.8" r="1.8" fill="#2850d8"/>
<circle cx="485.3" cy="255.4" r="2.3" fill="#2020a0"/>
<circle cx="476.7" cy="256.9" r="2.3" fill="#2850d8"/>
<circle cx="482.1" cy="269.1" r="2.2" fill="#1840e0"/>
<circle cx="484.0" cy="271.1" r="2.4" fill="#2850d8"/>
<circle cx="476.0" cy="251.9" r="2.5" fill="#60b0e8"/>
<circle cx="484.6" cy="257.4" r="2.7" fill="#2850d8"/>
<circle cx="482.6" cy="252.3" r="2.2" fill="#1030b8"/>
<circle cx="473.6" cy="270.5" r="2.1" fill="#2020a0"/>
<circle cx="486.2" cy="269.5" r="1.4" fill="#4088f0"/>
<circle cx="483.6" cy="263.2" r="2.4" fill="#1030b8"/>
<circle cx="478.0" cy="267.9" r="2.4" fill="#60b0e8"/>
<circle cx="483.3" cy="254.0" r="2.3" fill="#2850d8"/>
<circle cx="481.5" cy="269.0" r="1.6" fill="#4088f0"/>
<circle cx="483.5" cy="267.8" r="1.7" fill="#2850d8"/>
<circle cx="479.6" cy="259.4" r="2.0" fill="#2850d8"/>
<circle cx="477.8" cy="263.5" r="2.2" fill="#1840e0"/>
<circle cx="483.9" cy="261.9" r="2.7" fill="#2850d8"/>
<circle cx="475.0" cy="262.9" r="1.7" fill="#2020a0"/>
<circle cx="478.3" cy="255.8" r="1.8" fill="#60b0e8"/>
<circle cx="475.4" cy="267.6" r="1.7" fill="#4088f0"/>
<circle cx="474.0" cy="263.4" r="2.4" fill="#2020a0"/>
<circle cx="486.4" cy="261.8" r="2.6" fill="#60b0e8"/>
<circle cx="481.7" cy="267.0" r="1.8" fill="#2850d8"/>
<ellipse cx="482" cy="264" rx="3.8" ry="6.0" fill="#1828b0"/>
<circle cx="485.5" cy="260.9" r="1.6" fill="#2040d0"/>
<circle cx="482.7" cy="268.0" r="1.6" fill="#1828b0"/>
<circle cx="482.8" cy="265.6" r="1.6" fill="#1828b0"/>
<circle cx="479.7" cy="268.4" r="2.4" fill="#101890"/>
<circle cx="479.5" cy="263.8" r="2.4" fill="#101890"/>
<circle cx="481.0" cy="271.4" r="1.8" fill="#1828b0"/>
<circle cx="482.3" cy="257.2" r="1.9" fill="#101890"/>
<circle cx="486.0" cy="265.5" r="2.6" fill="#101890"/>
<circle cx="480.4" cy="259.3" r="1.6" fill="#0818a0"/>
<circle cx="478.8" cy="262.1" r="2.4" fill="#1828b0"/>
<circle cx="482.7" cy="261.2" r="1.7" fill="#2040d0"/>
<circle cx="478.1" cy="266.8" r="1.9" fill="#1828b0"/>
<circle cx="482.8" cy="267.4" r="2.4" fill="#1828b0"/>
<circle cx="483.0" cy="257.3" r="2.2" fill="#2040d0"/>
<circle cx="478.1" cy="264.6" r="1.9" fill="#0818a0"/>
<circle cx="484.1" cy="265.7" r="1.7" fill="#2040d0"/>
<circle cx="480.0" cy="264.8" r="1.5" fill="#2040d0"/>
<circle cx="477.9" cy="262.7" r="2.7" fill="#2040d0"/>
<circle cx="485.2" cy="265.2" r="1.8" fill="#2040d0"/>
<circle cx="484.4" cy="262.1" r="2.3" fill="#0818a0"/>
<circle cx="479.4" cy="259.7" r="2.1" fill="#1828b0"/>
<ellipse cx="470.5" cy="266" rx="4.1" ry="6.0" fill="#e6f2b0"/>
<circle cx="468.4" cy="272.9" r="1.6" fill="#78d8c8"/>
<circle cx="471.8" cy="271.4" r="2.6" fill="#80d070"/>
<circle cx="467.1" cy="268.4" r="1.8" fill="#c8d838"/>
<circle cx="470.8" cy="267.7" r="2.3" fill="#e6f2b0"/>
<circle cx="467.4" cy="261.0" r="1.8" fill="#a8a040"/>
<circle cx="472.4" cy="265.0" r="1.9" fill="#80d070"/>
<circle cx="471.9" cy="261.7" r="2.1" fill="#a8a040"/>
<circle cx="469.0" cy="272.0" r="2.1" fill="#78d8c8"/>
<circle cx="474.5" cy="265.9" r="1.4" fill="#78d8c8"/>
<circle cx="468.4" cy="271.3" r="1.5" fill="#ffffff"/>
<circle cx="473.1" cy="260.4" r="2.5" fill="#e8f060"/>
<circle cx="468.9" cy="273.3" r="2.6" fill="#e8f060"/>
<circle cx="474.2" cy="263.7" r="2.6" fill="#a8a040"/>
<circle cx="470.3" cy="270.2" r="2.6" fill="#e8f060"/>
<circle cx="468.7" cy="258.6" r="1.7" fill="#e8f060"/>
<circle cx="470.1" cy="259.0" r="1.6" fill="#78d8c8"/>
<circle cx="469.2" cy="260.2" r="2.0" fill="#e6f2b0"/>
<circle cx="474.0" cy="262.1" r="2.2" fill="#c8d838"/>
<circle cx="472.0" cy="272.8" r="1.4" fill="#ffffff"/>
<circle cx="473.8" cy="259.7" r="2.4" fill="#c8d838"/>
<circle cx="470.8" cy="263.4" r="2.7" fill="#c8d838"/>
<circle cx="472.6" cy="260.9" r="1.7" fill="#c8d838"/>
<circle cx="454.8" cy="271.0" r="2.5" fill="#88dcec"/>
<circle cx="452.7" cy="280.6" r="2.3" fill="#88dcec"/>
<circle cx="453.7" cy="284.7" r="2.6" fill="#70e4e4"/>
<circle cx="456.6" cy="258.2" r="2.3" fill="#50c0ec"/>
<circle cx="455.5" cy="261.0" r="2.5" fill="#88dcec"/>
<circle cx="453.2" cy="264.2" r="1.9" fill="#88dcec"/>
<circle cx="444.9" cy="264.0" r="2.4" fill="#50c0ec"/>
<circle cx="457.8" cy="265.9" r="2.7" fill="#88dcec"/>
<circle cx="449.7" cy="281.4" r="1.5" fill="#ffffff"/>
<circle cx="457.0" cy="279.0" r="1.7" fill="#4090e0"/>
<circle cx="442.4" cy="270.5" r="1.7" fill="#88dcec"/>
<circle cx="453.4" cy="268.6" r="2.5" fill="#b0ecc8"/>
<circle cx="444.7" cy="264.6" r="1.5" fill="#4090e0"/>
<circle cx="445.3" cy="269.4" r="2.3" fill="#50c0ec"/>
<circle cx="449.5" cy="270.0" r="2.6" fill="#4090e0"/>
<circle cx="444.0" cy="274.5" r="1.6" fill="#88dcec"/>
<circle cx="464.5" cy="276.1" r="2.6" fill="#b0ecc8"/>
<circle cx="467.2" cy="270.8" r="2.7" fill="#50c0ec"/>
<circle cx="450.7" cy="264.2" r="1.8" fill="#b0ecc8"/>
<circle cx="459.5" cy="284.5" r="2.2" fill="#ffffff"/>
<circle cx="442.7" cy="266.7" r="1.6" fill="#b0ecc8"/>
<circle cx="461.8" cy="269.5" r="1.6" fill="#b0ecc8"/>
<circle cx="444.1" cy="269.5" r="1.8" fill="#50c0ec"/>
<circle cx="458.3" cy="278.4" r="2.5" fill="#70e4e4"/>
<circle cx="448.1" cy="277.3" r="1.7" fill="#50c0ec"/>
<circle cx="462.8" cy="282.5" r="1.8" fill="#ffffff"/>
<circle cx="459.7" cy="262.0" r="1.6" fill="#50c0ec"/>
<circle cx="462.7" cy="265.9" r="2.7" fill="#ffffff"/>
<circle cx="460.8" cy="275.5" r="2.3" fill="#88dcec"/>
<circle cx="454.7" cy="259.9" r="2.7" fill="#ffffff"/>
<circle cx="451.6" cy="271.9" r="2.1" fill="#50c0ec"/>
<circle cx="443.8" cy="278.8" r="2.1" fill="#ffffff"/>
<circle cx="453.5" cy="260.2" r="2.6" fill="#50c0ec"/>
<circle cx="456.5" cy="271.7" r="1.7" fill="#b0ecc8"/>
<circle cx="454.3" cy="270.6" r="2.0" fill="#b0ecc8"/>
<circle cx="459.4" cy="271.2" r="2.1" fill="#4090e0"/>
<circle cx="459.0" cy="284.2" r="2.3" fill="#70e4e4"/>
<circle cx="449.9" cy="283.6" r="2.4" fill="#ffffff"/>
<circle cx="462.1" cy="267.7" r="2.1" fill="#4090e0"/>
<circle cx="458.7" cy="265.6" r="2.3" fill="#88dcec"/>
<circle cx="461.1" cy="266.3" r="2.2" fill="#ffffff"/>
<circle cx="449.9" cy="265.0" r="2.3" fill="#88dcec"/>
<circle cx="451.3" cy="271.8" r="2.0" fill="#4090e0"/>
<circle cx="448.6" cy="264.6" r="1.9" fill="#ffffff"/>
<circle cx="454.2" cy="266.3" r="1.7" fill="#88dcec"/>
<circle cx="461.5" cy="268.4" r="1.4" fill="#70e4e4"/>
<circle cx="458.8" cy="280.5" r="1.8" fill="#50c0ec"/>
<circle cx="457.4" cy="269.8" r="1.4" fill="#50c0ec"/>
<circle cx="460.3" cy="284.3" r="1.6" fill="#50c0ec"/>
<circle cx="454.6" cy="264.1" r="2.1" fill="#ffffff"/>
<circle cx="449.9" cy="260.2" r="1.8" fill="#ffffff"/>
<circle cx="443.3" cy="275.7" r="2.0" fill="#4090e0"/>
<circle cx="449.7" cy="267.6" r="2.2" fill="#88dcec"/>
<circle cx="447.4" cy="275.5" r="1.4" fill="#88dcec"/>
<circle cx="453.5" cy="269.6" r="2.0" fill="#50c0ec"/>
<circle cx="444.1" cy="269.9" r="1.7" fill="#50c0ec"/>
<circle cx="467.1" cy="264.5" r="1.8" fill="#b0ecc8"/>
<circle cx="442.3" cy="273.7" r="1.6" fill="#70e4e4"/>
<circle cx="444.6" cy="262.7" r="1.6" fill="#70e4e4"/>
<circle cx="464.5" cy="273.5" r="2.1" fill="#88dcec"/>
<circle cx="453.2" cy="270.5" r="1.6" fill="#50c0ec"/>
<circle cx="451.2" cy="277.8" r="2.7" fill="#88dcec"/>
<circle cx="452.8" cy="275.3" r="1.6" fill="#b0ecc8"/>
<circle cx="448.9" cy="283.5" r="1.6" fill="#ffffff"/>
<circle cx="461.7" cy="264.9" r="1.5" fill="#50c0ec"/>
<circle cx="463.3" cy="265.7" r="1.4" fill="#ffffff"/>
<circle cx="443.6" cy="277.0" r="1.8" fill="#b0ecc8"/>
<circle cx="450.2" cy="280.4" r="2.7" fill="#50c0ec"/>
<circle cx="463.2" cy="262.0" r="2.3" fill="#b0ecc8"/>
<circle cx="453.4" cy="265.3" r="2.3" fill="#70e4e4"/>
<circle cx="447.2" cy="258.9" r="1.7" fill="#ffffff"/>
<circle cx="462.1" cy="277.1" r="2.5" fill="#ffffff"/>
<circle cx="455.9" cy="267.6" r="1.4" fill="#b0ecc8"/>
<circle cx="449.7" cy="279.3" r="1.6" fill="#88dcec"/>
<circle cx="449.6" cy="284.0" r="1.4" fill="#50c0ec"/>
<circle cx="463.2" cy="266.2" r="2.4" fill="#88dcec"/>
<circle cx="464.3" cy="278.8" r="2.0" fill="#b0ecc8"/>
<circle cx="445.5" cy="268.7" r="1.8" fill="#b0ecc8"/>
<circle cx="454.6" cy="278.1" r="2.4" fill="#50c0ec"/>
<circle cx="457.4" cy="262.3" r="2.3" fill="#70e4e4"/>
<circle cx="461.8" cy="259.2" r="2.6" fill="#70e4e4"/>
<circle cx="466.0" cy="273.1" r="2.4" fill="#50c0ec"/>
<circle cx="466.0" cy="273.2" r="2.7" fill="#ffffff"/>
<circle cx="452.3" cy="257.3" r="2.0" fill="#b0ecc8"/>
<circle cx="465.6" cy="277.6" r="1.7" fill="#70e4e4"/>
<circle cx="453.9" cy="285.2" r="2.4" fill="#4090e0"/>
<circle cx="453.8" cy="285.4" r="2.2" fill="#ffffff"/>
<circle cx="462.6" cy="267.4" r="2.2" fill="#b0ecc8"/>
<circle cx="459.2" cy="265.8" r="2.2" fill="#50c0ec"/>
<circle cx="451.3" cy="279.5" r="2.0" fill="#ffffff"/>
<circle cx="461.8" cy="259.1" r="1.7" fill="#50c0ec"/>
<circle cx="466.1" cy="271.7" r="2.2" fill="#4090e0"/>
<circle cx="465.9" cy="267.6" r="2.7" fill="#70e4e4"/>
<circle cx="453.5" cy="284.2" r="1.7" fill="#4090e0"/>
<circle cx="452.8" cy="267.0" r="1.8" fill="#70e4e4"/>
<circle cx="446.7" cy="276.0" r="1.6" fill="#88dcec"/>
<circle cx="463.1" cy="272.8" r="2.2" fill="#50c0ec"/>
<ellipse cx="451" cy="268" rx="2.6" ry="1.9" fill="#2850d8"/>
<circle cx="453.0" cy="269.3" r="1.6" fill="#4088f0"/>
<circle cx="452.0" cy="267.7" r="2.2" fill="#2850d8"/>
<circle cx="452.4" cy="266.9" r="1.5" fill="#2850d8"/>
<circle cx="449.8" cy="266.8" r="2.4" fill="#1030b8"/>
<circle cx="452.0" cy="266.5" r="2.2" fill="#2850d8"/>
<circle cx="451.4" cy="268.4" r="2.3" fill="#4088f0"/>
<ellipse cx="452" cy="277" rx="3.4" ry="2.2" fill="#2850d8"/>
<circle cx="453.6" cy="276.5" r="2.1" fill="#4088f0"/>
<circle cx="453.0" cy="276.4" r="2.6" fill="#4088f0"/>
<circle cx="452.9" cy="274.1" r="2.2" fill="#4088f0"/>
<circle cx="455.1" cy="276.9" r="1.7" fill="#1030b8"/>
<circle cx="448.5" cy="275.6" r="2.1" fill="#1840e0"/>
<circle cx="449.0" cy="275.7" r="1.9" fill="#1840e0"/>
<circle cx="450.3" cy="278.7" r="2.1" fill="#1030b8"/>
<circle cx="447.9" cy="277.5" r="2.3" fill="#2850d8"/>
<circle cx="455.1" cy="275.9" r="1.8" fill="#1030b8"/>
<ellipse cx="462.5" cy="284" rx="2.2" ry="2.2" fill="#2850d8"/>
<circle cx="465.1" cy="285.1" r="1.6" fill="#4088f0"/>
<circle cx="463.8" cy="286.6" r="2.5" fill="#2850d8"/>
<circle cx="465.0" cy="285.5" r="2.2" fill="#1840e0"/>
<circle cx="461.4" cy="284.0" r="2.6" fill="#4088f0"/>
<circle cx="464.9" cy="284.4" r="2.1" fill="#1030b8"/>
<circle cx="461.6" cy="283.6" r="1.9" fill="#1030b8"/>
<circle cx="463.9" cy="284.9" r="1.7" fill="#2850d8"/>
<circle cx="400.2" cy="114.6" r="1.6" fill="#70e4e4"/>
<circle cx="401.1" cy="107.6" r="2.2" fill="#50c0ec"/>
<circle cx="398.8" cy="111.8" r="2.6" fill="#4090e0"/>
<circle cx="395.7" cy="116.6" r="2.3" fill="#ffffff"/>
<circle cx="398.4" cy="116.9" r="1.5" fill="#70e4e4"/>
<circle cx="399.4" cy="114.4" r="2.3" fill="#b0ecc8"/>
<circle cx="398.8" cy="105.2" r="2.3" fill="#b0ecc8"/>
<circle cx="397.5" cy="117.2" r="2.0" fill="#50c0ec"/>
<circle cx="398.9" cy="108.2" r="2.4" fill="#ffffff"/>
<circle cx="395.2" cy="115.8" r="2.6" fill="#b0ecc8"/>
<circle cx="400.4" cy="117.0" r="2.6" fill="#4090e0"/>
<circle cx="403.4" cy="109.8" r="2.7" fill="#b0ecc8"/>
<circle cx="396.3" cy="111.5" r="2.2" fill="#70e4e4"/>
<circle cx="393.0" cy="113.0" r="2.0" fill="#88dcec"/>
<circle cx="399.7" cy="112.1" r="1.4" fill="#4090e0"/>
<circle cx="394.3" cy="115.1" r="1.5" fill="#88dcec"/>
<circle cx="399.8" cy="114.1" r="2.4" fill="#b0ecc8"/>
<circle cx="402.2" cy="112.2" r="1.5" fill="#88dcec"/>
<circle cx="401.8" cy="109.5" r="2.4" fill="#88dcec"/>
<circle cx="393.5" cy="106.8" r="2.1" fill="#70e4e4"/>
<circle cx="396.6" cy="111.1" r="2.5" fill="#4090e0"/>
<circle cx="395.3" cy="105.7" r="1.5" fill="#88dcec"/>
<circle cx="393.2" cy="111.2" r="2.7" fill="#b0ecc8"/>
<circle cx="392.8" cy="112.9" r="2.4" fill="#70e4e4"/>
<circle cx="399.0" cy="112.4" r="1.6" fill="#ffffff"/>
<circle cx="401.5" cy="111.5" r="2.1" fill="#d8f6f8"/>
<circle cx="396.8" cy="110.0" r="1.4" fill="#b8d498"/>
<circle cx="398.1" cy="115.5" r="1.6" fill="#b8d498"/>
<circle cx="396.5" cy="115.8" r="2.3" fill="#ffffff"/>
<circle cx="398.2" cy="114.0" r="1.8" fill="#d8f6f8"/>
<circle cx="397.2" cy="115.8" r="1.8" fill="#d8f6f8"/>
<circle cx="399.3" cy="110.4" r="2.3" fill="#d8f6f8"/>
<circle cx="399.0" cy="110.3" r="2.5" fill="#ffffff"/>
<circle cx="394.2" cy="110.6" r="1.8" fill="#d8f6f8"/>
<circle cx="402.3" cy="111.0" r="2.3" fill="#a8dce4"/>
<circle cx="399.9" cy="114.1" r="1.7" fill="#d8f6f8"/></g>
</g>
<polyline points="78.2,68.3 77.0,72.5 78.2,74.8 77.6,78.4 75.2,81.3 74.0,84.3 74.0,89.0 74.6,93.7 75.2,99.5 74.9,103.0 75.5,106.6 76.7,110.1 79.0,113.1 82.0,114.2 84.3,116.0 86.1,119.5 87.9,121.3 93.0,124.5 93.8,130.2 95.0,134.9 97.3,139.5 102.2,149.5 108.0,157.5 114.6,167.2 119.9,174.3 118.1,177.8 118.1,180.5 121.6,179.5 127.0,183.1 134.1,192.0 133.2,195.5 135.8,199.1 139.4,202.5 142.9,209.5 147.0,213.5" fill="none" stroke="#9a9a9a" stroke-width="0.8"/>
<polyline points="81.7,67.8 80.5,72.0 81.7,74.3 81.1,77.9 78.7,80.8 77.5,83.8 77.5,88.5 78.1,93.2 78.7,99.0 78.4,102.5 79.0,106.1 80.2,109.6 82.5,112.6 85.5,113.7 87.8,115.5 89.6,119.0 91.4,120.8 96.5,124.0 97.3,129.7 98.5,134.4 100.8,139.0 105.7,149.0 111.5,157.0 118.1,166.7 123.4,173.8 121.6,177.3 121.6,180.0 125.1,179.0 130.5,182.6 137.6,191.5 136.7,195.0 139.3,198.6 142.9,202.0 146.4,209.0 150.5,213.0" fill="none" stroke="#b4b4b4" stroke-width="0.75"/>
<polyline points="100.8,129.2 102.0,133.9 104.3,138.5 109.2,148.5 115.0,156.5 121.6,166.2 126.9,173.3 125.1,176.8 125.1,179.5 128.6,178.5 134.0,182.1 141.1,191.0 140.2,194.5 142.8,198.1 146.4,201.5" fill="none" stroke="#c4c4c4" stroke-width="0.7"/>
<polyline points="82.3,116.0 84.1,119.5 85.9,121.3 91.0,124.5 91.8,130.2 93.0,134.9 95.3,139.5 100.2,149.5 106.0,157.5 112.6,167.2 117.9,174.3 116.1,177.8 116.1,180.5 119.6,179.5 125.0,183.1 132.1,192.0 131.2,195.5 133.8,199.1 137.4,202.5 140.9,209.5 145.0,213.5" fill="none" stroke="#e890b8" stroke-width="0.8"/>
<polyline points="166.0,226.5 172.0,230.0 173.5,236.0 170.0,242.0 163.5,245.5 156.8,248.5 154.5,256.5 155.5,264.0 156.8,270.0 161.2,278.7 165.5,283.0 170.0,282.0 172.3,285.3 172.3,294.0 175.5,300.8 176.5,303.2" fill="none" stroke="#c0c0c0" stroke-width="0.7"/>
<polyline points="174.5,302.2 176.5,290.0 181.2,285.0 188.3,280.4 193.0,275.6 196.5,275.0 200.0,274.1 205.3,274.1 207.1,271.5 210.7,270.6 213.3,268.8 214.2,264.4 215.1,255.5 215.1,249.4 216.0,244.0" fill="none" stroke="#c0c0c0" stroke-width="0.7"/>
<polyline points="74.2,68.8 73.0,73.0 74.2,75.3 73.6,78.9 71.2,81.8 70.0,84.8 70.0,89.5 70.6,94.2 71.2,100.0 70.9,103.5 71.5,107.1 72.7,110.6 75.0,113.6 78.0,114.7 80.3,116.5 82.1,120.0 83.9,121.8 89.0,125.0 89.8,130.7 91.0,135.4 93.3,140.0 98.2,150.0 104.0,158.0 110.6,167.7 115.9,174.8 114.1,178.3 114.1,181.0 117.6,180.0 123.0,183.6 130.1,192.5 129.2,196.0 131.8,199.6 135.4,203.0 138.9,210.0 143.0,214.0 146.0,228.0 148.0,242.0 150.0,243.5 153.5,242.5 153.0,226.0 154.5,222.5 162.5,226.5 168.5,230.0 170.0,236.0 166.5,242.0 160.0,245.5 153.3,248.5 151.0,256.5 152.0,264.0 153.3,270.0 157.7,278.7 162.0,283.0 166.5,282.0 168.8,285.3 168.8,294.0 172.0,300.8 173.0,303.2" fill="none" stroke="#2a2a2a" stroke-width="1.15" stroke-linejoin="round"/>
<polyline points="178.0,303.2 180.0,291.0 184.7,286.0 191.8,281.4 196.5,276.6 200.0,276.0 203.5,275.1 208.8,275.1 210.6,272.5 214.2,271.6 216.8,269.8 217.7,265.4 218.6,256.5 218.6,250.4 219.5,245.0 228.0,244.5" fill="none" stroke="#2a2a2a" stroke-width="1.15" stroke-linejoin="round"/>
<polygon points="211.5,251.0 214.0,249.5 217.5,250.5 217.7,254.5 214.0,255.7 211.5,254.0" fill="none" stroke="#1a1a1a" stroke-width="1.1"/>
<polygon points="80.0,123.0 84.0,122.3 89.5,124.8 90.0,126.3 86.0,126.5 81.0,124.8" fill="#3a4a40" stroke="#333" stroke-width="0.6"/>
<path d="M228,244.5 L254,243" fill="none" stroke="#909090" stroke-width="0.8"/>
<path d="M79.5,66 Q81,62 86,61.5" fill="none" stroke="#b8b8b8" stroke-width="0.8"/>
<polyline points="360.6,68.3 359.4,72.5 360.6,74.8 360.0,78.4 357.6,81.3 356.4,84.3 356.4,89.0 357.0,93.7 357.6,99.5 357.3,103.0 357.9,106.6 359.1,110.1 361.4,113.1 364.4,114.2 366.7,116.0 368.5,119.5 370.3,121.3 375.4,124.5 376.2,130.2 377.4,134.9 379.7,139.5 384.6,149.5 390.4,157.5 397.0,167.2 402.3,174.3 400.5,177.8 400.5,180.5 404.0,179.5 409.4,183.1 416.5,192.0 415.6,195.5 418.2,199.1 421.8,202.5 425.3,209.5 429.4,213.5" fill="none" stroke="#9a9a9a" stroke-width="0.8"/>
<polyline points="364.1,67.8 362.9,72.0 364.1,74.3 363.5,77.9 361.1,80.8 359.9,83.8 359.9,88.5 360.5,93.2 361.1,99.0 360.8,102.5 361.4,106.1 362.6,109.6 364.9,112.6 367.9,113.7 370.2,115.5 372.0,119.0 373.8,120.8 378.9,124.0 379.7,129.7 380.9,134.4 383.2,139.0 388.1,149.0 393.9,157.0 400.5,166.7 405.8,173.8 404.0,177.3 404.0,180.0 407.5,179.0 412.9,182.6 420.0,191.5 419.1,195.0 421.7,198.6 425.3,202.0 428.8,209.0 432.9,213.0" fill="none" stroke="#b4b4b4" stroke-width="0.75"/>
<polyline points="383.2,129.2 384.4,133.9 386.7,138.5 391.6,148.5 397.4,156.5 404.0,166.2 409.3,173.3 407.5,176.8 407.5,179.5 411.0,178.5 416.4,182.1 423.5,191.0 422.6,194.5 425.2,198.1 428.8,201.5" fill="none" stroke="#c4c4c4" stroke-width="0.7"/>
<polyline points="364.7,116.0 366.5,119.5 368.3,121.3 373.4,124.5 374.2,130.2 375.4,134.9 377.7,139.5 382.6,149.5 388.4,157.5 395.0,167.2 400.3,174.3 398.5,177.8 398.5,180.5 402.0,179.5 407.4,183.1 414.5,192.0 413.6,195.5 416.2,199.1 419.8,202.5 423.3,209.5 427.4,213.5" fill="none" stroke="#888888" stroke-width="0.8"/>
<polyline points="448.4,226.5 454.4,230.0 455.9,236.0 452.4,242.0 445.9,245.5 439.2,248.5 436.9,256.5 437.9,264.0 439.2,270.0 443.6,278.7 447.9,283.0 452.4,282.0 454.7,285.3 454.7,294.0 457.9,300.8 458.9,303.2" fill="none" stroke="#c0c0c0" stroke-width="0.7"/>
<polyline points="456.9,302.2 458.9,290.0 463.6,285.0 470.7,280.4 475.4,275.6 478.9,275.0 482.4,274.1 487.7,274.1 489.5,271.5 493.1,270.6 495.7,268.8 496.6,264.4 497.5,255.5 497.5,249.4 498.4,244.0" fill="none" stroke="#c0c0c0" stroke-width="0.7"/>
<polyline points="356.6,68.8 355.4,73.0 356.6,75.3 356.0,78.9 353.6,81.8 352.4,84.8 352.4,89.5 353.0,94.2 353.6,100.0 353.3,103.5 353.9,107.1 355.1,110.6 357.4,113.6 360.4,114.7 362.7,116.5 364.5,120.0 366.3,121.8 371.4,125.0 372.2,130.7 373.4,135.4 375.7,140.0 380.6,150.0 386.4,158.0 393.0,167.7 398.3,174.8 396.5,178.3 396.5,181.0 400.0,180.0 405.4,183.6 412.5,192.5 411.6,196.0 414.2,199.6 417.8,203.0 421.3,210.0 425.4,214.0 428.4,228.0 430.4,242.0 432.4,243.5 435.9,242.5 435.4,226.0 436.9,222.5 444.9,226.5 450.9,230.0 452.4,236.0 448.9,242.0 442.4,245.5 435.7,248.5 433.4,256.5 434.4,264.0 435.7,270.0 440.1,278.7 444.4,283.0 448.9,282.0 451.2,285.3 451.2,294.0 454.4,300.8 455.4,303.2" fill="none" stroke="#2a2a2a" stroke-width="1.15" stroke-linejoin="round"/>
<polyline points="460.4,303.2 462.4,291.0 467.1,286.0 474.2,281.4 478.9,276.6 482.4,276.0 485.9,275.1 491.2,275.1 493.0,272.5 496.6,271.6 499.2,269.8 500.1,265.4 501.0,256.5 501.0,250.4 501.9,245.0 510.4,244.5" fill="none" stroke="#2a2a2a" stroke-width="1.15" stroke-linejoin="round"/>
<polygon points="493.9,251.0 496.4,249.5 499.9,250.5 500.1,254.5 496.4,255.7 493.9,254.0" fill="none" stroke="#1a1a1a" stroke-width="1.1"/>
<polygon points="362.4,123.0 366.4,122.3 371.9,124.8 372.4,126.3 368.4,126.5 363.4,124.8" fill="#3a4a40" stroke="#333" stroke-width="0.6"/>
<path d="M510.4,244.5 L536.4,243" fill="none" stroke="#909090" stroke-width="0.8"/>
<path d="M361.9,66 Q363.4,62 368.4,61.5" fill="none" stroke="#b8b8b8" stroke-width="0.8"/>
<path d="M30.7,19.8 V303.2 H256.4" fill="none" stroke="#8a8a8a" stroke-width="1.1"/>
<path d="M30.7,19.80 h3" stroke="#8a8a8a" stroke-width="1"/>
<text transform="translate(27.40 23.20) scale(1 1.2)" text-anchor="end">22.8</text>
<path d="M30.7,60.29 h3" stroke="#8a8a8a" stroke-width="1"/>
<text transform="translate(27.40 63.69) scale(1 1.2)" text-anchor="end">22.75</text>
<path d="M30.7,100.77 h3" stroke="#8a8a8a" stroke-width="1"/>
<text transform="translate(27.40 104.17) scale(1 1.2)" text-anchor="end">22.7</text>
<path d="M30.7,141.26 h3" stroke="#8a8a8a" stroke-width="1"/>
<text transform="translate(27.40 144.66) scale(1 1.2)" text-anchor="end">22.65</text>
<path d="M30.7,181.74 h3" stroke="#8a8a8a" stroke-width="1"/>
<text transform="translate(27.40 185.14) scale(1 1.2)" text-anchor="end">22.6</text>
<path d="M30.7,222.23 h3" stroke="#8a8a8a" stroke-width="1"/>
<text transform="translate(27.40 225.63) scale(1 1.2)" text-anchor="end">22.55</text>
<path d="M30.7,262.71 h3" stroke="#8a8a8a" stroke-width="1"/>
<text transform="translate(27.40 266.11) scale(1 1.2)" text-anchor="end">22.5</text>
<path d="M30.7,303.20 h3" stroke="#8a8a8a" stroke-width="1"/>
<text transform="translate(27.40 306.60) scale(1 1.2)" text-anchor="end">22.45</text>
<path d="M30.70,303.2 v-3" stroke="#8a8a8a" stroke-width="1"/>
<text transform="translate(30.70 315.80) scale(1 1.2)" text-anchor="middle">113.7</text>
<path d="M68.32,303.2 v-3" stroke="#8a8a8a" stroke-width="1"/>
<text transform="translate(68.32 315.80) scale(1 1.2)" text-anchor="middle">113.75</text>
<path d="M105.93,303.2 v-3" stroke="#8a8a8a" stroke-width="1"/>
<text transform="translate(105.93 315.80) scale(1 1.2)" text-anchor="middle">113.8</text>
<path d="M143.55,303.2 v-3" stroke="#8a8a8a" stroke-width="1"/>
<text transform="translate(143.55 315.80) scale(1 1.2)" text-anchor="middle">113.85</text>
<path d="M181.17,303.2 v-3" stroke="#8a8a8a" stroke-width="1"/>
<text transform="translate(181.17 315.80) scale(1 1.2)" text-anchor="middle">113.9</text>
<path d="M218.78,303.2 v-3" stroke="#8a8a8a" stroke-width="1"/>
<text transform="translate(218.78 315.80) scale(1 1.2)" text-anchor="middle">113.95</text>
<path d="M256.40,303.2 v-3" stroke="#8a8a8a" stroke-width="1"/>
<text transform="translate(256.40 315.80) scale(1 1.2)" text-anchor="middle">114</text>
<text transform="translate(144.55 12.90) scale(1 1.2)" text-anchor="middle">(a) T025 Gi*</text>
<linearGradient id="cb0"><stop offset="0" stop-color="#5a1200"/><stop offset="0.12" stop-color="#7a2a00"/><stop offset="0.25" stop-color="#8a6a00"/><stop offset="0.38" stop-color="#c8e000"/><stop offset="0.5" stop-color="#a8f0a0"/><stop offset="0.6" stop-color="#a0e0f0"/><stop offset="0.75" stop-color="#5070e8"/><stop offset="0.88" stop-color="#2020c0"/><stop offset="1" stop-color="#000080"/></linearGradient>
<rect x="57.5" y="318.3" width="170.90" height="4.4" fill="url(#cb0)"/>
<text transform="translate(57.50 334.80) scale(1 1.2)" text-anchor="middle">-21.5</text>
<text transform="translate(228.40 334.80) scale(1 1.2)" text-anchor="middle">21.5</text>
<text transform="translate(142.95 330.80) scale(1 1.2)" text-anchor="middle">(Gi* value)</text>
<path d="M44.0,262 V285.5" stroke="#666" stroke-width="0.9"/>
<path d="M44.0,255.3 L46.4,262.8 L41.7,262.8 Z" fill="#111"/>
<text transform="translate(45.40 274.60) scale(1 1.2)" font-size="9.2">N</text>
<text transform="translate(45.60 285.60) scale(1 1.2)" font-size="9.2">5 km</text>
<path d="M45.6,287.6 H82.1" stroke="#111" stroke-width="1.8"/>
<path d="M313.1,19.8 V303.2 H538.8" fill="none" stroke="#8a8a8a" stroke-width="1.1"/>
<path d="M313.1,19.80 h3" stroke="#8a8a8a" stroke-width="1"/>
<text transform="translate(309.80 23.20) scale(1 1.2)" text-anchor="end">22.8</text>
<path d="M313.1,60.29 h3" stroke="#8a8a8a" stroke-width="1"/>
<text transform="translate(309.80 63.69) scale(1 1.2)" text-anchor="end">22.75</text>
<path d="M313.1,100.77 h3" stroke="#8a8a8a" stroke-width="1"/>
<text transform="translate(309.80 104.17) scale(1 1.2)" text-anchor="end">22.7</text>
<path d="M313.1,141.26 h3" stroke="#8a8a8a" stroke-width="1"/>
<text transform="translate(309.80 144.66) scale(1 1.2)" text-anchor="end">22.65</text>
<path d="M313.1,181.74 h3" stroke="#8a8a8a" stroke-width="1"/>
<text transform="translate(309.80 185.14) scale(1 1.2)" text-anchor="end">22.6</text>
<path d="M313.1,222.23 h3" stroke="#8a8a8a" stroke-width="1"/>
<text transform="translate(309.80 225.63) scale(1 1.2)" text-anchor="end">22.55</text>
<path d="M313.1,262.71 h3" stroke="#8a8a8a" stroke-width="1"/>
<text transform="translate(309.80 266.11) scale(1 1.2)" text-anchor="end">22.5</text>
<path d="M313.1,303.20 h3" stroke="#8a8a8a" stroke-width="1"/>
<text transform="translate(309.80 306.60) scale(1 1.2)" text-anchor="end">22.45</text>
<path d="M313.10,303.2 v-3" stroke="#8a8a8a" stroke-width="1"/>
<text transform="translate(313.10 315.80) scale(1 1.2)" text-anchor="middle">113.7</text>
<path d="M350.72,303.2 v-3" stroke="#8a8a8a" stroke-width="1"/>
<text transform="translate(350.72 315.80) scale(1 1.2)" text-anchor="middle">113.75</text>
<path d="M388.33,303.2 v-3" stroke="#8a8a8a" stroke-width="1"/>
<text transform="translate(388.33 315.80) scale(1 1.2)" text-anchor="middle">113.8</text>
<path d="M425.95,303.2 v-3" stroke="#8a8a8a" stroke-width="1"/>
<text transform="translate(425.95 315.80) scale(1 1.2)" text-anchor="middle">113.85</text>
<path d="M463.57,303.2 v-3" stroke="#8a8a8a" stroke-width="1"/>
<text transform="translate(463.57 315.80) scale(1 1.2)" text-anchor="middle">113.9</text>
<path d="M501.18,303.2 v-3" stroke="#8a8a8a" stroke-width="1"/>
<text transform="translate(501.18 315.80) scale(1 1.2)" text-anchor="middle">113.95</text>
<path d="M538.80,303.2 v-3" stroke="#8a8a8a" stroke-width="1"/>
<text transform="translate(538.80 315.80) scale(1 1.2)" text-anchor="middle">114</text>
<text transform="translate(426.95 12.90) scale(1 1.2)" text-anchor="middle">(b) T025 Hotspot</text>
<linearGradient id="cb1"><stop offset="0" stop-color="#3a1a00"/><stop offset="0.15" stop-color="#6a2000"/><stop offset="0.28" stop-color="#a05000"/><stop offset="0.4" stop-color="#e0e800"/><stop offset="0.5" stop-color="#a0e840"/><stop offset="0.6" stop-color="#60c8b0"/><stop offset="0.75" stop-color="#4060e0"/><stop offset="0.88" stop-color="#2020c0"/><stop offset="1" stop-color="#000080"/></linearGradient>
<rect x="341.0" y="318.3" width="170.20" height="4.4" fill="url(#cb1)"/>
<text transform="translate(341.00 334.80) scale(1 1.2)" text-anchor="middle">-464.1</text>
<text transform="translate(511.20 334.80) scale(1 1.2)" text-anchor="middle">464.1</text>
<text transform="translate(426.10 330.80) scale(1 1.2)" text-anchor="middle">(Kernel density)</text>
<path d="M326.40000000000003,262 V285.5" stroke="#666" stroke-width="0.9"/>
<path d="M326.40000000000003,255.3 L328.8,262.8 L324.1,262.8 Z" fill="#111"/>
<text transform="translate(327.80 274.60) scale(1 1.2)" font-size="9.2">N</text>
<text transform="translate(328.00 285.60) scale(1 1.2)" font-size="9.2">5 km</text>
<path d="M328.00000000000006,287.6 H364.5" stroke="#111" stroke-width="1.8"/>
<rect x="36.8" y="164.2" width="64.9" height="79.6" fill="none" stroke="#6a5a60" stroke-width="0.9"/>
<path d="M42.7,172.00 H72.2" stroke="#d8d8d8" stroke-width="1.2"/>
<text transform="translate(75.40 175.40) scale(1 1.2)">1979</text>
<path d="M42.7,184.82 H72.2" stroke="#b8b8b8" stroke-width="1.2"/>
<text transform="translate(75.40 188.22) scale(1 1.2)">1991</text>
<path d="M42.7,197.64 H72.2" stroke="#f0a8c8" stroke-width="1.2"/>
<text transform="translate(75.40 201.04) scale(1 1.2)">2000</text>
<path d="M42.7,210.46 H72.2" stroke="#a8a8a8" stroke-width="1.2"/>
<text transform="translate(75.40 213.86) scale(1 1.2)">2005</text>
<path d="M42.7,223.28 H72.2" stroke="#808080" stroke-width="1.2"/>
<text transform="translate(75.40 226.68) scale(1 1.2)">2010</text>
<path d="M42.7,236.10 H72.2" stroke="#303030" stroke-width="1.2"/>
<text transform="translate(75.40 239.50) scale(1 1.2)">2015</text>
</svg>
</body></html>
